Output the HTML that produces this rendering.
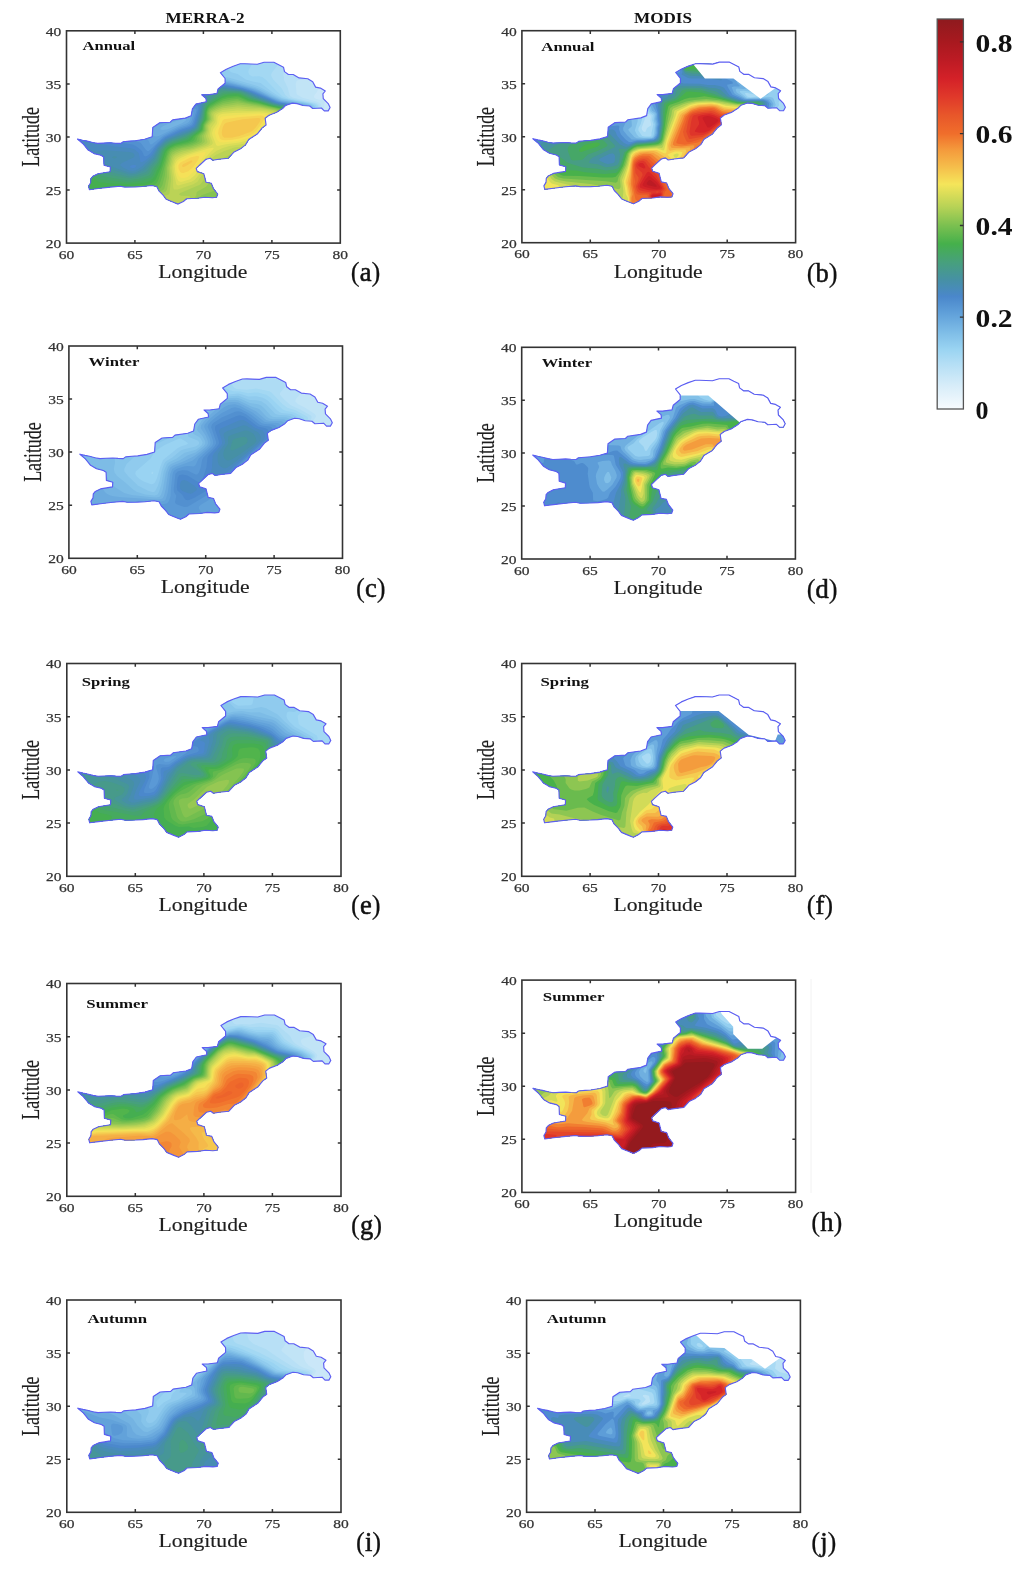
<!DOCTYPE html>
<html><head><meta charset="utf-8"><style>
html,body{margin:0;padding:0;background:#fff;width:1030px;height:1576px;overflow:hidden}
svg{display:block;filter:blur(0.45px)}
text{font-family:"Liberation Serif",serif;fill:#222}
.tl text{font-size:13.5px;fill:#333;stroke:#333;stroke-width:0.25px}
.ax{font-size:18.4px;fill:#1e1e1e;stroke:#1e1e1e;stroke-width:0.15px}
.pl{font-size:26.5px;fill:#111;stroke:#111;stroke-width:0.2px}
.pll{stroke:#111;stroke-width:0.55px}
.sn{font-size:12.8px;font-weight:bold;fill:#111}
.ttl{font-size:14px;font-weight:bold;fill:#111}
.cbt{font-size:25px;font-weight:bold;fill:#111}
</style></head><body>
<svg width="1030" height="1576" viewBox="0 0 1030 1576">
<text class="ttl" x="205" y="22.8" text-anchor="middle" textLength="79" lengthAdjust="spacingAndGlyphs">MERRA-2</text>
<text class="ttl" x="663" y="22.8" text-anchor="middle" textLength="58" lengthAdjust="spacingAndGlyphs">MODIS</text>
<clipPath id="ca"><path d="M77.5 139 L82.6 140.2 L87.1 141.1 L92.6 142.5 L97.6 143.4 L103.6 143.1 L110.4 142.8 L115.6 143.2 L120.9 143.4 L123.2 141.7 L129.6 141.1 L135.3 140.7 L144.6 139.2 L152.2 136.8 L152.8 127.4 L159.7 122.8 L170.2 122.2 L172.6 119.9 L185.4 118.1 L191.2 115.8 L192.4 108.8 L195.9 104.1 L206.4 101.8 L205.9 98.3 L201.7 94.8 L207.6 94.8 L216.9 93.6 L218.1 89 L225.1 83.2 L225.1 78.5 L220.4 72.7 L226.3 69.2 L233.2 66.3 L240.2 63.8 L244.7 63.7 L257.3 64.2 L264.1 62.2 L273.8 62.2 L278.7 64.7 L283.5 67.2 L284.5 71.6 L288.4 74.5 L293.2 74.5 L299.1 77.9 L307.8 78.8 L312.7 81.8 L315.6 87.1 L320.4 88.1 L325.3 91 L322.9 93.9 L323.3 98.7 L328.2 103.6 L330.1 107.5 L328.2 110.9 L324.3 110.9 L321.4 108 L312.7 108.5 L309.7 106 L303 105.5 L297.1 103.6 L292.3 103.1 L285.5 105.5 L282.6 108.5 L276.7 112.3 L269 115.2 L265.1 118.2 L266.1 125 L262.2 127.9 L257.2 134.1 L248.7 139.5 L245.5 144.9 L240.1 149.1 L233.7 152.3 L228.4 158.2 L218.8 159.3 L212.9 160.3 L210.2 158.2 L206 159.3 L199.5 165.2 L196.2 168.4 L197.3 171.6 L203.8 173.7 L204.9 178 L206 182.2 L211.3 183.3 L213.4 188.6 L217.7 194 L216.6 197.2 L212.4 197.7 L204.9 197.2 L197.3 198.3 L186.6 198.8 L183.4 201.5 L178.1 204.1 L172.8 202 L166.3 199.3 L163.1 195.1 L158.9 190.8 L156.7 186.5 L151.6 185.5 L142.6 186.5 L135.3 186.9 L124.9 187.1 L120.3 186.2 L110.4 187.1 L98.1 188.5 L89.4 189.7 L88.5 186.2 L90.6 182.7 L90.9 178.6 L92.9 176.3 L98.1 173.7 L110.1 171.7 L110.4 167 L104 165.2 L103.7 157.1 L101 155.3 L94.1 153.6 L88.2 150.1 L83 143.7Z"/></clipPath>
<g clip-path="url(#ca)">
<path d="M77.5 139 L82.6 140.2 L87.1 141.1 L92.6 142.5 L97.6 143.4 L103.6 143.1 L110.4 142.8 L115.6 143.2 L120.9 143.4 L123.2 141.7 L129.6 141.1 L135.3 140.7 L144.6 139.2 L152.2 136.8 L152.8 127.4 L159.7 122.8 L170.2 122.2 L172.6 119.9 L185.4 118.1 L191.2 115.8 L192.4 108.8 L195.9 104.1 L206.4 101.8 L205.9 98.3 L201.7 94.8 L207.6 94.8 L216.9 93.6 L218.1 89 L225.1 83.2 L225.1 78.5 L220.4 72.7 L226.3 69.2 L233.2 66.3 L240.2 63.8 L244.7 63.7 L257.3 64.2 L264.1 62.2 L273.8 62.2 L278.7 64.7 L283.5 67.2 L284.5 71.6 L288.4 74.5 L293.2 74.5 L299.1 77.9 L307.8 78.8 L312.7 81.8 L315.6 87.1 L320.4 88.1 L325.3 91 L322.9 93.9 L323.3 98.7 L328.2 103.6 L330.1 107.5 L328.2 110.9 L324.3 110.9 L321.4 108 L312.7 108.5 L309.7 106 L303 105.5 L297.1 103.6 L292.3 103.1 L285.5 105.5 L282.6 108.5 L276.7 112.3 L269 115.2 L265.1 118.2 L266.1 125 L262.2 127.9 L257.2 134.1 L248.7 139.5 L245.5 144.9 L240.1 149.1 L233.7 152.3 L228.4 158.2 L218.8 159.3 L212.9 160.3 L210.2 158.2 L206 159.3 L199.5 165.2 L196.2 168.4 L197.3 171.6 L203.8 173.7 L204.9 178 L206 182.2 L211.3 183.3 L213.4 188.6 L217.7 194 L216.6 197.2 L212.4 197.7 L204.9 197.2 L197.3 198.3 L186.6 198.8 L183.4 201.5 L178.1 204.1 L172.8 202 L166.3 199.3 L163.1 195.1 L158.9 190.8 L156.7 186.5 L151.6 185.5 L142.6 186.5 L135.3 186.9 L124.9 187.1 L120.3 186.2 L110.4 187.1 L98.1 188.5 L89.4 189.7 L88.5 186.2 L90.6 182.7 L90.9 178.6 L92.9 176.3 L98.1 173.7 L110.1 171.7 L110.4 167 L104 165.2 L103.7 157.1 L101 155.3 L94.1 153.6 L88.2 150.1 L83 143.7Z" fill="#cae7f8"/>
<path fill-rule="evenodd" d="M176.8 205.9 179.6 205.9 187.6 201.3 218.2 199.1 220.1 193.4 213.4 182 208 180.1 205.7 172.2 199.1 169.1 207.2 161.5 213 162.8 229.8 160.2 267.9 126.7 267.8 119.3 270.2 117.4 292.6 105.6 308.7 108.4 312.4 111 320.4 110.6 321.3 111.3 324.1 107.9 324.4 102.8 326.9 99.2 326.3 98.5 319.8 99.7 316.3 98.9 314.3 97.7 314 96.4 314.5 95.1 316.6 92.6 317.7 90 316.9 84.6 308.9 76.5 289.2 72 285 65.2 274.2 59.8 239.9 61.4 218.5 71 222.6 82 216.1 87.4 214.9 91.3 200 93 199.5 95.9 203.5 99.9 194.3 102.2 189 114 158.6 120.6 150.7 126.1 149.8 135 120.1 140.8 97.8 140.8 78.1 136.5 75.3 137.7 75.7 140.7 86.7 152.1 101.3 158.4 101.8 166.4 107.8 168.9 91 174.7 86 185.9 87.9 191.7 151.5 188 155.1 188.7 164.9 201.4Z" fill="#c1e4f6"/>
<path fill-rule="evenodd" d="M176.8 205.9 179.6 205.9 187.6 201.3 218.2 199.1 220.1 193.4 213.4 182 208 180.1 205.7 172.2 199.1 169.1 207.2 161.5 213 162.8 229.8 160.2 267.9 126.7 267.8 119.3 270.2 117.4 292.6 105.6 308.7 108.4 312.4 111 319.1 110.6 321.6 106.6 320.8 104 319.8 103.1 314.8 101 302.5 97.7 297.8 95.1 296.6 93.9 295.7 83.7 296.6 81.1 298.4 80 303.3 79.7 309.8 77.5 308.9 76.5 289.2 72 285 65.2 274.2 59.8 239.9 61.4 218.5 71 222.6 82 216.1 87.4 214.9 91.3 200 93 199.5 95.9 203.5 99.9 194.3 102.2 189 114 158.6 120.6 150.7 126.1 149.8 135 120.1 140.8 97.8 140.8 78.1 136.5 75.3 137.7 75.7 140.7 86.7 152.1 101.3 158.4 101.8 166.4 107.8 168.9 91 174.7 86 185.9 87.9 191.7 151.5 188 155.1 188.7 164.9 201.4Z" fill="#b8e0f6"/>
<path fill-rule="evenodd" d="M176.8 205.9 179.6 205.9 187.6 201.3 218.2 199.1 220.1 193.4 213.4 182 208 180.1 205.7 172.2 199.1 169.1 207.2 161.5 213 162.8 229.8 160.2 267.9 126.7 267.8 119.3 270.2 117.4 292.6 105.6 308.7 108.4 312.4 111 317.3 110.7 318.7 109.1 319.8 106.6 319.5 105.3 316.5 102.9 293.1 97.7 290.6 96.4 289.6 95.1 287.6 87.5 283.9 79.8 284 77.3 283.2 74.7 284.4 69.7 284.5 64.9 274.2 59.8 239.9 61.4 218.5 71 222.6 82 216.1 87.4 214.9 91.3 200 93 199.5 95.9 203.5 99.9 194.3 102.2 189 114 158.6 120.6 150.7 126.1 149.8 135 120.1 140.8 97.8 140.8 78.1 136.5 75.3 137.7 75.7 140.7 86.7 152.1 101.3 158.4 101.8 166.4 107.8 168.9 91 174.7 86 185.9 87.9 191.7 151.5 188 155.1 188.7 164.9 201.4Z" fill="#aedcf4"/>
<path fill-rule="evenodd" d="M176.8 205.9 179.6 205.9 187.6 201.3 218.2 199.1 220.1 193.4 213.4 182 208 180.1 205.7 172.2 199.1 169.1 207.2 161.5 213 162.8 229.8 160.2 267.9 126.7 267.8 119.3 270.2 117.4 292.6 105.6 308.7 108.4 312.4 111 315.8 110.8 317.2 109.1 318.1 106.6 317.7 105.3 314.8 103.4 293 98.9 288.7 97.7 285.3 95.1 282 88.8 273.4 79.8 271.3 76 271.1 74.7 272.1 72.3 279.9 62.6 274.2 59.8 239.9 61.4 218.5 71 222.6 82 216.1 87.4 214.9 91.3 200 93 199.5 95.9 203.5 99.9 194.3 102.2 189 114 158.6 120.6 150.7 126.1 149.8 135 120.1 140.8 97.8 140.8 78.1 136.5 75.3 137.7 75.7 140.7 86.7 152.1 101.3 158.4 101.8 166.4 107.8 168.9 91 174.7 86 185.9 87.9 191.7 151.5 188 155.1 188.7 164.9 201.4Z" fill="#a3d8f3"/>
<path fill-rule="evenodd" d="M176.8 205.9 179.6 205.9 187.6 201.3 218.2 199.1 220.1 193.4 213.4 182 208 180.1 205.7 172.2 199.1 169.1 207.2 161.5 213 162.8 229.8 160.2 267.9 126.7 267.8 119.3 270.2 117.4 292.6 105.6 308.7 108.4 312.4 111 314.5 110.9 315.8 109.1 316.6 106.6 315.9 105.3 311.6 103.3 289 98.9 282.6 96.4 276.9 91.3 265.6 79.6 262.3 76.9 259 76.3 252.4 76.5 249.4 74.7 248.3 72.2 248.7 69.7 252.6 63.3 253.2 60.8 239.9 61.4 218.5 71 222.6 82 216.1 87.4 214.9 91.3 200 93 199.5 95.9 203.5 99.9 194.3 102.2 189 114 158.6 120.6 150.7 126.1 149.8 135 120.1 140.8 97.8 140.8 78.1 136.5 75.3 137.7 75.7 140.7 86.7 152.1 101.3 158.4 101.8 166.4 107.8 168.9 91 174.7 86 185.9 87.9 191.7 151.5 188 155.1 188.7 164.9 201.4Z" fill="#99d3f2"/>
<path fill-rule="evenodd" d="M176.8 205.9 179.6 205.9 187.6 201.3 218.2 199.1 220.1 193.4 213.4 182 208 180.1 205.7 172.2 199.1 169.1 207.2 161.5 213 162.8 229.8 160.2 267.9 126.7 267.8 119.3 270.2 117.4 292.6 105.6 308.7 108.4 312.4 111 313.1 110.9 314.4 109.1 315 107.9 314.8 106.4 313.2 104.8 309.9 103.6 286.9 99.3 281.7 97.7 272.8 92.6 260.6 82.9 252.4 81.6 245.8 79.6 237.6 74 231.1 72.2 226.1 67.6 218.5 71 222.6 82 216.1 87.4 214.9 91.3 200 93 199.5 95.9 203.5 99.9 194.3 102.2 189 114 158.6 120.6 150.7 126.1 149.8 135 120.1 140.8 97.8 140.8 78.1 136.5 75.3 137.7 75.7 140.7 86.7 152.1 101.3 158.4 101.8 166.4 107.8 168.9 91 174.7 86 185.9 87.9 191.7 151.5 188 155.1 188.7 164.9 201.4Z" fill="#90cbee"/>
<path fill-rule="evenodd" d="M176.8 205.9 179.6 205.9 187.6 201.3 218.2 199.1 220.1 193.4 213.4 182 208 180.1 205.7 172.2 199.1 169.1 207.2 161.5 213 162.8 229.8 160.2 267.9 126.7 267.8 119.3 270.2 117.4 292.6 105.6 308.7 108.4 312 110.7 313.5 107.9 313.3 106.6 312.1 105.3 308.3 103.8 282 98.8 273.8 95.1 262.3 88.2 257.3 86 229.4 77.8 224.5 76.9 220.7 76.9 222.6 82 216.1 87.4 214.9 91.3 200 93 199.5 95.9 203.5 99.9 194.3 102.2 189 114 158.6 120.6 150.7 126.1 149.8 135 120.1 140.8 97.8 140.8 78.1 136.5 75.3 137.7 75.7 140.7 86.7 152.1 101.3 158.4 101.8 166.4 107.8 168.9 91 174.7 86 185.9 87.9 191.7 151.5 188 155.1 188.7 164.9 201.4Z" fill="#86c4ea"/>
<path fill-rule="evenodd" d="M176.8 205.9 179.6 205.9 187.6 201.3 218.2 199.1 220.1 193.4 213.4 182 208 180.1 205.7 172.2 199.1 169.1 207.2 161.5 213 162.8 229.8 160.2 267.9 126.7 267.8 119.3 270.2 117.4 292.6 105.6 308.7 108.4 311.1 110.1 312 107.9 311.7 106.6 310.2 105.3 306.4 104 284.1 100.2 280.3 99.2 271.4 95.1 260.6 89.2 254.1 86.7 227.8 79.6 222.8 79.4 221.7 79.7 222.6 82 216.1 87.4 214.9 91.3 200 93 199.5 95.9 203.5 99.9 194.3 102.2 189 114 158.6 120.6 150.7 126.1 149.8 135 120.1 140.8 97.8 140.8 78.1 136.5 75.3 137.7 75.7 140.7 86.7 152.1 101.3 158.4 101.8 166.4 107.8 168.9 91 174.7 86 185.9 87.9 191.7 151.5 188 155.1 188.7 164.9 201.4Z" fill="#7dbce6"/>
<path fill-rule="evenodd" d="M176.8 205.9 179.6 205.9 187.6 201.3 218.2 199.1 220.1 193.4 213.4 182 208 180.1 205.7 172.2 199.1 169.1 207.2 161.5 213 162.8 229.8 160.2 267.9 126.7 267.8 119.3 270.2 117.4 292.6 105.6 308.7 108.4 310.1 109.4 310.5 107.9 310 106.6 308.1 105.3 303.7 104 281.2 100.2 271.8 96.4 255.7 88.4 227.8 80.8 222.8 80.6 222.1 80.8 222.6 82 216.1 87.4 214.9 91.3 200 93 199.5 95.9 203.5 99.9 194.3 102.2 189 114 158.6 120.6 150.7 126.1 149.8 135 120.1 140.8 97.8 140.8 78.1 136.5 75.3 137.7 75.7 140.7 86.7 152.1 101.3 158.4 101.8 166.4 107.8 168.9 91 174.7 86 185.9 87.9 191.7 151.5 188 155.1 188.7 164.9 201.4Z" fill="#74b3e2"/>
<path fill-rule="evenodd" d="M176.8 205.9 179.6 205.9 187.6 201.3 218.2 199.1 220.1 193.4 213.4 182 208 180.1 205.7 172.2 199.1 169.1 207.2 161.5 213 162.8 229.8 160.2 267.9 126.7 267.8 119.3 270.2 117.4 292.6 105.6 308.9 108.5 308.3 106.6 305.9 105.3 301.7 104.2 280.3 100.7 269.9 96.4 259 90.8 252.4 88.4 227.8 81.9 222.8 81.6 216.1 87.4 214.9 91.3 200 93 199.5 95.9 203.5 99.9 194.3 102.2 189 114 158.6 120.6 150.7 126.1 149.8 135 120.1 140.8 97.8 140.8 78.1 136.5 75.3 137.7 75.7 140.7 86.7 152.1 101.3 158.4 101.8 166.4 107.8 168.9 91 174.7 86 185.9 87.9 191.7 151.5 188 155.1 188.7 164.9 201.4ZM160.4 128.1 163.6 125.7 173.2 121.9 181.8 119.3 185.1 118.8 186.4 119.3 185.9 120.6 182 123.2 167 129.6 162.1 130.1 160.6 129.5Z" fill="#6baade"/>
<path fill-rule="evenodd" d="M176.8 205.9 179.6 205.9 187.6 201.3 218.2 199.1 220.1 193.4 213.4 182 208 180.1 205.7 172.2 199.1 169.1 207.2 161.5 213 162.8 229.8 160.2 267.9 126.7 267.8 119.3 270.2 117.4 292.6 105.6 307.4 108.2 306.6 106.8 303.6 105.3 300.1 104.5 280.3 101.4 270.9 97.7 259 91.9 252.4 89.3 239.3 85.5 226.1 82.6 222.8 82.5 221.7 82.7 216.1 87.4 214.9 91.3 200 93 199.5 95.9 203.5 99.9 194.3 102.2 189 114 158.6 120.6 150.7 126.1 150.6 127.8 162.5 123.2 183.4 116.1 188.3 115 190.3 115.5 190.6 116.8 190 120 188.8 121.9 187 123.2 176.8 127.2 158.8 136 155.5 136.4 149.9 134.3 149.8 135 120.1 140.8 97.8 140.8 78.1 136.5 75.3 137.7 75.7 140.7 86.7 152.1 101.3 158.4 101.8 166.4 107.8 168.9 91 174.7 86 185.9 87.9 191.7 151.5 188 155.1 188.7 164.9 201.4Z" fill="#62a2da"/>
<path fill-rule="evenodd" d="M176.8 205.9 179.6 205.9 187.6 201.3 218.2 199.1 220.1 193.4 213.4 182 208 180.1 205.7 172.2 199.1 169.1 207.2 161.5 213 162.8 229.8 160.2 267.9 126.7 267.8 119.3 270.2 117.4 292.6 105.6 305.8 107.9 304.6 106.6 301.2 105.3 278.5 101.5 255.7 91.4 245.8 88.1 227.8 83.8 222.8 83.4 220.4 83.8 216.1 87.4 214.9 91.3 200 93 199.5 95.9 203.5 99.9 194.3 102.2 190 111.8 192.5 111.7 193.3 112 193.7 113 191.6 120.9 190 123.5 186.7 125.2 178.5 128 163.7 135.3 152.2 144.1 150.6 144.5 149.7 143.5 148.9 141 147.3 139.3 138.8 137.1 120.1 140.8 97.8 140.8 78.1 136.5 75.3 137.7 75.7 140.7 86.7 152.1 101.3 158.4 101.8 166.4 107.8 168.9 91 174.7 86 185.9 87.9 191.7 151.5 188 155.1 188.7 164.9 201.4ZM154 123.8 159.6 121.9 171.8 117.8 158.6 120.6Z" fill="#5a99d6"/>
<path fill-rule="evenodd" d="M176.8 205.9 179.6 205.9 187.6 201.3 218.2 199.1 220.1 193.4 213.4 182 208 180.1 205.7 172.2 199.1 169.1 207.2 161.5 213 162.8 229.8 160.2 267.9 126.7 267.8 119.3 270.2 117.4 292.6 105.6 303.8 107.6 302.6 106.6 298.6 105.3 281.4 102.8 277.1 101.6 253.3 91.3 242.6 87.9 226.1 84.4 221.2 84.4 219.1 84.9 216.1 87.4 214.9 91.3 200 93 199.5 95.9 203.5 99.9 194.3 102.2 191.2 109 194.9 108.4 196.1 109.1 196.5 110.4 192.9 121.9 191.6 124.4 188.3 126.2 178.5 129.5 163.7 136.8 148.9 150.9 147.3 150.9 145.6 149.5 140.7 142.7 135.8 140.9 127 139.5 120.1 140.8 97.8 140.8 78.1 136.5 75.3 137.7 75.7 140.7 86.7 152.1 101.3 158.4 101.8 166.4 107.8 168.9 91 174.7 86 185.9 87.9 191.7 151.5 188 155.1 188.7 164.9 201.4Z" fill="#5290d0"/>
<path fill-rule="evenodd" d="M176.8 205.9 179.6 205.9 187.6 201.3 218.2 199.1 220.1 193.4 213.4 182 208 180.1 205.7 172.2 199.1 169.1 207.2 161.5 213 162.8 229.8 160.2 267.9 126.7 267.8 119.3 270.2 117.4 292.6 105.6 301.5 107.2 295.9 105.3 277.1 102.3 252.4 91.8 242.6 88.6 226.1 85.3 221.2 85.2 217.8 86 216.1 87.4 214.9 91.3 200 93 199.5 95.9 203.5 99.9 194.3 102.2 192.4 106.4 196.6 105.5 198.2 106.6 198.4 109.1 194 123.2 192.4 125.7 190 127.1 180.1 130.3 165.3 137.2 162 139.7 155.7 146.1 150.6 153.2 147.3 155.8 145.6 156.4 144 155.8 142.3 151.8 140.7 149.7 135.8 145.9 132.5 144.6 109.6 140.8 97.8 140.8 78.1 136.5 75.3 137.7 75.7 140.7 86.7 152.1 101.3 158.4 101.8 166.4 107.8 168.9 91 174.7 86 185.9 87.9 191.7 151.5 188 155.1 188.7 164.9 201.4Z" fill="#4b88cc"/>
<path fill-rule="evenodd" d="M176.8 205.9 179.6 205.9 187.6 201.3 218.2 199.1 220.1 193.4 213.4 182 208 180.1 205.7 172.2 199.1 169.1 207.2 161.5 213 162.8 229.8 160.2 267.9 126.7 267.8 119.3 270.2 117.4 292.6 105.6 298.5 106.7 293.1 105.3 276.6 102.8 250.8 92 240.9 88.9 224.5 86 221.2 86.1 216.4 87.2 214.9 91.3 202.2 92.8 199.9 93.7 199.5 95.9 203.5 99.9 194.3 102.2 193.5 103.9 198.2 102.9 199.5 104 199.9 106.6 198.4 114.2 194.9 124.4 193.3 126.7 190 128.5 180.1 131.8 165.3 138.5 156.2 147.4 152.5 153.7 150.6 156 145.6 160.3 142.3 162.1 140.7 161.9 140.3 161.4 139.3 155 138.3 152.4 134.1 149.2 130.8 148.3 112.8 146.2 94.7 143.1 79.9 138.9 75.9 138.4 75.3 137.7 75.7 140.7 86.7 152.1 101.3 158.4 101.8 166.4 107.8 168.9 91 174.7 86 185.9 87.9 191.7 151.5 188 155.1 188.7 164.9 201.4ZM134.1 164.7 136.1 165.2 136.2 166.5 134.8 167.7 132.5 168.3 130.5 167.7 129.9 166.5 130.8 165.5Z" fill="#498abf"/>
<path fill-rule="evenodd" d="M176.8 205.9 179.6 205.9 187.6 201.3 218.2 199.1 220.1 193.4 213.4 182 208 180.1 205.7 172.2 199.1 169.1 207.2 161.5 213 162.8 229.8 160.2 267.9 126.7 267.8 119.3 270.2 117.4 292.4 105.8 280.3 104.2 275.4 103 249.1 92.1 240.9 89.5 224.5 86.9 217.9 87.5 215.9 88.1 214.9 91.3 205 92.4 199.7 94.8 199.5 95.9 203.5 99.9 200.2 100.7 201 101.5 201.3 102.8 200.1 111.7 196.5 123.2 194.6 127 190 129.7 181.8 132.6 165.3 139.8 157.7 147.4 153.8 154.6 151.6 157.5 142 166.5 136 170.3 132.5 171.1 129.2 170.6 123.2 167.7 120.2 165.2 120.7 163.9 122.8 162.6 133.6 157.5 134.5 156.3 134.5 155 133.9 153.7 132.5 152.7 129.2 152.1 104.6 150.2 101.3 150.4 96.3 151.9 89.8 149.5 88.1 149.5 86.5 151 86.2 151.6 86.7 152.1 101.3 158.4 101.8 166.4 107.8 168.9 91 174.7 86 185.9 87.9 191.7 151.5 188 155.1 188.7 164.9 201.4Z" fill="#478db2"/>
<path fill-rule="evenodd" d="M176.8 205.9 179.6 205.9 187.6 201.3 218.2 199.1 220.1 193.4 213.4 182 208 180.1 205.7 172.2 199.1 169.1 207.2 161.5 213 162.8 229.8 160.2 267.9 126.7 267.8 119.3 270.2 117.4 291.6 106.2 278.7 104.4 273.8 103 256.6 96.4 248.3 92.6 240.9 90.1 222.8 87.8 215.6 89 214.9 91.3 208.2 92.1 200.2 96.4 203.1 97.9 203.5 99.9 199.8 116.4 196.6 125.7 194.9 128 190 130.9 168.6 139.2 165.3 141.2 158.1 148.6 153.8 157.5 142.5 169 135.8 172.3 132.5 173 129.2 172.8 111.3 166.5 101.5 161.7 101.8 166.4 107.8 168.9 91 174.7 86 185.9 87.9 191.7 151.5 188 155.1 188.7 164.9 201.4ZM114.4 158.4 117.1 157.5 115.6 156.3 113.7 156.3 112 157.5Z" fill="#4690a5"/>
<path fill-rule="evenodd" d="M176.8 205.9 179.6 205.9 187.6 201.3 218.2 199.1 220.1 193.4 213.4 182 208 180.1 205.7 172.2 199.1 169.1 207.2 161.5 213 162.8 229.8 160.2 267.9 126.7 267.8 119.3 270.2 117.4 290.8 106.6 278.7 104.9 273.8 103.6 254.3 96.4 246.3 92.6 240.9 90.8 222.8 88.8 215.5 90 214.9 91.3 211.7 91.7 208.8 93.9 208.5 96.4 204.5 101.5 203.1 105.3 200.4 118.1 196.9 127 196 128.2 188.3 132.7 170.2 139.7 165.3 142.5 159.5 148.6 154.9 158.8 144.5 170.3 135.8 174.1 129.2 174.8 121 172 111.1 169.6 101.8 166 107.8 168.9 91 174.7 86 185.9 87.9 191.7 151.5 188 155.1 188.7 164.9 201.4Z" fill="#469698"/>
<path fill-rule="evenodd" d="M176.8 205.9 179.6 205.9 187.6 201.3 218.2 199.1 220.1 193.4 213.4 182 208 180.1 205.7 172.2 199.1 169.1 207.2 161.5 213 162.8 229.8 160.2 267.9 126.7 267.8 119.3 270.2 117.4 290 107 273.4 104 254.1 97.2 244.3 92.6 240.3 91.3 222.8 89.9 219.6 90.2 216 91.3 214 92.6 211.9 96.4 206.4 101 204.8 103.2 203.3 107.9 201.4 118.1 197.2 128.2 194.9 130.2 188.3 133.8 180.8 137.2 170.3 140.9 165.3 144 160 149.9 157.1 158 155.5 160.8 150.1 166.5 147.3 170.8 145.6 172.3 135.8 175.8 129.2 176.7 103.8 170.2 91 174.7 86 185.9 87.9 191.7 151.5 188 155.1 188.7 164.9 201.4Z" fill="#479a8a"/>
<path fill-rule="evenodd" d="M176.8 205.9 179.6 205.9 187.6 201.3 218.2 199.1 220.1 193.4 213.4 182 208 180.1 205.7 172.2 199.1 169.1 207.2 161.5 213 162.8 229.8 160.2 267.9 126.7 267.8 119.3 270.2 117.4 289.2 107.5 277.1 105.5 271.5 104 252.4 97.6 242.6 92.7 239.3 91.8 224.5 91 219.6 92 214.7 96.4 207.6 101.5 205.5 104 203.7 109.1 202.3 118.1 198.2 128.4 195.4 130.8 185.1 136.7 171.9 141.3 168.6 142.9 165.3 145.4 161.4 149.9 157.1 161.4 151.6 167.7 148.9 172.5 147.3 174 137.4 177.2 129.2 178.6 109.5 174.7 99.3 171.8 91 174.7 86 185.9 87.9 191.7 151.5 188 155.1 188.7 164.9 201.4Z" fill="#47a07d"/>
<path fill-rule="evenodd" d="M176.8 205.9 179.6 205.9 187.6 201.3 218.2 199.1 220.1 193.4 213.4 182 208 180.1 205.7 172.2 199.1 169.1 207.2 161.5 213 162.8 229.8 160.2 267.9 126.7 267.8 119.3 270.2 117.4 288.4 107.9 277.1 105.9 269.7 104 250.8 97.9 243 93.9 239.3 92.5 227.8 92.2 222.8 92.7 209.5 101.5 206.4 104.2 204.5 109.1 202.9 119.3 198.5 129.5 185.1 138.1 173.6 141.8 169.9 143.5 167 145.4 163.7 148.6 162.1 151.2 158.1 162.6 153.1 169 150.6 174.1 148.9 175.7 140.7 178.4 127.6 180.5 101.3 175.9 95.4 173.1 91 174.7 86 185.9 87.9 191.7 151.5 188 155.1 188.7 164.9 201.4Z" fill="#46a46e"/>
<path fill-rule="evenodd" d="M176.8 205.9 179.6 205.9 187.6 201.3 218.2 199.1 220.1 193.4 213.4 182 208 180.1 205.7 172.2 199.1 169.1 207.2 161.5 213 162.8 229.8 160.2 267.9 126.7 267.8 119.3 270.2 117.4 287.4 108.4 272.3 105.3 259 101 250.8 98.9 239.3 93.5 234.3 93.1 224.5 93.9 221.2 95.4 209.7 102.7 206.9 105.3 204.9 110.4 203.8 119.3 201.1 124.4 199.8 129.1 198.3 130.8 186.7 138.9 172.3 143.5 168.6 145.6 165.1 148.6 162.9 152.4 159.1 163.9 155.5 169 152.5 175.4 150.6 177.4 142.3 180.6 130.8 182.2 125.9 182.3 101.3 179.2 99.6 178.7 91.9 174.4 91 174.7 86 185.9 87.9 191.7 151.5 188 155.1 188.7 164.9 201.4Z" fill="#46aa5f"/>
<path fill-rule="evenodd" d="M112.7 189.4 116.1 188.4 123.1 189.7 151.5 188 155.1 188.7 164.9 201.4 176.8 205.9 179.6 205.9 187.6 201.3 218.2 199.1 220.1 193.4 213.4 182 208 180.1 205.7 172.2 199.1 169.1 207.2 161.5 213 162.8 229.8 160.2 267.9 126.7 267.8 119.3 270.2 117.4 286.5 108.8 270.5 105.4 259 101.7 250.8 99.9 245.8 98 240.6 95.1 237.6 94.3 227.8 94.8 222.8 96.2 209.7 104 207.1 106.6 205.3 111.7 204.7 119.3 201.8 124.4 201.2 128.2 199.6 130.8 192.4 135.9 188.3 139.8 173.6 144.2 168.6 146.9 165.5 149.9 164.2 152.4 160.4 164.7 157.1 170.3 154.4 176.7 152.2 179.3 147.3 181.9 140.7 183.3 127.6 184.1 111.1 183.5 99.6 182.2 98 181.6 93.9 177.9 90.4 176 86 185.9 87.9 191.7 112.3 190.3Z" fill="#45ae50"/>
<path fill-rule="evenodd" d="M176.8 205.9 179.6 205.9 187.6 201.3 218.2 199.1 220.1 193.4 213.4 182 208 180.1 205.7 172.2 199.1 169.1 207.2 161.5 213 162.8 229.8 160.2 267.9 126.7 267.8 119.3 270.2 117.4 285.5 109.4 268.8 105.5 259 102.4 249.1 100.4 237.6 95.7 227.8 96.4 221.2 98.6 209.7 105.3 207.4 107.9 205.8 113 205.7 119.3 202.6 124.4 201.8 129.5 200.9 130.8 194.1 135.9 191.5 139.7 190 140.8 186.7 142.1 175.2 144.7 170.3 147.2 167 149.9 165.3 153 161.2 166.5 155.8 179.2 153.8 181.6 150.6 183.6 147.3 184.6 123.4 186.8 130.1 189.3 151.5 188 155.1 188.7 164.9 201.4Z" fill="#51b44c"/>
<path fill-rule="evenodd" d="M176.8 205.9 179.6 205.9 187.6 201.3 218.2 199.1 220.1 193.4 213.4 182 208 180.1 205.7 172.2 199.1 169.1 207.2 161.5 213 162.8 229.8 160.2 267.9 126.7 267.8 119.3 270.2 117.4 284.4 109.9 282.9 109.1 268.8 106 259 103.2 247.5 101 239.3 97.6 236 97.2 227.8 98.2 222.8 99.5 216.3 102.7 209.7 106.7 208.1 108.5 206.8 111.7 206.7 119.3 203.4 124.4 202.8 129.5 201.5 131.4 195.9 135.9 194.3 139.7 193.3 140.9 188.3 143.1 175.2 146.1 170.3 148.6 167.6 151.2 158.6 179.2 156.8 183 153.8 185.2 150.6 186.3 136.4 188.1 137.2 188.9 151.5 188 155.1 188.7 164.9 201.4Z" fill="#62b84e"/>
<path fill-rule="evenodd" d="M176.8 205.9 179.6 205.9 187.6 201.3 218.2 199.1 220.1 193.4 213.4 182 208 180.1 205.7 172.2 199.1 169.1 207.2 161.5 213 162.8 229.8 160.2 267.9 126.7 267.8 119.3 270.2 117.4 283.4 110.4 280.4 109.1 259 104 245.8 101.6 237.6 98.9 231.1 99.4 222.8 101.2 216.3 104.2 209.7 108.2 208.1 110.4 207.3 113 207.7 119.3 204.2 124.4 203.3 130.8 197.8 135.9 196.4 141 194.6 142.3 190 144.1 176.8 146.9 171.9 149.1 169.3 151.2 167 156.3 162.4 175.4 159.6 184.3 157.1 186.8 152.5 188.2 155.1 188.7 164.9 201.4Z" fill="#73be4f"/>
<path fill-rule="evenodd" d="M176.8 205.9 179.6 205.9 187.6 201.3 218.2 199.1 220.1 193.4 213.4 182 208 180.1 205.7 172.2 199.1 169.1 207.2 161.5 213 162.8 229.8 160.2 267.9 126.7 267.8 119.3 270.2 117.4 282.1 111.2 281.5 110.4 277.9 109.1 259 104.8 247.5 103 237.6 100.6 232.7 101 222.8 102.9 214.6 106.6 209.7 109.8 208.2 113 208.8 119.3 204.8 125.2 204.4 130.8 199.7 135.9 199.4 141 196.6 143.1 191.6 145 176.8 148.4 171.9 150.8 170.1 152.4 168.6 155.7 165.7 166.5 164.8 175.4 162.3 185.6 160.6 188.1 156.1 190.1 164.9 201.4Z" fill="#84c351"/>
<path fill-rule="evenodd" d="M176.8 205.9 179.6 205.9 187.6 201.3 196.1 200.7 201.5 195.3 213 191.3 214.6 190.2 216.8 187.9 213.4 182 208 180.1 205.7 172.2 199.1 169.1 207.2 161.5 213 162.8 229.8 160.2 267.9 126.7 267.8 119.3 270.2 117.4 280.8 111.7 279.4 110.4 275.2 109.1 257.3 105.4 237.6 102.3 222.8 104.7 216.3 107.3 210.9 110.4 209.3 113 209.9 119.3 206 124.4 205.5 125.7 205.5 130.8 201.6 135.9 202.2 141 201.5 142.3 199.5 143.5 191.6 146.5 181.3 148.6 175.2 150.8 171.9 152.8 169.9 156.3 166.9 167.7 166.9 176.7 164.5 188.1 163.7 189.4 162.1 190.6 157.7 192.1 164.9 201.4Z" fill="#97c853"/>
<path fill-rule="evenodd" d="M176.8 205.9 179.6 205.9 187.6 201.3 191.6 201 196.2 195.8 196.7 191.9 205.9 186.8 210.9 181.1 208 180.1 205.7 172.2 199.1 169.1 207.2 161.5 213 162.8 229.8 160.2 267.9 126.7 267.8 119.3 270.2 117.4 279.2 112.7 279 111.7 275.4 109.9 260.6 107 237.6 104.2 222.8 106.4 216.3 109 211.6 111.7 210.5 114.2 211.2 119.3 206.5 125.7 206.6 130.8 203.7 135.9 204.8 141 204.5 142.3 201.5 144.4 194.9 146.9 190 148.4 181.8 150.1 175.7 152.4 172.3 155 171.1 157.5 168.4 167.7 169 177.9 167 189.6 165.3 192 158.9 193.6 164.9 201.4Z" fill="#a9ce55"/>
<path fill-rule="evenodd" d="M176.8 205.9 179.6 205.9 187.7 201.3 190.3 197 190 196.4 188.3 196 181.3 195.8 179 194.5 179.8 193.2 199.8 184.8 202.6 181.7 206.6 175.3 205.7 172.2 199.1 169.1 207.2 161.5 213 162.8 218.4 162 224.5 157.2 231.1 154.3 232.7 154.2 233.5 155 233.8 156.7 267.9 126.7 267.8 119.3 270.2 117.4 277.3 113.7 277 111.7 273.8 110.3 260.6 108.1 237.6 106.2 222.8 108.2 217.9 109.9 213 112.6 212.1 114.2 212.6 118.1 212.2 120.6 207.8 125.7 207.8 130.8 205.8 135.9 207.4 141 207.4 142.3 206.6 143.5 203.1 145.4 193.3 148.9 183.4 151.2 178.5 153.1 174.9 155 173.5 156.3 172.2 158.8 170 167.7 171.1 179.2 169.5 193.2 168.6 194.4 167 195.3 160.8 196.1 164.9 201.4Z" fill="#bbd356"/>
<path fill-rule="evenodd" d="M177.6 189.4 193.3 184.2 197.5 181.7 204 171.4 199.1 169.1 207.2 161.5 209.4 162 212.5 157.5 215.7 155 223.8 151.2 234.3 147.4 237.6 147 240.9 147.4 241.9 149.6 265.6 128.7 267.9 125.5 267.8 119.3 275 114.9 275.4 112.9 274.2 111.7 272.1 111.1 262.3 109.5 249.1 109.2 237.6 108.3 222.8 110 215.3 113 214.1 114.2 213.8 115.5 213.9 120.6 209.7 125.6 209.2 127 209.1 130.8 207.9 135.9 209.9 141 209.7 143.5 208.1 144.9 203.1 146.9 180.1 154.2 175.2 157.1 173.6 159.6 171.5 167.7 173.1 179.2 173.1 186.8 173.6 188.7 174.4 189.4Z" fill="#cad857"/>
<path fill-rule="evenodd" d="M178.5 185.5 191.6 181.8 194.9 179.7 198.2 175.7 201.4 170.1 199.1 169.1 204.8 163.8 209.5 156.3 216.3 151 222.8 148.1 229.4 145.9 244.2 143.8 248.5 143.8 261.4 132.4 267.8 123.2 267.8 119.3 272.3 116.3 273.1 114.2 272.6 113 268.9 111.7 260.6 110.8 247.5 111 237.6 110.5 222.8 111.9 219.6 112.7 216.7 114.2 215.8 115.5 215.4 121.9 211.3 127.5 210.1 133.3 210.2 135.9 212.7 142.3 212.7 143.5 211.8 144.8 208.1 146.7 196.6 150.8 183.4 154.7 177.7 157.5 175.1 160.1 173.1 166.5 173.7 172.8 176.4 184.3 176.8 185Z" fill="#dadd58"/>
<path fill-rule="evenodd" d="M181.9 181.7 190 179.3 194.6 175.4 198.2 170.5 205.5 157.5 213.8 148.6 213 147.7 208.1 148.5 186.7 155.2 180.1 158.2 176.8 160.7 175.2 163.9 174.7 166.5 175.4 172.8 176.8 178 178.5 181 180.1 181.8ZM217.9 146 226.1 144.2 239.3 142.6 250.8 139.7 254.1 138.2 259 133.4 265.6 124 267.8 120.6 267.8 119.3 269.3 118.1 270 116.8 270.4 115.5 270 114.2 266.9 113 259 112.2 232.7 112.9 222.8 113.8 219.6 114.8 217.7 116.8 217.1 123.2 213 129.5 212.1 133.3 212.6 135.9 216.3 145.2Z" fill="#eae259"/>
<path fill-rule="evenodd" d="M181.8 177.9 185.1 177.7 187.9 176.7 193.3 172 196.6 167.9 205.8 152.4 204.8 152 201.5 152.5 188.7 156.3 178.5 161.6 176.5 165.2 176.7 170.3 178.5 175.4 180.1 177.3ZM222.8 142.4 237.6 141 249.1 137.8 254.1 135.8 257.3 132.9 264.1 123.2 267.1 118.1 267.2 115.5 264.3 114.2 259 113.8 227.8 115.7 221.2 116.7 220.1 118.1 218.8 124.4 215.2 130.8 214.8 133.3 215.9 137.2 217.9 140.8 219.6 142.1Z" fill="#f5e158"/>
<path fill-rule="evenodd" d="M183.4 173.1 188.3 171.2 193.3 167 198 160.1 199.1 157.5 199 156.3 196.6 156 190.4 157.5 180.1 162.8 178.4 165.2 178.5 168.7 180.1 171.8 181.8 172.9ZM224.5 140.2 232.3 139.7 239.3 138.4 249.1 135.4 253.7 133.3 257.3 129.6 262.3 122.5 264.1 119.3 264.2 116.8 262.3 115.8 259 115.6 240.9 117 224.1 119.3 222.6 120.6 218.7 129.5 218.1 133.3 219.9 138.4 221.5 139.7Z" fill="#f5d454"/>
<path fill-rule="evenodd" d="M185.1 166.6 191.6 162.6 192.4 161.4 191.6 160.3 183.5 163.9 182.2 165.2 182.1 166.5 183.4 167ZM224.5 137.7 231.1 137.7 239.3 136 250.8 131.8 252.5 130.8 255.7 127.5 259.7 121.9 260.6 119 259.1 118.1 257.3 118 242.6 119.3 226.1 122.7 224.5 124 222.8 127 221.8 132.1 222 134.6 222.8 136.6Z" fill="#f5c74e"/>
</g>
<path d="M77.5 139 L82.6 140.2 L87.1 141.1 L92.6 142.5 L97.6 143.4 L103.6 143.1 L110.4 142.8 L115.6 143.2 L120.9 143.4 L123.2 141.7 L129.6 141.1 L135.3 140.7 L144.6 139.2 L152.2 136.8 L152.8 127.4 L159.7 122.8 L170.2 122.2 L172.6 119.9 L185.4 118.1 L191.2 115.8 L192.4 108.8 L195.9 104.1 L206.4 101.8 L205.9 98.3 L201.7 94.8 L207.6 94.8 L216.9 93.6 L218.1 89 L225.1 83.2 L225.1 78.5 L220.4 72.7 L226.3 69.2 L233.2 66.3 L240.2 63.8 L244.7 63.7 L257.3 64.2 L264.1 62.2 L273.8 62.2 L278.7 64.7 L283.5 67.2 L284.5 71.6 L288.4 74.5 L293.2 74.5 L299.1 77.9 L307.8 78.8 L312.7 81.8 L315.6 87.1 L320.4 88.1 L325.3 91 L322.9 93.9 L323.3 98.7 L328.2 103.6 L330.1 107.5 L328.2 110.9 L324.3 110.9 L321.4 108 L312.7 108.5 L309.7 106 L303 105.5 L297.1 103.6 L292.3 103.1 L285.5 105.5 L282.6 108.5 L276.7 112.3 L269 115.2 L265.1 118.2 L266.1 125 L262.2 127.9 L257.2 134.1 L248.7 139.5 L245.5 144.9 L240.1 149.1 L233.7 152.3 L228.4 158.2 L218.8 159.3 L212.9 160.3 L210.2 158.2 L206 159.3 L199.5 165.2 L196.2 168.4 L197.3 171.6 L203.8 173.7 L204.9 178 L206 182.2 L211.3 183.3 L213.4 188.6 L217.7 194 L216.6 197.2 L212.4 197.7 L204.9 197.2 L197.3 198.3 L186.6 198.8 L183.4 201.5 L178.1 204.1 L172.8 202 L166.3 199.3 L163.1 195.1 L158.9 190.8 L156.7 186.5 L151.6 185.5 L142.6 186.5 L135.3 186.9 L124.9 187.1 L120.3 186.2 L110.4 187.1 L98.1 188.5 L89.4 189.7 L88.5 186.2 L90.6 182.7 L90.9 178.6 L92.9 176.3 L98.1 173.7 L110.1 171.7 L110.4 167 L104 165.2 L103.7 157.1 L101 155.3 L94.1 153.6 L88.2 150.1 L83 143.7Z" fill="none" stroke="#5d5ef2" stroke-width="1.15" stroke-linejoin="round"/>
<rect x="66.5" y="30.8" width="273.8" height="212.3" fill="none" stroke="#333" stroke-width="1.6"/>
<path d="M134.9 30.8v3.2M134.9 243.1v-3.2M203.4 30.8v3.2M203.4 243.1v-3.2M271.9 30.8v3.2M271.9 243.1v-3.2M66.5 83.9h3.2M340.3 83.9h-3.2M66.5 136.9h3.2M340.3 136.9h-3.2M66.5 190h3.2M340.3 190h-3.2" stroke="#333" stroke-width="1.5" fill="none"/>
<g class="tl"><text x="61.3" y="35.6" text-anchor="end" textLength="15.5" lengthAdjust="spacingAndGlyphs">40</text><text x="61.3" y="88.7" text-anchor="end" textLength="15.5" lengthAdjust="spacingAndGlyphs">35</text><text x="61.3" y="141.8" text-anchor="end" textLength="15.5" lengthAdjust="spacingAndGlyphs">30</text><text x="61.3" y="194.8" text-anchor="end" textLength="15.5" lengthAdjust="spacingAndGlyphs">25</text><text x="61.3" y="247.9" text-anchor="end" textLength="15.5" lengthAdjust="spacingAndGlyphs">20</text><text x="66.5" y="258.6" text-anchor="middle" textLength="15.5" lengthAdjust="spacingAndGlyphs">60</text><text x="134.9" y="258.6" text-anchor="middle" textLength="15.5" lengthAdjust="spacingAndGlyphs">65</text><text x="203.4" y="258.6" text-anchor="middle" textLength="15.5" lengthAdjust="spacingAndGlyphs">70</text><text x="271.9" y="258.6" text-anchor="middle" textLength="15.5" lengthAdjust="spacingAndGlyphs">75</text><text x="340.3" y="258.6" text-anchor="middle" textLength="15.5" lengthAdjust="spacingAndGlyphs">80</text></g>
<text class="ax" x="202.8" y="278.1" text-anchor="middle" textLength="89" lengthAdjust="spacingAndGlyphs">Longitude</text>
<text class="ax" transform="translate(38.8 136.9) rotate(-90) scale(1 1.33)" text-anchor="middle" textLength="59.5" lengthAdjust="spacingAndGlyphs">Latitude</text>
<text class="pl" x="350.8" y="280.9">(<tspan class="pll">a</tspan>)</text>
<text class="sn" x="82.5" y="50" textLength="52.6" lengthAdjust="spacingAndGlyphs">Annual</text>
<clipPath id="cb"><path d="M532.9 138.7 L538 139.9 L542.5 140.8 L548 142.2 L553 143.1 L559 142.8 L565.8 142.5 L571 142.9 L576.3 143.1 L578.6 141.4 L585 140.8 L590.7 140.4 L600 138.9 L607.6 136.6 L608.2 127.2 L615.1 122.6 L625.6 122 L628 119.7 L640.8 117.9 L646.6 115.6 L647.8 108.6 L651.3 103.9 L661.7 101.6 L661.2 98.1 L657.1 94.6 L662.9 94.6 L672.2 93.4 L673.4 88.8 L680.4 83 L680.4 78.3 L675.7 72.5 L681.6 69 L688.5 66.1 L695.5 63.7 L700 63.6 L712.6 64.1 L719.4 62.1 L729.1 62.1 L734 64.6 L738.8 67 L739.8 71.4 L743.7 74.3 L748.5 74.3 L754.4 77.7 L763.1 78.6 L768 81.6 L770.9 86.9 L775.7 87.9 L780.6 90.8 L778.2 93.7 L778.6 98.5 L783.5 103.4 L785.4 107.3 L783.5 110.7 L779.6 110.7 L776.7 107.8 L768 108.3 L765 105.8 L758.3 105.3 L752.4 103.4 L747.6 102.9 L740.8 105.3 L737.9 108.3 L732 112.1 L724.3 115 L720.4 118 L721.4 124.8 L717.5 127.7 L712.5 133.9 L704 139.2 L700.8 144.6 L695.4 148.8 L689 152 L683.7 157.9 L674.1 159 L668.2 160 L665.5 157.9 L661.3 159 L654.9 164.9 L651.6 168.1 L652.7 171.3 L659.1 173.4 L660.2 177.7 L661.3 181.9 L666.6 183 L668.7 188.3 L673 193.7 L671.9 196.9 L667.7 197.4 L660.2 196.9 L652.7 198 L642 198.5 L638.8 201.2 L633.5 203.8 L628.2 201.7 L621.7 199 L618.5 194.8 L614.3 190.5 L612.1 186.2 L607 185.2 L598 186.2 L590.7 186.6 L580.3 186.8 L575.7 185.9 L565.8 186.8 L553.5 188.2 L544.8 189.4 L543.9 185.9 L546 182.4 L546.3 178.3 L548.3 176 L553.5 173.4 L565.5 171.4 L565.8 166.7 L559.4 164.9 L559.1 156.8 L556.4 155 L549.5 153.3 L543.6 149.8 L538.4 143.4Z"/></clipPath>
<g clip-path="url(#cb)">
<path d="M532.9 138.7 L538 139.9 L542.5 140.8 L548 142.2 L553 143.1 L559 142.8 L565.8 142.5 L571 142.9 L576.3 143.1 L578.6 141.4 L585 140.8 L590.7 140.4 L600 138.9 L607.6 136.6 L608.2 127.2 L615.1 122.6 L625.6 122 L628 119.7 L640.8 117.9 L646.6 115.6 L647.8 108.6 L651.3 103.9 L661.7 101.6 L661.2 98.1 L657.1 94.6 L662.9 94.6 L672.2 93.4 L673.4 88.8 L680.4 83 L680.4 78.3 L675.7 72.5 L681.6 69 L688.5 66.1 L695.5 63.7 L700 63.6 L712.6 64.1 L719.4 62.1 L729.1 62.1 L734 64.6 L738.8 67 L739.8 71.4 L743.7 74.3 L748.5 74.3 L754.4 77.7 L763.1 78.6 L768 81.6 L770.9 86.9 L775.7 87.9 L780.6 90.8 L778.2 93.7 L778.6 98.5 L783.5 103.4 L785.4 107.3 L783.5 110.7 L779.6 110.7 L776.7 107.8 L768 108.3 L765 105.8 L758.3 105.3 L752.4 103.4 L747.6 102.9 L740.8 105.3 L737.9 108.3 L732 112.1 L724.3 115 L720.4 118 L721.4 124.8 L717.5 127.7 L712.5 133.9 L704 139.2 L700.8 144.6 L695.4 148.8 L689 152 L683.7 157.9 L674.1 159 L668.2 160 L665.5 157.9 L661.3 159 L654.9 164.9 L651.6 168.1 L652.7 171.3 L659.1 173.4 L660.2 177.7 L661.3 181.9 L666.6 183 L668.7 188.3 L673 193.7 L671.9 196.9 L667.7 197.4 L660.2 196.9 L652.7 198 L642 198.5 L638.8 201.2 L633.5 203.8 L628.2 201.7 L621.7 199 L618.5 194.8 L614.3 190.5 L612.1 186.2 L607 185.2 L598 186.2 L590.7 186.6 L580.3 186.8 L575.7 185.9 L565.8 186.8 L553.5 188.2 L544.8 189.4 L543.9 185.9 L546 182.4 L546.3 178.3 L548.3 176 L553.5 173.4 L565.5 171.4 L565.8 166.7 L559.4 164.9 L559.1 156.8 L556.4 155 L549.5 153.3 L543.6 149.8 L538.4 143.4Z" fill="#bce2f6"/>
<path fill-rule="evenodd" d="M632.2 205.6 635 205.6 643 201 673.6 198.8 675.4 193 668.7 181.6 663.3 179.8 661.1 171.9 654.5 168.8 662.5 161.3 668.4 162.5 685.2 159.9 723.3 126.5 723.1 119.1 725.5 117.2 747.9 105.4 764 108.2 767.7 110.8 775.7 110.4 779.6 113.2 785.1 112.7 787.9 107.1 781 97.4 782.6 89.3 772.5 84.7 764.2 76.4 744.5 71.8 740.3 65 729.6 59.6 695.2 61.2 673.8 70.8 677.9 81.8 671.4 87.2 670.2 91.1 655.3 92.8 654.9 95.7 658.9 99.7 649.6 102 644.4 113.8 613.9 120.4 606.1 125.8 605.2 134.7 575.5 140.6 553.2 140.6 533.5 136.3 530.7 137.5 531.1 140.4 542.1 151.8 556.6 158.2 557.2 166.1 563.2 168.6 546.4 174.4 541.4 185.5 543.3 191.4 606.9 187.7 610.4 188.4 620.3 201.1ZM642.1 130 641.6 128 646.3 115.3 647 114.1 648.6 114 650.4 115.3 650.8 116.6 650.3 120.4 651.1 124.2 650.9 125.5 647.1 128 645.3 131.9 643.7 131.8ZM754.9 87.3 757 84.4 760.3 82.2 758.7 89.2 757 89.4 755.3 88.6Z" fill="#a9daf4"/>
<path fill-rule="evenodd" d="M632.2 205.6 635 205.6 643 201 673.6 198.8 675.4 193 668.7 181.6 663.3 179.8 661.1 171.9 654.5 168.8 662.5 161.3 668.4 162.5 685.2 159.9 723.3 126.5 723.1 119.1 725.5 117.2 747.9 105.4 764 108.2 767.7 110.8 774.7 110.4 777.6 107.7 779.1 105.1 778.6 102.6 779.1 101.3 782.6 99.6 781 97.4 782.6 89.3 772.5 84.7 764.2 76.4 761.7 75.8 761.9 78.4 763.6 82.2 761.2 84.8 760.3 88.6 758.7 90.6 755.4 90 750.4 86.6 746 84.8 745.3 83.5 745.5 81.9 749.5 75.9 750.4 73.2 744.5 71.8 740.3 65 729.6 59.6 695.2 61.2 673.8 70.8 677.9 81.8 671.4 87.2 670.2 91.1 655.3 92.8 654.9 95.7 658.9 99.7 649.6 102 646.4 109.3 647 109.4 649.7 112.7 652.8 115.3 652.2 120.4 653.4 124.2 651.5 133.1 651.5 135.6 650.3 136.5 645.3 136.6 642.1 135.9 638.4 130.6 638.5 128 640.6 124.2 643.6 114 613.9 120.4 606.1 125.8 605.2 134.7 575.5 140.6 553.2 140.6 533.5 136.3 530.7 137.5 531.1 140.4 542.1 151.8 556.6 158.2 557.2 166.1 563.2 168.6 546.4 174.4 541.4 185.5 543.3 191.4 606.9 187.7 610.4 188.4 620.3 201.1ZM747.2 96.5 744.9 93.7 745.5 93 747.2 92.9 757.3 94.9 759.5 96.2 750.4 97.4Z" fill="#94cff0"/>
<path fill-rule="evenodd" d="M632.2 205.6 635 205.6 643 201 673.6 198.8 675.4 193 668.7 181.6 663.3 179.8 661.1 171.9 654.5 168.8 662.5 161.3 668.4 162.5 685.2 159.9 723.3 126.5 723.1 119.1 725.5 117.2 747.9 105.4 764 108.2 767.7 110.8 771.2 110.6 774.1 107.7 775.8 105.1 773.6 98.8 772.3 97.5 768.5 96.8 760.3 97.7 747.2 97.9 745.5 97 740.2 92.4 739.7 91.1 743.9 90.7 757 92.4 761.9 94.5 766.9 95.5 768.8 93.7 765.2 86 763.6 85 761.9 85.6 760.3 90.4 758.7 92.1 757 92.4 743.9 85.5 742.8 83.5 743.5 80.9 748.5 72.7 744.5 71.8 740.3 65 729.6 59.6 695.2 61.2 673.8 70.8 677.9 81.8 671.4 87.2 670.2 91.1 655.3 92.8 654.9 95.7 658.9 99.7 649.6 102 647.7 106.4 649 107.7 650.5 111.5 654.1 114 654.5 115.3 653.8 120.4 655 124.2 654.1 133.1 653.6 135.6 651.9 137.4 643.7 137.8 640.4 137.3 638.8 136.8 636.8 134.4 634.8 130.6 637.6 121.6 638.3 115.1 613.9 120.4 606.1 125.8 605.2 134.7 575.5 140.6 553.2 140.6 533.5 136.3 530.7 137.5 531.1 140.4 542.1 151.8 556.6 158.2 557.2 166.1 563.2 168.6 546.4 174.4 541.4 185.5 543.3 191.4 606.9 187.7 610.4 188.4 620.3 201.1Z" fill="#82c0e8"/>
<path fill-rule="evenodd" d="M632.2 205.6 635 205.6 643 201 673.6 198.8 675.4 193 668.7 181.6 663.3 179.8 661.1 171.9 654.5 168.8 662.5 161.3 668.4 162.5 685.2 159.9 723.3 126.5 723.1 119.1 725.5 117.2 747.9 105.4 764 108.2 767.7 110.8 769 110.7 773 106.4 773.4 103.8 771.1 100 769.3 98.8 765.2 98.3 747.1 98.8 744.1 97.5 736.7 92.4 735.6 89.8 736.8 88.6 743.9 89.1 746.4 88.6 741.4 84.8 740.8 82.2 741.1 80.9 747.2 72.4 744.5 71.8 740.3 65 729.6 59.6 695.2 61.2 673.8 70.8 677.9 81.8 671.4 87.2 670.2 91.1 655.3 92.8 654.9 95.7 658.9 99.7 649.6 102 648.7 104.2 650.7 106.4 651.9 110.5 655.2 112.7 655.8 114 655.2 119.1 656.3 124.2 655.6 128 655.5 133.1 654.1 136.9 651.9 138.4 640.4 138.6 636.7 138.2 634.2 136.9 628.6 130.6 628.4 129.3 631.5 126.7 631.9 125.5 631.3 117.8 628.9 117.2 613.9 120.4 606.1 125.8 605.2 134.7 575.5 140.6 553.2 140.6 533.5 136.3 530.7 137.5 531.1 140.4 542.1 151.8 556.6 158.2 557.2 166.1 563.2 168.6 546.4 174.4 541.4 185.5 543.3 191.4 606.9 187.7 610.4 188.4 620.3 201.1ZM766 93.7 766.4 92.4 763.6 87 761.9 88.7 760.7 92.4 763.6 93.7Z" fill="#6fafe0"/>
<path fill-rule="evenodd" d="M632.2 205.6 635 205.6 643 201 673.6 198.8 675.4 193 668.7 181.6 663.3 179.8 661.1 171.9 654.5 168.8 662.5 161.3 668.4 162.5 685.2 159.9 723.3 126.5 723.1 119.1 725.5 117.2 747.9 105.4 764 108.2 767.2 110.5 770 107.7 771.5 105.1 771.3 103.8 768.2 100 763.6 99.1 745.5 99.2 735.7 94.4 734 92.9 731.7 87.3 734 86.4 738.9 86.6 740 86 736.4 82.2 736.7 80.9 742.2 76.2 745.7 72.1 744.5 71.8 740.3 65 729.6 59.6 695.2 61.2 673.8 70.8 677.9 81.8 671.4 87.2 670.2 91.1 655.3 92.8 654.9 95.7 658.9 99.7 649.6 102.2 650.8 102.6 657 114 656.5 119.1 657.6 124.2 656.6 128 656.7 133.1 656 135.6 653.5 138.6 643.7 139.7 631.6 139.5 627.4 135.6 623.3 130.6 623.1 128 625.4 122.9 625 121.6 624 121.3 610.4 122.8 606.1 125.8 605.2 134.7 575.5 140.6 553.2 140.6 533.5 136.3 530.7 137.5 531.1 140.4 542.1 151.8 556.6 158.2 557.2 166.1 563.2 168.6 546.4 174.4 541.4 185.5 543.3 191.4 606.9 187.7 610.4 188.4 620.3 201.1ZM763.6 90.5 762.8 91.1 763.6 92.1 763.9 91.1Z" fill="#5d9dd8"/>
<path fill-rule="evenodd" d="M632.2 205.6 635 205.6 643 201 673.6 198.8 675.4 193 668.7 181.6 663.3 179.8 661.1 171.9 654.5 168.8 662.5 161.3 668.4 162.5 685.2 159.9 723.3 126.5 723.1 119.1 725.5 117.2 747.9 105.4 764 108.2 766.1 109.7 768.9 106.4 769.2 103.8 768.5 102.6 766.9 100.9 763.6 99.8 743.9 99.8 732.4 94.7 727.9 87.3 727 84.8 733 83.5 732.4 81.8 722.5 76.7 710.5 72 711.1 70.8 714.1 68.2 716 65.7 720.6 61.9 721.3 60 695.2 61.2 678.7 68.6 680.4 70.8 679.9 72 674.9 73.7 677.9 81.8 671.4 87.2 670.2 91.1 655.3 92.8 654.9 95.7 658.9 99.7 653.1 101.1 655.5 105.1 657.7 112.7 657.8 119.1 658.7 124.2 657.7 128 657.7 133.1 657.1 135.6 655.5 138.2 653.7 139.5 645.3 140.5 637.1 140.5 630.6 142.2 628.9 141.9 625.6 139.5 621 134.4 618.9 129.3 619.4 126.7 619.1 125.8 617.4 125.4 606 126.7 605.2 134.7 575.5 140.6 553.2 140.6 533.5 136.3 530.7 137.5 531.1 140.4 542.1 151.8 556.6 158.2 557.2 166.1 563.2 168.6 546.4 174.4 541.4 185.5 543.3 191.4 606.9 187.7 610.4 188.4 620.3 201.1Z" fill="#4e8cce"/>
<path fill-rule="evenodd" d="M632.2 205.6 635 205.6 643 201 673.6 198.8 675.4 193 668.7 181.6 663.3 179.8 661.1 171.9 654.5 168.8 662.5 161.3 668.4 162.5 685.2 159.9 723.3 126.5 723.1 119.1 725.5 117.2 747.9 105.4 764 108.2 765.1 109 767.1 105.1 766.5 102.6 765.2 101.3 761.9 100.4 745.5 100.6 741.5 100 730.7 96 729.3 94.9 724.2 88 722.5 86.9 719.7 86 714.3 85 707.7 85 699.5 83.7 683.3 83.5 678.2 81.8 671.4 87.2 670.2 91.1 664.2 91.8 657.1 98 658.9 99.7 655.9 100.4 655.9 101.3 657.7 103.8 657.9 105.1 659.8 124.2 658.8 128 658.2 135.6 656.8 138.2 653.5 140.3 645.3 141.3 637.1 141.5 628.9 144.5 627.3 144.5 624 143 620.7 140 617 135.6 615.8 132.3 614.6 130.6 612.5 129.4 605.7 130.1 605.2 134.7 575.5 140.6 553.2 140.6 533.5 136.3 530.7 137.5 531.1 140.4 542.1 151.8 556.6 158.2 557.2 166.1 563.2 168.6 546.4 174.4 541.4 185.5 543.3 191.4 606.9 187.7 610.4 188.4 620.3 201.1ZM720.9 80.3 722.4 79.7 715.7 75.9 708.5 73.3 707.6 72 712 68.2 714.3 65.3 718.5 61.9 719.5 60.1 695.2 61.2 680.1 68 682.4 70.8 682.5 72 681.5 74.6 688 77.9 691.3 78.4 707.7 78.6ZM676.4 77.1 678.7 75.9 678.2 75.5 675.8 75.9Z" fill="#488cb8"/>
<path fill-rule="evenodd" d="M632.2 205.6 635 205.6 643 201 673.6 198.8 675.4 193 668.7 181.6 663.3 179.8 661.1 171.9 654.5 168.8 662.5 161.3 668.4 162.5 685.2 159.9 723.3 126.5 723.1 119.1 725.5 117.2 747.9 105.4 763.7 108.2 764.9 105.1 764.4 102.6 762.6 101.3 760.3 100.9 743.9 101.2 738.1 100 727.4 96.2 720.5 89.8 716 88.3 709.4 87.8 699.5 85.8 678.2 85.8 674.9 87.2 670.2 91.1 669.2 92.4 668.3 96.2 666.4 97.5 660.1 99.9 659.1 101.3 659.9 106.4 660.8 124.2 658.8 136.9 657.1 139.5 655.2 140.6 645.3 142.2 637.1 142.4 633.8 143.5 628.9 146.2 625.6 146.9 620 144.5 610.4 134.4 607.6 133.3 605.3 133.4 605.2 134.7 575.5 140.6 553.2 140.6 546.8 141.5 543.5 142.2 541.9 143.1 540.9 144.5 540.7 150.4 542.1 151.8 556.6 158.2 557.2 166.1 563.2 168.6 546.4 174.4 541.4 185.5 543.3 191.4 606.9 187.7 610.4 188.4 620.3 201.1ZM600.2 161.1 599.1 159.8 600 158.5 609.2 153.9 612.5 153.2 614.1 154.2 615 156 614.8 161.1 614.1 162.4 612.5 163.2 607.6 164 604.3 163.1ZM689.7 75.8 707.7 76.4 710 75.9 706.3 73.3 706.1 72 710.8 68.2 718.5 60.1 695.2 61.2 680.9 67.6 682.9 69.5 684.8 73.6Z" fill="#46939e"/>
<path fill-rule="evenodd" d="M632.2 205.6 635 205.6 643 201 673.6 198.8 675.4 193 668.7 181.6 663.3 179.8 661.1 171.9 654.5 168.8 662.5 161.3 668.4 162.5 685.2 159.9 723.3 126.5 723.1 119.1 725.5 117.2 747.9 105.4 761.8 107.8 762.8 103.8 762.3 102.6 758.1 101.3 743.9 101.7 738.7 101.3 723.5 96.2 716 91.4 701.2 88 686.4 87.5 679.8 88.6 677.1 89.8 675.3 94.9 673.3 97.3 663.4 101.1 661.8 102.6 661.3 112.7 661.8 124.2 660.2 135.6 658.7 139.5 656.8 140.9 653.5 141.9 635.5 143.8 625.6 149.1 619.1 148.7 618.5 149.6 619.9 153.4 620 156 618.9 162.4 617.4 165 612.5 166.4 605.9 167.3 597.7 164.2 591.1 163.4 588.9 162.4 590.1 159.8 592.8 157.4 615 147.1 615 145.8 614.1 144.5 607.9 138.2 605.9 136.8 601 136.7 561.4 143.3 555 145.4 548.4 150.1 545.2 150.3 543.5 151.8 543.4 152.4 556.6 158.2 557.2 166.1 563.2 168.6 546.4 174.4 541.4 185.5 543.3 191.4 606.9 187.7 610.4 188.4 620.3 201.1ZM693 73.7 702.8 73.6 709.8 68.2 717.7 60.2 695.2 61.2 681.6 67.3 685.5 72Z" fill="#479d84"/>
<path fill-rule="evenodd" d="M632.2 205.6 635 205.6 643 201 673.6 198.8 675.4 193 668.7 181.6 663.3 179.8 661.1 171.9 654.5 168.8 662.5 161.3 668.4 162.5 685.2 159.9 723.3 126.5 723.1 119.1 725.5 117.2 747.9 105.4 759.7 107.5 760.6 103.8 759.7 102.6 755.4 101.9 742.2 102.3 737.3 101.8 724.2 97.9 714.3 93.9 701.2 90 688 89.3 683.1 90.1 681.4 91.1 679.2 94.9 675.2 98.8 667.6 101.3 665 102.6 664 103.8 663 112.7 662.8 124.2 661.8 131.8 660.6 138.2 658.5 141.2 653.5 142.8 637.1 144.4 632.2 146.5 624.2 152.2 620.8 163.6 619.5 166.2 617.4 168.5 614.1 169.5 605.9 170.6 597.7 168.7 582.9 167.6 568.2 163 559.9 157.1 558.3 156.4 556.7 156.7 555.4 157.6 556.6 158.2 557.2 166.1 563.2 168.6 546.4 174.4 541.4 185.5 543.3 191.4 606.9 187.7 610.4 188.4 620.3 201.1ZM573.1 160.6 581.3 160.1 582.9 159.3 587.9 154.6 596.1 151.6 605.8 147.1 607.4 145.8 607.4 144.5 603.9 140.7 601 139.4 583.3 142 571.8 144.5 569.4 145.8 568.2 147.3 567.7 149.6 568.3 152.2 571.1 159.8ZM685.9 70.8 701.2 72 702.8 71.6 708.6 68.2 716.7 60.2 695.2 61.2 682.3 67Z" fill="#46a767"/>
<path fill-rule="evenodd" d="M632.2 205.6 635 205.6 643 201 673.6 198.8 675.4 193 668.7 181.6 663.3 179.8 661.1 171.9 654.5 168.8 662.5 161.3 668.4 162.5 685.2 159.9 723.3 126.5 723.1 119.1 725.5 117.2 747.9 105.4 757.6 107.1 758.1 103.8 755.4 102.6 737.3 102.6 701.2 92.4 689.7 91.5 686.4 91.8 677.3 100 669.3 102.6 667.1 103.8 666.2 105.1 664.6 114 664.1 122.9 663 130.6 661.6 138.2 660.1 141.3 658.5 142.5 655.2 143.5 637.1 145.3 633.8 146.6 629.1 149.6 626.1 152.2 625.5 153.4 622.4 163.6 620.7 167.3 617.4 171.9 615.8 173.1 604.3 174 584.6 172.2 576.4 170.6 566.5 170.3 562.5 168.8 546.4 174.4 541.4 185.5 543.3 191.4 606.9 187.7 610.4 188.4 620.3 201.1ZM581.3 152.1 597.7 146.4 600 144.5 599.5 143.3 597.7 142.5 594.4 142.6 585.7 144.5 583.1 145.8 579 149.6 579 150.9 579.7 151.7ZM694.6 68.9 701.2 70.1 704.7 69.5 708.2 67 710.3 64.4 715 60.3 695.2 61.2 683.5 66.5 686.4 69.2Z" fill="#48b14b"/>
<path fill-rule="evenodd" d="M632.2 205.6 635 205.6 643 201 673.6 198.8 675.4 193 668.7 181.6 663.3 179.8 661.1 171.9 654.5 168.8 662.5 161.3 668.4 162.5 685.2 159.9 723.3 126.5 723.1 119.1 725.5 117.2 747.9 105.4 755.4 106.8 755.7 105.1 755.1 103.8 752.1 103.4 737.3 103.2 717.6 98.4 704.5 96.2 695.8 97.5 689.7 97.8 684.8 98.9 678.2 102 670 104.8 668.3 106.4 666.3 115.3 664.4 129.3 662.3 139.5 661 142 658.5 143.7 655.2 144.5 637.1 146.3 633.8 147.6 628.9 150.9 626.9 153.4 622.9 166.2 619.1 172.8 615.8 176.8 612.5 177.5 602.6 177.5 579.7 176 563.2 175.7 559.9 174.6 555.6 171.2 546.4 174.4 541.4 185.5 543.3 191.4 606.9 187.7 610.4 188.4 620.3 201.1Z" fill="#6abb4e"/>
<path fill-rule="evenodd" d="M632.2 205.6 635 205.6 643 201 673.6 198.8 675.4 193 668.7 181.6 663.3 179.8 661.1 171.9 654.5 168.8 662.5 161.3 668.4 162.5 685.2 159.9 723.3 126.5 723.1 119.1 725.5 117.2 747.9 105.4 753.2 106.4 752.9 105.1 748.8 104.1 737.3 103.9 719.2 100.2 706.1 99 694.6 100.1 686.4 101.6 673.3 106.1 670.6 107.7 669.9 108.9 666.1 128 663.3 139.5 661.8 142.9 660.1 144.3 656.8 145.2 637.1 147.3 633.8 148.6 630.3 150.9 628.2 153.4 624.9 164.9 618.4 177.6 617.4 181.7 615.8 182.7 605.9 181.2 563.2 178.6 558.3 177.2 552.5 172.3 546.4 174.4 541.4 185.5 543.3 191.4 606.9 187.7 610.4 188.4 620.3 201.1Z" fill="#8dc652"/>
<path fill-rule="evenodd" d="M632.2 205.6 635 205.6 643 201 673.6 198.8 675.4 193 668.7 181.6 663.3 179.8 661.1 171.9 654.5 168.8 662.5 161.3 668.4 162.5 685.2 159.9 723.3 126.5 723.1 119.1 725.5 117.2 747.9 105.4 749.3 105.7 747.2 105.1 735.7 104.5 719.2 101.6 706.1 100.6 694.6 101.4 688 102.8 683.1 104.3 673.3 108.5 672.1 110.2 671.3 115.3 668.7 122.9 664 140.7 661.8 145.2 655.2 146.5 637.1 148.4 632.2 150.7 629.4 153.4 626.3 164.9 620.5 177.6 620.1 180.2 620.6 186.5 620.3 187.8 619.1 189.2 590.3 184 566.5 181.4 559.6 180.2 555 178.4 550.1 173.1 546.4 174.4 541.4 185.5 543.3 191.4 606.9 187.7 610.4 188.4 620.3 201.1Z" fill="#b2d156"/>
<path fill-rule="evenodd" d="M561.9 190.3 562.2 187.8 563.2 186.6 566.5 185.8 568.2 186 569.8 186.9 574.7 186.9 576.4 188 580.2 187.8 577.9 186.5 568.2 184.8 555 181.4 551.5 178.9 548.5 173.6 546.4 174.4 541.4 185.5 543.3 191.4ZM632.2 205.6 635 205.6 643 201 673.6 198.8 675.4 193 668.7 181.6 663.3 179.8 661.1 171.9 654.5 168.8 662.5 161.3 668.4 162.5 685.2 159.9 723.3 126.5 723.1 119.1 725.5 117.2 746.1 106.4 725.8 104.3 714.3 102 706.1 101.7 696.2 102.3 689.6 103.8 674.9 110.2 674.2 111.5 673.4 116.6 670.4 124.2 662.9 147.1 661.8 147.9 656.8 147.4 638.8 149 633.6 150.9 631.8 152.2 630.1 154.7 627.7 164.9 622 180.2 623.4 191.6 622.3 201.9Z" fill="#d2db58"/>
<path fill-rule="evenodd" d="M558.8 190.3 558.9 186.5 558.3 185.2 551.7 183.5 550.7 182.7 547.9 178.9 546.4 174.5 541.4 185.5 543.3 191.4ZM632.1 205.6 635 205.6 643 201 673.6 198.8 675.4 193 668.7 181.6 663.3 179.8 661.1 171.9 654.5 168.8 662.5 161.3 668.4 162.5 685.2 159.9 723.3 126.5 723.1 119.1 725.5 117.2 743.7 107.6 725.8 105.8 719.2 103.7 712.7 102.8 701.2 103 696.2 103.5 690.1 105.1 676.9 111.5 675.5 116.6 666.7 139.7 664.3 149.6 663.4 150.5 656.8 148.6 640.4 149.6 633.8 151.9 631.3 154.7 628.5 166.2 623.8 181.4 625.9 194.2 627.9 198 628 204ZM673.5 154.7 676.5 153.4 678.2 153.7 678.7 154.7 678.2 156 676.5 157.7 674.9 157.4 673.6 156Z" fill="#f2e45a"/>
<path fill-rule="evenodd" d="M632.1 205.6 635 205.6 643 201 673.6 198.8 675.4 193 668.7 181.6 663.3 179.8 661.1 171.9 654.5 168.8 662.5 161.3 668.4 162.5 673 161.8 671.6 159 667.6 154.7 669.5 153.4 674.9 151.6 679.8 151.5 682.5 152.2 681.8 154.7 677.6 161.1 685.2 159.9 723.3 126.5 723.1 119.1 725.5 117.2 741.3 108.9 724.2 107.1 717.6 104.4 711 103.6 697.9 104.4 691.3 106.1 679.8 112.1 678.2 114 667.1 143.3 666.4 152.2 665.3 153.4 663.4 153.1 656.8 150.1 653.5 149.9 640.4 150.6 635.6 152.2 633.7 153.4 632.2 155.3 631 158.5 628.9 170.7 625.9 180.2 625.6 182.7 627 187.8 627.8 194.2 628.9 197.1 629.1 204.4Z" fill="#f5cd51"/>
<path fill-rule="evenodd" d="M632.2 205.6 635 205.6 643 201 673.6 198.8 675.4 193 668.7 181.6 663.3 179.8 661.1 171.9 654.5 168.8 662.5 161.3 668.4 162.5 669.9 162.3 668.3 160.3 663.2 156 656.8 152 653.5 151.1 650.3 151 640.4 151.8 635.5 153.7 632.2 157.6 631 162.4 629.6 173.8 627.4 182.7 629.6 195.4 629.7 204.7ZM738.9 110.2 724.2 108.6 717.6 105.5 711 104.6 697.9 105.5 689.7 108.3 681.5 113.5 680 115.3 668.8 143.3 668.3 145.8 668.7 149.6 670 150.8 676.5 149.6 685.6 149.6 686.4 150.9 685.9 152.2 680.7 160.6 685.2 159.9 723.3 126.5 723.1 119.1 725.5 117.2Z" fill="#f5b447"/>
<path fill-rule="evenodd" d="M632.2 205.6 635 205.6 643 201 673.6 198.8 675.4 193 668.7 181.6 663.3 179.8 661.1 171.9 654.5 168.8 662.5 161.3 665.2 161.8 658.4 156 653.5 152.9 647 152.2 640.4 153.1 635.5 155.4 633.8 157 632.4 159.8 631.4 164.9 630.6 176.4 629.2 184 631 194.2 630.4 198 630.4 205ZM706.8 140.7 710.4 136.9 723.3 126.5 723.1 119.1 725.5 117.2 736.4 111.5 732.4 110.6 724.2 110 716.5 106.4 712.7 105.7 699.5 106.4 691.3 108.8 682.3 115.3 671.2 142 670.4 145.8 671.6 148.1 683.1 148.1 688 147.5 689.7 147.6 690.4 148.4 689.3 150.9 683.5 160.2 685.2 159.9Z" fill="#f49c3d"/>
<path fill-rule="evenodd" d="M631.5 205.4 635 205.6 643 201 673.6 198.8 675.4 193 668.7 181.6 663.3 179.8 661.1 171.9 654.5 168.8 661.2 162.5 652.1 154.7 650.3 154 643.7 153.8 638.8 155.2 635.3 157.3 633.8 159 633 161.1 632.2 164.9 630.9 184 632.7 194.2 631.5 198ZM699.5 147.3 702.1 143.3 705.5 139.5 723.2 126.1 723.1 119.1 725.5 117.2 734 112.7 722.5 111.2 716 107.5 712.7 106.7 709.4 106.8 699.5 107.6 693 109.5 689.7 111.2 684.5 115.3 673.3 141.9 672.8 144.5 674.3 145.8 681.5 146.5 693 145.2 694.5 145.8 693.7 148.4 687.9 157.6Z" fill="#f17e31"/>
<path fill-rule="evenodd" d="M670 198 673.3 198 674.2 196.7 671.6 196.6 671.1 192.9 668.3 187.3 666.3 180.8 663.3 179.8 661.1 171.9 654.5 168.8 659 164.6 650.3 156.6 648.6 155.7 642.1 155.7 638.8 156.8 635.5 158.9 633.8 161.2 633 164.9 632.6 185.2 635.5 199.5 637 200.5 637.1 201.8 641.5 201.8 643 201 670 199ZM684.8 144.8 697.9 142.4 702.8 139.9 723.2 124.9 723.1 119.1 725.5 117.2 731.5 114 722.5 112.7 714.3 108.3 711 107.9 699.5 109 693 110.9 689.7 112.7 685.7 116.6 676.3 142 676.6 143.3 678.2 143.8Z" fill="#ee672b"/>
<path fill-rule="evenodd" d="M661.3 199.6 663.9 195.4 665 191.6 666.5 190.3 666.7 189.1 663.7 181.4 661 171.8 654.5 168.8 656.8 166.6 648.7 158.5 647 157.5 642.1 157.4 637.1 159.4 634.5 162.4 633.7 166.2 633.8 174.9 635.2 181.4 634.2 186.5 636 192.9 637.1 194.3 638.8 194.8 647 194.7 649.7 200.5ZM691.1 142 702.8 138.3 709.4 134 723.2 123.5 723.1 119.1 729.1 115.3 720.9 113.7 714.3 110 711 109.3 697.9 110.9 693 112.3 690 114 688.6 115.3 687.2 117.8 683 131.8 683.8 135.6 686.4 141.2 688 142.3Z" fill="#e8582a"/>
<path fill-rule="evenodd" d="M660.2 199.7 662.9 195.4 663 191.6 665.1 189.1 660.4 178.9 658.5 173.5 646.4 159.8 643.7 159 638.8 160.1 635.9 162.4 634.8 164.9 635.5 173.1 638.6 177.6 638.3 180.2 635.9 186.5 637.1 190.9 638.8 192.4 640.4 192.9 648.6 193.5 649.2 194.2 649.2 196.7 650.7 200.4ZM689.7 139 702.8 136.7 707.7 134.1 716.2 128 723.2 122.1 723.1 119.1 726.5 116.6 720.9 115.3 714.3 111.8 711 111 697.9 112.5 693 113.8 691.3 114.8 689.8 116.6 688.1 121.6 686.2 131.8 688.8 138.2Z" fill="#e4462a"/>
<path fill-rule="evenodd" d="M659.4 199.8 662.1 195.4 662 192.9 660.7 191.6 663.7 189.1 662.9 186.5 656.1 175.1 648.6 166.7 645.3 162.1 643.7 161 642.1 160.8 638.8 161.8 636.6 163.6 636.2 166.2 637.1 168.3 642.1 172.8 642.6 175.1 637.9 185.2 637.6 186.5 638.5 189.1 640 190.3 642.1 191 650.3 192.2 651.5 192.9 649.9 195.4 651.5 200.3ZM656 191.6 659 191.6 656.8 192.9ZM691.3 135.8 702.8 135 707.7 132.9 714.5 128 721.9 121.6 723.1 120.3 723.1 119.1 723.9 118.5 723.8 117.8 711 112.7 702.8 113.3 694 115.3 692.6 116.6 691.4 120.4 689.5 131.8 690.1 134.4Z" fill="#de352a"/>
<path fill-rule="evenodd" d="M658.5 199.8 661.5 194.2 660.1 193 656.8 193.7 653.5 193.6 651.9 194.2 650.9 195.4 650.9 196.7 652.3 200.3ZM653.5 190.6 660.1 190 662 189.1 662.2 187.8 658.5 181.8 655.2 177.7 650.3 172.7 648.6 171.8 647 172.5 646.2 173.8 640.2 184 639.7 186.5 640.4 187.7 642.1 188.5 649.2 190.3ZM645.3 168.2 645.1 166.2 643.4 163.6 642.1 162.9 640.4 162.9 638.8 163.8 638.2 164.9 638.9 166.2 643.7 168.4ZM699.5 132.7 704.5 132.6 709.4 130.4 720 121.6 721 120.4 721.1 119.1 714.3 115.6 709.4 114.2 701.2 115.3 698 116.6 697.6 117.8 698.9 121.6 699.1 124.2 695.1 130.6 694.9 131.8Z" fill="#d62528"/>
<path fill-rule="evenodd" d="M657.4 199.9 660.1 195.6 660.1 194.8 653.5 194.7 651.9 195.4 651.8 196.7 653.3 200.2ZM656.8 189.2 660.1 188.5 660.6 187.8 660.1 186.4 656.8 182.3 651.9 177.7 650.3 176.4 648.6 176.1 645.3 179.7 642.8 184 642.6 185.2 644 186.5 647 187.4 653.5 189ZM709.4 127.6 716 123.1 717.7 121.6 718.3 120.4 717.3 119.1 711 116.4 707.7 116 704.4 116.6 702.6 117.8 702.8 119.1 707.1 126.7 707.7 127.5Z" fill="#ca1e26"/>
<path fill-rule="evenodd" d="M655.2 186.8 656.9 186.5 656.3 185.2 653.5 182.4 650.3 180.1 648.6 180.6 646.9 182.7 646.7 184 648.1 185.2ZM709.4 119.2 709.4 119.1 709.3 119.1Z" fill="#bc1b24"/>
<path d="M692.6 63.4 L704.9 78.4 L733.4 78.4 L760.6 98.8 L775.5 87.9 L789.1 78.4 L789.1 51.2 L692.6 51.2Z" fill="#fff"/>
</g>
<path d="M532.9 138.7 L538 139.9 L542.5 140.8 L548 142.2 L553 143.1 L559 142.8 L565.8 142.5 L571 142.9 L576.3 143.1 L578.6 141.4 L585 140.8 L590.7 140.4 L600 138.9 L607.6 136.6 L608.2 127.2 L615.1 122.6 L625.6 122 L628 119.7 L640.8 117.9 L646.6 115.6 L647.8 108.6 L651.3 103.9 L661.7 101.6 L661.2 98.1 L657.1 94.6 L662.9 94.6 L672.2 93.4 L673.4 88.8 L680.4 83 L680.4 78.3 L675.7 72.5 L681.6 69 L688.5 66.1 L695.5 63.7 L700 63.6 L712.6 64.1 L719.4 62.1 L729.1 62.1 L734 64.6 L738.8 67 L739.8 71.4 L743.7 74.3 L748.5 74.3 L754.4 77.7 L763.1 78.6 L768 81.6 L770.9 86.9 L775.7 87.9 L780.6 90.8 L778.2 93.7 L778.6 98.5 L783.5 103.4 L785.4 107.3 L783.5 110.7 L779.6 110.7 L776.7 107.8 L768 108.3 L765 105.8 L758.3 105.3 L752.4 103.4 L747.6 102.9 L740.8 105.3 L737.9 108.3 L732 112.1 L724.3 115 L720.4 118 L721.4 124.8 L717.5 127.7 L712.5 133.9 L704 139.2 L700.8 144.6 L695.4 148.8 L689 152 L683.7 157.9 L674.1 159 L668.2 160 L665.5 157.9 L661.3 159 L654.9 164.9 L651.6 168.1 L652.7 171.3 L659.1 173.4 L660.2 177.7 L661.3 181.9 L666.6 183 L668.7 188.3 L673 193.7 L671.9 196.9 L667.7 197.4 L660.2 196.9 L652.7 198 L642 198.5 L638.8 201.2 L633.5 203.8 L628.2 201.7 L621.7 199 L618.5 194.8 L614.3 190.5 L612.1 186.2 L607 185.2 L598 186.2 L590.7 186.6 L580.3 186.8 L575.7 185.9 L565.8 186.8 L553.5 188.2 L544.8 189.4 L543.9 185.9 L546 182.4 L546.3 178.3 L548.3 176 L553.5 173.4 L565.5 171.4 L565.8 166.7 L559.4 164.9 L559.1 156.8 L556.4 155 L549.5 153.3 L543.6 149.8 L538.4 143.4Z" fill="none" stroke="#5d5ef2" stroke-width="1.15" stroke-linejoin="round"/>
<rect x="521.9" y="30.7" width="273.7" height="212" fill="none" stroke="#333" stroke-width="1.6"/>
<path d="M590.3 30.7v3.2M590.3 242.7v-3.2M658.8 30.7v3.2M658.8 242.7v-3.2M727.2 30.7v3.2M727.2 242.7v-3.2M521.9 83.7h3.2M795.6 83.7h-3.2M521.9 136.7h3.2M795.6 136.7h-3.2M521.9 189.7h3.2M795.6 189.7h-3.2" stroke="#333" stroke-width="1.5" fill="none"/>
<g class="tl"><text x="516.7" y="35.5" text-anchor="end" textLength="15.5" lengthAdjust="spacingAndGlyphs">40</text><text x="516.7" y="88.5" text-anchor="end" textLength="15.5" lengthAdjust="spacingAndGlyphs">35</text><text x="516.7" y="141.5" text-anchor="end" textLength="15.5" lengthAdjust="spacingAndGlyphs">30</text><text x="516.7" y="194.5" text-anchor="end" textLength="15.5" lengthAdjust="spacingAndGlyphs">25</text><text x="516.7" y="247.5" text-anchor="end" textLength="15.5" lengthAdjust="spacingAndGlyphs">20</text><text x="521.9" y="258.2" text-anchor="middle" textLength="15.5" lengthAdjust="spacingAndGlyphs">60</text><text x="590.3" y="258.2" text-anchor="middle" textLength="15.5" lengthAdjust="spacingAndGlyphs">65</text><text x="658.8" y="258.2" text-anchor="middle" textLength="15.5" lengthAdjust="spacingAndGlyphs">70</text><text x="727.2" y="258.2" text-anchor="middle" textLength="15.5" lengthAdjust="spacingAndGlyphs">75</text><text x="795.6" y="258.2" text-anchor="middle" textLength="15.5" lengthAdjust="spacingAndGlyphs">80</text></g>
<text class="ax" x="658.2" y="277.7" text-anchor="middle" textLength="89" lengthAdjust="spacingAndGlyphs">Longitude</text>
<text class="ax" transform="translate(494.2 136.7) rotate(-90) scale(1 1.33)" text-anchor="middle" textLength="59.5" lengthAdjust="spacingAndGlyphs">Latitude</text>
<text class="pl" x="806.7" y="281.5">(<tspan class="pll">b</tspan>)</text>
<text class="sn" x="541.3" y="51.3" textLength="53.2" lengthAdjust="spacingAndGlyphs">Annual</text>
<clipPath id="cc"><path d="M79.9 454.2 L85 455.4 L89.5 456.3 L95 457.7 L100 458.6 L106 458.3 L112.8 458 L118 458.4 L123.3 458.6 L125.6 456.9 L132 456.3 L137.7 455.9 L147 454.4 L154.6 452 L155.2 442.6 L162.1 438 L172.6 437.4 L175 435.1 L187.8 433.3 L193.6 431 L194.8 424 L198.3 419.3 L208.6 417 L208.1 413.5 L204.1 410 L209.8 410 L219.1 408.8 L220.3 404.2 L227.3 398.4 L227.3 393.7 L222.6 387.9 L228.5 384.4 L235.4 381.5 L242.4 379 L246.9 378.9 L259.5 379.4 L266.3 377.4 L276 377.4 L280.9 379.9 L285.7 382.4 L286.7 386.8 L290.6 389.7 L295.4 389.7 L301.3 393.1 L310 394 L314.9 397 L317.8 402.3 L322.6 403.3 L327.5 406.2 L325.1 409.1 L325.5 413.9 L330.4 418.8 L332.3 422.7 L330.4 426.1 L326.5 426.1 L323.6 423.2 L314.9 423.7 L311.9 421.2 L305.2 420.7 L299.3 418.8 L294.5 418.3 L287.7 420.7 L284.8 423.7 L278.9 427.5 L271.2 430.4 L267.3 433.4 L268.3 440.2 L264.4 443.1 L259.4 449.3 L250.9 454.7 L247.7 460.1 L242.3 464.3 L235.9 467.5 L230.6 473.4 L221 474.5 L215.1 475.5 L212.4 473.4 L208.2 474.5 L201.9 480.4 L198.6 483.6 L199.7 486.8 L206 488.9 L207.1 493.2 L208.2 497.4 L213.5 498.5 L215.6 503.8 L219.9 509.2 L218.8 512.4 L214.6 512.9 L207.1 512.4 L199.7 513.5 L189 514 L185.8 516.7 L180.5 519.3 L175.2 517.2 L168.7 514.5 L165.5 510.3 L161.3 506 L159.1 501.7 L154 500.7 L145 501.7 L137.7 502.1 L127.3 502.3 L122.7 501.4 L112.8 502.3 L100.5 503.7 L91.8 504.9 L90.9 501.4 L93 497.9 L93.3 493.8 L95.3 491.5 L100.5 488.9 L112.5 486.9 L112.8 482.2 L106.4 480.4 L106.1 472.3 L103.4 470.5 L96.5 468.8 L90.6 465.3 L85.4 458.9Z"/></clipPath>
<g clip-path="url(#cc)">
<path d="M79.9 454.2 L85 455.4 L89.5 456.3 L95 457.7 L100 458.6 L106 458.3 L112.8 458 L118 458.4 L123.3 458.6 L125.6 456.9 L132 456.3 L137.7 455.9 L147 454.4 L154.6 452 L155.2 442.6 L162.1 438 L172.6 437.4 L175 435.1 L187.8 433.3 L193.6 431 L194.8 424 L198.3 419.3 L208.6 417 L208.1 413.5 L204.1 410 L209.8 410 L219.1 408.8 L220.3 404.2 L227.3 398.4 L227.3 393.7 L222.6 387.9 L228.5 384.4 L235.4 381.5 L242.4 379 L246.9 378.9 L259.5 379.4 L266.3 377.4 L276 377.4 L280.9 379.9 L285.7 382.4 L286.7 386.8 L290.6 389.7 L295.4 389.7 L301.3 393.1 L310 394 L314.9 397 L317.8 402.3 L322.6 403.3 L327.5 406.2 L325.1 409.1 L325.5 413.9 L330.4 418.8 L332.3 422.7 L330.4 426.1 L326.5 426.1 L323.6 423.2 L314.9 423.7 L311.9 421.2 L305.2 420.7 L299.3 418.8 L294.5 418.3 L287.7 420.7 L284.8 423.7 L278.9 427.5 L271.2 430.4 L267.3 433.4 L268.3 440.2 L264.4 443.1 L259.4 449.3 L250.9 454.7 L247.7 460.1 L242.3 464.3 L235.9 467.5 L230.6 473.4 L221 474.5 L215.1 475.5 L212.4 473.4 L208.2 474.5 L201.9 480.4 L198.6 483.6 L199.7 486.8 L206 488.9 L207.1 493.2 L208.2 497.4 L213.5 498.5 L215.6 503.8 L219.9 509.2 L218.8 512.4 L214.6 512.9 L207.1 512.4 L199.7 513.5 L189 514 L185.8 516.7 L180.5 519.3 L175.2 517.2 L168.7 514.5 L165.5 510.3 L161.3 506 L159.1 501.7 L154 500.7 L145 501.7 L137.7 502.1 L127.3 502.3 L122.7 501.4 L112.8 502.3 L100.5 503.7 L91.8 504.9 L90.9 501.4 L93 497.9 L93.3 493.8 L95.3 491.5 L100.5 488.9 L112.5 486.9 L112.8 482.2 L106.4 480.4 L106.1 472.3 L103.4 470.5 L96.5 468.8 L90.6 465.3 L85.4 458.9Z" fill="#c1e4f6"/>
<path fill-rule="evenodd" d="M179.2 521.1 181.9 521.1 189.9 516.5 220.5 514.3 222.4 508.6 215.6 497.2 210.3 495.3 208 487.4 201.4 484.3 209.5 476.7 215.3 478 232.1 475.4 270.2 441.9 270 434.5 272.5 432.6 294.8 420.8 310.3 423.5 313.5 420.5 316 416.7 315.8 415.4 314.7 414.1 305.6 408.1 297.9 404 295.3 401.4 295.9 398.9 303.5 390 291.4 387.2 287.3 380.4 276.5 375 242.1 376.6 220.8 386.2 224.8 397.2 218.4 402.6 217.2 406.5 202.3 408.2 201.8 411.1 205.8 415.1 196.6 417.4 191.3 429.2 160.9 435.8 153.1 441.3 152.2 450.2 122.5 456 100.2 456 80.5 451.7 77.7 452.9 78.1 455.9 89.1 467.3 103.6 473.6 104.2 481.6 110.2 484.1 93.4 489.9 88.4 501.1 90.3 506.9 153.9 503.2 157.4 503.9 167.2 516.6Z" fill="#b8e0f6"/>
<path fill-rule="evenodd" d="M179.2 521.1 181.9 521.1 189.9 516.5 220.5 514.3 222.4 508.6 215.6 497.2 210.3 495.3 208 487.4 201.4 484.3 209.5 476.7 215.3 478 232.1 475.4 270.2 441.9 270 434.5 272.5 432.6 294.8 420.8 307.6 423.1 311.1 419.2 311.7 416.7 310.8 415.4 300.6 409.7 290.7 405.2 284.8 400.1 280.1 395 279.9 393.8 280.4 392.5 288.7 382.7 287.3 380.4 276.5 375 242.1 376.6 220.8 386.2 224.8 397.2 218.4 402.6 217.2 406.5 202.3 408.2 201.8 411.1 205.8 415.1 196.6 417.4 191.3 429.2 160.9 435.8 153.1 441.3 152.2 450.2 122.5 456 100.2 456 80.5 451.7 77.7 452.9 78.1 455.9 89.1 467.3 103.6 473.6 104.2 481.6 110.2 484.1 93.4 489.9 88.4 501.1 90.3 506.9 153.9 503.2 157.4 503.9 167.2 516.6Z" fill="#aedcf4"/>
<path fill-rule="evenodd" d="M179.2 521.1 181.9 521.1 189.9 516.5 220.5 514.3 222.4 508.6 215.6 497.2 210.3 495.3 208 487.4 201.4 484.3 209.5 476.7 215.3 478 232.1 475.4 270.2 441.9 270 434.5 272.5 432.6 294.8 420.8 305.5 422.7 307.9 419.2 308 418 307.3 416.7 295.7 410.3 287.3 407.8 282.4 404 271.5 392.5 269.4 391.2 256.3 388.4 246.5 389.7 236.6 389.1 233.9 387.4 230.2 381.9 220.8 386.2 224.8 397.2 218.4 402.6 217.2 406.5 202.3 408.2 201.8 411.1 205.8 415.1 196.6 417.4 191.3 429.2 160.9 435.8 153.1 441.3 152.2 450.2 122.5 456 100.2 456 80.5 451.7 77.7 452.9 78.1 455.9 89.1 467.3 103.6 473.6 104.2 481.6 110.2 484.1 93.4 489.9 88.4 501.1 90.3 506.9 153.9 503.2 157.4 503.9 167.2 516.6Z" fill="#a3d8f3"/>
<path fill-rule="evenodd" d="M179.2 521.1 181.9 521.1 189.9 516.5 220.5 514.3 222.4 508.6 215.6 497.2 210.3 495.3 208 487.4 201.4 484.3 209.5 476.7 215.3 478 232.1 475.4 270.2 441.9 270 434.5 272.5 432.6 294.8 420.8 303.2 422.3 304.2 420.5 304.4 419.2 303.8 418 300.6 415.7 294.1 412.4 285.9 410.8 282.6 409.5 270.3 397.6 266.2 394.8 258 392.5 254.7 392.4 248.1 393.2 239.9 391.5 233.2 391.2 225.8 388.7 221.8 385.8 220.8 386.2 224.8 397.2 218.4 402.6 217.2 406.5 202.3 408.2 201.8 411.1 205.8 415.1 196.6 417.4 191.3 429.2 160.9 435.8 153.1 441.3 152.2 450.2 122.5 456 100.2 456 80.5 451.7 77.7 452.9 78.1 455.9 89.1 467.3 103.6 473.6 104.2 481.6 110.2 484.1 93.4 489.9 88.4 501.1 90.3 506.9 153.9 503.2 157.4 503.9 167.2 516.6ZM151.2 472.7 152.9 471.4 153.4 472.7 152.9 474.1 151.8 474Z" fill="#99d3f2"/>
<path fill-rule="evenodd" d="M179.2 521.1 181.9 521.1 189.9 516.5 220.5 514.3 222.4 508.6 215.6 497.2 210.3 495.3 208 487.4 201.4 484.3 209.5 476.7 215.3 478 232.1 475.4 270.2 441.9 270 434.5 272.5 432.6 294.8 420.8 300.5 421.8 300.1 419.2 296.9 416.7 291.7 414.1 281.7 412.9 279.3 412 276 409.3 267.8 400.6 262.9 397.7 256.3 396.3 248.1 396.6 241.5 394.2 238.3 393.6 228.4 394.4 224.1 395.2 224.8 397.2 218.4 402.6 217.2 406.5 202.3 408.2 201.8 411.1 205.8 415.1 196.6 417.4 191.3 429.2 160.9 435.8 153.1 441.3 152.2 450.2 122.5 456 100.2 456 80.5 451.7 77.7 452.9 78.1 455.9 89.1 467.3 103.6 473.6 104.2 481.6 110.2 484.1 93.4 489.9 88.4 501.1 90.3 506.9 153.9 503.2 157.4 503.9 167.2 516.6ZM144.2 481.7 139.8 479.2 136.8 476.6 135.3 474 135.7 471.5 150.4 458.7 154.6 452.4 156.9 449.8 165.2 444.7 179.2 438.4 180.8 438.4 186.8 442.2 188 443.4 186.2 444.7 180.8 446.4 177.5 448.2 163 460 160.4 466.4 156.7 479.1 154.5 482.9 152.9 484 151.3 484.2Z" fill="#90cbee"/>
<path fill-rule="evenodd" d="M179.2 521.1 181.9 521.1 189.9 516.5 220.5 514.3 222.4 508.6 215.6 497.2 210.3 495.3 208 487.4 201.4 484.3 209.5 476.7 215.3 478 232.1 475.4 270.2 441.9 270 434.5 272.5 432.6 294.8 420.8 296.6 421.2 295.7 419.7 293.6 418 289.1 415.8 285.9 415.2 279.3 415.1 275.4 414.1 266.2 404.4 261.2 401.2 256.3 400.2 249.7 400 238.3 395.7 230.1 396.2 224.8 397.1 218.4 402.6 217.2 406.5 202.3 408.5 201.8 411.1 205.8 415.1 196.6 417.4 191.3 429.2 160.9 435.8 153.1 441.3 152.6 445.8 182.4 431.7 187.4 430.3 188.1 432 187.9 435.8 188.7 437.1 197.2 440.2 198.9 441.8 199.2 443.4 198.4 444.7 195.6 446.5 184.1 449.2 180.8 450.6 172.3 457.5 166 461.3 164.2 463.8 161.7 470.2 159.5 480.9 157.8 485.9 155.5 490.6 154.5 491.7 152.9 492.2 148 490.8 137.9 485.5 128.5 476.6 124.4 471.5 124.2 468.9 126.6 464 136.2 454.9 139.4 452.7 122.5 456 100.2 456 80.5 451.7 77.7 452.9 78.1 455.9 89.1 467.3 103.6 473.6 104.2 481.6 110.2 484.1 93.4 489.9 88.4 501.1 90.3 506.9 153.9 503.2 157.4 503.9 167.2 516.6Z" fill="#86c4ea"/>
<path fill-rule="evenodd" d="M179.2 521.1 181.9 521.1 189.9 516.5 220.5 514.3 222.4 508.6 215.6 497.2 210.3 495.3 208 487.4 201.4 484.3 209.5 476.7 215.3 478 232.1 475.4 270.2 441.9 270 434.5 272.5 432.6 292.7 422 291.8 420.5 289.1 418.6 285.9 417.3 276 417.2 272.6 416.7 270.6 415.4 264.5 408.4 261.2 405.6 258 404.3 249.7 403 239.9 398.4 236.6 397.7 228.4 398.2 225.1 398.8 221.8 400.1 218.4 402.6 217.2 406.5 211.9 407.1 202.9 412.2 205.8 415.1 196.6 417.4 194.8 421.5 195.9 421.8 196.1 423.1 193 430.7 193 433.3 193.9 434.2 198.9 436.7 200.6 438.4 202.6 442.2 202 444.7 199.4 447.3 195.6 449.7 184.1 453.1 176.4 458.7 169.3 462.1 167.1 463.8 163.7 471.5 161.4 484.2 159 491.9 157.6 494.4 154.5 495.6 145.3 494.4 136.5 491.8 133.2 489.6 125 482.2 116.8 475.7 114.7 472.7 113.8 468.9 115.1 462.6 114.6 458.7 115.2 457.5 117.3 456 100.2 456 80.5 451.7 77.7 452.9 78.1 455.9 89.1 467.3 103.6 473.6 104.2 481.6 110.2 484.1 93.4 489.9 88.4 501.1 90.3 506.9 153.9 503.2 157.4 503.9 167.2 516.6ZM157.8 438 162.7 435.8 164.1 435.1 160.9 435.8Z" fill="#7dbce6"/>
<path fill-rule="evenodd" d="M90.3 506.9 153.9 503.2 157.4 503.9 167.2 516.6 178.9 521.1 181.9 521.1 189.9 516.5 220.5 514.3 222.4 508.6 215.6 497.2 210.3 495.3 208 487.4 201.4 484.3 209.5 476.7 215.3 478 232.1 475.4 270.2 441.9 270 434.5 272.5 432.6 288.9 423.9 288.7 423.1 286.7 420.5 283.9 419.2 272.7 419.2 269.4 418.6 266.6 416.7 259.2 409.1 251.4 406.4 238.3 400.2 235 399.8 228.4 400.1 222.8 401.4 217.6 405 217.2 406.5 215.6 406.7 206.5 414.1 203.3 418 197.7 426.9 197.1 429.4 197.5 430.7 202.1 435.4 205.1 440.9 205.3 443.4 203.9 446 195.6 452.5 187.4 455.6 180.3 460 171 463.9 168.2 466.4 165.8 472.7 162.9 489.3 161.1 494.7 159.4 496.9 156.2 497.6 149.6 497.1 131.6 494.9 124.2 493.1 115.1 487.3 111.3 484.2 109.5 481.7 105.3 473.2 103.6 470.8 102 469.4 95.4 467.1 93.8 467.3 92.2 468.4 103.6 473.6 104.2 481.6 110.2 484.1 93.4 489.9 88.4 501.1Z" fill="#74b3e2"/>
<path fill-rule="evenodd" d="M117.2 504.6 119.2 503.3 123.3 502.7 135.8 504.3 153.9 503.2 157.4 503.9 167.2 516.6 178.9 521.1 181.9 521.1 189.9 516.5 220.5 514.3 222.4 508.6 215.6 497.2 210.3 495.3 208 487.4 201.4 484.3 209.5 476.7 215.3 478 232.1 475.4 270.2 441.9 270 434.5 272.5 432.6 285.1 426 284.3 423.1 283 421.8 280.9 421 269.4 420.9 266.2 420 256.3 411.5 238.3 402.5 235 401.9 231.7 402 226.8 402.4 223.5 403.4 220.2 405.6 208.7 416.1 203.8 421.7 201.1 425.6 200.8 428.2 205.8 435.8 207.8 440.9 208 443.4 206.7 446 200.5 451.4 193.9 456.2 183.9 461.3 172.6 465.7 170.3 467.6 168.1 472.7 165.7 489.3 164 495.7 162.7 498.2 161.1 499.1 157.8 499.5 121.7 497.3 113.5 496.3 110.2 495.5 106.9 493.8 104.9 491.9 101.7 487 93.4 489.9 88.4 501.1 90.3 506.9 116.9 505.4Z" fill="#6baade"/>
<path fill-rule="evenodd" d="M179.2 521.1 181.9 521.1 189.9 516.5 220.5 514.3 222.4 508.6 215.6 497.2 210.3 495.3 208 487.4 201.4 484.3 209.5 476.7 215.3 478 232.1 475.4 270.2 441.6 270 434.5 272.5 432.6 281.1 428 280.3 424.3 277.7 422.9 267.8 422.6 264.3 421.8 253 412.7 239.9 405.7 235 404.2 228.4 405.1 223.5 407.4 210.4 418.2 204.9 424.3 204.1 426.9 209.7 438.4 210.6 442.2 210.2 444.7 207 448.5 192.3 460.7 175.9 466.7 172.3 468.9 170.2 474 167.9 491.9 165.7 499.5 164.4 500.8 161.1 501.5 139.8 500.7 136.5 500.9 135.2 502 141.4 503.4 153.9 503.2 157.4 503.9 167.2 516.6Z" fill="#62a2da"/>
<path fill-rule="evenodd" d="M179.2 521.1 181.9 521.1 189.9 516.5 203.3 515.5 198.9 508.4 198.9 506.8 200.5 505.1 208.7 499.9 212.7 496.1 210.3 495.3 208 487.4 201.4 484.3 209.5 476.7 215.3 478 232.1 475.4 251.6 456.2 270.1 439.9 270 434.5 277.2 430.1 276.7 426.9 275.9 425.6 272.7 424.5 264.5 424 261.5 423.1 252.3 415.4 248.4 412.9 239.9 408.5 235 407.3 231.7 408.1 221.8 413.1 215.3 417.7 210.5 421.8 208.4 424.3 207.6 426.9 210.5 433.3 213.1 440.9 213.2 443.4 212.1 446 198.5 458.7 195.6 464.9 193.9 466.6 187.4 466.1 184.1 466.6 177.5 468.5 174.2 470.5 173 472.7 172.4 475.3 170.9 489.3 170.7 495.7 169.1 500.8 167.7 502.8 166 503.7 157.7 504.4 167.2 516.6Z" fill="#5a99d6"/>
<path fill-rule="evenodd" d="M184.1 507.1 187.4 506.7 190.7 505.1 209.8 493.5 208 487.4 201.4 484.3 209.5 476.7 215.3 478 229.1 475.9 246.5 458.7 270.1 438 270 434.5 273.2 432.2 272.4 428.2 271.1 426.9 269.4 426.4 262.9 425.7 259.6 424.8 246.5 414.6 241.5 412.1 238.3 411.2 235 411.7 221.8 417.6 213.6 422.7 212 424.4 211.1 426.9 215.9 440.9 216.1 443.4 214.8 446 212.7 448.5 203.3 457.5 202.1 460 200.7 467.6 198.8 472.7 197.2 474.4 195.6 474.5 187.4 470.5 182.4 470.2 177.5 471.4 175.4 474 173.7 489.3 174 491.9 176.3 495.7 175 502 175.4 503.3 177.1 504.6Z" fill="#5290d0"/>
<path fill-rule="evenodd" d="M189 500.1 193.9 498.1 208.6 489.5 208 487.4 201.4 484.3 209.5 476.7 215.3 478 225.8 476.4 241.5 461.3 266.2 439.6 268.2 437.1 269.2 434.5 268.9 432 267.8 429.4 265.6 428.2 258 426.6 244.8 416.8 239.9 415.2 236.6 416 221.8 422.3 215.8 425.6 215 426.9 215 429.4 218.9 440.9 219.1 443.4 216.6 447.3 209 454.9 207.5 457.5 206.4 467.6 202.1 480.4 200.5 482.2 198.9 482.4 187.4 475.6 182.4 474.6 179.2 475.3 177.7 477.8 176.7 486.8 177.3 490.6 182.1 494.4 185.1 499.5 187.4 500.2Z" fill="#4b88cc"/>
<path fill-rule="evenodd" d="M192.3 493.3 196.3 490.6 196.9 489.3 196.5 488 193.9 485.5 187.4 480.9 184.1 479.9 182 480.4 180.8 481.5 180 484.2 179.8 486.8 180.5 489.3 182.4 490.9 187.4 493 190.7 493.7ZM221.8 476.6 262.7 440.9 264.5 438.4 265.1 435.8 264.5 433.3 262.8 430.7 254.7 427.7 246.5 421.6 243.2 420 241.5 419.9 238.3 420.7 220.2 428.8 219.2 430.7 219.2 432 222 440.9 222.1 443.4 220.6 446 213.8 453.6 212.6 456.2 212 467.6 210.1 476.9 215.3 478Z" fill="#498abf"/>
<path fill-rule="evenodd" d="M226.8 468 233.3 463.5 254.7 446.3 259 442.2 260.6 439.6 260.7 437.1 259.6 434.3 257.7 432 253 429.8 246.5 425.7 243.2 425.2 226.8 431.3 223.9 433.3 223.6 435.8 225.1 440.9 225.1 443.4 218 453.6 217.6 456.2 217.7 461.3 218.6 464.5 220.2 466.3 223.5 468.3Z" fill="#478db2"/>
<path fill-rule="evenodd" d="M228.4 460.5 231.7 459.4 239.9 454.5 254.8 443.4 256.3 440.9 256.3 439.6 254.8 435.8 252.8 433.3 248.1 430.7 244.8 430.5 231.7 434.7 228.4 436.6 228 438.4 228.2 443.4 224.3 449.8 223.3 453.6 223.6 456.2 224.6 458.7 226.8 460.3Z" fill="#4690a5"/>
<path fill-rule="evenodd" d="M233.3 450.2 241.5 446.6 246.5 443.4 247.7 440.9 247.2 438.4 246.5 437.4 244.8 436.7 241.5 436.9 235.7 438.4 233.2 439.6 232.4 440.9 230.2 448.5 230.7 449.8 231.7 450.4Z" fill="#469698"/>
</g>
<path d="M79.9 454.2 L85 455.4 L89.5 456.3 L95 457.7 L100 458.6 L106 458.3 L112.8 458 L118 458.4 L123.3 458.6 L125.6 456.9 L132 456.3 L137.7 455.9 L147 454.4 L154.6 452 L155.2 442.6 L162.1 438 L172.6 437.4 L175 435.1 L187.8 433.3 L193.6 431 L194.8 424 L198.3 419.3 L208.6 417 L208.1 413.5 L204.1 410 L209.8 410 L219.1 408.8 L220.3 404.2 L227.3 398.4 L227.3 393.7 L222.6 387.9 L228.5 384.4 L235.4 381.5 L242.4 379 L246.9 378.9 L259.5 379.4 L266.3 377.4 L276 377.4 L280.9 379.9 L285.7 382.4 L286.7 386.8 L290.6 389.7 L295.4 389.7 L301.3 393.1 L310 394 L314.9 397 L317.8 402.3 L322.6 403.3 L327.5 406.2 L325.1 409.1 L325.5 413.9 L330.4 418.8 L332.3 422.7 L330.4 426.1 L326.5 426.1 L323.6 423.2 L314.9 423.7 L311.9 421.2 L305.2 420.7 L299.3 418.8 L294.5 418.3 L287.7 420.7 L284.8 423.7 L278.9 427.5 L271.2 430.4 L267.3 433.4 L268.3 440.2 L264.4 443.1 L259.4 449.3 L250.9 454.7 L247.7 460.1 L242.3 464.3 L235.9 467.5 L230.6 473.4 L221 474.5 L215.1 475.5 L212.4 473.4 L208.2 474.5 L201.9 480.4 L198.6 483.6 L199.7 486.8 L206 488.9 L207.1 493.2 L208.2 497.4 L213.5 498.5 L215.6 503.8 L219.9 509.2 L218.8 512.4 L214.6 512.9 L207.1 512.4 L199.7 513.5 L189 514 L185.8 516.7 L180.5 519.3 L175.2 517.2 L168.7 514.5 L165.5 510.3 L161.3 506 L159.1 501.7 L154 500.7 L145 501.7 L137.7 502.1 L127.3 502.3 L122.7 501.4 L112.8 502.3 L100.5 503.7 L91.8 504.9 L90.9 501.4 L93 497.9 L93.3 493.8 L95.3 491.5 L100.5 488.9 L112.5 486.9 L112.8 482.2 L106.4 480.4 L106.1 472.3 L103.4 470.5 L96.5 468.8 L90.6 465.3 L85.4 458.9Z" fill="none" stroke="#5d5ef2" stroke-width="1.15" stroke-linejoin="round"/>
<rect x="68.9" y="346" width="273.6" height="212.3" fill="none" stroke="#333" stroke-width="1.6"/>
<path d="M137.3 346v3.2M137.3 558.3v-3.2M205.7 346v3.2M205.7 558.3v-3.2M274.1 346v3.2M274.1 558.3v-3.2M68.9 399.1h3.2M342.5 399.1h-3.2M68.9 452.1h3.2M342.5 452.1h-3.2M68.9 505.2h3.2M342.5 505.2h-3.2" stroke="#333" stroke-width="1.5" fill="none"/>
<g class="tl"><text x="63.7" y="350.8" text-anchor="end" textLength="15.5" lengthAdjust="spacingAndGlyphs">40</text><text x="63.7" y="403.9" text-anchor="end" textLength="15.5" lengthAdjust="spacingAndGlyphs">35</text><text x="63.7" y="456.9" text-anchor="end" textLength="15.5" lengthAdjust="spacingAndGlyphs">30</text><text x="63.7" y="510" text-anchor="end" textLength="15.5" lengthAdjust="spacingAndGlyphs">25</text><text x="63.7" y="563.1" text-anchor="end" textLength="15.5" lengthAdjust="spacingAndGlyphs">20</text><text x="68.9" y="573.8" text-anchor="middle" textLength="15.5" lengthAdjust="spacingAndGlyphs">60</text><text x="137.3" y="573.8" text-anchor="middle" textLength="15.5" lengthAdjust="spacingAndGlyphs">65</text><text x="205.7" y="573.8" text-anchor="middle" textLength="15.5" lengthAdjust="spacingAndGlyphs">70</text><text x="274.1" y="573.8" text-anchor="middle" textLength="15.5" lengthAdjust="spacingAndGlyphs">75</text><text x="342.5" y="573.8" text-anchor="middle" textLength="15.5" lengthAdjust="spacingAndGlyphs">80</text></g>
<text class="ax" x="205.2" y="593.3" text-anchor="middle" textLength="89" lengthAdjust="spacingAndGlyphs">Longitude</text>
<text class="ax" transform="translate(41.2 452.1) rotate(-90) scale(1 1.33)" text-anchor="middle" textLength="59.5" lengthAdjust="spacingAndGlyphs">Latitude</text>
<text class="pl" x="356.1" y="596.8">(<tspan class="pll">c</tspan>)</text>
<text class="sn" x="88.6" y="365.9" textLength="50.8" lengthAdjust="spacingAndGlyphs">Winter</text>
<clipPath id="cd"><path d="M532.7 455.1 L537.8 456.3 L542.3 457.2 L547.8 458.6 L552.8 459.5 L558.8 459.2 L565.6 458.9 L570.8 459.3 L576.1 459.5 L578.4 457.8 L584.8 457.2 L590.5 456.8 L599.8 455.3 L607.4 453.1 L608 443.7 L614.9 439.1 L625.4 438.5 L627.8 436.2 L640.6 434.4 L646.4 432.1 L647.6 425.1 L651.1 420.4 L661.5 418.1 L661 414.6 L656.9 411.1 L662.7 411.1 L672 409.9 L673.2 405.3 L680.2 399.5 L680.2 394.8 L675.5 389 L681.4 385.5 L688.3 382.6 L695.3 380.3 L699.8 380.2 L712.4 380.7 L719.2 378.7 L728.9 378.7 L733.8 381.2 L738.6 383.5 L739.6 387.9 L743.5 390.8 L748.3 390.8 L754.2 394.2 L762.9 395.1 L767.8 398.1 L770.7 403.4 L775.5 404.4 L780.4 407.3 L778 410.2 L778.4 415 L783.3 419.9 L785.2 423.8 L783.3 427.2 L779.4 427.2 L776.5 424.3 L767.8 424.8 L764.8 422.3 L758.1 421.8 L752.2 419.9 L747.4 419.4 L740.6 421.8 L737.7 424.8 L731.8 428.6 L724.1 431.5 L720.2 434.5 L721.2 441.3 L717.3 444.2 L712.3 450.4 L703.8 455.6 L700.6 461 L695.2 465.2 L688.8 468.4 L683.5 474.3 L673.9 475.4 L668 476.4 L665.3 474.3 L661.1 475.4 L654.7 481.3 L651.4 484.5 L652.5 487.7 L658.9 489.8 L660 494.1 L661.1 498.3 L666.4 499.4 L668.5 504.7 L672.8 510.1 L671.7 513.3 L667.5 513.8 L660 513.3 L652.5 514.4 L641.8 514.9 L638.6 517.6 L633.3 520.2 L628 518.1 L621.5 515.4 L618.3 511.2 L614.1 506.9 L611.9 502.6 L606.8 501.6 L597.8 502.6 L590.5 503 L580.1 503.2 L575.5 502.3 L565.6 503.2 L553.3 504.6 L544.6 505.8 L543.7 502.3 L545.8 498.8 L546.1 494.7 L548.1 492.4 L553.3 489.8 L565.3 487.8 L565.6 483.1 L559.2 481.3 L558.9 473.2 L556.2 471.4 L549.3 469.7 L543.4 466.2 L538.2 459.8Z"/></clipPath>
<g clip-path="url(#cd)">
<path d="M532.7 455.1 L537.8 456.3 L542.3 457.2 L547.8 458.6 L552.8 459.5 L558.8 459.2 L565.6 458.9 L570.8 459.3 L576.1 459.5 L578.4 457.8 L584.8 457.2 L590.5 456.8 L599.8 455.3 L607.4 453.1 L608 443.7 L614.9 439.1 L625.4 438.5 L627.8 436.2 L640.6 434.4 L646.4 432.1 L647.6 425.1 L651.1 420.4 L661.5 418.1 L661 414.6 L656.9 411.1 L662.7 411.1 L672 409.9 L673.2 405.3 L680.2 399.5 L680.2 394.8 L675.5 389 L681.4 385.5 L688.3 382.6 L695.3 380.3 L699.8 380.2 L712.4 380.7 L719.2 378.7 L728.9 378.7 L733.8 381.2 L738.6 383.5 L739.6 387.9 L743.5 390.8 L748.3 390.8 L754.2 394.2 L762.9 395.1 L767.8 398.1 L770.7 403.4 L775.5 404.4 L780.4 407.3 L778 410.2 L778.4 415 L783.3 419.9 L785.2 423.8 L783.3 427.2 L779.4 427.2 L776.5 424.3 L767.8 424.8 L764.8 422.3 L758.1 421.8 L752.2 419.9 L747.4 419.4 L740.6 421.8 L737.7 424.8 L731.8 428.6 L724.1 431.5 L720.2 434.5 L721.2 441.3 L717.3 444.2 L712.3 450.4 L703.8 455.6 L700.6 461 L695.2 465.2 L688.8 468.4 L683.5 474.3 L673.9 475.4 L668 476.4 L665.3 474.3 L661.1 475.4 L654.7 481.3 L651.4 484.5 L652.5 487.7 L658.9 489.8 L660 494.1 L661.1 498.3 L666.4 499.4 L668.5 504.7 L672.8 510.1 L671.7 513.3 L667.5 513.8 L660 513.3 L652.5 514.4 L641.8 514.9 L638.6 517.6 L633.3 520.2 L628 518.1 L621.5 515.4 L618.3 511.2 L614.1 506.9 L611.9 502.6 L606.8 501.6 L597.8 502.6 L590.5 503 L580.1 503.2 L575.5 502.3 L565.6 503.2 L553.3 504.6 L544.6 505.8 L543.7 502.3 L545.8 498.8 L546.1 494.7 L548.1 492.4 L553.3 489.8 L565.3 487.8 L565.6 483.1 L559.2 481.3 L558.9 473.2 L556.2 471.4 L549.3 469.7 L543.4 466.2 L538.2 459.8Z" fill="#a9daf4"/>
<path fill-rule="evenodd" d="M632 522 634.8 522 642.8 517.3 673.4 515.1 675.2 509.4 668.5 498 663.1 496.2 660.9 488.3 654.3 485.2 662.3 477.7 668.2 478.9 685 476.3 723.1 442.9 722.9 435.6 725.3 433.7 747.7 421.9 763.8 424.7 767.5 427.3 775.5 426.9 779.4 429.7 784.9 429.1 787.7 423.6 780.8 413.9 782.4 405.8 772.3 401.2 764 392.9 744.3 388.3 740.1 381.6 729.4 376.2 695 377.8 673.6 387.4 677.7 398.3 671.2 403.8 670 407.6 655.1 409.3 654.7 412.3 658.7 416.2 649.4 418.5 644.2 430.3 613.7 436.9 605.9 442.3 605 451.2 575.3 457 553 457 533.3 452.7 530.5 453.9 530.9 456.9 541.9 468.3 556.4 474.6 557 482.6 563 485 546.2 490.8 541.2 501.9 543.1 507.8 606.7 504.1 610.2 504.8 620.1 517.4ZM643.5 446.6 638.9 441.9 639.1 440.7 642 438.1 651.7 431.7 655 430 656.6 429.9 657.3 433 656.6 437.1 655 440 649.8 445.7 646.8 450.8 645.1 450.7Z" fill="#94cff0"/>
<path fill-rule="evenodd" d="M632 522 634.8 522 642.8 517.3 673.4 515.1 675.2 509.4 668.5 498 663.1 496.2 660.9 488.3 654.3 485.2 662.3 477.7 668.2 478.9 685 476.3 723.1 442.9 722.9 435.6 725.3 433.7 747.7 421.9 763.8 424.7 767.5 427.3 775.5 426.9 779.4 429.7 784.9 429.1 787.7 423.6 780.8 413.9 782.4 405.8 772.3 401.2 764 392.9 744.3 388.3 741.7 384 737.1 387.4 712.5 400.1 710.8 400.8 709.2 400.7 704.3 399.5 700.1 397.5 696.7 393.7 697.6 388.6 698.3 377.6 695 377.8 673.6 387.4 677.7 398.3 671.2 403.8 670 407.6 655.1 409.3 654.7 412.3 658.7 416.2 649.4 418.5 644.2 430.3 613.7 436.9 605.9 442.3 605 451.2 575.3 457 553 457 533.3 452.7 530.5 453.9 530.9 456.9 541.9 468.3 556.4 474.6 557 482.6 563 485 546.2 490.8 541.2 501.9 543.1 507.8 606.7 504.1 610.2 504.8 620.1 517.4ZM635.3 455.9 628.4 449.6 627.6 448.3 627.7 447 633.7 443.2 637 439.4 651.7 428.7 659.9 423.1 663.2 421.6 663.8 422.9 663.4 424.1 660 430.5 658.3 437.9 656.6 441.6 651.6 448.3 650.6 450.8 650.1 454.7 648.4 456 638.6 456.7Z" fill="#82c0e8"/>
<path fill-rule="evenodd" d="M632 522 634.8 522 642.8 517.3 673.4 515.1 675.2 509.4 668.5 498 663.1 496.2 660.9 488.3 654.3 485.2 662.3 477.7 668.2 478.9 685 476.3 723.1 442.9 722.9 435.6 725.3 433.7 747.7 421.9 763.8 424.7 767.5 427.3 775.5 426.9 779.4 429.7 784.9 429.1 787.7 423.6 780.8 413.9 782.4 405.8 772.3 401.2 764 392.9 744.3 388.3 742.2 384.9 737.1 388.5 710.8 402.2 704.3 401.8 694.4 399 689.5 399.3 678 401.8 676.5 399.3 671.2 403.8 670 407.6 659.7 408.8 654.9 410.6 654.7 412.3 658.7 416.2 649.4 418.5 647.7 422.4 666.5 414.9 668.1 414.7 669.4 415.3 670 417.8 661.9 430.5 660.3 436.8 658.3 442.4 653.4 450.8 653 455.9 651.7 458 650.1 458.8 640.2 460 635.3 459.3 633.6 458.4 629.3 454.6 625.4 450.4 624.4 448.3 625.5 445.7 642.8 431.8 645.2 429.2 645.1 428.1 644.2 430.3 613.7 436.9 605.9 442.3 605 451.2 575.3 457 553 457 533.3 452.7 530.5 453.9 530.9 456.9 541.9 468.3 556.4 474.6 557 482.6 563 485 546.2 490.8 541.2 501.9 543.1 507.8 606.7 504.1 610.2 504.8 620.1 517.4ZM604.1 480 604.2 477.5 605.7 474.3 607.4 472 609 472 611.3 477.5 610.7 480.4 609 482.4 607.4 483.3 605.7 483.1 605.2 482.6Z" fill="#6fafe0"/>
<path fill-rule="evenodd" d="M632 522 634.8 522 642.8 517.3 673.4 515.1 675.2 509.4 668.5 498 663.1 496.2 660.9 488.3 654.3 485.2 662.3 477.7 668.2 478.9 685 476.3 723.1 442.9 722.9 435.6 725.3 433.7 747.7 421.9 763.8 424.7 767.5 427.3 775.5 426.9 779.4 429.7 784.9 429.1 787.7 423.6 780.8 413.9 782.4 405.8 772.3 401.2 764 392.9 744.3 388.3 742.6 385.6 738.6 388.6 715.8 400 710.8 403.7 702.6 403.6 694.4 400.9 691.1 400.9 687.8 401.7 679.9 405.1 676.1 407.6 672.9 417.8 663.2 431.8 661.6 438.1 658.3 446.8 656.2 450.8 654.3 457.2 651.7 460 645.1 462.2 638.6 462.2 632 460 623.3 452.1 621.4 449.6 620.5 446.2 618.9 445.4 605.6 444.9 605 451.2 575.3 457 553 457 533.3 452.7 530.5 453.9 530.9 456.9 541.9 468.3 556.4 474.6 557 482.6 563 485 546.2 490.8 541.2 501.9 543.1 507.8 606.7 504.1 610.2 504.8 620.1 517.4ZM599.2 487.7 597 483.8 595.8 476.2 596.2 473.7 599.1 467.3 599.1 466.1 597.7 463.5 597.8 462.3 602.4 461 609 460.4 610.7 461.2 611.9 464.8 615.4 471.1 616.8 475 616.6 477.5 612.3 484.7 607.4 489.4 604.1 491.7 602.4 491.5Z" fill="#5d9dd8"/>
<path fill-rule="evenodd" d="M632 522 634.8 522 642.8 517.3 673.4 515.1 675.2 509.4 668.5 498 663.1 496.2 660.9 488.3 654.3 485.2 662.3 477.7 668.2 478.9 685 476.3 723.1 442.9 722.9 435.6 725.3 433.7 747.7 421.9 763.8 424.7 767.5 427.3 775.5 426.9 779.4 429.7 784.9 429.1 787.7 423.6 780.8 413.9 782.4 405.8 772.3 401.2 764 392.9 744.3 388.3 743.2 386.5 738.7 389.7 715.3 401.3 714 402.6 714.1 405.7 702.6 405.8 692.8 402.5 689.5 402.9 687.4 403.8 682.8 406.4 679.8 408.9 675.3 417.8 665.7 430.5 660.5 445.7 655.8 457.2 654.2 459.7 651.7 461.6 648.4 463.2 645.1 464 638.6 463.8 633.6 462.9 629.8 461 617.2 450.4 613.8 450.8 603.5 454.6 605.7 455.1 612.3 454.9 613.9 455.8 615.7 464.8 620.5 472.4 621 475 620.5 477.7 618.9 481 615.6 486.5 610 492.7 608 497.8 606.3 499.1 600.8 500.8 597.5 501.3 593.2 500.4 592.8 492.7 590 487.7 589.3 484.9 587.7 473.7 588.3 468.6 587.7 467.2 584.4 463.9 582.7 462.9 581.1 462.9 577.8 464.4 576.2 464.6 574.1 461 571.2 460.1 561.4 458.9 546.6 458.1 544.9 458.4 543.9 459.7 543.9 462.3 539 465.3 541.9 468.3 556.4 474.6 557 482.6 563 485 546.2 490.8 541.2 501.9 543.1 507.8 606.7 504.1 610.2 504.8 620.1 517.4Z" fill="#4e8cce"/>
<path fill-rule="evenodd" d="M632 522 634.8 522 642.8 517.3 673.4 515.1 675.2 509.4 668.5 498 663.1 496.2 660.9 488.3 654.3 485.2 662.3 477.7 668.2 478.9 685 476.3 723.1 442.9 722.9 435.6 725.3 433.7 747.7 421.9 763.8 424.7 767.5 427.3 775.5 426.9 779.4 429.7 784.9 429.1 787.7 423.6 780.8 413.9 782.4 405.8 772.3 401.2 764 392.9 758.6 391.6 728.9 414.6 725.6 416.1 722.3 416.5 719 416.1 717.4 414.6 715.4 410.2 714.2 408.9 712.5 408.2 702.6 408.5 692.8 404.4 689.5 404.9 685.2 407.6 681.3 411.3 677.6 417.8 667.7 430.5 666.4 433 659.9 451.3 656.6 458.4 653.3 462 646.8 465.1 633.6 464.6 629.9 463.5 620.5 456.8 619.3 457.2 618.8 459.7 619.3 464.8 623.1 472.4 622.6 478.8 620.5 484.3 616 492.7 613.4 502.9 612.3 504 610.1 504.8 620.1 517.4ZM594.2 504.8 581.1 503.9 579.8 504.2 582.7 504.5 584.4 505.4ZM572.9 505.9 574.8 504.2 572.9 503.1 566.3 502.7 564.8 502.9 563 504 561.4 504 559.7 502.4 558.1 502.3 555 504.2 554.8 505.4 553.6 505.4 553.2 506.7 551.5 506.7 552.2 507.3Z" fill="#488cb8"/>
<path fill-rule="evenodd" d="M632 522 634.8 522 642.8 517.3 658.1 516.2 655 510.5 655.9 509.3 659.6 506.7 663.2 502.4 668.8 498.6 668.5 498 663.1 496.2 660.9 488.3 654.3 485.2 662.3 477.7 668.2 478.9 685 476.3 723.1 442.9 722.9 435.6 725.3 433.7 747.7 421.9 763.8 424.7 767.5 427.3 775.5 426.9 779.4 429.7 784.9 429.1 787.7 423.6 783.9 418.3 732.2 418.3 719 417.8 716.5 416.5 714.1 413 712.5 411.7 701 412 692.8 407.6 691.1 407.5 689.5 408.2 682.9 413.5 668.8 431.8 661.7 450.8 657.2 459.7 655 462.4 650.1 465.2 645.1 466.2 630.4 465.5 625.4 463.5 623.6 463.5 623.5 466.1 624.9 471.1 624.2 480 620.9 490.2 621 495.3 619.8 500.4 619.2 506.7 618.7 508 617.2 509.3 614 509.6 620.1 517.4Z" fill="#46939e"/>
<path fill-rule="evenodd" d="M632 522 634.8 522 642.8 517.3 655.6 516.4 653 511.8 652.6 508 656.4 502.9 661.9 491.7 660.9 488.3 654.3 485.2 662.3 477.7 668.9 478.8 671.4 477 679.6 474.4 680.8 475 680 477.1 685 476.3 723.1 442.9 722.9 435.6 725.3 433.7 747.7 421.9 763.8 424.7 767.5 427.3 775.5 426.9 779.4 429.7 784.9 429.1 787.7 423.6 784.7 419.4 722.3 419.4 717.4 418.9 715.2 417.8 712.5 415.4 699.3 415.5 694.4 413.8 691.1 414.2 684.6 416.4 678 422.7 670 433 662.6 452.1 658.6 459.7 655 464.6 653.3 465.5 646.8 466.9 630.4 466.8 628.7 467 627.1 467.9 625.7 476.2 625.6 482.6 623.7 490.2 625.5 499.1 624.6 510.5 623.8 516.9 622.3 518.3Z" fill="#479d84"/>
<path fill-rule="evenodd" d="M632 522 634.8 522 642.8 517.3 653.3 516.6 650.1 511.4 646.8 510.6 646.7 509.3 652.7 501.6 654.9 495.3 658.7 487.3 654.3 485.2 662.3 477.7 663.1 477.8 664.8 475.1 671.8 472.4 684.6 469.9 686.3 471.1 683.5 476.6 685 476.3 723.1 442.9 722.9 435.6 725.3 433.7 747.7 421.9 763.8 424.7 767.5 427.3 775.5 426.9 779.4 429.7 784.9 429.1 787.7 423.6 785.3 420.2 733.8 420.2 725.6 420.9 717.4 420.3 712.5 419 709.2 418.7 687.8 419.7 682.9 421.1 679.6 423.6 672 433 664.1 452.1 656.6 465.8 655.3 467.3 632 467.8 629 468.6 628.2 469.9 626.9 476.2 627.2 483.8 626.4 490.2 629.2 501.6 631.1 506.7 629.7 513.1 629.5 521Z" fill="#46a767"/>
<path fill-rule="evenodd" d="M786.1 421.4 733.8 421.4 727.2 422.5 702.6 421.3 687.8 423.5 681.3 425.4 678 428.3 673.1 434.5 665.6 452.1 659.2 463.5 657.8 468.6 656.9 469.9 655 470.2 646.8 468.7 635.3 468.7 632 468.9 630 469.9 628.2 476.2 628 478.8 628.7 488.9 631.8 501.6 634.2 504.2 640.2 508.2 641.9 508.8 643.5 508.5 649.2 502.9 650.7 500.4 651.7 491.4 659.9 473.5 661.6 472.4 669.8 470 676.3 469.7 687.8 467.5 689.5 468.3 688.5 472.4 689.1 472.7 723.1 442.9 722.9 435.6 725.3 433.7 747.7 421.9 763.8 424.7 767.5 427.3 775.5 426.9 779.4 429.7 784.9 429.1 787.7 423.6ZM687.8 473.2 687.7 473.7 687.8 473.9 688.1 473.6Z" fill="#48b14b"/>
<path fill-rule="evenodd" d="M731.2 430.5 728.9 428.3 727.2 425 709.2 423.6 702.6 423.7 691.1 426.5 682.9 427.8 681.3 428.6 676.3 433.3 673.8 436.8 667.1 452.1 660.9 463.5 660.5 467.3 661.6 468.8 668.1 467.6 676.3 468 684.6 466.8 691.1 464.6 692.4 464.8 693.3 467.3 694.9 467.7 723.1 442.9 722.9 435.6ZM641.9 506.5 643.5 506.2 645.1 504.9 648.7 500.4 649.3 486.4 655.4 473.7 654.6 472.4 653.3 471.9 646.8 470 632.9 469.9 631.1 471.1 629.2 477.5 630.1 486.4 632.6 497.8 633.6 500.4 635.3 502.4 639.5 505.4Z" fill="#6abb4e"/>
<path fill-rule="evenodd" d="M728.9 430.5 725.6 427.2 717.4 427.2 707.5 425.7 694.4 428 682.9 430.9 676.3 436.3 674.7 438.6 668.6 452.1 663.2 462.3 663.2 464.8 676.3 466.4 684.6 465.4 691.1 462.6 694.4 461.8 696 462.3 695.3 466.1 696 466.6 723.1 442.9 722.9 435.6 730.2 431.1ZM642.4 504.2 644.8 502.9 646.6 500.4 647.2 496.5 647.2 485.1 652.6 475 651.7 473.3 645.1 471.2 636.9 470.6 633.6 470.9 632.1 472.4 630.4 477.5 631.1 485.1 634.2 496.5 635.3 499 639.1 502.9Z" fill="#8dc652"/>
<path fill-rule="evenodd" d="M728.9 431.6 724 428.9 717.4 429.4 707.5 427.8 694.4 429.5 684.6 433.1 678 437.7 676.3 439.4 666.7 458.4 665.9 461 666 462.3 668.1 463.3 674.7 464.5 682.9 464.1 686.2 463.3 691.1 460.7 697.7 459.2 699.1 459.7 699.7 462.3 700.4 462.8 723.1 442.9 722.9 435.6ZM643.1 501.6 644.4 500.4 645.1 497.8 645.4 485.1 649.4 477.5 649.8 475 647.8 473.7 643.5 472.5 635.3 471.8 633.6 472.7 631.6 477.5 632 483.8 636.9 497.4 640.2 501.2 641.9 501.9Z" fill="#b2d156"/>
<path fill-rule="evenodd" d="M728.1 432.2 722.3 430.7 717.4 431 707.5 429.6 697.7 430.3 693 431.8 684.6 436 678 440.5 674.7 445.5 669.8 455.9 669.2 459.7 670.8 461 674.7 462 681.5 462.3 684.6 461.7 689.5 459.3 701 456.8 701.6 457.2 701.4 459.7 702 461.4 723.1 442.9 722.9 435.6ZM641.9 498.2 643.5 494 644 483.8 647.3 477.5 647.4 476.2 645.9 475 641.9 473.8 636.9 473 635.3 473.3 633.9 475 632.9 477.5 632.6 480 633.3 483.8 638.2 495.3 640.2 497.5Z" fill="#d2db58"/>
<path fill-rule="evenodd" d="M726.7 433 705.9 431.4 698.7 431.8 694.4 433 682.9 439.3 679.5 441.9 676.3 446.2 673.9 450.8 672.6 454.6 673 457.2 676.3 459.3 681.3 459.8 702.6 454.1 705.9 454.3 706.4 454.6 706.2 455.9 703.9 458.4 703.4 460.2 723.1 442.9 722.9 435.6ZM641 491.5 642.7 482.6 644.9 477.5 643.5 476 636.9 474.7 635.3 475.6 634.2 477.5 633.8 480 634.2 482.6 638.6 490.7 640.2 492.7Z" fill="#f2e45a"/>
<path fill-rule="evenodd" d="M723.7 434.9 707.5 433.3 699.3 433.7 696 434.7 684.6 440.8 681.3 443.1 676.6 449.6 675.8 452.1 676.1 453.4 678.4 455.9 681.3 457 697.7 453.6 710.8 448.7 712.5 448.4 715.9 449.3 723.1 442.9 722.9 435.6ZM638.6 486.6 640.2 485.6 642.3 478.8 641.7 477.5 640.2 476.8 636.9 476.6 635.3 478.5 635.2 481.3 636.9 485Z" fill="#f5cd51"/>
<path fill-rule="evenodd" d="M722.9 437.1 709.2 435.5 701 435.9 697.7 436.7 686.2 442.2 682.9 444.4 679.9 448.3 679.2 450.8 681.3 453.4 684.6 453.8 697.7 451.1 704.3 447.9 707.5 447 710.8 446.7 716.7 448.5 723.1 442.9ZM638.6 482.2 639.5 480 638.9 478.8 636.9 479.4 637 481.3Z" fill="#f5b447"/>
<path fill-rule="evenodd" d="M723 438.8 709.2 437.9 701 438.4 686.2 444.7 683.5 447 682.8 449.6 684.6 450.7 692 449.6 705.9 444.2 712.5 444.2 713.5 445.7 715.4 447 717.6 447.7 723.1 442.9Z" fill="#f49c3d"/>
<path d="M671.6 395.4 L708.3 395.4 L739.7 422.4 L760.7 422.4 L805.2 438.2 L805.2 364.8 L671.6 364.8Z" fill="#fff"/>
</g>
<path d="M532.7 455.1 L537.8 456.3 L542.3 457.2 L547.8 458.6 L552.8 459.5 L558.8 459.2 L565.6 458.9 L570.8 459.3 L576.1 459.5 L578.4 457.8 L584.8 457.2 L590.5 456.8 L599.8 455.3 L607.4 453.1 L608 443.7 L614.9 439.1 L625.4 438.5 L627.8 436.2 L640.6 434.4 L646.4 432.1 L647.6 425.1 L651.1 420.4 L661.5 418.1 L661 414.6 L656.9 411.1 L662.7 411.1 L672 409.9 L673.2 405.3 L680.2 399.5 L680.2 394.8 L675.5 389 L681.4 385.5 L688.3 382.6 L695.3 380.3 L699.8 380.2 L712.4 380.7 L719.2 378.7 L728.9 378.7 L733.8 381.2 L738.6 383.5 L739.6 387.9 L743.5 390.8 L748.3 390.8 L754.2 394.2 L762.9 395.1 L767.8 398.1 L770.7 403.4 L775.5 404.4 L780.4 407.3 L778 410.2 L778.4 415 L783.3 419.9 L785.2 423.8 L783.3 427.2 L779.4 427.2 L776.5 424.3 L767.8 424.8 L764.8 422.3 L758.1 421.8 L752.2 419.9 L747.4 419.4 L740.6 421.8 L737.7 424.8 L731.8 428.6 L724.1 431.5 L720.2 434.5 L721.2 441.3 L717.3 444.2 L712.3 450.4 L703.8 455.6 L700.6 461 L695.2 465.2 L688.8 468.4 L683.5 474.3 L673.9 475.4 L668 476.4 L665.3 474.3 L661.1 475.4 L654.7 481.3 L651.4 484.5 L652.5 487.7 L658.9 489.8 L660 494.1 L661.1 498.3 L666.4 499.4 L668.5 504.7 L672.8 510.1 L671.7 513.3 L667.5 513.8 L660 513.3 L652.5 514.4 L641.8 514.9 L638.6 517.6 L633.3 520.2 L628 518.1 L621.5 515.4 L618.3 511.2 L614.1 506.9 L611.9 502.6 L606.8 501.6 L597.8 502.6 L590.5 503 L580.1 503.2 L575.5 502.3 L565.6 503.2 L553.3 504.6 L544.6 505.8 L543.7 502.3 L545.8 498.8 L546.1 494.7 L548.1 492.4 L553.3 489.8 L565.3 487.8 L565.6 483.1 L559.2 481.3 L558.9 473.2 L556.2 471.4 L549.3 469.7 L543.4 466.2 L538.2 459.8Z" fill="none" stroke="#5d5ef2" stroke-width="1.15" stroke-linejoin="round"/>
<rect x="521.7" y="347.3" width="273.7" height="211.7" fill="none" stroke="#333" stroke-width="1.6"/>
<path d="M590.1 347.3v3.2M590.1 559v-3.2M658.5 347.3v3.2M658.5 559v-3.2M727 347.3v3.2M727 559v-3.2M521.7 400.2h3.2M795.4 400.2h-3.2M521.7 453.1h3.2M795.4 453.1h-3.2M521.7 506.1h3.2M795.4 506.1h-3.2" stroke="#333" stroke-width="1.5" fill="none"/>
<g class="tl"><text x="516.5" y="352.1" text-anchor="end" textLength="15.5" lengthAdjust="spacingAndGlyphs">40</text><text x="516.5" y="405" text-anchor="end" textLength="15.5" lengthAdjust="spacingAndGlyphs">35</text><text x="516.5" y="457.9" text-anchor="end" textLength="15.5" lengthAdjust="spacingAndGlyphs">30</text><text x="516.5" y="510.9" text-anchor="end" textLength="15.5" lengthAdjust="spacingAndGlyphs">25</text><text x="516.5" y="563.8" text-anchor="end" textLength="15.5" lengthAdjust="spacingAndGlyphs">20</text><text x="521.7" y="574.5" text-anchor="middle" textLength="15.5" lengthAdjust="spacingAndGlyphs">60</text><text x="590.1" y="574.5" text-anchor="middle" textLength="15.5" lengthAdjust="spacingAndGlyphs">65</text><text x="658.5" y="574.5" text-anchor="middle" textLength="15.5" lengthAdjust="spacingAndGlyphs">70</text><text x="727" y="574.5" text-anchor="middle" textLength="15.5" lengthAdjust="spacingAndGlyphs">75</text><text x="795.4" y="574.5" text-anchor="middle" textLength="15.5" lengthAdjust="spacingAndGlyphs">80</text></g>
<text class="ax" x="658" y="594" text-anchor="middle" textLength="89" lengthAdjust="spacingAndGlyphs">Longitude</text>
<text class="ax" transform="translate(494 453.1) rotate(-90) scale(1 1.33)" text-anchor="middle" textLength="59.5" lengthAdjust="spacingAndGlyphs">Latitude</text>
<text class="pl" x="806.7" y="597.7">(<tspan class="pll">d</tspan>)</text>
<text class="sn" x="541.7" y="366.7" textLength="50.4" lengthAdjust="spacingAndGlyphs">Winter</text>
<clipPath id="ce"><path d="M77.8 771.9 L82.9 773.1 L87.4 774 L92.9 775.4 L98 776.3 L104 776 L110.8 775.7 L116 776.1 L121.3 776.3 L123.6 774.6 L130 774 L135.7 773.6 L145 772.1 L152.7 769.8 L153.3 760.4 L160.2 755.7 L170.7 755.1 L173.1 752.8 L185.9 751 L191.7 748.7 L192.9 741.7 L196.4 737 L206.9 734.7 L206.4 731.2 L202.2 727.6 L208.1 727.6 L217.4 726.4 L218.6 721.8 L225.6 716 L225.6 711.3 L220.9 705.5 L226.8 701.9 L233.7 699 L240.7 696.6 L245.2 696.5 L257.8 697 L264.7 695 L274.4 695 L279.3 697.5 L284.1 699.9 L285.1 704.4 L289 707.3 L293.8 707.3 L299.7 710.7 L308.4 711.6 L313.3 714.6 L316.3 719.9 L321.1 720.9 L326 723.8 L323.6 726.7 L324 731.6 L328.9 736.5 L330.8 740.4 L328.9 743.8 L325 743.8 L322.1 740.9 L313.3 741.4 L310.3 738.9 L303.6 738.4 L297.7 736.5 L292.9 736 L286.1 738.4 L283.2 741.4 L277.3 745.2 L269.6 748.1 L265.7 751.1 L266.7 758 L262.8 760.9 L257.7 767.1 L249.2 772.4 L246 777.8 L240.6 782 L234.2 785.3 L228.9 791.2 L219.3 792.3 L213.4 793.3 L210.7 791.2 L206.5 792.3 L200 798.2 L196.7 801.4 L197.8 804.6 L204.3 806.7 L205.4 811.1 L206.5 815.3 L211.8 816.4 L213.9 821.7 L218.2 827.1 L217.1 830.3 L212.9 830.8 L205.4 830.3 L197.8 831.4 L187.1 831.9 L183.9 834.6 L178.6 837.3 L173.3 835.1 L166.8 832.4 L163.6 828.2 L159.4 823.9 L157.2 819.6 L152.1 818.6 L143 819.6 L135.7 820 L125.3 820.2 L120.7 819.3 L110.8 820.2 L98.5 821.6 L89.7 822.8 L88.8 819.3 L90.9 815.8 L91.2 811.7 L93.2 809.3 L98.5 806.7 L110.5 804.7 L110.8 800 L104.4 798.2 L104.1 790.1 L101.4 788.3 L94.5 786.6 L88.5 783 L83.3 776.6Z"/></clipPath>
<g clip-path="url(#ce)">
<path d="M77.8 771.9 L82.9 773.1 L87.4 774 L92.9 775.4 L98 776.3 L104 776 L110.8 775.7 L116 776.1 L121.3 776.3 L123.6 774.6 L130 774 L135.7 773.6 L145 772.1 L152.7 769.8 L153.3 760.4 L160.2 755.7 L170.7 755.1 L173.1 752.8 L185.9 751 L191.7 748.7 L192.9 741.7 L196.4 737 L206.9 734.7 L206.4 731.2 L202.2 727.6 L208.1 727.6 L217.4 726.4 L218.6 721.8 L225.6 716 L225.6 711.3 L220.9 705.5 L226.8 701.9 L233.7 699 L240.7 696.6 L245.2 696.5 L257.8 697 L264.7 695 L274.4 695 L279.3 697.5 L284.1 699.9 L285.1 704.4 L289 707.3 L293.8 707.3 L299.7 710.7 L308.4 711.6 L313.3 714.6 L316.3 719.9 L321.1 720.9 L326 723.8 L323.6 726.7 L324 731.6 L328.9 736.5 L330.8 740.4 L328.9 743.8 L325 743.8 L322.1 740.9 L313.3 741.4 L310.3 738.9 L303.6 738.4 L297.7 736.5 L292.9 736 L286.1 738.4 L283.2 741.4 L277.3 745.2 L269.6 748.1 L265.7 751.1 L266.7 758 L262.8 760.9 L257.7 767.1 L249.2 772.4 L246 777.8 L240.6 782 L234.2 785.3 L228.9 791.2 L219.3 792.3 L213.4 793.3 L210.7 791.2 L206.5 792.3 L200 798.2 L196.7 801.4 L197.8 804.6 L204.3 806.7 L205.4 811.1 L206.5 815.3 L211.8 816.4 L213.9 821.7 L218.2 827.1 L217.1 830.3 L212.9 830.8 L205.4 830.3 L197.8 831.4 L187.1 831.9 L183.9 834.6 L178.6 837.3 L173.3 835.1 L166.8 832.4 L163.6 828.2 L159.4 823.9 L157.2 819.6 L152.1 818.6 L143 819.6 L135.7 820 L125.3 820.2 L120.7 819.3 L110.8 820.2 L98.5 821.6 L89.7 822.8 L88.8 819.3 L90.9 815.8 L91.2 811.7 L93.2 809.3 L98.5 806.7 L110.5 804.7 L110.8 800 L104.4 798.2 L104.1 790.1 L101.4 788.3 L94.5 786.6 L88.5 783 L83.3 776.6Z" fill="#a3d8f3"/>
<path fill-rule="evenodd" d="M177.3 839.1 180 839.1 188.1 834.4 218.7 832.2 220.6 826.4 213.9 815 208.5 813.1 206.2 805.2 199.6 802.1 207.7 794.5 213.5 795.8 230.4 793.2 268.5 759.6 268.3 752.2 270.8 750.3 293.2 738.5 309.4 741.3 313 743.9 314.2 743.3 316.6 740.7 317.8 738.2 316.8 735.6 300.3 725.4 298.9 724.1 298.6 722.9 297.7 716.5 298.2 715.2 299.5 713.9 309.3 709.3 289.8 704.8 285.6 698 274.8 692.6 240.4 694.1 219 703.8 223.1 714.8 216.6 720.3 215.4 724.2 200.5 725.9 200 728.8 204.1 732.7 194.8 735.1 189.5 746.9 159 753.5 151.2 759 150.3 767.9 120.5 773.8 98.1 773.8 78.4 769.5 75.6 770.7 76 773.6 87.1 785.1 101.6 791.4 102.2 799.5 108.2 801.9 91.4 807.7 86.4 818.9 88.2 824.8 152 821.1 155.5 821.8 165.4 834.5Z" fill="#99d3f2"/>
<path fill-rule="evenodd" d="M177.3 839.1 180 839.1 188.1 834.4 218.7 832.2 220.6 826.4 213.9 815 208.5 813.1 206.2 805.2 199.6 802.1 207.7 794.5 213.5 795.8 230.4 793.2 268.5 759.6 268.3 752.2 270.8 750.3 293.2 738.5 309.4 741.3 311.4 742.8 313.6 739.5 313.7 738.2 312.9 736.9 294.7 726.7 289.3 721.6 287.4 719 286.5 716.5 286.6 713.9 287.5 712 289.2 711.6 294.1 712.1 303.4 707.9 289.8 704.8 285.6 698 274.8 692.6 254.6 693.5 252.5 703.7 251.3 704.9 249.7 705.3 238.2 705.7 236.5 705.1 228.2 699.7 219 703.8 223.1 714.8 216.6 720.3 215.4 724.2 200.5 725.9 200 728.8 204.1 732.7 194.8 735.1 189.5 746.9 159 753.5 151.2 759 150.3 767.9 120.5 773.8 98.1 773.8 78.4 769.5 75.6 770.7 76 773.6 87.1 785.1 101.6 791.4 102.2 799.5 108.2 801.9 91.4 807.7 86.4 818.9 88.2 824.8 152 821.1 155.5 821.8 165.4 834.5Z" fill="#90cbee"/>
<path fill-rule="evenodd" d="M177.3 839.1 180 839.1 188.1 834.4 218.7 832.2 220.6 826.4 213.9 815 208.5 813.1 206.2 805.2 199.6 802.1 207.7 794.5 213.5 795.8 230.4 793.2 268.5 759.6 268.3 752.2 270.8 750.3 293.2 738.5 309.9 741.7 310.8 739.5 310.2 738.2 292.5 728.5 284.5 721.6 277.7 714.6 266.1 708.3 261.2 706.9 251.3 709 236.5 708.7 234.9 708.2 230.6 703.7 225.6 700.8 219 703.8 223.1 714.8 216.6 720.3 215.4 724.2 200.5 725.9 200 728.8 204.1 732.7 194.8 735.1 189.5 746.9 159 753.5 151.2 759 150.3 767.9 120.5 773.8 98.1 773.8 78.4 769.5 75.6 770.7 76 773.6 87.1 785.1 101.6 791.4 102.2 799.5 108.2 801.9 91.4 807.7 86.4 818.9 88.2 824.8 152 821.1 155.5 821.8 165.4 834.5Z" fill="#86c4ea"/>
<path fill-rule="evenodd" d="M177.3 839.1 180 839.1 188.1 834.4 218.7 832.2 220.6 826.4 213.9 815 208.5 813.1 206.2 805.2 199.6 802.1 207.7 794.5 213.5 795.8 230.4 793.2 268.5 759.6 268.3 752.2 270.8 750.3 293.2 738.5 307.8 741 307.6 739.5 305.6 738 290.8 730.5 277.7 719.3 274.4 717.4 259.6 712.2 251.3 712.6 241.5 711 233.2 711.7 228.3 712.9 226.7 712.3 223.4 708.5 220.2 707 223.1 714.8 216.6 720.3 215.4 724.2 200.5 725.9 200 728.8 204.1 732.7 194.8 735.1 189.5 746.9 159 753.5 151.2 759 150.3 767.9 120.5 773.8 98.1 773.8 78.4 769.5 75.6 770.7 76 773.6 87.1 785.1 101.6 791.4 102.2 799.5 108.2 801.9 91.4 807.7 86.4 818.9 88.2 824.8 152 821.1 155.5 821.8 165.4 834.5Z" fill="#7dbce6"/>
<path fill-rule="evenodd" d="M177.3 839.1 180 839.1 188.1 834.4 218.7 832.2 220.6 826.4 213.9 815 208.5 813.1 206.2 805.2 199.6 802.1 207.7 794.5 213.5 795.8 230.4 793.2 268.5 759.6 268.3 752.2 270.8 750.3 293.2 738.5 304.7 740.5 302.3 738.8 288 731.8 276 721.5 272.7 719.7 243.1 713.6 234.9 713.4 229.9 714.6 221.7 717.8 219.6 717.8 216.6 720.3 215.4 724.2 200.5 725.9 200 728.8 204.1 732.7 194.8 735.1 189.5 746.9 159 753.5 151.2 759 150.3 767.9 120.5 773.8 98.1 773.8 78.4 769.5 75.6 770.7 76 773.6 87.1 785.1 101.6 791.4 102.2 799.5 108.2 801.9 91.4 807.7 86.4 818.9 88.2 824.8 152 821.1 155.5 821.8 165.4 834.5ZM219.6 717.8 223 715.2 223.8 713.9 223.9 712.7 223.3 711.4 221.2 709.8 223.1 714.8Z" fill="#74b3e2"/>
<path fill-rule="evenodd" d="M177.3 839.1 180 839.1 188.1 834.4 218.7 832.2 220.6 826.4 213.9 815 208.5 813.1 206.2 805.2 199.6 802.1 207.7 794.5 213.5 795.8 230.4 793.2 268.5 759.6 268.3 752.2 270.8 750.3 293.2 738.5 299.2 739.6 285.2 733.1 274.4 723.6 271.1 721.9 243.1 716 233.2 715.3 229.9 716.1 225 718.4 215.7 723.3 215.4 724.2 213.5 724.4 205.3 728 202.9 728 203.1 726.7 204.6 725.4 200.5 725.9 200 728.8 204.1 732.7 194.8 735.1 189.5 746.9 159 753.5 151.2 759 150.3 767.9 120.5 773.8 98.1 773.8 78.4 769.5 75.6 770.7 76 773.6 87.1 785.1 101.6 791.4 102.2 799.5 108.2 801.9 91.4 807.7 86.4 818.9 88.2 824.8 152 821.1 155.5 821.8 165.4 834.5Z" fill="#6baade"/>
<path fill-rule="evenodd" d="M177.3 839.1 180 839.1 188.1 834.4 218.7 832.2 220.6 826.4 213.9 815 208.5 813.1 206.2 805.2 199.6 802.1 207.7 794.5 213.5 795.8 230.4 793.2 268.5 759.6 268.3 752.2 270.8 750.3 292.5 738.9 282.4 734.4 274.1 726.7 269.4 724.2 243.1 718.1 234.9 716.8 231.6 717 225 719.7 203 731.7 204.1 732.7 198.3 734.2 194.3 736.1 189.5 746.9 159 753.5 151.2 759 150.3 767.9 120.5 773.8 98.1 773.8 78.4 769.5 75.6 770.7 76 773.6 87.1 785.1 101.6 791.4 102.2 799.5 108.2 801.9 91.4 807.7 86.4 818.9 88.2 824.8 152 821.1 155.5 821.8 165.4 834.5Z" fill="#62a2da"/>
<path fill-rule="evenodd" d="M177.3 839.1 180 839.1 188.1 834.4 218.7 832.2 220.6 826.4 213.9 815 208.5 813.1 206.2 805.2 199.6 802.1 207.7 794.5 213.5 795.8 230.4 793.2 268.5 759.6 268.3 752.2 270.8 750.3 290.3 740.1 280 735.6 272.7 728.9 268.6 726.7 249.7 721.4 234.9 718.5 231.6 718.4 225 720.9 193.1 738.8 189.5 746.9 159 753.5 151.2 759 150.3 767.9 120.5 773.8 98.1 773.8 78.4 769.5 75.6 770.7 76 773.6 87.1 785.1 101.6 791.4 102.2 799.5 108.2 801.9 91.4 807.7 86.4 818.9 88.2 824.8 152 821.1 155.5 821.8 165.4 834.5ZM165.2 758.6 170.7 756.7 176.1 756.1 175.7 757.3 169.1 761.8 165.8 762 163.9 761.2 163.7 759.9Z" fill="#5a99d6"/>
<path fill-rule="evenodd" d="M177.3 839.1 180 839.1 188.1 834.4 218.7 832.2 220.6 826.4 213.9 815 208.5 813.1 206.2 805.2 199.6 802.1 207.7 794.5 213.5 795.8 230.4 793.2 268.5 759.6 268.3 752.2 270.8 750.3 288 741.2 279.3 737.6 271.1 730.8 262.9 727.1 248 722.8 234.9 720.2 229.9 720.1 223.4 722.9 192.2 740.8 189.5 746.9 178.2 749.7 176.9 751 177.3 751.4 186.6 751 187.4 752.2 169.1 764.4 165.8 764.8 159.2 764.1 156.4 765 156.1 767.6 158.5 775.2 158.9 779.1 157.6 782.9 155.9 785.7 152.6 788.6 151 789 149.3 788.5 148.8 786.7 151.8 777.8 154.1 767.6 154 765 151.8 761.2 153 757.7 151.2 759 150.3 767.9 120.5 773.8 98.1 773.8 78.4 769.5 75.6 770.7 76 773.6 87.1 785.1 101.6 791.4 102.2 799.5 108.2 801.9 91.4 807.7 86.4 818.9 88.2 824.8 152 821.1 155.5 821.8 165.4 834.5Z" fill="#5290d0"/>
<path fill-rule="evenodd" d="M177.3 839.1 180 839.1 188.1 834.4 218.7 832.2 220.6 826.4 213.9 815 208.5 813.1 206.2 805.2 199.6 802.1 207.7 794.5 213.5 795.8 230.4 793.2 268.5 759.6 268.3 752.2 270.8 750.3 285.8 742.4 278.8 739.5 274.4 735.5 269.4 732.2 259.6 727.8 249.7 724.9 233.2 721.7 229.9 721.5 226.7 722.4 211.7 730.5 191 743.6 189.8 746.2 195.4 746.3 197.8 747.1 198.8 749.7 198.7 751 197.3 752.2 187.2 755.3 183.9 756.8 174.6 762.5 169.1 766.8 167.4 767.3 162.5 767.4 160.9 768.5 160.6 771.4 161.4 777.8 160.3 781.6 155.9 789.8 154 791.8 150.4 793.1 146 793.3 144.4 792.7 143.9 791.8 144.3 789.3 149.3 777.5 149.4 771.4 147.9 768.4 120.5 773.8 98.1 773.8 78.4 769.5 75.6 770.7 76 773.6 87.1 785.1 101.6 791.4 102.2 799.5 108.2 801.9 91.4 807.7 86.4 818.9 88.2 824.8 152 821.1 155.5 821.8 165.4 834.5Z" fill="#4b88cc"/>
<path fill-rule="evenodd" d="M177.3 839.1 180 839.1 188.1 834.4 218.7 832.2 220.6 826.4 213.9 815 208.5 813.1 206.2 805.2 199.6 802.1 207.7 794.5 213.5 795.8 230.4 793.2 268.5 759.6 268.3 752.2 270.8 750.3 283.6 743.6 277.7 741 274.1 736.9 271.1 734.7 257.9 728.9 249.7 726.6 233.2 723.4 229.9 723.1 226.7 723.7 213.6 730.5 200.7 739.5 200.1 740.7 203.6 741.6 205 743.3 204.2 751 203.6 752.5 202.5 753.5 188.8 756.3 185.5 757.5 175.2 763.7 169.1 769.2 164.1 771.1 163.6 772.7 163.3 779.1 157.6 791.1 154.3 794.6 149.3 795.8 141.1 796.4 139 795.6 138.6 794.4 139.3 791.8 144.8 781.6 146 777.8 145.4 775.2 144.4 773.6 139.1 770.1 120.5 773.8 98.1 773.8 78.4 769.5 75.6 770.7 76 773.6 87.1 785.1 101.6 791.4 102.2 799.5 108.2 801.9 91.4 807.7 86.4 818.9 88.2 824.8 152 821.1 155.5 821.8 165.4 834.5Z" fill="#498abf"/>
<path fill-rule="evenodd" d="M177.3 839.1 180 839.1 188.1 834.4 218.7 832.2 220.6 826.4 213.9 815 208.5 813.1 206.2 805.2 199.6 802.1 207.7 794.5 213.5 795.8 230.4 793.2 268.5 759.6 268.3 752.2 270.8 750.3 281.4 744.8 276 742.2 273.7 738.2 271.1 736 256.3 730 249.7 728.2 231.6 724.9 228.3 724.8 225 725.8 213.6 731.8 209.2 735.6 208.6 736.9 209.4 739.5 209.2 742 206.6 752.2 205.3 754.5 202 755.7 188.8 757.6 185.5 759 177.3 764.1 166.8 773.9 165.4 779.1 159.8 790.5 157.6 794.1 156 795.6 151 797.6 137.8 799.7 134.5 799.5 133.9 796.9 135.9 790.5 140.3 781.6 140.2 779.1 137.8 776.5 131.2 772.9 129.1 772.1 120.5 773.8 98.1 773.8 78.4 769.5 75.6 770.7 76 773.6 87.1 785.1 101.6 791.4 102.2 799.5 108.2 801.9 91.4 807.7 86.4 818.9 88.2 824.8 152 821.1 155.5 821.8 165.4 834.5Z" fill="#478db2"/>
<path fill-rule="evenodd" d="M177.3 839.1 180 839.1 188.1 834.4 218.7 832.2 220.6 826.4 213.9 815 208.5 813.1 206.2 805.2 199.6 802.1 207.7 794.5 213.5 795.8 230.4 793.2 268.5 759.6 268.3 752.2 270.8 750.3 279.1 745.9 274.5 743.3 272.2 738.2 269.4 736.4 249.7 729.7 229.9 726.5 226.7 726.8 223.4 728.1 216.2 731.8 213.5 734.4 212.7 742 208.6 753.6 207.1 756.1 203.6 757.1 190.5 758.4 184.4 761.2 175.7 767.2 170.1 773.9 161 791.8 157.6 796.3 152.6 799 142.8 800.7 134.5 802.8 131.2 802.6 128.4 800.8 128.3 799.5 130.3 795.6 134.3 784.2 133.6 781.6 129.8 779.1 122.3 775.2 117.1 773.8 98.1 773.8 78.4 769.5 75.6 770.7 76 773.6 87.1 785.1 101.6 791.4 102.2 799.5 108.2 801.9 91.4 807.7 86.4 818.9 88.2 824.8 152 821.1 155.5 821.8 165.4 834.5Z" fill="#4690a5"/>
<path fill-rule="evenodd" d="M177.3 839.1 180 839.1 188.1 834.4 218.7 832.2 220.6 826.4 213.9 815 208.5 813.1 206.2 805.2 199.6 802.1 207.7 794.5 213.5 795.8 230.4 793.2 268.5 759.6 268.3 752.2 270.8 750.3 276.9 747.1 273.1 744.6 272.2 740.7 271.1 738.6 267.8 736.9 251.3 731.7 246.4 730.7 229.9 728.3 226.7 728.7 222.3 730.5 218.4 732.8 217 734.4 215.7 743.3 210.8 754.8 209.3 757.3 205.3 758.6 192.1 759.2 186.9 761.2 178.9 766.6 175.7 769.6 167.4 783 162 793.1 157.6 798.2 151 801.2 142.8 802.8 134.5 805.1 131.2 805.1 126.3 803.6 122.2 800.8 121.6 799.5 126.1 795.6 127.5 793.1 129.2 786.7 128.9 785.4 127.7 784.2 111.5 777 95 774.7 92.8 773.9 92.2 772.5 78.4 769.5 75.6 770.7 76 773.6 87.1 785.1 101.6 791.4 102.2 799.5 108.2 801.9 91.4 807.7 86.4 818.9 88.2 824.8 152 821.1 155.5 821.8 165.4 834.5Z" fill="#469698"/>
<path fill-rule="evenodd" d="M177.3 839.1 180 839.1 188.1 834.4 218.7 832.2 220.6 826.4 213.9 815 208.5 813.1 206.2 805.2 199.6 802.1 207.7 794.5 213.5 795.8 230.4 793.2 268.5 759.6 268.3 752.2 274.5 748.4 271.6 745.9 270.9 740.7 270.2 739.5 267.8 738 248 732.6 231.6 730.4 228.3 730.6 225.4 731.8 220.5 735.6 218.8 744.6 211.9 758.6 208.6 760 193.8 760.3 190.5 761 187.8 762.5 177 771.4 164.6 791.8 159.2 798.7 156.3 800.8 152.6 802.4 136.2 806.8 131.2 807.3 125.2 805.9 118 802 114.7 799.5 114.4 798.2 114.8 797.8 122 794.4 124.1 791.8 124.7 789.3 124.4 788 121.4 785.7 111.5 782.2 104.9 781 100 781.6 93.4 784 91.2 785.4 90.6 786.6 101.6 791.4 102.2 799.5 108.2 801.9 91.4 807.7 86.4 818.9 88.2 824.8 152 821.1 155.5 821.8 165.4 834.5Z" fill="#479a8a"/>
<path fill-rule="evenodd" d="M177.3 839.1 180 839.1 188.1 834.4 218.7 832.2 220.6 826.4 213.9 815 208.5 813.1 206.2 805.2 199.6 802.1 207.7 794.5 213.5 795.8 230.4 793.2 268.5 759.6 268.3 752.2 272.2 749.6 270.1 747.1 269.4 740.7 268.1 739.5 246.4 734.1 233.2 733.2 228.3 734.2 225 736.4 223.6 738.2 222.3 744.6 216.8 757.3 215.2 759.9 213 761.2 210.2 761.7 195.4 761.7 192.3 762.5 190.7 763.7 190.6 765 200.3 772.2 201.1 773.9 200.3 774.8 195.4 775.3 182.2 773 178.9 773.7 164.6 794.4 160.9 799 157.6 801.7 149.3 805.2 132.9 809.5 124.7 808.1 114.8 804 107.7 802 91.4 807.7 86.4 818.9 88.2 824.8 152 821.1 155.5 821.8 165.4 834.5ZM106.6 801.2 103.3 797.7 102 796.9 102.2 799.5ZM118.5 790.5 118.1 789.9 116.4 789.6 116.1 790.5 118.1 791.1Z" fill="#47a07d"/>
<path fill-rule="evenodd" d="M177.3 839.1 180 839.1 188.1 834.4 218.7 832.2 220.6 826.4 213.9 815 208.5 813.1 206.2 805.2 199.6 802.1 207.7 794.5 213.5 795.8 230.4 793.2 265.2 762.6 268.5 757.7 268.3 752.2 270 751 268.5 748.4 268 742 267 740.7 263 739.5 248 736.8 234.9 736.5 229.9 737.6 228.3 738.7 226.7 740.7 225.3 745.9 222.6 752.2 221.6 757.3 221 758.6 218.3 761.2 213.5 763.3 200.3 763.2 197 764.2 196.7 765 197.3 766.3 203.3 772.7 204 773.9 203.6 775.6 202 776.6 195.4 777.5 183.9 776.1 180.6 776.7 162.3 799.5 157.6 803.4 149.3 807.1 136.2 811.4 132.9 811.9 124.7 810.5 114.8 807.9 104.9 806.6 101 804.4 91.4 807.7 86.4 818.9 88.2 824.8 152 821.1 155.5 821.8 165.4 834.5Z" fill="#46a46e"/>
<path fill-rule="evenodd" d="M114.4 823.3 114.2 821.2 116.4 820.4 129.1 822.4 152 821.1 155.5 821.8 165.4 834.5 177.1 839.1 180 839.1 188.1 834.4 218.7 832.2 220.6 826.4 213.9 815 208.5 813.1 206.2 805.2 199.6 802.1 207.7 794.5 213.5 795.8 230.4 793.2 258.2 768.7 264 761.2 267.2 754.8 267.5 752.2 265.6 743.3 262.9 741.8 251.3 740.1 236.5 740 231.6 741.2 229.8 743.3 227.4 749.7 226.7 757.3 224.6 759.9 218.7 763.7 215.3 765 203.6 765 202 765.4 200.8 766.3 201.1 767.6 205.9 773.9 206.2 775.2 205.7 776.5 203 777.8 195.4 779.1 183.9 779.1 182.2 779.6 172.4 789.8 160.9 803.1 144 812.2 140.3 816.1 132.9 815.5 116.4 812.1 103.3 810.1 96.7 806.6 95.1 806.4 91.4 807.7 86.4 818.9 88.2 824.8Z" fill="#46aa5f"/>
<path fill-rule="evenodd" d="M111.4 823.5 110.4 819.9 111.9 817.4 111.6 816.1 108.3 814.8 100 813.1 95 809.3 91.2 808 86.4 818.9 88.2 824.8ZM177.3 839.1 180 839.1 188.1 834.4 218.7 832.2 220.6 826.4 213.9 815 208.5 813.1 206.2 805.2 199.6 802.1 207.7 794.5 213.5 795.8 230.4 793.2 250.8 775.2 260.1 763.7 263.6 757.3 264.6 752.2 262.7 745.9 259.6 744.5 253 743.6 238.2 743.6 234.9 744.2 233 745.9 232.1 748.4 232.5 756.1 231.9 757.3 229.2 759.9 223.3 763.7 218.1 766.3 215.1 767 206.9 767 204.8 767.6 204.6 768.8 208.3 775.2 208.1 776.5 206.9 777.8 198.7 779.9 185.5 781.8 182.7 782.9 172.4 792.6 162.5 803.9 157 808.4 155.3 811 153.8 814.8 153.8 816.1 156 818.6 164.5 825 157.7 824.6 165.4 834.5Z" fill="#45ae50"/>
<path fill-rule="evenodd" d="M193.8 828.1 203.6 826.8 206.9 825.6 214.6 816.3 213.9 815 208.5 813.1 206.2 805.2 199.6 802.1 207.7 794.5 213.5 795.8 230.4 793.2 243.4 781.8 256.1 766.3 259.2 761.2 260.4 756.1 259.8 751 258 748.4 254.6 747.5 251.3 747.3 243.1 747.9 239.8 748.7 238.4 751 237.8 756.1 235.4 758.6 231.8 761.2 220.1 767.8 216.8 768.7 210.2 769 208.6 769.6 208.4 771.4 210.5 775.2 210.5 776.5 209.7 777.8 206.9 779.3 191 782.9 183.9 785.4 174 793.5 167.5 800.8 164.3 805.9 163.6 808.4 164.2 817.4 166.1 819.9 175.7 825.9 178.9 827.1 188.8 826.6Z" fill="#51b44c"/>
<path fill-rule="evenodd" d="M182.2 824.5 202 821.2 206.9 819.1 210.2 816.7 212.5 814.6 208.5 813.1 206.2 805.2 199.6 802.1 207.7 794.5 213.5 795.8 230.4 793.2 235.1 789 252.9 767.6 255.7 762.5 255.6 759.9 254.6 759 253 758.5 246.4 758 243.1 758.2 239.8 759.3 221.7 769.4 213.5 771.5 212.7 772.7 213.1 776.5 210.2 779.4 193.4 784.2 180.6 790.9 175.7 794.6 172.2 798.2 169.5 802 168.7 804.6 169.1 808.4 171.3 817.4 172.9 819.9 178.5 823.7Z" fill="#62b84e"/>
<path fill-rule="evenodd" d="M185.5 821.6 193.8 819.2 208.3 812.4 206.2 805.2 199.6 802.1 207.7 794.5 213.5 795.8 228.5 793.5 248.4 770.1 250.8 766.3 251.1 765 250.5 763.7 248 762.9 243.1 762.8 239.8 763.2 236.5 764.3 218.4 773.3 214.9 777.8 211.5 780.3 196.6 785.4 188.8 792.1 185.5 793.5 180.6 794.4 176.5 796.9 174 800.1 173.3 803.3 176.8 816.1 178 818.6 180.6 821 182.2 821.6Z" fill="#73be4f"/>
<path fill-rule="evenodd" d="M187.2 817.3 206.8 807.1 206.2 805.2 199.6 802.1 207.7 794.5 213.5 795.8 224.1 794.2 239.9 776.5 243.5 771.4 244 770.1 243.8 768.8 241.5 768.2 236.5 768.6 226.7 772.7 221.7 775.2 212.5 781.6 202.7 785.4 189.8 796.9 187.2 798 182.2 798.5 179.7 799.5 178.8 800.8 178.9 803.3 182.3 813.5 183.9 816.6 185.5 817.5Z" fill="#84c351"/>
<path fill-rule="evenodd" d="M190.5 808.7 202.4 803.4 199.6 802.1 207.7 794.5 213.5 795.8 218.4 794.8 221.7 791.8 227.1 785.4 228.7 782.9 229.1 780.3 226.7 779.8 218.4 781.5 207.2 786.7 193.8 799.8 188.7 803.3 187.6 804.6 187.6 805.9 188.8 808.2Z" fill="#97c853"/>
</g>
<path d="M77.8 771.9 L82.9 773.1 L87.4 774 L92.9 775.4 L98 776.3 L104 776 L110.8 775.7 L116 776.1 L121.3 776.3 L123.6 774.6 L130 774 L135.7 773.6 L145 772.1 L152.7 769.8 L153.3 760.4 L160.2 755.7 L170.7 755.1 L173.1 752.8 L185.9 751 L191.7 748.7 L192.9 741.7 L196.4 737 L206.9 734.7 L206.4 731.2 L202.2 727.6 L208.1 727.6 L217.4 726.4 L218.6 721.8 L225.6 716 L225.6 711.3 L220.9 705.5 L226.8 701.9 L233.7 699 L240.7 696.6 L245.2 696.5 L257.8 697 L264.7 695 L274.4 695 L279.3 697.5 L284.1 699.9 L285.1 704.4 L289 707.3 L293.8 707.3 L299.7 710.7 L308.4 711.6 L313.3 714.6 L316.3 719.9 L321.1 720.9 L326 723.8 L323.6 726.7 L324 731.6 L328.9 736.5 L330.8 740.4 L328.9 743.8 L325 743.8 L322.1 740.9 L313.3 741.4 L310.3 738.9 L303.6 738.4 L297.7 736.5 L292.9 736 L286.1 738.4 L283.2 741.4 L277.3 745.2 L269.6 748.1 L265.7 751.1 L266.7 758 L262.8 760.9 L257.7 767.1 L249.2 772.4 L246 777.8 L240.6 782 L234.2 785.3 L228.9 791.2 L219.3 792.3 L213.4 793.3 L210.7 791.2 L206.5 792.3 L200 798.2 L196.7 801.4 L197.8 804.6 L204.3 806.7 L205.4 811.1 L206.5 815.3 L211.8 816.4 L213.9 821.7 L218.2 827.1 L217.1 830.3 L212.9 830.8 L205.4 830.3 L197.8 831.4 L187.1 831.9 L183.9 834.6 L178.6 837.3 L173.3 835.1 L166.8 832.4 L163.6 828.2 L159.4 823.9 L157.2 819.6 L152.1 818.6 L143 819.6 L135.7 820 L125.3 820.2 L120.7 819.3 L110.8 820.2 L98.5 821.6 L89.7 822.8 L88.8 819.3 L90.9 815.8 L91.2 811.7 L93.2 809.3 L98.5 806.7 L110.5 804.7 L110.8 800 L104.4 798.2 L104.1 790.1 L101.4 788.3 L94.5 786.6 L88.5 783 L83.3 776.6Z" fill="none" stroke="#5d5ef2" stroke-width="1.15" stroke-linejoin="round"/>
<rect x="66.8" y="663.5" width="274.2" height="212.8" fill="none" stroke="#333" stroke-width="1.6"/>
<path d="M135.3 663.5v3.2M135.3 876.3v-3.2M203.9 663.5v3.2M203.9 876.3v-3.2M272.4 663.5v3.2M272.4 876.3v-3.2M66.8 716.7h3.2M341 716.7h-3.2M66.8 769.9h3.2M341 769.9h-3.2M66.8 823.1h3.2M341 823.1h-3.2" stroke="#333" stroke-width="1.5" fill="none"/>
<g class="tl"><text x="61.6" y="668.3" text-anchor="end" textLength="15.5" lengthAdjust="spacingAndGlyphs">40</text><text x="61.6" y="721.5" text-anchor="end" textLength="15.5" lengthAdjust="spacingAndGlyphs">35</text><text x="61.6" y="774.7" text-anchor="end" textLength="15.5" lengthAdjust="spacingAndGlyphs">30</text><text x="61.6" y="827.9" text-anchor="end" textLength="15.5" lengthAdjust="spacingAndGlyphs">25</text><text x="61.6" y="881.1" text-anchor="end" textLength="15.5" lengthAdjust="spacingAndGlyphs">20</text><text x="66.8" y="891.8" text-anchor="middle" textLength="15.5" lengthAdjust="spacingAndGlyphs">60</text><text x="135.3" y="891.8" text-anchor="middle" textLength="15.5" lengthAdjust="spacingAndGlyphs">65</text><text x="203.9" y="891.8" text-anchor="middle" textLength="15.5" lengthAdjust="spacingAndGlyphs">70</text><text x="272.4" y="891.8" text-anchor="middle" textLength="15.5" lengthAdjust="spacingAndGlyphs">75</text><text x="341" y="891.8" text-anchor="middle" textLength="15.5" lengthAdjust="spacingAndGlyphs">80</text></g>
<text class="ax" x="203.1" y="911.3" text-anchor="middle" textLength="89" lengthAdjust="spacingAndGlyphs">Longitude</text>
<text class="ax" transform="translate(39.1 769.9) rotate(-90) scale(1 1.33)" text-anchor="middle" textLength="59.5" lengthAdjust="spacingAndGlyphs">Latitude</text>
<text class="pl" x="351.1" y="913.8">(<tspan class="pll">e</tspan>)</text>
<text class="sn" x="81.7" y="685.9" textLength="48.1" lengthAdjust="spacingAndGlyphs">Spring</text>
<clipPath id="cf"><path d="M532.7 771.9 L537.8 773.1 L542.3 774 L547.8 775.4 L552.8 776.3 L558.8 776 L565.6 775.7 L570.8 776.1 L576.1 776.3 L578.4 774.6 L584.8 774 L590.5 773.6 L599.8 772.1 L607.4 769.8 L608 760.4 L614.9 755.7 L625.4 755.1 L627.8 752.8 L640.6 751 L646.4 748.7 L647.6 741.7 L651.1 737 L661.5 734.7 L661 731.2 L656.9 727.6 L662.7 727.6 L672 726.4 L673.2 721.8 L680.2 716 L680.2 711.3 L675.5 705.5 L681.4 701.9 L688.3 699 L695.3 696.6 L699.8 696.5 L712.4 697 L719.2 695 L728.9 695 L733.8 697.5 L738.6 699.9 L739.6 704.4 L743.5 707.3 L748.3 707.3 L754.2 710.7 L762.9 711.6 L767.8 714.6 L770.7 719.9 L775.5 720.9 L780.4 723.8 L778 726.7 L778.4 731.6 L783.3 736.5 L785.2 740.4 L783.3 743.8 L779.4 743.8 L776.5 740.9 L767.8 741.4 L764.8 738.9 L758.1 738.4 L752.2 736.5 L747.4 736 L740.6 738.4 L737.7 741.4 L731.8 745.2 L724.1 748.1 L720.2 751.1 L721.2 758 L717.3 760.9 L712.3 767.1 L703.8 772.4 L700.6 777.8 L695.2 782 L688.8 785.3 L683.5 791.2 L673.9 792.3 L668 793.3 L665.3 791.2 L661.1 792.3 L654.7 798.2 L651.4 801.4 L652.5 804.6 L658.9 806.7 L660 811.1 L661.1 815.3 L666.4 816.4 L668.5 821.7 L672.8 827.1 L671.7 830.3 L667.5 830.8 L660 830.3 L652.5 831.4 L641.8 831.9 L638.6 834.6 L633.3 837.3 L628 835.1 L621.5 832.4 L618.3 828.2 L614.1 823.9 L611.9 819.6 L606.8 818.6 L597.8 819.6 L590.5 820 L580.1 820.2 L575.5 819.3 L565.6 820.2 L553.3 821.6 L544.6 822.8 L543.7 819.3 L545.8 815.8 L546.1 811.7 L548.1 809.3 L553.3 806.7 L565.3 804.7 L565.6 800 L559.2 798.2 L558.9 790.1 L556.2 788.3 L549.3 786.6 L543.4 783 L538.2 776.6Z"/></clipPath>
<g clip-path="url(#cf)">
<path d="M532.7 771.9 L537.8 773.1 L542.3 774 L547.8 775.4 L552.8 776.3 L558.8 776 L565.6 775.7 L570.8 776.1 L576.1 776.3 L578.4 774.6 L584.8 774 L590.5 773.6 L599.8 772.1 L607.4 769.8 L608 760.4 L614.9 755.7 L625.4 755.1 L627.8 752.8 L640.6 751 L646.4 748.7 L647.6 741.7 L651.1 737 L661.5 734.7 L661 731.2 L656.9 727.6 L662.7 727.6 L672 726.4 L673.2 721.8 L680.2 716 L680.2 711.3 L675.5 705.5 L681.4 701.9 L688.3 699 L695.3 696.6 L699.8 696.5 L712.4 697 L719.2 695 L728.9 695 L733.8 697.5 L738.6 699.9 L739.6 704.4 L743.5 707.3 L748.3 707.3 L754.2 710.7 L762.9 711.6 L767.8 714.6 L770.7 719.9 L775.5 720.9 L780.4 723.8 L778 726.7 L778.4 731.6 L783.3 736.5 L785.2 740.4 L783.3 743.8 L779.4 743.8 L776.5 740.9 L767.8 741.4 L764.8 738.9 L758.1 738.4 L752.2 736.5 L747.4 736 L740.6 738.4 L737.7 741.4 L731.8 745.2 L724.1 748.1 L720.2 751.1 L721.2 758 L717.3 760.9 L712.3 767.1 L703.8 772.4 L700.6 777.8 L695.2 782 L688.8 785.3 L683.5 791.2 L673.9 792.3 L668 793.3 L665.3 791.2 L661.1 792.3 L654.7 798.2 L651.4 801.4 L652.5 804.6 L658.9 806.7 L660 811.1 L661.1 815.3 L666.4 816.4 L668.5 821.7 L672.8 827.1 L671.7 830.3 L667.5 830.8 L660 830.3 L652.5 831.4 L641.8 831.9 L638.6 834.6 L633.3 837.3 L628 835.1 L621.5 832.4 L618.3 828.2 L614.1 823.9 L611.9 819.6 L606.8 818.6 L597.8 819.6 L590.5 820 L580.1 820.2 L575.5 819.3 L565.6 820.2 L553.3 821.6 L544.6 822.8 L543.7 819.3 L545.8 815.8 L546.1 811.7 L548.1 809.3 L553.3 806.7 L565.3 804.7 L565.6 800 L559.2 798.2 L558.9 790.1 L556.2 788.3 L549.3 786.6 L543.4 783 L538.2 776.6Z" fill="#a9daf4"/>
<path fill-rule="evenodd" d="M632 839.1 634.7 839.1 642.8 834.4 673.4 832.2 675.2 826.4 668.5 815 663.1 813.1 660.9 805.2 654.3 802.1 662.3 794.5 668.2 795.8 685 793.2 723.1 759.6 722.9 752.2 725.3 750.3 747.7 738.5 763.8 741.3 767.5 743.9 775.5 743.5 779.4 746.3 784.9 745.8 787.7 740.2 780.8 730.4 782.4 722.3 772.3 717.7 764 709.3 744.3 704.8 740.1 698 729.4 692.6 695 694.1 673.6 703.8 677.7 714.8 671.2 720.3 670 724.2 655.1 725.9 654.7 728.8 658.7 732.7 649.4 735.1 644.2 746.9 613.7 753.5 605.9 759 605 767.9 575.3 773.8 553 773.8 533.3 769.5 530.5 770.7 530.9 773.6 541.9 785.1 556.4 791.4 557 799.5 563 801.9 546.2 807.7 541.2 818.9 543.1 824.8 606.7 821.1 610.2 821.8 620.1 834.5ZM643.5 760.3 641.8 757.3 642.3 756.1 646.8 753.6 648.4 753.3 650.1 754 651.2 757.3 650.1 761.9 648.4 763.4 646.8 763.7Z" fill="#94cff0"/>
<path fill-rule="evenodd" d="M632 839.1 634.7 839.1 642.8 834.4 673.4 832.2 675.2 826.4 668.5 815 663.1 813.1 660.9 805.2 654.3 802.1 662.3 794.5 668.2 795.8 685 793.2 723.1 759.6 722.9 752.2 725.3 750.3 747.7 738.5 763.8 741.3 767.5 743.9 775.5 743.5 779.4 746.3 784.9 745.8 787.7 740.2 780.8 730.4 782.4 722.3 772.3 717.7 764 709.3 744.3 704.8 740.1 698 729.4 692.6 695 694.1 673.6 703.8 677.7 714.8 671.2 720.3 670 724.2 655.1 725.9 654.7 728.8 658.7 732.7 649.4 735.1 644.2 746.9 613.7 753.5 605.9 759 605 767.9 575.3 773.8 553 773.8 533.3 769.5 530.5 770.7 530.9 773.6 541.9 785.1 556.4 791.4 557 799.5 563 801.9 546.2 807.7 541.2 818.9 543.1 824.8 606.7 821.1 610.2 821.8 620.1 834.5ZM641.1 765 639.3 762.5 638.4 759.9 638.2 757.3 638.8 756.1 645.1 751 648.4 749 650.4 748.4 651.7 749.4 653.1 756.1 652.9 761.2 651.7 764.6 649.9 766.3 646.8 767 643.1 766.3Z" fill="#82c0e8"/>
<path fill-rule="evenodd" d="M632 839.1 634.7 839.1 642.8 834.4 673.4 832.2 675.2 826.4 668.5 815 663.1 813.1 660.9 805.2 654.3 802.1 662.3 794.5 668.2 795.8 685 793.2 723.1 759.6 722.9 752.2 725.3 750.3 747.7 738.5 763.8 741.3 767.5 743.9 775.5 743.5 779.4 746.3 784.9 745.8 787.7 740.2 780.8 730.4 782.4 722.3 772.3 717.7 764 709.3 744.3 704.8 740.1 698 729.4 692.6 695 694.1 673.6 703.8 677.7 714.8 671.2 720.3 670 724.2 655.1 725.9 654.7 728.8 658.7 732.7 649.4 735.1 644.2 746.9 613.7 753.5 605.9 759 605 767.9 575.3 773.8 553 773.8 533.3 769.5 530.5 770.7 530.9 773.6 541.9 785.1 556.4 791.4 557 799.5 563 801.9 546.2 807.7 541.2 818.9 543.1 824.8 606.7 821.1 610.2 821.8 620.1 834.5ZM637.4 766.3 636.1 765 635.5 762.5 635.1 758.6 636.1 756.1 647 747.1 651.7 744.6 653.4 744.6 654.1 745.9 654.9 757.3 654.2 763.7 653.3 766.3 651.4 767.6 646.8 768.3 641.9 767.8Z" fill="#6fafe0"/>
<path fill-rule="evenodd" d="M632 839.1 634.7 839.1 642.8 834.4 673.4 832.2 675.2 826.4 668.5 815 663.1 813.1 660.9 805.2 654.3 802.1 662.3 794.5 668.2 795.8 685 793.2 723.1 759.6 722.9 752.2 725.3 750.3 747.7 738.5 763.8 741.3 767.5 743.9 775.5 743.5 779.4 746.3 784.9 745.8 787.7 740.2 780.8 730.4 782.4 722.3 772.3 717.7 764 709.3 744.3 704.8 740.1 698 729.4 692.6 695 694.1 673.6 703.8 677.7 714.8 671.2 720.3 670 724.2 655.1 725.9 654.7 728.8 658.7 732.7 649.4 735.1 644.5 746.3 655 740.3 656.6 740.2 657.7 742 657.8 745.9 656.7 751 655.5 765 655 766.7 653.3 768.3 650.1 769.2 641.9 770 634.4 767.6 631.9 766.3 630.9 765 630.5 759.9 632.1 756.1 635.6 752.2 643 747.2 613.7 753.5 605.9 759 605 767.9 575.3 773.8 553 773.8 533.3 769.5 530.5 770.7 530.9 773.6 541.9 785.1 556.4 791.4 557 799.5 563 801.9 546.2 807.7 541.2 818.9 543.1 824.8 606.7 821.1 610.2 821.8 620.1 834.5Z" fill="#5d9dd8"/>
<path fill-rule="evenodd" d="M632 839.1 634.7 839.1 642.8 834.4 673.4 832.2 675.2 826.4 668.5 815 663.1 813.1 660.9 805.2 654.3 802.1 662.3 794.5 668.2 795.8 685 793.2 723.1 759.6 722.9 752.2 725.3 750.3 747.7 738.5 763.8 741.3 767.5 743.9 773.1 743.6 771.6 741.6 767 738.2 753.6 733.1 749.3 730.5 746.6 728 747 727 756.8 729.4 758.5 729.1 759.7 728 765.3 710.7 764 709.3 744.3 704.8 740.1 698 729.4 692.6 695 694.1 692.5 695.3 692.4 711.4 691.6 713.9 682.9 718.1 678.4 721.6 670.9 729.3 667.3 734.4 662.8 739.5 661 747.1 658.3 755.1 656.6 766.3 655 769 646.8 771.2 643.5 773.4 640.2 773.9 638.6 773.4 634.6 770.1 626.2 766.3 625.1 765 623.1 758.6 623.8 757.3 626.5 754.8 634.5 749 613.7 753.5 605.9 759 605 767.9 575.3 773.8 553 773.8 533.3 769.5 530.5 770.7 530.9 773.6 541.9 785.1 556.4 791.4 557 799.5 563 801.9 546.2 807.7 541.2 818.9 543.1 824.8 606.7 821.1 610.2 821.8 620.1 834.5ZM648.9 736.2 650.1 735.2 650.4 734.9 649.4 735.1ZM655.6 729.7 656.7 728 654.8 727.9 654.7 728.8ZM661.5 725.1 659.1 725.4 659.9 726ZM671.3 720.3 676.5 717.8 677.4 716.5 676.6 715.8Z" fill="#4e8cce"/>
<path fill-rule="evenodd" d="M632 839.1 634.7 839.1 642.8 834.4 673.4 832.2 675.2 826.4 668.5 815 663.1 813.1 660.9 805.2 654.3 802.1 662.3 794.5 668.2 795.8 685 793.2 723.1 759.6 722.9 752.2 725.3 750.3 747.7 738.5 763.8 741.3 768.1 743.8 759.2 738.2 739.8 731.8 725.3 719 717.4 713.2 712.5 712.9 707.5 713.3 704.3 712.9 696 715.6 689.5 718.7 682.9 720.8 679.6 723.1 677.8 725.4 674.9 731.8 668.3 738.2 666.5 740.7 659.5 756.1 657.7 766.3 656.6 769.1 655 770.5 650.1 772.2 644.7 775.2 640.2 775.9 636.9 775.5 631.2 771.4 620.3 766.3 616.9 761.2 613.8 758.6 614.1 757.3 619.1 752.4 613.7 753.5 605.9 759 605 767.9 575.3 773.8 553 773.8 533.3 769.5 530.5 770.7 530.9 773.6 541.9 785.1 556.4 791.4 557 799.5 563 801.9 546.2 807.7 541.2 818.9 543.1 824.8 606.7 821.1 610.2 821.8 620.1 834.5ZM738.7 721.6 742 720.8 744.4 717.8 749.1 710.1 749.5 707.5 748.6 706.9 743.7 708.3 732.4 713.9 727.2 714.4 725 716.5 725.7 717.8 727.2 718.7Z" fill="#488cb8"/>
<path fill-rule="evenodd" d="M632 839.1 634.7 839.1 642.8 834.4 673.4 832.2 675.2 826.4 668.5 815 663.1 813.1 660.9 805.2 654.3 802.1 662.3 794.5 668.2 795.8 685 793.2 723.1 759.6 722.9 752.2 725.3 750.3 747.7 738.5 754.5 739.7 751.7 738.2 737.1 733.1 731.1 726.7 719 716.5 715.8 715.4 712.5 715.5 697.7 719.4 682.9 725 680.1 730.5 670.5 739.5 664 749.7 660.5 757.3 658.9 766.3 657.4 770.1 655 772.2 646.8 776.6 640.2 777.7 633.6 776.7 628.7 773.4 615.6 767.6 613 762.5 610.7 761.8 605.6 762.1 605 767.9 575.3 773.8 553 773.8 533.3 769.5 530.5 770.7 530.9 773.6 541.9 785.1 556.4 791.4 557 799.5 563 801.9 546.2 807.7 541.2 818.9 543.1 824.8 606.7 821.1 610.2 821.8 620.1 834.5ZM740.4 719.8 745.3 712.7 745.9 711.4 745.7 710.1 743.7 710.2 735.5 714.6 732.2 715.5 728.9 715.6 727.4 716.5 728.9 717.8 737.1 720 738.7 720.3Z" fill="#46939e"/>
<path fill-rule="evenodd" d="M632 839.1 634.7 839.1 642.8 834.4 673.4 832.2 675.2 826.4 668.5 815 663.1 813.1 660.9 805.2 654.3 802.1 662.3 794.5 668.2 795.8 685 793.2 723.1 759.6 722.9 752.2 725.3 750.3 746.4 739.2 735.5 734.8 727.3 725.4 720.7 719.5 717.4 717.7 714.1 717.6 686.2 729 673.1 739.8 665.6 749.7 662.9 754.8 661.1 759.9 659.7 767.6 658.3 771 655 774.2 648.4 778.1 641.9 779.3 633.6 779.1 618.9 772.4 617.2 772.3 612.3 774.1 611.4 771.4 611.1 765 609 763.8 605.4 764 605 767.9 575.3 773.8 553 773.8 533.3 769.5 530.5 770.7 530.9 773.6 541.9 785.1 556.4 791.4 557 799.5 563 801.9 546.2 807.7 541.2 818.9 543.1 824.8 606.7 821.1 610.2 821.8 620.1 834.5ZM606.3 790.5 606.4 789.3 607.4 786.1 608.5 786.7 609 788 608.6 790.5 607.4 793.3Z" fill="#479d84"/>
<path fill-rule="evenodd" d="M632 839.1 634.7 839.1 642.8 834.4 673.4 832.2 675.2 826.4 668.5 815 663.1 813.1 660.9 805.2 654.3 802.1 662.3 794.5 668.2 795.8 685 793.2 723.1 759.6 722.9 752.2 725.3 750.3 743.1 740.9 734.2 736.9 730.5 734.6 720.7 732.7 704.3 731.6 699.3 729.8 684.6 734.3 679.6 737 674.7 741 666.5 750.8 662.7 758.6 660.9 767.6 659.3 771.4 656.6 774.8 651.7 778.9 645.1 780.6 638.6 781.2 630.4 780.6 620.5 776.6 617.2 777.8 615.4 780.3 614.8 786.7 613.1 793.1 613.6 798.2 613.2 800.8 612.3 801.9 610.7 802.3 607.4 801.3 604.5 799.5 602.2 796.9 601.6 794.4 602.5 784.2 608 775.2 608.8 767.6 608.2 766.3 607.4 765.8 605.2 765.6 605 767.9 575.3 773.8 553 773.8 533.3 769.5 530.5 770.7 530.9 773.6 541.9 785.1 556.4 791.4 557 799.5 563 801.9 546.2 807.7 541.2 818.9 543.1 824.8 606.7 821.1 610.2 821.8 620.1 834.5ZM719 728.3 722.3 728.2 724.3 726.7 723.4 724.1 719 720.3 717.4 719.8 714.2 720.3 710.5 722.9 710.7 725.4 712.5 727.4Z" fill="#46a767"/>
<path fill-rule="evenodd" d="M632 839.1 634.7 839.1 642.8 834.4 673.4 832.2 675.2 826.4 668.5 815 663.1 813.1 660.9 805.2 654.3 802.1 662.3 794.5 668.2 795.8 685 793.2 723.1 759.6 722.9 752.2 725.3 750.3 740 742.6 728.9 737.9 720.7 735.9 709.2 734.8 689.5 736.2 679.6 739.6 674.7 743.6 667.1 752.2 663.6 759.9 662 767.6 659.9 772.5 652.8 780.3 650.1 781.6 640.2 783.1 628.7 782.5 623.8 781.2 621.5 781.6 620.6 782.9 617.1 794.4 617.3 802 616.8 804.6 615.6 805.9 612.3 806.8 609 806.5 605.7 805 598.6 800.8 597.5 798.8 598.5 784.2 602.4 780.1 605.5 775.2 606.3 770.1 606.2 768.8 605 767.8 575.3 773.8 553 773.8 533.3 769.5 530.5 770.7 530.9 773.6 541.9 785.1 556.4 791.4 557 799.5 563 801.9 546.2 807.7 541.2 818.9 543.1 824.8 606.7 821.1 610.2 821.8 620.1 834.5Z" fill="#48b14b"/>
<path fill-rule="evenodd" d="M632 839.1 634.7 839.1 642.8 834.4 673.4 832.2 675.2 826.4 668.5 815 663.1 813.1 660.9 805.2 654.3 802.1 662.3 794.5 668.2 795.8 685 793.2 723.1 759.6 722.9 752.2 725.3 750.3 736.9 744.2 729.5 740.7 725.6 739.5 720.7 738.6 709.2 737.6 697.7 738 681.3 741.2 679.6 742 674.7 746.1 668.1 753.2 664.8 760.3 663.1 767.6 661 772.7 653.3 782.7 636.9 786 628.7 785.5 627.1 785.5 625.4 786.3 623.8 789 621.2 795.6 620.9 804.6 620.3 807.1 617.2 812.5 615.6 813 609 811.3 594.2 804.9 589.5 802 586.8 799.5 587.7 798.2 592.7 795.6 593.9 791.8 595.2 782.9 600.7 779.1 603.2 775.2 603.8 771.4 603.4 770.1 602.4 769.5 596.7 769.6 575.3 773.8 558.1 773.9 551.5 775.2 549.9 776.5 553.6 780.3 556.5 785.4 557.5 789.3 556.5 790.6 551.5 786.7 549.9 786.4 546.4 787.1 556.4 791.4 557 799.5 563 801.9 546.2 807.7 541.2 818.9 543.1 824.8 606.7 821.1 610.2 821.8 620.1 834.5Z" fill="#6abb4e"/>
<path fill-rule="evenodd" d="M632 839.1 634.7 839.1 642.8 834.4 673.4 832.2 675.2 826.4 668.5 815 663.1 813.1 660.9 805.2 654.3 802.1 662.3 794.5 668.2 795.8 685 793.2 723.1 759.6 722.9 752.2 725.3 750.3 733.8 745.8 724 741.6 709.2 740.3 697.7 740.1 691.1 742.1 682.9 743.2 679.6 744.3 671.4 751.6 668.9 754.8 665.9 761.2 663.3 770.1 660.6 775.2 657.4 779.1 656.5 782.9 655.5 784.2 643.5 786.8 632.5 790.5 630.4 791.8 626.6 795.6 625 798.2 624.4 805.9 622 812.2 620.5 819.4 618.9 820.5 600.6 814.8 592.6 811.6 584.4 807.5 577.8 807.8 566.3 810.8 553.2 809 550.5 806.2 546.2 807.7 541.2 818.9 543.1 824.8 606.7 821.1 610.2 821.8 620.1 834.5ZM579.5 790.5 586 789 589.3 787.5 592 781.6 597.5 779 600.1 776.5 601.1 773.9 600.8 771.9 599.2 771.1 597.5 771.1 582.6 772.7 565.8 775.2 564.1 776.5 565.7 779.1 565.6 782.9 569.6 788.5 571.2 789.6 574.5 790.4Z" fill="#8dc652"/>
<path fill-rule="evenodd" d="M617.8 831.5 621.3 832.7 621.1 834 620.4 834.6 631.8 839.1 634.7 839.1 642.8 834.4 673.4 832.2 675.2 826.4 668.5 815 663.1 813.1 660.9 805.2 654.3 802.1 662.3 794.5 668.2 795.8 685 793.2 723.1 759.6 722.9 752.2 725.3 750.3 730.7 747.5 722.3 743.8 699.3 742.1 681.3 745.9 678 747.9 671.4 754.2 668.1 759.5 663.8 771.4 659 779.1 658.6 784.2 658 785.4 655 786.6 645.1 788.7 637.3 791.8 633.6 793.9 629.6 798.2 626.4 812.2 625.4 826.4 624.7 827.6 623.8 827.9 613.5 826.1ZM593.4 821.9 571.2 817.4 559.7 814.5 551.5 813.4 548.2 811 546.6 811 544.3 811.9 541.2 818.9 543.1 824.8ZM579.5 781.6 587.7 780.5 595.9 777.5 597.5 776.4 598.3 773.9 595.9 773 586.5 773.9 579.9 775.2 577.9 776.5 577.8 780.7Z" fill="#b2d156"/>
<path fill-rule="evenodd" d="M554.2 824.2 554.5 819.9 553.9 818.6 549.8 817.4 546.2 814.8 543.4 814.1 541.2 818.9 543.1 824.8ZM727.6 749.1 722.3 746.5 719 745.6 697.7 744.2 681.3 748.2 678 750.4 671.4 757.3 668.1 762.9 665.6 770.1 660.6 779.1 660.7 785.4 659.9 787.1 650.4 790.5 646.8 793.1 643.5 792.8 640.2 793.8 636.7 795.6 634.2 798.2 632.9 802 630.1 821.2 631.6 828.8 632.6 831.4 633.6 832.7 635.3 833.3 641.9 833.6 643.8 834.3 673.4 832.2 675.2 826.4 668.5 815 663.1 813.1 660.9 805.2 654.3 802.1 662.3 794.5 668.2 795.8 685 793.2 723.1 759.6 722.9 752.2Z" fill="#d2db58"/>
<path fill-rule="evenodd" d="M705.5 773.9 707.7 771.4 715.9 765.9 723.1 759.6 722.9 752.2 724.6 750.9 719.6 748.4 715.8 747.4 697.7 746.2 684.1 749.7 679.6 751.8 674.1 757.3 669.8 763.2 667 770.1 663 777.8 662.3 780.3 663.2 788 662.6 789.3 659.3 791.8 648.5 804.6 639.7 812.2 634.6 818.6 633.3 822.5 633.9 826.3 635.3 829.4 638 831.4 643.5 832.6 645.4 834.2 673.4 832.2 675.2 826.4 668.5 815 663.1 813.1 660.9 805.2 654.3 802.1 662.3 794.5 668.2 795.8 685 793.2 705.7 775ZM672.6 793.1 668.4 790.5 668.2 789.3 669.9 788 676.3 785.7 684.6 784.1 686.3 784.2 686.6 785.4 686.1 786.7 684.6 788.7 681.3 791.3 674.7 793.2Z" fill="#f2e45a"/>
<path fill-rule="evenodd" d="M700.2 779.7 697.9 776.5 698.9 775.2 717.1 763.7 722.1 759.9 723 758.8 722.9 753.8 719 751.4 714.1 749.6 699.3 748.5 696 748.7 681.3 753.6 676.3 757.9 671 765 669.7 768.8 669.3 776.5 670 777.8 671.7 779.1 676.3 780.2 691.1 777.5 694.5 777.8 691.4 782.9 682.7 793.5 685 793.2ZM657 803.4 652.5 808.4 650.1 809.5 646.8 810 645.1 811 637.9 817.4 635.6 821.2 635.8 823.7 636.9 826.3 639.9 830.1 645.1 832.7 646.1 834.2 673.4 832.2 675.2 826.4 668.5 815 663.1 813.1 660.9 805.2Z" fill="#f5cd51"/>
<path fill-rule="evenodd" d="M694.4 784.6 692.8 785.1 691.1 786.4 685.6 792.7ZM661.5 807.3 656.6 812 655 812.9 646.8 813.2 640.2 817.6 638.2 819.9 637.9 821.2 638.6 823.3 642.1 826.3 643.2 830.1 645.1 831.6 646.8 834.1 673.4 832.2 675.2 826.4 668.5 815 663.1 813.1ZM681.3 776.3 696 772.7 705.9 768.9 716.3 762.5 719.4 758.6 719.7 756.1 717.4 754.2 714.1 752.9 697.7 751.6 692.8 752.4 681.3 756.6 678 759.2 675.4 762.5 674 765 673.7 767.6 674.6 771.4 676.4 775.2 678 776.4Z" fill="#f5b447"/>
<path fill-rule="evenodd" d="M664.8 813.8 658.3 816.7 646.8 816.4 642.8 818.6 641.5 819.9 641.6 821.2 645.9 825 646.3 826.3 645.6 830.1 647.3 834.1 673.4 832.2 675.2 826.4 668.5 815ZM681.3 773 692.4 770.1 701 766.9 705.9 766.2 709.2 765.1 711.4 763.7 713.9 761.2 715.2 758.6 715.1 757.3 714.1 756.6 710.8 755.9 694.4 755.3 690.7 756.1 681.3 759.6 679.4 761.2 678.1 763.7 678.5 770.1 679.6 772.6Z" fill="#f49c3d"/>
<path fill-rule="evenodd" d="M667.9 814.8 661.6 819.1 658.3 819.6 651.7 819.3 648.6 819.9 648.1 821.2 649.6 823.7 649.7 825 649 827.6 647 831.4 647.9 834 673.4 832.2 675.2 826.4 668.5 815Z" fill="#f17e31"/>
<path fill-rule="evenodd" d="M669.4 816.5 663.2 820.8 654 822.5 651.1 828.8 648 831.4 648.4 834 673.4 832.2 675.2 826.4Z" fill="#ee672b"/>
<path fill-rule="evenodd" d="M670.2 818.6 664.8 822.4 661.6 822.8 656.6 824.4 655.1 826.3 653.6 830.1 649.7 831.4 649.1 832.7 649.4 833.9 673.4 832.2 675.2 826.4Z" fill="#e8582a"/>
<path fill-rule="evenodd" d="M671.4 820.6 666.5 824.1 661.6 824.4 658.3 826.1 657.3 827.6 656.6 831.5 653.9 833.6 673.4 832.2 675.2 826.4Z" fill="#e4462a"/>
<path fill-rule="evenodd" d="M673.1 823.4 668.1 825.9 663.2 825.7 661.3 826.3 659.9 828 657.6 833.3 673.4 832.2 675.2 826.4Z" fill="#de352a"/>
<path fill-rule="evenodd" d="M669.3 831.4 668.1 831.2 667.2 830.1 664.8 829.2 663.2 829.2 661.2 830.1 659.5 833.2 669.7 832.5Z" fill="#d62528"/>
<path d="M671.6 711 L718.7 711 L748.9 735.1 L775.1 741.1 L777.7 734.6 L805.2 733.3 L805.2 684.8 L671.6 684.8Z" fill="#fff"/>
</g>
<path d="M532.7 771.9 L537.8 773.1 L542.3 774 L547.8 775.4 L552.8 776.3 L558.8 776 L565.6 775.7 L570.8 776.1 L576.1 776.3 L578.4 774.6 L584.8 774 L590.5 773.6 L599.8 772.1 L607.4 769.8 L608 760.4 L614.9 755.7 L625.4 755.1 L627.8 752.8 L640.6 751 L646.4 748.7 L647.6 741.7 L651.1 737 L661.5 734.7 L661 731.2 L656.9 727.6 L662.7 727.6 L672 726.4 L673.2 721.8 L680.2 716 L680.2 711.3 L675.5 705.5 L681.4 701.9 L688.3 699 L695.3 696.6 L699.8 696.5 L712.4 697 L719.2 695 L728.9 695 L733.8 697.5 L738.6 699.9 L739.6 704.4 L743.5 707.3 L748.3 707.3 L754.2 710.7 L762.9 711.6 L767.8 714.6 L770.7 719.9 L775.5 720.9 L780.4 723.8 L778 726.7 L778.4 731.6 L783.3 736.5 L785.2 740.4 L783.3 743.8 L779.4 743.8 L776.5 740.9 L767.8 741.4 L764.8 738.9 L758.1 738.4 L752.2 736.5 L747.4 736 L740.6 738.4 L737.7 741.4 L731.8 745.2 L724.1 748.1 L720.2 751.1 L721.2 758 L717.3 760.9 L712.3 767.1 L703.8 772.4 L700.6 777.8 L695.2 782 L688.8 785.3 L683.5 791.2 L673.9 792.3 L668 793.3 L665.3 791.2 L661.1 792.3 L654.7 798.2 L651.4 801.4 L652.5 804.6 L658.9 806.7 L660 811.1 L661.1 815.3 L666.4 816.4 L668.5 821.7 L672.8 827.1 L671.7 830.3 L667.5 830.8 L660 830.3 L652.5 831.4 L641.8 831.9 L638.6 834.6 L633.3 837.3 L628 835.1 L621.5 832.4 L618.3 828.2 L614.1 823.9 L611.9 819.6 L606.8 818.6 L597.8 819.6 L590.5 820 L580.1 820.2 L575.5 819.3 L565.6 820.2 L553.3 821.6 L544.6 822.8 L543.7 819.3 L545.8 815.8 L546.1 811.7 L548.1 809.3 L553.3 806.7 L565.3 804.7 L565.6 800 L559.2 798.2 L558.9 790.1 L556.2 788.3 L549.3 786.6 L543.4 783 L538.2 776.6Z" fill="none" stroke="#5d5ef2" stroke-width="1.15" stroke-linejoin="round"/>
<rect x="521.7" y="663.5" width="273.7" height="212.8" fill="none" stroke="#333" stroke-width="1.6"/>
<path d="M590.1 663.5v3.2M590.1 876.3v-3.2M658.5 663.5v3.2M658.5 876.3v-3.2M727 663.5v3.2M727 876.3v-3.2M521.7 716.7h3.2M795.4 716.7h-3.2M521.7 769.9h3.2M795.4 769.9h-3.2M521.7 823.1h3.2M795.4 823.1h-3.2" stroke="#333" stroke-width="1.5" fill="none"/>
<g class="tl"><text x="516.5" y="668.3" text-anchor="end" textLength="15.5" lengthAdjust="spacingAndGlyphs">40</text><text x="516.5" y="721.5" text-anchor="end" textLength="15.5" lengthAdjust="spacingAndGlyphs">35</text><text x="516.5" y="774.7" text-anchor="end" textLength="15.5" lengthAdjust="spacingAndGlyphs">30</text><text x="516.5" y="827.9" text-anchor="end" textLength="15.5" lengthAdjust="spacingAndGlyphs">25</text><text x="516.5" y="881.1" text-anchor="end" textLength="15.5" lengthAdjust="spacingAndGlyphs">20</text><text x="521.7" y="891.8" text-anchor="middle" textLength="15.5" lengthAdjust="spacingAndGlyphs">60</text><text x="590.1" y="891.8" text-anchor="middle" textLength="15.5" lengthAdjust="spacingAndGlyphs">65</text><text x="658.5" y="891.8" text-anchor="middle" textLength="15.5" lengthAdjust="spacingAndGlyphs">70</text><text x="727" y="891.8" text-anchor="middle" textLength="15.5" lengthAdjust="spacingAndGlyphs">75</text><text x="795.4" y="891.8" text-anchor="middle" textLength="15.5" lengthAdjust="spacingAndGlyphs">80</text></g>
<text class="ax" x="658" y="911.3" text-anchor="middle" textLength="89" lengthAdjust="spacingAndGlyphs">Longitude</text>
<text class="ax" transform="translate(494 769.9) rotate(-90) scale(1 1.33)" text-anchor="middle" textLength="59.5" lengthAdjust="spacingAndGlyphs">Latitude</text>
<text class="pl" x="806.7" y="914.1">(<tspan class="pll">f</tspan>)</text>
<text class="sn" x="540.5" y="685.5" textLength="48.5" lengthAdjust="spacingAndGlyphs">Spring</text>
<clipPath id="cg"><path d="M77.8 1091.9 L82.9 1093.1 L87.4 1094 L92.9 1095.4 L98 1096.3 L104 1096 L110.8 1095.7 L116 1096.1 L121.3 1096.3 L123.6 1094.6 L130 1094 L135.7 1093.6 L145 1092.1 L152.7 1089.8 L153.3 1080.4 L160.2 1075.7 L170.7 1075.1 L173.1 1072.8 L185.9 1071 L191.7 1068.7 L192.9 1061.7 L196.4 1057 L206.9 1054.7 L206.4 1051.2 L202.2 1047.6 L208.1 1047.6 L217.4 1046.4 L218.6 1041.8 L225.6 1036 L225.6 1031.3 L220.9 1025.5 L226.8 1021.9 L233.7 1019 L240.7 1016.6 L245.2 1016.5 L257.8 1017 L264.7 1015 L274.4 1015 L279.3 1017.5 L284.1 1019.9 L285.1 1024.4 L289 1027.3 L293.8 1027.3 L299.7 1030.7 L308.4 1031.6 L313.3 1034.6 L316.3 1039.9 L321.1 1040.9 L326 1043.8 L323.6 1046.7 L324 1051.6 L328.9 1056.5 L330.8 1060.4 L328.9 1063.8 L325 1063.8 L322.1 1060.9 L313.3 1061.4 L310.3 1058.9 L303.6 1058.4 L297.7 1056.5 L292.9 1056 L286.1 1058.4 L283.2 1061.4 L277.3 1065.2 L269.6 1068.1 L265.7 1071.1 L266.7 1078 L262.8 1080.9 L257.7 1087.1 L249.2 1092.4 L246 1097.8 L240.6 1102 L234.2 1105.3 L228.9 1111.2 L219.3 1112.3 L213.4 1113.3 L210.7 1111.2 L206.5 1112.3 L200 1118.2 L196.7 1121.4 L197.8 1124.6 L204.3 1126.7 L205.4 1131.1 L206.5 1135.3 L211.8 1136.4 L213.9 1141.7 L218.2 1147.1 L217.1 1150.3 L212.9 1150.8 L205.4 1150.3 L197.8 1151.4 L187.1 1151.9 L183.9 1154.6 L178.6 1157.3 L173.3 1155.1 L166.8 1152.4 L163.6 1148.2 L159.4 1143.9 L157.2 1139.6 L152.1 1138.6 L143 1139.6 L135.7 1140 L125.3 1140.2 L120.7 1139.3 L110.8 1140.2 L98.5 1141.6 L89.7 1142.8 L88.8 1139.3 L90.9 1135.8 L91.2 1131.7 L93.2 1129.3 L98.5 1126.7 L110.5 1124.7 L110.8 1120 L104.4 1118.2 L104.1 1110.1 L101.4 1108.3 L94.5 1106.6 L88.5 1103 L83.3 1096.6Z"/></clipPath>
<g clip-path="url(#cg)">
<path d="M77.8 1091.9 L82.9 1093.1 L87.4 1094 L92.9 1095.4 L98 1096.3 L104 1096 L110.8 1095.7 L116 1096.1 L121.3 1096.3 L123.6 1094.6 L130 1094 L135.7 1093.6 L145 1092.1 L152.7 1089.8 L153.3 1080.4 L160.2 1075.7 L170.7 1075.1 L173.1 1072.8 L185.9 1071 L191.7 1068.7 L192.9 1061.7 L196.4 1057 L206.9 1054.7 L206.4 1051.2 L202.2 1047.6 L208.1 1047.6 L217.4 1046.4 L218.6 1041.8 L225.6 1036 L225.6 1031.3 L220.9 1025.5 L226.8 1021.9 L233.7 1019 L240.7 1016.6 L245.2 1016.5 L257.8 1017 L264.7 1015 L274.4 1015 L279.3 1017.5 L284.1 1019.9 L285.1 1024.4 L289 1027.3 L293.8 1027.3 L299.7 1030.7 L308.4 1031.6 L313.3 1034.6 L316.3 1039.9 L321.1 1040.9 L326 1043.8 L323.6 1046.7 L324 1051.6 L328.9 1056.5 L330.8 1060.4 L328.9 1063.8 L325 1063.8 L322.1 1060.9 L313.3 1061.4 L310.3 1058.9 L303.6 1058.4 L297.7 1056.5 L292.9 1056 L286.1 1058.4 L283.2 1061.4 L277.3 1065.2 L269.6 1068.1 L265.7 1071.1 L266.7 1078 L262.8 1080.9 L257.7 1087.1 L249.2 1092.4 L246 1097.8 L240.6 1102 L234.2 1105.3 L228.9 1111.2 L219.3 1112.3 L213.4 1113.3 L210.7 1111.2 L206.5 1112.3 L200 1118.2 L196.7 1121.4 L197.8 1124.6 L204.3 1126.7 L205.4 1131.1 L206.5 1135.3 L211.8 1136.4 L213.9 1141.7 L218.2 1147.1 L217.1 1150.3 L212.9 1150.8 L205.4 1150.3 L197.8 1151.4 L187.1 1151.9 L183.9 1154.6 L178.6 1157.3 L173.3 1155.1 L166.8 1152.4 L163.6 1148.2 L159.4 1143.9 L157.2 1139.6 L152.1 1138.6 L143 1139.6 L135.7 1140 L125.3 1140.2 L120.7 1139.3 L110.8 1140.2 L98.5 1141.6 L89.7 1142.8 L88.8 1139.3 L90.9 1135.8 L91.2 1131.7 L93.2 1129.3 L98.5 1126.7 L110.5 1124.7 L110.8 1120 L104.4 1118.2 L104.1 1110.1 L101.4 1108.3 L94.5 1106.6 L88.5 1103 L83.3 1096.6Z" fill="#c1e4f6"/>
<path fill-rule="evenodd" d="M177.3 1159.1 180 1159.1 188.1 1154.4 218.7 1152.2 220.6 1146.4 213.9 1135 208.5 1133.1 206.2 1125.2 199.6 1122.1 207.7 1114.5 213.5 1115.8 230.4 1113.2 268.5 1079.6 268.3 1072.2 270.8 1070.3 293.2 1058.5 309.4 1061.3 312.2 1063.3 316.3 1058.2 317.2 1055.6 317 1054.4 313.9 1051.5 303.4 1045.4 301.9 1044.1 300.8 1041.6 301 1040.3 302.3 1038.7 315 1034.8 309.6 1029.3 289.8 1024.8 285.6 1018 274.8 1012.6 240.4 1014.1 219 1023.8 223.1 1034.8 216.6 1040.3 215.4 1044.2 200.5 1045.9 200 1048.8 204.1 1052.7 194.8 1055.1 189.5 1066.9 159 1073.5 151.2 1079 150.3 1087.9 120.5 1093.8 98.1 1093.8 78.4 1089.5 75.6 1090.7 76 1093.6 87.1 1105.1 101.6 1111.4 102.2 1119.5 108.2 1121.9 91.4 1127.7 86.4 1138.9 88.2 1144.8 152 1141.1 155.5 1141.8 165.4 1154.5Z" fill="#b8e0f6"/>
<path fill-rule="evenodd" d="M177.3 1159.1 180 1159.1 188.1 1154.4 218.7 1152.2 220.6 1146.4 213.9 1135 208.5 1133.1 206.2 1125.2 199.6 1122.1 207.7 1114.5 213.5 1115.8 230.4 1113.2 268.5 1079.6 268.3 1072.2 270.8 1070.3 293.2 1058.5 309.4 1061.3 311.2 1062.6 315 1056.9 314.6 1054.4 310.6 1051.5 298.2 1045.4 294.4 1042.9 292.1 1040.3 290.8 1037.1 289.3 1035.2 277.7 1025.3 261.2 1022.7 249.7 1024.4 241.5 1024 236.5 1024.4 234.1 1023.7 230.4 1018.7 219 1023.8 223.1 1034.8 216.6 1040.3 215.4 1044.2 200.5 1045.9 200 1048.8 204.1 1052.7 194.8 1055.1 189.5 1066.9 159 1073.5 151.2 1079 150.3 1087.9 120.5 1093.8 98.1 1093.8 78.4 1089.5 75.6 1090.7 76 1093.6 87.1 1105.1 101.6 1111.4 102.2 1119.5 108.2 1121.9 91.4 1127.7 86.4 1138.9 88.2 1144.8 152 1141.1 155.5 1141.8 165.4 1154.5Z" fill="#aedcf4"/>
<path fill-rule="evenodd" d="M177.3 1159.1 180 1159.1 188.1 1154.4 218.7 1152.2 220.6 1146.4 213.9 1135 208.5 1133.1 206.2 1125.2 199.6 1122.1 207.7 1114.5 213.5 1115.8 230.4 1113.2 268.5 1079.6 268.3 1072.2 270.8 1070.3 293.2 1058.5 309.4 1061.3 310.4 1062 313.5 1056.9 313.4 1055.6 312.5 1054.4 305.6 1050.3 294.2 1045.4 287.8 1041.6 284.2 1038.5 278 1030.1 274.4 1028.1 259.6 1026.7 251.3 1027.2 241.5 1025.6 229.9 1026.5 225 1028 221.3 1030 223.1 1034.8 216.6 1040.3 215.4 1044.2 200.5 1045.9 200 1048.8 204.1 1052.7 194.8 1055.1 189.5 1066.9 159 1073.5 151.2 1079 150.3 1087.9 120.5 1093.8 98.1 1093.8 78.4 1089.5 75.6 1090.7 76 1093.6 87.1 1105.1 101.6 1111.4 102.2 1119.5 108.2 1121.9 91.4 1127.7 86.4 1138.9 88.2 1144.8 152 1141.1 155.5 1141.8 165.4 1154.5Z" fill="#a3d8f3"/>
<path fill-rule="evenodd" d="M177.3 1159.1 180 1159.1 188.1 1154.4 218.7 1152.2 220.6 1146.4 213.9 1135 208.5 1133.1 206.2 1125.2 199.6 1122.1 207.7 1114.5 213.5 1115.8 230.4 1113.2 268.5 1079.6 268.3 1072.2 270.8 1070.3 293.2 1058.5 309.7 1061.6 311.8 1058.2 311.7 1055.6 308.9 1053.4 304 1050.7 293.3 1046.7 284.2 1041.7 281.6 1039 277.2 1032.7 274.4 1030.4 271.1 1029.9 254.6 1029.8 241.5 1026.9 238.2 1027 228.3 1029.2 222.1 1032.3 223.1 1034.8 216.6 1040.3 215.4 1044.2 200.5 1045.9 200 1048.8 204.1 1052.7 194.8 1055.1 189.5 1066.9 159 1073.5 151.2 1079 150.3 1087.9 120.5 1093.8 98.1 1093.8 78.4 1089.5 75.6 1090.7 76 1093.6 87.1 1105.1 101.6 1111.4 102.2 1119.5 108.2 1121.9 91.4 1127.7 86.4 1138.9 88.2 1144.8 152 1141.1 155.5 1141.8 165.4 1154.5Z" fill="#99d3f2"/>
<path fill-rule="evenodd" d="M177.3 1159.1 180 1159.1 188.1 1154.4 218.7 1152.2 220.6 1146.4 213.9 1135 208.5 1133.1 206.2 1125.2 199.6 1122.1 207.7 1114.5 213.5 1115.8 230.4 1113.2 268.5 1079.6 268.3 1072.2 270.8 1070.3 293.2 1058.5 308.9 1061.2 310.5 1058.2 310.6 1056.9 309.9 1055.6 302.3 1051.1 290.8 1047.1 282.8 1042.9 280.1 1040.3 275.6 1033.9 272.7 1032 256.3 1031.9 241.5 1028.2 238.2 1028.1 228.3 1030.3 222.5 1033.3 223.1 1034.8 216.6 1040.3 215.4 1044.2 200.5 1045.9 200 1048.8 204.1 1052.7 194.8 1055.1 189.5 1066.9 159 1073.5 151.2 1079 150.3 1087.9 120.5 1093.8 98.1 1093.8 78.4 1089.5 75.6 1090.7 76 1093.6 87.1 1105.1 101.6 1111.4 102.2 1119.5 108.2 1121.9 91.4 1127.7 86.4 1138.9 88.2 1144.8 152 1141.1 155.5 1141.8 165.4 1154.5Z" fill="#90cbee"/>
<path fill-rule="evenodd" d="M177.3 1159.1 180 1159.1 188.1 1154.4 218.7 1152.2 220.6 1146.4 213.9 1135 208.5 1133.1 206.2 1125.2 199.6 1122.1 207.7 1114.5 213.5 1115.8 230.4 1113.2 268.5 1079.6 268.3 1072.2 270.8 1070.3 293.2 1058.5 307.9 1061.1 309.2 1058.2 308.9 1056.9 306.2 1054.4 301.5 1051.8 289.5 1048 281.9 1044.1 279.3 1042.1 275.2 1036.5 272.7 1034.2 269.4 1033.5 257.9 1033.7 251.3 1032.4 241.5 1029.4 236.5 1029.4 228.3 1031.3 222.8 1034.1 223.1 1034.8 216.6 1040.3 215.4 1044.2 200.5 1045.9 200 1048.8 204.1 1052.7 194.8 1055.1 189.5 1066.9 159 1073.5 151.2 1079 150.3 1087.9 120.5 1093.8 98.1 1093.8 78.4 1089.5 75.6 1090.7 76 1093.6 87.1 1105.1 101.6 1111.4 102.2 1119.5 108.2 1121.9 91.4 1127.7 86.4 1138.9 88.2 1144.8 152 1141.1 155.5 1141.8 165.4 1154.5Z" fill="#86c4ea"/>
<path fill-rule="evenodd" d="M177.3 1159.1 180 1159.1 188.1 1154.4 218.7 1152.2 220.6 1146.4 213.9 1135 208.5 1133.1 206.2 1125.2 199.6 1122.1 207.7 1114.5 213.5 1115.8 230.4 1113.2 268.5 1079.6 268.3 1072.2 270.8 1070.3 293.2 1058.5 306.9 1060.9 307.7 1058.2 307.2 1056.9 304 1054.4 299.1 1051.8 287.5 1048.5 281 1045.4 277.7 1042.9 273.7 1037.8 271.1 1035.8 267.8 1035.3 259.6 1035.4 249.7 1033.3 241.5 1030.6 236.5 1030.3 228.3 1032 225 1033.5 216.6 1040.3 215.4 1044.2 209.1 1044.9 201.5 1050.2 204.1 1052.7 194.8 1055.1 189.5 1066.9 159 1073.5 151.2 1079 150.3 1087.9 120.5 1093.8 98.1 1093.8 78.4 1089.5 75.6 1090.7 76 1093.6 87.1 1105.1 101.6 1111.4 102.2 1119.5 108.2 1121.9 91.4 1127.7 86.4 1138.9 88.2 1144.8 152 1141.1 155.5 1141.8 165.4 1154.5Z" fill="#7dbce6"/>
<path fill-rule="evenodd" d="M177.3 1159.1 180 1159.1 188.1 1154.4 218.7 1152.2 220.6 1146.4 213.9 1135 208.5 1133.1 206.2 1125.2 199.6 1122.1 207.7 1114.5 213.5 1115.8 230.4 1113.2 268.5 1079.6 268.3 1072.2 270.8 1070.3 293.2 1058.5 305.9 1060.7 306.1 1058.2 305.3 1056.9 301.8 1054.4 297.4 1052.2 286 1049.3 280.2 1046.7 276.5 1044.1 272.2 1039 269.4 1037.4 259.6 1036.8 249.7 1034.6 239.8 1031.4 236.5 1031.3 228.3 1032.8 225 1034.2 216.6 1040.3 215.4 1044.2 210.6 1044.7 202.3 1051 204.1 1052.7 197.7 1054.4 194 1056.9 189.5 1066.9 159 1073.5 151.2 1079 150.3 1087.9 120.5 1093.8 98.1 1093.8 78.4 1089.5 75.6 1090.7 76 1093.6 87.1 1105.1 101.6 1111.4 102.2 1119.5 108.2 1121.9 91.4 1127.7 86.4 1138.9 88.2 1144.8 152 1141.1 155.5 1141.8 165.4 1154.5Z" fill="#74b3e2"/>
<path fill-rule="evenodd" d="M177.3 1159.1 180 1159.1 188.1 1154.4 218.7 1152.2 220.6 1146.4 213.9 1135 208.5 1133.1 206.2 1125.2 199.6 1122.1 207.7 1114.5 213.5 1115.8 230.4 1113.2 268.5 1079.6 268.3 1072.2 270.8 1070.3 293.2 1058.5 304.6 1060.5 304.8 1059.5 304 1057.7 301.7 1055.6 297.1 1053.1 284.2 1049.8 279.5 1048 275.5 1045.4 270.4 1040.3 267.8 1039 259.6 1038.2 238.2 1032.3 229.9 1033.1 226.7 1034 221.7 1037.1 216.4 1041 215.4 1044.2 211.7 1044.6 202.9 1051.6 204.1 1052.7 200.2 1053.7 192.9 1059.3 189.5 1066.9 159 1073.5 151.2 1079 150.3 1087.9 120.5 1093.8 98.1 1093.8 78.4 1089.5 75.6 1090.7 76 1093.6 87.1 1105.1 101.6 1111.4 102.2 1119.5 108.2 1121.9 91.4 1127.7 86.4 1138.9 88.2 1144.8 152 1141.1 155.5 1141.8 165.4 1154.5Z" fill="#6baade"/>
<path fill-rule="evenodd" d="M177.3 1159.1 180 1159.1 188.1 1154.4 218.7 1152.2 220.6 1146.4 213.9 1135 208.5 1133.1 206.2 1125.2 199.6 1122.1 207.7 1114.5 213.5 1115.8 230.4 1113.2 268.5 1079.6 268.3 1072.2 270.8 1070.3 293.2 1058.5 303.2 1060.3 302.5 1058.2 299.5 1055.6 294.4 1053.1 279.1 1049.3 274.7 1046.7 267.8 1041.2 261.2 1040 238.2 1033.4 229.9 1033.7 226.7 1034.7 220.1 1038.9 216.1 1041.8 215.4 1044.2 212.7 1044.5 203.4 1052.1 204.1 1052.7 201.9 1053.3 192.7 1060.7 189.5 1066.9 183.2 1068.3 178.9 1071.2 175.7 1072.4 172.4 1072.4 169.2 1071.3 159 1073.5 151.2 1079 150.3 1087.9 120.5 1093.8 98.1 1093.8 78.4 1089.5 75.6 1090.7 76 1093.6 87.1 1105.1 101.6 1111.4 102.2 1119.5 108.2 1121.9 91.4 1127.7 86.4 1138.9 88.2 1144.8 152 1141.1 155.5 1141.8 165.4 1154.5Z" fill="#62a2da"/>
<path fill-rule="evenodd" d="M177.3 1159.1 180 1159.1 188.1 1154.4 218.7 1152.2 220.6 1146.4 213.9 1135 208.5 1133.1 206.2 1125.2 199.6 1122.1 207.7 1114.5 213.5 1115.8 230.4 1113.2 268.5 1079.6 268.3 1072.2 270.8 1070.3 293.2 1058.5 301.6 1060 300.5 1058.2 297.3 1055.6 294.1 1054 277.7 1049.8 266.1 1042.7 238.2 1034.4 229.9 1034.4 225 1036.2 215.9 1042.6 215.4 1044.2 213.6 1044.4 191.2 1063.2 189.5 1066.9 186.3 1067.6 179.1 1073.5 172.6 1076.1 165.8 1077.5 162.2 1077.3 156.5 1075.3 151.2 1079 150.3 1087.9 120.5 1093.8 98.1 1093.8 78.4 1089.5 75.6 1090.7 76 1093.6 87.1 1105.1 101.6 1111.4 102.2 1119.5 108.2 1121.9 91.4 1127.7 86.4 1138.9 88.2 1144.8 152 1141.1 155.5 1141.8 165.4 1154.5Z" fill="#5a99d6"/>
<path fill-rule="evenodd" d="M177.3 1159.1 180 1159.1 188.1 1154.4 218.7 1152.2 220.6 1146.4 213.9 1135 208.5 1133.1 206.2 1125.2 199.6 1122.1 207.7 1114.5 213.5 1115.8 230.4 1113.2 268.5 1079.6 268.3 1072.2 270.8 1070.3 293.2 1058.5 299.6 1059.5 297 1056.9 292.5 1054.4 277.7 1050.9 266.1 1044.5 256.3 1040.5 238.2 1035.5 229.9 1035.1 225 1036.8 215.6 1043.4 215.4 1044.2 213.5 1045.1 196.6 1059.5 190.1 1065.5 189.5 1066.9 188.6 1067.1 185 1071 181.7 1073.5 175.7 1076.5 160.9 1081.5 157.6 1082.1 150.9 1081.5 150.3 1087.9 120.5 1093.8 98.1 1093.8 78.4 1089.5 75.6 1090.7 76 1093.6 87.1 1105.1 101.6 1111.4 102.2 1119.5 108.2 1121.9 91.4 1127.7 86.4 1138.9 88.2 1144.8 152 1141.1 155.5 1141.8 165.4 1154.5Z" fill="#5290d0"/>
<path fill-rule="evenodd" d="M177.3 1159.1 180 1159.1 188.1 1154.4 218.7 1152.2 220.6 1146.4 213.9 1135 208.5 1133.1 206.2 1125.2 199.6 1122.1 207.7 1114.5 213.5 1115.8 230.4 1113.2 268.5 1079.6 268.3 1072.2 270.8 1070.3 293.2 1058.5 297.5 1059.3 292.5 1055.5 289.2 1054.2 277.7 1051.8 266.1 1045.9 254.6 1040.9 236.5 1036 229.9 1035.7 226.7 1036.6 223.4 1038.5 212.2 1046.7 196.4 1060.7 187.2 1071 183.9 1073.5 177.3 1077 157.6 1084.9 150.5 1085.4 150.3 1087.9 120.5 1093.8 98.1 1093.8 78.4 1089.5 75.6 1090.7 76 1093.6 87.1 1105.1 101.6 1111.4 102.2 1119.5 108.2 1121.9 91.4 1127.7 86.4 1138.9 88.2 1144.8 152 1141.1 155.5 1141.8 165.4 1154.5Z" fill="#4b88cc"/>
<path fill-rule="evenodd" d="M177.3 1159.1 180 1159.1 188.1 1154.4 218.7 1152.2 220.6 1146.4 213.9 1135 208.5 1133.1 206.2 1125.2 199.6 1122.1 207.7 1114.5 213.5 1115.8 230.4 1113.2 268.5 1079.6 268.3 1072.2 270.8 1070.3 293.2 1058.5 295.1 1058.8 290.4 1055.6 277.7 1052.6 254.6 1041.9 236.5 1036.9 229.9 1036.4 226.7 1037.2 223.4 1039.1 211.3 1048 196.2 1062 187.8 1072.2 178.9 1077.3 165.8 1082.6 155.9 1087.4 152.6 1088.2 149.2 1088.1 120.5 1093.8 98.1 1093.8 78.4 1089.5 75.6 1090.7 76 1093.6 87.1 1105.1 101.6 1111.4 102.2 1119.5 108.2 1121.9 91.4 1127.7 86.4 1138.9 88.2 1144.8 152 1141.1 155.5 1141.8 165.4 1154.5Z" fill="#498abf"/>
<path fill-rule="evenodd" d="M177.3 1159.1 180 1159.1 188.1 1154.4 218.7 1152.2 220.6 1146.4 213.9 1135 208.5 1133.1 206.2 1125.2 199.6 1122.1 207.7 1114.5 213.5 1115.8 230.4 1113.2 268.5 1079.6 268.3 1072.2 270.8 1070.3 292.9 1058.7 287.7 1055.6 276 1052.7 253 1042.2 236.5 1037.7 229.9 1037 226.7 1037.9 223.4 1039.7 210.6 1049.3 197.3 1062 194.1 1065.9 191 1071 188.8 1072.9 180.9 1077.3 165.8 1083.6 152.6 1090.5 149.3 1091.2 137.8 1090.4 120.5 1093.8 98.1 1093.8 78.4 1089.5 75.6 1090.7 76 1093.6 87.1 1105.1 101.6 1111.4 102.2 1119.5 108.2 1121.9 91.4 1127.7 86.4 1138.9 88.2 1144.8 152 1141.1 155.5 1141.8 165.4 1154.5Z" fill="#478db2"/>
<path fill-rule="evenodd" d="M177.3 1159.1 180 1159.1 188.1 1154.4 218.7 1152.2 220.6 1146.4 213.9 1135 208.5 1133.1 206.2 1125.2 199.6 1122.1 207.7 1114.5 213.5 1115.8 230.4 1113.2 268.5 1079.6 268.3 1072.2 270.8 1070.3 291.5 1059.4 287.5 1056.6 276 1053.4 253 1043 236.5 1038.5 229.9 1037.7 226.7 1038.5 223.4 1040.3 211.3 1049.3 199.6 1060.7 195.4 1065.9 192.1 1071.6 189.8 1073.5 180.6 1078.5 165.8 1084.6 155.9 1090.6 149.3 1093.7 146 1094.3 137.8 1092.9 132.9 1092.7 120.5 1093.8 100 1094.2 78.4 1089.5 75.6 1090.7 76 1093.6 87.1 1105.1 101.6 1111.4 102.2 1119.5 108.2 1121.9 91.4 1127.7 86.4 1138.9 88.2 1144.8 152 1141.1 155.5 1141.8 165.4 1154.5Z" fill="#4690a5"/>
<path fill-rule="evenodd" d="M177.3 1159.1 180 1159.1 188.1 1154.4 218.7 1152.2 220.6 1146.4 213.9 1135 208.5 1133.1 206.2 1125.2 199.6 1122.1 207.7 1114.5 213.5 1115.8 230.4 1113.2 268.5 1079.6 268.3 1072.2 270.8 1070.3 290.2 1060.1 285.6 1056.9 276 1054.1 253 1043.9 234.9 1038.9 231.6 1038.4 228.3 1038.6 225 1040 218.4 1044.2 209.2 1051.8 198.4 1063.3 195.7 1067.1 193.8 1071.5 191.6 1073.5 182.2 1078.6 167.1 1085 147.7 1096.6 142.8 1097.2 131.2 1095.2 119.7 1095.5 91.8 1097.8 88.5 1098.7 86.9 1100.3 85.9 1103.9 87.1 1105.1 101.6 1111.4 102.2 1119.5 108.2 1121.9 91.4 1127.7 86.4 1138.9 88.2 1144.8 152 1141.1 155.5 1141.8 165.4 1154.5Z" fill="#469698"/>
<path fill-rule="evenodd" d="M177.3 1159.1 180 1159.1 188.1 1154.4 218.7 1152.2 220.6 1146.4 213.9 1135 208.5 1133.1 206.2 1125.2 199.6 1122.1 207.7 1114.5 213.5 1115.8 230.4 1113.2 268.5 1079.6 268.3 1072.2 270.8 1070.3 288.8 1060.8 284.2 1057.5 276 1054.8 251.3 1044.2 233.2 1039.3 228.3 1039.3 225 1040.6 218.4 1044.9 208.7 1053.1 198.4 1064.6 196.8 1067.1 194.9 1072.2 193.5 1073.5 182.2 1079.6 166.5 1086.3 147.7 1098.7 144.4 1099.7 141.1 1099.8 126.3 1097.5 116.4 1097.7 108.2 1098.7 100 1100.3 91.8 1100.8 90.1 1101.3 88.7 1102.9 88.3 1105.6 101.6 1111.4 102.2 1119.5 108.2 1121.9 91.4 1127.7 86.4 1138.9 88.2 1144.8 152 1141.1 155.5 1141.8 165.4 1154.5Z" fill="#479a8a"/>
<path fill-rule="evenodd" d="M177.3 1159.1 180 1159.1 188.1 1154.4 218.7 1152.2 220.6 1146.4 213.9 1135 208.5 1133.1 206.2 1125.2 199.6 1122.1 207.7 1114.5 213.5 1115.8 230.4 1113.2 268.5 1079.6 268.3 1072.2 270.8 1070.3 287.5 1061.5 283.4 1058.2 251.3 1045 233.2 1040.1 228.3 1039.9 225 1041.3 216.8 1046.7 208.3 1054.4 199.4 1064.6 198 1067.1 196.6 1072.2 195.4 1073.5 182.2 1080.6 167.4 1086.8 154.7 1095.2 147.7 1100.7 142.8 1102.2 139.5 1102.3 124.7 1099.9 118.1 1099.7 111.5 1100.7 101.6 1103.3 91.8 1103.7 90.2 1105.4 89.9 1106.3 101.6 1111.4 102.2 1119.5 108.2 1121.9 91.4 1127.7 86.4 1138.9 88.2 1144.8 152 1141.1 155.5 1141.8 165.4 1154.5Z" fill="#47a07d"/>
<path fill-rule="evenodd" d="M177.3 1159.1 180 1159.1 188.1 1154.4 218.7 1152.2 220.6 1146.4 213.9 1135 208.5 1133.1 206.2 1125.2 199.6 1122.1 207.7 1114.5 213.5 1115.8 230.4 1113.2 268.5 1079.6 268.3 1072.2 270.8 1070.3 285.9 1062 281 1058.2 251.3 1045.8 233.2 1040.9 228.3 1040.6 223.5 1042.9 216.8 1047.4 206.7 1056.9 202.2 1062 199.7 1065.9 198.2 1072.2 197.3 1073.5 182.2 1081.5 167.4 1087.8 156.6 1095.2 151 1100.6 147.7 1102.5 142.8 1104.4 139.5 1104.7 126.3 1102.4 118.1 1102 111.5 1103.2 103.3 1105.8 93.4 1106.1 91.5 1107 101.6 1111.4 102.2 1119.5 108.2 1121.9 91.4 1127.7 86.4 1138.9 88.2 1144.8 152 1141.1 155.5 1141.8 165.4 1154.5Z" fill="#46a46e"/>
<path fill-rule="evenodd" d="M177.3 1159.1 180 1159.1 188.1 1154.4 218.7 1152.2 220.6 1146.4 213.9 1135 208.5 1133.1 206.2 1125.2 199.6 1122.1 207.7 1114.5 213.5 1115.8 230.4 1113.2 268.5 1079.6 268.3 1072.2 270.8 1070.3 284.7 1063 283.8 1062 279 1058.2 253 1047.2 233.2 1041.7 228.3 1041.4 224.8 1042.9 216.8 1048.1 206.3 1058.2 203.1 1062 200.8 1065.9 199.7 1072.2 198.7 1073.9 191.1 1077.3 182.2 1082.5 167.6 1088.8 158.4 1095.2 152.6 1101.3 147.7 1104.4 142.8 1106.7 139.5 1107.3 127.9 1104.6 119.7 1104.1 111.5 1105.5 103.3 1108.5 100 1108.9 94.8 1108.4 101.6 1111.4 102.2 1119.5 108.2 1121.9 91.4 1127.7 86.4 1138.9 88.2 1144.8 152 1141.1 155.5 1141.8 165.4 1154.5Z" fill="#46aa5f"/>
<path fill-rule="evenodd" d="M177.3 1159.1 180 1159.1 188.1 1154.4 218.7 1152.2 220.6 1146.4 213.9 1135 208.5 1133.1 206.2 1125.2 199.6 1122.1 207.7 1114.5 213.5 1115.8 230.4 1113.2 268.5 1079.6 268.3 1072.2 270.8 1070.3 283.3 1063.7 280.7 1060.7 277.3 1058.2 274.5 1056.9 261.2 1051 251.3 1047.4 231.6 1042.2 226.7 1042.7 216.3 1049.3 205.3 1060.4 202.4 1064.6 201.6 1067.1 201.2 1072.2 200.7 1073.5 199.4 1074.8 192.7 1077.3 183.9 1082.8 172.1 1087.6 167.4 1090 158.6 1096.5 152.6 1103.6 142.8 1110.1 139.5 1111.6 136.2 1112.2 134.4 1109.3 132.5 1108 127.9 1106.7 121.4 1106.2 111.5 1107.7 104.9 1110.7 101.6 1111.5 102.2 1119.5 108.2 1121.9 91.4 1127.7 86.4 1138.9 88.2 1144.8 152 1141.1 155.5 1141.8 165.4 1154.5Z" fill="#45ae50"/>
<path fill-rule="evenodd" d="M177.3 1159.1 180 1159.1 188.1 1154.4 218.7 1152.2 220.6 1146.4 213.9 1135 208.5 1133.1 206.2 1125.2 199.6 1122.1 207.7 1114.5 213.5 1115.8 230.4 1113.2 268.5 1079.6 268.3 1072.2 270.8 1070.3 282 1064.5 279 1060.7 275.7 1058.2 254.6 1049.3 231.6 1043 228.3 1043 226.7 1043.6 216.8 1049.7 205.8 1060.7 203.4 1064.6 202.5 1072.2 201.2 1074.8 193.8 1077.6 183.9 1083.9 172.4 1088.4 167.4 1091.2 160.4 1096.5 154.3 1104.6 147.7 1111 143.1 1114.4 132.9 1117.8 129.6 1118.4 125.3 1118.2 123.1 1116.9 123 1115.6 127.9 1113.2 129.2 1111.8 129.5 1110.5 127.9 1109.2 123 1108.5 111.5 1110.3 104.9 1113.4 101.8 1114.1 102.2 1119.5 108.2 1121.9 91.4 1127.7 86.4 1138.9 88.2 1144.8 152 1141.1 155.5 1141.8 165.4 1154.5Z" fill="#51b44c"/>
<path fill-rule="evenodd" d="M177.3 1159.1 180 1159.1 188.1 1154.4 218.7 1152.2 220.6 1146.4 213.9 1135 208.5 1133.1 206.2 1125.2 199.6 1122.1 207.7 1114.5 213.5 1115.8 230.4 1113.2 268.5 1079.6 268.3 1072.2 270.8 1070.3 280.6 1065.2 277.5 1060.7 274.1 1058.2 254.6 1050 232.6 1044.1 229.9 1043.8 226.7 1044.5 221.7 1047.1 216.9 1050.5 206.7 1060.7 204.5 1064.6 203.6 1072.4 202.8 1074.8 200.9 1076.1 193.2 1078.6 184.1 1085 172.4 1089.5 165.3 1093.9 161 1097.8 154.3 1107.6 147.2 1115.6 145 1116.9 140.8 1118.2 132.9 1119.7 126.3 1120.2 121.4 1119.2 113.1 1114 109.8 1114.2 104.9 1116.2 102 1116.7 102.2 1119.5 108.2 1121.9 91.4 1127.7 86.4 1138.9 88.2 1144.8 152 1141.1 155.5 1141.8 165.4 1154.5Z" fill="#62b84e"/>
<path fill-rule="evenodd" d="M177.3 1159.1 180 1159.1 188.1 1154.4 218.7 1152.2 220.6 1146.4 213.9 1135 208.5 1133.1 206.2 1125.2 199.6 1122.1 207.7 1114.5 213.5 1115.8 230.4 1113.2 268.5 1079.6 268.3 1072.2 270.8 1070.3 279.2 1065.9 276.1 1060.7 272.5 1058.2 254.6 1050.7 233.2 1045.2 229.9 1044.8 226.7 1045.4 221.7 1047.9 218 1050.5 206.9 1061.8 205.5 1064.6 204.5 1073.5 203.6 1075.4 202 1076.5 193.8 1079.1 185.5 1085.5 173.3 1090.1 167.1 1093.9 162.7 1097.8 154.3 1110.6 150.3 1115.6 147.7 1117.8 141.1 1119.8 126.3 1121.6 121.4 1121.2 113.1 1118.1 109.8 1118 104.9 1119.1 102.2 1119 102.2 1119.5 108.2 1121.9 91.4 1127.7 86.4 1138.9 88.2 1144.8 152 1141.1 155.5 1141.8 165.4 1154.5Z" fill="#73be4f"/>
<path fill-rule="evenodd" d="M177.3 1159.1 180 1159.1 188.1 1154.4 218.7 1152.2 220.6 1146.4 213.9 1135 208.5 1133.1 206.2 1125.2 199.6 1122.1 207.7 1114.5 213.5 1115.8 230.4 1113.2 268.5 1079.6 268.3 1072.2 270.8 1070.3 277.8 1066.6 274.8 1060.7 272.7 1059.1 265.3 1055.6 254.6 1051.4 231.6 1046 228.3 1046.1 225 1047.2 217.7 1051.8 207.9 1062 206.3 1065.9 205.5 1073.5 204.5 1076.1 202 1077.3 197 1078.5 193.8 1079.9 185.5 1086.8 174 1090.9 167.4 1095 163.4 1099.1 156.4 1110.5 149.9 1118.2 147.6 1119.5 142.8 1120.9 129.6 1122.6 123 1122.8 114.8 1121.6 107.3 1121.5 108.2 1121.9 91.4 1127.7 86.4 1138.9 88.2 1144.8 152 1141.1 155.5 1141.8 165.4 1154.5Z" fill="#84c351"/>
<path fill-rule="evenodd" d="M177.3 1159.1 180 1159.1 188.1 1154.4 218.7 1152.2 220.6 1146.4 213.9 1135 208.5 1133.1 206.2 1125.2 199.6 1122.1 207.7 1114.5 213.5 1115.8 230.4 1113.2 268.5 1079.6 268.3 1072.2 270.8 1070.3 276.5 1067.3 273.6 1060.7 262.9 1055.2 254.6 1052.1 248 1051.1 233.2 1047.3 229.9 1047.1 225 1048.2 221.7 1049.9 218.4 1052.3 208.6 1062.7 207.3 1065.9 206.3 1074.8 205.3 1076.7 203.6 1077.6 195.4 1079.9 191.7 1082.5 187.2 1087.1 185.5 1088.2 175.4 1091.4 169 1095.2 164.2 1100.3 157.4 1111.8 151 1119.1 144.4 1121.7 134.5 1123.3 123 1124.1 104.1 1123.3 91.4 1127.7 86.4 1138.9 88.2 1144.8 152 1141.1 155.5 1141.8 165.4 1154.5Z" fill="#97c853"/>
<path fill-rule="evenodd" d="M177.3 1159.1 180 1159.1 188.1 1154.4 218.7 1152.2 220.6 1146.4 213.9 1135 208.5 1133.1 206.2 1125.2 199.6 1122.1 207.7 1114.5 213.5 1115.8 230.4 1113.2 268.5 1079.6 268.3 1072.2 275.2 1068 273.3 1062 272.3 1060.7 261.2 1055.2 254.6 1052.9 248 1052.1 233.2 1048.3 228.3 1048.5 223.4 1050.1 218.4 1053.5 209.5 1063.3 208 1067.1 207 1076.1 206 1077.3 195.4 1080.7 193 1082.5 187.2 1088.6 175.7 1092.4 170.8 1095.2 166 1100.3 159.3 1111.8 152.6 1119.5 149.3 1121.3 144.4 1123 136.2 1124.4 121.4 1125.3 101.1 1124.3 91.4 1127.7 86.4 1138.9 88.2 1144.8 152 1141.1 155.5 1141.8 165.4 1154.5Z" fill="#a9ce55"/>
<path fill-rule="evenodd" d="M177.3 1159.1 180 1159.1 188.1 1154.4 218.7 1152.2 220.6 1146.4 213.9 1135 208.5 1133.1 206.2 1125.2 199.6 1122.1 207.7 1114.5 213.5 1115.8 230.4 1113.2 268.5 1079.6 268.3 1072.2 273.8 1068.7 272.6 1063.3 271.1 1060.9 260.6 1055.6 254.6 1053.6 248 1053.2 233.2 1049.4 228.3 1049.8 223.4 1051.3 219.2 1054.4 210.2 1064.3 208.7 1068.4 208 1076.1 206.9 1077.9 205.3 1078.8 196.3 1081.2 193.8 1083.1 187.2 1090 177.3 1092.9 172.4 1095.5 166.8 1101.6 160.1 1113.1 155.9 1118.2 152.9 1120.8 144.4 1124.2 136.2 1125.5 119.7 1126.4 101.6 1125.8 98.5 1125.2 91.4 1127.7 86.4 1138.9 88.2 1144.8 152 1141.1 155.5 1141.8 165.4 1154.5Z" fill="#bbd356"/>
<path fill-rule="evenodd" d="M177.3 1159.1 180 1159.1 188.1 1154.4 218.7 1152.2 220.6 1146.4 213.9 1135 208.5 1133.1 206.2 1125.2 199.6 1122.1 207.7 1114.5 213.5 1115.8 230.4 1113.2 268.5 1079.6 268.3 1072.2 272.5 1069.4 270.9 1062 269.4 1060.7 261.8 1056.9 254.6 1054.4 248 1054.3 238.2 1051.4 233.2 1050.6 228.3 1051.2 223.4 1052.7 220.1 1055.3 210.7 1065.9 209.5 1069.7 209 1076.1 207.6 1078.6 197 1081.7 194.5 1083.7 190.2 1088.8 187.2 1091.4 177.3 1094 173 1096.5 167.6 1102.9 161.9 1113.1 154.3 1121.4 146 1125.1 139.5 1126.4 119.7 1127.6 100 1126.9 96.2 1126 91.4 1127.7 86.4 1138.9 88.2 1144.8 152 1141.1 155.5 1141.8 165.4 1154.5Z" fill="#cad857"/>
<path fill-rule="evenodd" d="M177.3 1159.1 180 1159.1 188.1 1154.4 218.7 1152.2 220.6 1146.4 213.9 1135 208.5 1133.1 206.2 1125.2 199.6 1122.1 207.7 1114.5 213.5 1115.8 230.4 1113.2 268.3 1079.8 268.3 1072.2 271.2 1070.1 270.4 1063.3 269.6 1062 262.8 1058.2 256.3 1055.6 248 1055.3 234.9 1051.9 231.6 1052 225 1053.6 221.7 1055.7 211.9 1066.1 210.5 1069.7 209.8 1077.3 208.6 1079.2 206.9 1080.1 197.8 1082.5 195.4 1084.3 188.8 1091.7 185.5 1093.2 177.3 1095.2 174 1097.3 169.3 1102.9 162.6 1114.4 157.6 1120.3 154.3 1123.1 144.4 1127 126.3 1128.4 100 1128.2 96.7 1127.9 94.2 1126.7 91.4 1127.7 86.4 1138.9 88.2 1144.8 152 1141.1 155.5 1141.8 165.4 1154.5Z" fill="#dadd58"/>
<path fill-rule="evenodd" d="M177.3 1159.1 180 1159.1 188.1 1154.4 218.7 1152.2 220.6 1146.4 213.9 1135 208.5 1133.1 206.2 1125.2 199.6 1122.1 207.7 1114.5 213.5 1115.8 230.4 1113.2 266.3 1081.2 268.5 1078.1 268.3 1072.2 270 1070.9 269.6 1064.6 268.1 1062 261 1058.2 256.3 1056.4 248 1056.4 234.9 1053.2 229.9 1053.7 225 1055.3 222.9 1056.9 212.7 1067.1 211.6 1069.7 210.9 1077.3 209.4 1079.9 198.1 1083.7 188.8 1093.2 185.5 1094.5 178.9 1095.9 175.4 1097.8 170.7 1103.2 163.4 1115.6 157.7 1122 154.3 1124.8 149.3 1127.1 144.7 1128.4 123 1129.6 96.7 1129.4 93.4 1128.8 91.5 1127.6 86.4 1138.9 88.2 1144.8 152 1141.1 155.5 1141.8 165.4 1154.5Z" fill="#eae259"/>
<path fill-rule="evenodd" d="M177.3 1159.1 180 1159.1 188.1 1154.4 218.7 1152.2 220.6 1146.4 213.9 1135 208.5 1133.1 206.2 1125.2 199.6 1122.1 207.7 1114.5 213.5 1115.8 230.4 1113.2 262.3 1085.1 268.4 1076.2 268.5 1065.9 267.8 1063.2 264.2 1060.7 256.3 1057.4 248 1057.5 234.9 1054.7 231.6 1055 226.7 1056.4 223.9 1058.2 213.5 1068.3 212.6 1071 211.7 1078.6 210.2 1080.7 198.7 1085.5 188.8 1094.6 178.9 1097.2 175.9 1099.1 171.6 1104.2 164.1 1116.9 159.2 1122.5 154.3 1126.6 149.3 1128.9 145.8 1129.7 95 1131.1 89.2 1132.6 86.4 1138.9 88.2 1144.8 152 1141.1 155.5 1141.8 165.4 1154.5Z" fill="#f5e158"/>
<path fill-rule="evenodd" d="M177.3 1159.1 180 1159.1 188.1 1154.4 218.7 1152.2 220.6 1146.4 213.9 1135 208.5 1133.1 206.2 1125.2 199.6 1122.1 207.7 1114.5 213.5 1115.8 230.4 1113.2 259.2 1087.8 267.3 1076.1 267.3 1065.9 266.2 1063.3 262 1060.7 256.3 1058.5 248 1058.6 236.5 1056.5 231.6 1056.8 228.3 1057.5 225 1059.4 215.1 1068.5 213.6 1072.2 212.9 1078.6 211.6 1081.2 207.9 1083.7 204.6 1087.6 198.7 1088.4 197 1089.1 188.8 1096 180.6 1098.1 177.3 1099.7 173.2 1104.2 164.9 1118.2 159.2 1124.3 154.3 1128.4 149.3 1130.6 146 1131 137.8 1130.8 96.7 1132.3 88.5 1134.1 86.4 1138.9 88.2 1144.8 152 1141.1 155.5 1141.8 165.4 1154.5Z" fill="#f5d454"/>
<path fill-rule="evenodd" d="M177.3 1159.1 180 1159.1 188.1 1154.4 218.7 1152.2 220.6 1146.4 213.9 1135 208.5 1133.1 206.2 1125.2 199.6 1122.1 207.7 1114.5 213.5 1115.8 230.4 1113.2 256.2 1090.5 264 1079.9 266.1 1076.1 266.1 1067 265.4 1064.6 264.5 1063.6 259.6 1061 254.6 1059.7 248 1059.8 241.5 1058.8 234.9 1058.5 229.9 1058.9 226.7 1060.3 216.2 1069.7 215.1 1072.2 213.5 1080.9 206.9 1089.4 203.6 1091.3 197 1091.9 188.8 1097.3 180.6 1099.5 177.3 1101.4 173.9 1105.4 165.6 1119.5 157.6 1127.7 152.6 1131.1 147.7 1132.3 137.8 1131.9 96.7 1133.5 88 1135.2 86.4 1138.9 88.2 1144.8 152 1141.1 155.5 1141.8 165.4 1154.5Z" fill="#f5c74e"/>
<path fill-rule="evenodd" d="M177.3 1159.1 180 1159.1 188.1 1154.4 201.9 1153.4 202.4 1150.1 203.6 1148.8 206.9 1147.3 208 1146.3 208.1 1145 203.6 1138.6 201.7 1133.5 202.3 1132.2 205.3 1132.2 206.9 1133.4 211.8 1139.9 213.5 1141.1 215.1 1141 216.7 1139.9 213.9 1135 208.5 1133.1 206.2 1125.2 199.6 1122.1 207.7 1114.5 213.5 1115.8 230.4 1113.2 252.9 1093.3 264.4 1077.3 265 1074.8 264.8 1068.4 264.3 1065.9 263.3 1064.6 261.2 1063.3 256.3 1061.7 243.1 1060.7 231.6 1060.7 226.7 1062.4 220.1 1067.9 217.4 1071 214.5 1082.5 206.9 1091.6 203.6 1093.5 195.4 1095.2 190.5 1098.1 178.9 1101.9 175.4 1105.4 169.1 1116.9 166.4 1120.8 157.6 1129.5 152.6 1132.8 149.3 1133.5 137.8 1133 95 1134.8 87.6 1136.2 86.4 1138.9 88.2 1144.8 152 1141.1 155.5 1141.8 165.4 1154.5Z" fill="#f5ba4a"/>
<path fill-rule="evenodd" d="M177.3 1159.1 180 1159.1 188.1 1154.4 199 1153.6 198.5 1146.3 198.8 1142.5 196.2 1137.4 191 1131 189.8 1128.4 190.5 1127.5 192.1 1126.9 206.5 1126.3 206.2 1125.2 199.6 1122.1 207.7 1114.5 213.5 1115.8 230.4 1113.2 249.5 1096.4 261.7 1079.9 263.1 1077.3 263.6 1074.8 263.2 1068.4 261.7 1065.9 259.6 1064.7 254.6 1063.5 244.8 1062.7 231.6 1062.9 226.7 1064.8 219.4 1071 218.2 1073.5 217 1081.2 215.9 1083.7 206.9 1093.4 203.6 1095.4 195.4 1097.6 190.5 1099.8 182.2 1102.1 178.9 1103.7 175.7 1107.7 168.7 1120.8 158.1 1131 154.3 1133.8 149.3 1134.9 139.5 1134.2 94.7 1136.1 87.1 1137.3 86.4 1138.9 88.2 1144.8 152 1141.1 155.5 1141.8 165.4 1154.5Z" fill="#f5ae45"/>
<path fill-rule="evenodd" d="M177.3 1159.1 180 1159.1 188.1 1154.4 192.1 1154.1 188.8 1150.5 187.1 1147.6 187.6 1145 189.9 1141.2 189.3 1138.6 183.9 1133.3 172.4 1123.3 170.7 1123.4 167.4 1125.3 157.6 1133.6 152.6 1136.2 139.5 1135.7 114.8 1137.5 107.6 1138.6 104.2 1139.9 98.7 1144.2 152 1141.1 155.5 1141.8 165.4 1154.5ZM246.2 1099.1 261.2 1078.6 262.1 1074.8 261.2 1069.2 259.6 1067.4 257.9 1066.7 249.7 1065.2 243.1 1064.8 231.6 1065.5 226.7 1067.6 221.7 1071.2 220.1 1073.8 218.2 1083.7 206.9 1095.2 203.6 1097.2 195.4 1099.8 190.5 1102.4 182.2 1104 178.9 1105.9 175.6 1111.8 174 1116.2 173.9 1119.5 175.7 1120.3 180.6 1119.2 187.2 1114.3 188.4 1119.5 189.4 1120.8 192.1 1121.7 199.8 1121.9 207.7 1114.5 213.5 1115.8 230.4 1113.2Z" fill="#f4a23f"/>
<path fill-rule="evenodd" d="M177.3 1159.1 180 1159.1 184.9 1156.3 179.4 1147.6 179.3 1146.3 180.7 1142.5 179.9 1139.9 174.3 1134.8 170.7 1132.3 169.1 1131.7 165.8 1131.8 154.3 1137.9 142.8 1138.7 135.1 1141.2 134.9 1142.1 152 1141.1 155.5 1141.8 165.4 1154.5ZM240.6 1104.2 254.6 1086.1 259.6 1078.6 260.2 1076.1 260 1073.5 259.1 1071 257.8 1069.7 254.6 1068.6 248 1067.6 238.2 1067.3 231.6 1068.4 225 1071.7 222.3 1074.8 220.4 1083.7 218.8 1086.3 213.5 1089.9 205.3 1098.1 197 1101.5 195.5 1102.9 194.2 1106.7 193.4 1114.4 193.8 1115.6 195.4 1116.9 204.7 1117.3 207.7 1114.5 213.5 1115.8 230.4 1113.2Z" fill="#f4953a"/>
<path fill-rule="evenodd" d="M167.7 1155.2 169.1 1150.7 171.6 1146.3 171.6 1143.7 170.8 1142.5 169.1 1141.5 165.8 1141.3 160.9 1142.4 157.3 1144.1 165.4 1154.5ZM203.6 1112.8 213.5 1112.4 225 1109.4 229.9 1110.7 233.2 1109.4 241.5 1100.8 254.6 1083.7 257.6 1077.3 256.8 1073.5 255.6 1072.2 253 1071.3 244.8 1070.3 238.2 1070.2 233.2 1071.2 226.7 1074.8 224.3 1077.3 222.1 1085 220.2 1087.6 213.5 1091.6 206.9 1098.7 199.9 1102.9 198.8 1104.2 198 1108 198.7 1111.5 200.3 1112.4Z" fill="#f28634"/>
<path fill-rule="evenodd" d="M210.2 1108.3 216.8 1107.6 228.3 1104.1 233.2 1103.7 236.5 1102.5 243.1 1096.1 251.3 1085.4 253.5 1079.9 253.4 1077.3 252.8 1076.1 249.7 1074.5 238.2 1073.8 234.5 1074.8 228.3 1078.4 226.7 1079.9 223.8 1086.3 221.7 1088.8 218.4 1091.2 213.5 1093.3 206.9 1100.9 203.3 1104.2 202.9 1105.4 203.6 1107.3 205.3 1108Z" fill="#f1762e"/>
<path fill-rule="evenodd" d="M211.9 1103.6 215.1 1103.6 220.1 1102.8 236.5 1097.6 239.8 1095.9 244.8 1090.9 248.1 1086.3 249.1 1082.5 248.5 1079.9 246.4 1078.3 239.8 1077.8 236.5 1078.7 229.9 1082.1 228.3 1083.7 225.7 1087.6 221.7 1091.6 220.1 1092.7 215.1 1094.3 212.4 1096.5 209.8 1101.6 210 1102.9Z" fill="#ef6a2b"/>
<path fill-rule="evenodd" d="M218.4 1098.5 226.1 1096.5 231.3 1093.9 232.3 1092.7 231.6 1091.4 228.3 1091.1 221.7 1095.2 217.2 1096.5 215.6 1097.8 216.8 1098.5ZM238.2 1088.7 241.5 1088.1 243.1 1086.5 243.7 1085 243.1 1083.1 241.5 1082.4 239.8 1082.7 235.9 1085 235.2 1086.3 235.8 1087.6Z" fill="#ec632b"/>
</g>
<path d="M77.8 1091.9 L82.9 1093.1 L87.4 1094 L92.9 1095.4 L98 1096.3 L104 1096 L110.8 1095.7 L116 1096.1 L121.3 1096.3 L123.6 1094.6 L130 1094 L135.7 1093.6 L145 1092.1 L152.7 1089.8 L153.3 1080.4 L160.2 1075.7 L170.7 1075.1 L173.1 1072.8 L185.9 1071 L191.7 1068.7 L192.9 1061.7 L196.4 1057 L206.9 1054.7 L206.4 1051.2 L202.2 1047.6 L208.1 1047.6 L217.4 1046.4 L218.6 1041.8 L225.6 1036 L225.6 1031.3 L220.9 1025.5 L226.8 1021.9 L233.7 1019 L240.7 1016.6 L245.2 1016.5 L257.8 1017 L264.7 1015 L274.4 1015 L279.3 1017.5 L284.1 1019.9 L285.1 1024.4 L289 1027.3 L293.8 1027.3 L299.7 1030.7 L308.4 1031.6 L313.3 1034.6 L316.3 1039.9 L321.1 1040.9 L326 1043.8 L323.6 1046.7 L324 1051.6 L328.9 1056.5 L330.8 1060.4 L328.9 1063.8 L325 1063.8 L322.1 1060.9 L313.3 1061.4 L310.3 1058.9 L303.6 1058.4 L297.7 1056.5 L292.9 1056 L286.1 1058.4 L283.2 1061.4 L277.3 1065.2 L269.6 1068.1 L265.7 1071.1 L266.7 1078 L262.8 1080.9 L257.7 1087.1 L249.2 1092.4 L246 1097.8 L240.6 1102 L234.2 1105.3 L228.9 1111.2 L219.3 1112.3 L213.4 1113.3 L210.7 1111.2 L206.5 1112.3 L200 1118.2 L196.7 1121.4 L197.8 1124.6 L204.3 1126.7 L205.4 1131.1 L206.5 1135.3 L211.8 1136.4 L213.9 1141.7 L218.2 1147.1 L217.1 1150.3 L212.9 1150.8 L205.4 1150.3 L197.8 1151.4 L187.1 1151.9 L183.9 1154.6 L178.6 1157.3 L173.3 1155.1 L166.8 1152.4 L163.6 1148.2 L159.4 1143.9 L157.2 1139.6 L152.1 1138.6 L143 1139.6 L135.7 1140 L125.3 1140.2 L120.7 1139.3 L110.8 1140.2 L98.5 1141.6 L89.7 1142.8 L88.8 1139.3 L90.9 1135.8 L91.2 1131.7 L93.2 1129.3 L98.5 1126.7 L110.5 1124.7 L110.8 1120 L104.4 1118.2 L104.1 1110.1 L101.4 1108.3 L94.5 1106.6 L88.5 1103 L83.3 1096.6Z" fill="none" stroke="#5d5ef2" stroke-width="1.15" stroke-linejoin="round"/>
<rect x="66.8" y="983.5" width="274.2" height="212.8" fill="none" stroke="#333" stroke-width="1.6"/>
<path d="M135.3 983.5v3.2M135.3 1196.3v-3.2M203.9 983.5v3.2M203.9 1196.3v-3.2M272.4 983.5v3.2M272.4 1196.3v-3.2M66.8 1036.7h3.2M341 1036.7h-3.2M66.8 1089.9h3.2M341 1089.9h-3.2M66.8 1143.1h3.2M341 1143.1h-3.2" stroke="#333" stroke-width="1.5" fill="none"/>
<g class="tl"><text x="61.6" y="988.3" text-anchor="end" textLength="15.5" lengthAdjust="spacingAndGlyphs">40</text><text x="61.6" y="1041.5" text-anchor="end" textLength="15.5" lengthAdjust="spacingAndGlyphs">35</text><text x="61.6" y="1094.7" text-anchor="end" textLength="15.5" lengthAdjust="spacingAndGlyphs">30</text><text x="61.6" y="1147.9" text-anchor="end" textLength="15.5" lengthAdjust="spacingAndGlyphs">25</text><text x="61.6" y="1201.1" text-anchor="end" textLength="15.5" lengthAdjust="spacingAndGlyphs">20</text><text x="66.8" y="1211.8" text-anchor="middle" textLength="15.5" lengthAdjust="spacingAndGlyphs">60</text><text x="135.3" y="1211.8" text-anchor="middle" textLength="15.5" lengthAdjust="spacingAndGlyphs">65</text><text x="203.9" y="1211.8" text-anchor="middle" textLength="15.5" lengthAdjust="spacingAndGlyphs">70</text><text x="272.4" y="1211.8" text-anchor="middle" textLength="15.5" lengthAdjust="spacingAndGlyphs">75</text><text x="341" y="1211.8" text-anchor="middle" textLength="15.5" lengthAdjust="spacingAndGlyphs">80</text></g>
<text class="ax" x="203.1" y="1231.3" text-anchor="middle" textLength="89" lengthAdjust="spacingAndGlyphs">Longitude</text>
<text class="ax" transform="translate(39.1 1089.9) rotate(-90) scale(1 1.33)" text-anchor="middle" textLength="59.5" lengthAdjust="spacingAndGlyphs">Latitude</text>
<text class="pl" x="351.1" y="1234.1">(<tspan class="pll">g</tspan>)</text>
<text class="sn" x="86.3" y="1007.5" textLength="61.7" lengthAdjust="spacingAndGlyphs">Summer</text>
<clipPath id="ch"><path d="M532.9 1088.3 L538 1089.5 L542.5 1090.4 L548 1091.8 L553 1092.7 L559 1092.4 L565.8 1092.1 L571 1092.5 L576.3 1092.7 L578.6 1091 L585 1090.4 L590.7 1090 L600 1088.5 L607.6 1086.1 L608.2 1076.7 L615.1 1072.1 L625.6 1071.5 L628 1069.2 L640.8 1067.4 L646.6 1065.1 L647.8 1058.1 L651.3 1053.4 L661.7 1051.1 L661.2 1047.6 L657.1 1044.1 L662.9 1044.1 L672.2 1042.9 L673.4 1038.3 L680.4 1032.5 L680.4 1027.8 L675.7 1022 L681.6 1018.5 L688.5 1015.6 L695.5 1013.1 L700 1013 L712.6 1013.5 L719.4 1011.5 L729.1 1011.5 L734 1014 L738.8 1016.5 L739.8 1020.9 L743.7 1023.8 L748.5 1023.8 L754.4 1027.2 L763.1 1028.1 L768 1031.1 L770.9 1036.4 L775.7 1037.4 L780.6 1040.3 L778.2 1043.2 L778.6 1048 L783.5 1052.9 L785.4 1056.8 L783.5 1060.2 L779.6 1060.2 L776.7 1057.3 L768 1057.8 L765 1055.3 L758.3 1054.8 L752.4 1052.9 L747.6 1052.4 L740.8 1054.8 L737.9 1057.8 L732 1061.6 L724.3 1064.5 L720.4 1067.5 L721.4 1074.3 L717.5 1077.2 L712.5 1083.4 L704 1088.8 L700.8 1094.2 L695.4 1098.4 L689 1101.6 L683.7 1107.5 L674.1 1108.6 L668.2 1109.6 L665.5 1107.5 L661.3 1108.6 L654.9 1114.5 L651.6 1117.7 L652.7 1120.9 L659.1 1123 L660.2 1127.3 L661.3 1131.5 L666.6 1132.6 L668.7 1137.9 L673 1143.3 L671.9 1146.5 L667.7 1147 L660.2 1146.5 L652.7 1147.6 L642 1148.1 L638.8 1150.8 L633.5 1153.4 L628.2 1151.3 L621.7 1148.6 L618.5 1144.4 L614.3 1140.1 L612.1 1135.8 L607 1134.8 L598 1135.8 L590.7 1136.2 L580.3 1136.4 L575.7 1135.5 L565.8 1136.4 L553.5 1137.8 L544.8 1139 L543.9 1135.5 L546 1132 L546.3 1127.9 L548.3 1125.6 L553.5 1123 L565.5 1121 L565.8 1116.3 L559.4 1114.5 L559.1 1106.4 L556.4 1104.6 L549.5 1102.9 L543.6 1099.4 L538.4 1093Z"/></clipPath>
<g clip-path="url(#ch)">
<path d="M532.9 1088.3 L538 1089.5 L542.5 1090.4 L548 1091.8 L553 1092.7 L559 1092.4 L565.8 1092.1 L571 1092.5 L576.3 1092.7 L578.6 1091 L585 1090.4 L590.7 1090 L600 1088.5 L607.6 1086.1 L608.2 1076.7 L615.1 1072.1 L625.6 1071.5 L628 1069.2 L640.8 1067.4 L646.6 1065.1 L647.8 1058.1 L651.3 1053.4 L661.7 1051.1 L661.2 1047.6 L657.1 1044.1 L662.9 1044.1 L672.2 1042.9 L673.4 1038.3 L680.4 1032.5 L680.4 1027.8 L675.7 1022 L681.6 1018.5 L688.5 1015.6 L695.5 1013.1 L700 1013 L712.6 1013.5 L719.4 1011.5 L729.1 1011.5 L734 1014 L738.8 1016.5 L739.8 1020.9 L743.7 1023.8 L748.5 1023.8 L754.4 1027.2 L763.1 1028.1 L768 1031.1 L770.9 1036.4 L775.7 1037.4 L780.6 1040.3 L778.2 1043.2 L778.6 1048 L783.5 1052.9 L785.4 1056.8 L783.5 1060.2 L779.6 1060.2 L776.7 1057.3 L768 1057.8 L765 1055.3 L758.3 1054.8 L752.4 1052.9 L747.6 1052.4 L740.8 1054.8 L737.9 1057.8 L732 1061.6 L724.3 1064.5 L720.4 1067.5 L721.4 1074.3 L717.5 1077.2 L712.5 1083.4 L704 1088.8 L700.8 1094.2 L695.4 1098.4 L689 1101.6 L683.7 1107.5 L674.1 1108.6 L668.2 1109.6 L665.5 1107.5 L661.3 1108.6 L654.9 1114.5 L651.6 1117.7 L652.7 1120.9 L659.1 1123 L660.2 1127.3 L661.3 1131.5 L666.6 1132.6 L668.7 1137.9 L673 1143.3 L671.9 1146.5 L667.7 1147 L660.2 1146.5 L652.7 1147.6 L642 1148.1 L638.8 1150.8 L633.5 1153.4 L628.2 1151.3 L621.7 1148.6 L618.5 1144.4 L614.3 1140.1 L612.1 1135.8 L607 1134.8 L598 1135.8 L590.7 1136.2 L580.3 1136.4 L575.7 1135.5 L565.8 1136.4 L553.5 1137.8 L544.8 1139 L543.9 1135.5 L546 1132 L546.3 1127.9 L548.3 1125.6 L553.5 1123 L565.5 1121 L565.8 1116.3 L559.4 1114.5 L559.1 1106.4 L556.4 1104.6 L549.5 1102.9 L543.6 1099.4 L538.4 1093Z" fill="#a9daf4"/>
<path fill-rule="evenodd" d="M632.2 1155.2 635 1155.2 643 1150.6 673.6 1148.4 675.4 1142.7 668.7 1131.3 663.3 1129.4 661.1 1121.5 654.5 1118.4 662.5 1110.8 668.4 1112.1 685.2 1109.5 723.3 1076 723.1 1068.6 725.5 1066.7 747.9 1054.9 764 1057.7 767.7 1060.3 775.7 1059.9 779.6 1062.7 785.1 1062.2 787.9 1056.6 781 1046.9 782.6 1038.8 772.5 1034.2 764.2 1025.8 744.5 1021.3 743.3 1019.3 734.9 1021.5 730.7 1023.9 727.4 1023.8 721.8 1020.2 716 1015.2 715.8 1009.7 695.2 1010.7 673.8 1020.3 677.9 1031.3 671.4 1036.7 670.2 1040.6 655.3 1042.3 654.9 1045.2 658.9 1049.2 649.6 1051.5 644.4 1063.3 613.9 1069.9 606.1 1075.4 605.2 1084.3 575.5 1090.1 553.2 1090.1 533.5 1085.8 530.7 1087 531.1 1090 542.1 1101.4 556.6 1107.7 557.2 1115.7 563.2 1118.2 546.4 1124 541.4 1135.2 543.3 1141 606.9 1137.3 610.4 1138 620.3 1150.7Z" fill="#94cff0"/>
<path fill-rule="evenodd" d="M632.2 1155.2 635 1155.2 643 1150.6 673.6 1148.4 675.4 1142.7 668.7 1131.3 663.3 1129.4 661.1 1121.5 654.5 1118.4 662.5 1110.8 668.4 1112.1 685.2 1109.5 723.3 1076 723.1 1068.6 725.5 1066.7 747.9 1054.9 764 1057.7 767.7 1060.3 775.7 1059.9 779.6 1062.7 785.1 1062.2 787.9 1056.6 781 1046.9 782.6 1038.8 772.5 1034.2 764.2 1025.8 754.6 1023.6 752.1 1028.2 750.4 1029.6 748.8 1029.8 742.2 1028.7 729.1 1027.9 725.8 1026.2 714.3 1017.2 713.5 1015.1 713.5 1009.8 695.2 1010.7 673.8 1020.3 677.9 1031.3 671.4 1036.7 670.2 1040.6 655.3 1042.3 654.9 1045.2 658.9 1049.2 649.6 1051.5 644.4 1063.3 613.9 1069.9 606.1 1075.4 605.2 1084.3 575.5 1090.1 553.2 1090.1 533.5 1085.8 530.7 1087 531.1 1090 542.1 1101.4 556.6 1107.7 557.2 1115.7 563.2 1118.2 546.4 1124 541.4 1135.2 543.3 1141 606.9 1137.3 610.4 1138 620.3 1150.7Z" fill="#82c0e8"/>
<path fill-rule="evenodd" d="M632.2 1155.2 635 1155.2 643 1150.6 673.6 1148.4 675.4 1142.7 668.7 1131.3 663.3 1129.4 661.1 1121.5 654.5 1118.4 662.5 1110.8 668.4 1112.1 685.2 1109.5 723.3 1076 723.1 1068.6 725.5 1066.7 747.9 1054.9 764 1057.7 767.7 1060.3 775.7 1059.9 777 1060.8 780.4 1057.2 781.6 1052.4 784.1 1051.3 781 1046.9 782.6 1038.8 772.5 1034.2 764.2 1025.8 756.3 1024 754.2 1027.9 751.7 1030.4 750.4 1032.7 735.7 1031.4 730.7 1031.6 729.1 1031.1 711.9 1017.7 711.2 1015.1 711.2 1009.9 695.2 1010.7 673.8 1020.3 677.9 1031.3 671.4 1036.7 670.2 1040.6 655.3 1042.3 654.9 1045.2 658.9 1049.2 649.6 1051.5 644.4 1063.3 613.9 1069.9 606.1 1075.4 605.2 1084.3 575.5 1090.1 553.2 1090.1 533.5 1085.8 530.7 1087 531.1 1090 542.1 1101.4 556.6 1107.7 557.2 1115.7 563.2 1118.2 546.4 1124 541.4 1135.2 543.3 1141 606.9 1137.3 610.4 1138 620.3 1150.7ZM643.4 1071.2 643.5 1069.9 644.5 1068.6 647 1067.1 646.4 1071.2 645.3 1073.5Z" fill="#6fafe0"/>
<path fill-rule="evenodd" d="M632.2 1155.2 635 1155.2 643 1150.6 673.6 1148.4 675.4 1142.7 668.7 1131.3 663.3 1129.4 661.1 1121.5 654.5 1118.4 662.5 1110.8 668.4 1112.1 685.2 1109.5 723.3 1076 723.1 1068.6 725.5 1066.7 747.9 1054.9 764 1057.7 767.7 1060.3 775.5 1059.9 777.8 1057.2 778.5 1050.8 780 1048.4 781.4 1047.5 781 1046.9 782.6 1038.8 772.5 1034.2 764.2 1025.8 757.7 1024.3 755.7 1027.9 752.9 1030.4 752.5 1031.7 753.7 1033.4 759.7 1035.5 758.7 1036.6 740.6 1034.5 735.7 1034.7 732.4 1035.5 730.7 1035.2 720.9 1027.6 709.4 1020.4 706.2 1016.4 704.3 1010.2 695.2 1010.7 673.8 1020.3 677.9 1031.3 671.4 1036.7 670.2 1040.6 655.3 1042.3 654.9 1045.2 658.9 1049.2 649.6 1051.5 644.4 1063.3 613.9 1069.9 606.1 1075.4 605.2 1084.3 575.5 1090.1 553.2 1090.1 533.5 1085.8 530.7 1087 531.1 1090 542.1 1101.4 556.6 1107.7 557.2 1115.7 563.2 1118.2 546.4 1124 541.4 1135.2 543.3 1141 606.9 1137.3 610.4 1138 620.3 1150.7ZM643.9 1080.1 640.1 1076.3 638.9 1072.5 639.1 1071.2 641 1068.6 647 1063.6 650.3 1061.4 651.9 1061.2 652.5 1062.3 652.4 1063.5 648.3 1069.9 648.6 1081.3 647 1081.9Z" fill="#5d9dd8"/>
<path fill-rule="evenodd" d="M632.2 1155.2 635 1155.2 643 1150.6 673.6 1148.4 675.4 1142.7 668.7 1131.3 663.3 1129.4 661.1 1121.5 654.5 1118.4 662.5 1110.8 668.4 1112.1 685.2 1109.5 723.3 1076 723.1 1068.6 725.5 1066.7 747.9 1054.9 764 1057.7 767.7 1060.3 773.3 1060 775.4 1057.2 774.7 1053.3 775.3 1043.2 774.5 1041.9 771.8 1041 745.5 1037.5 738.9 1037.9 734 1039.5 732.4 1039.4 725.8 1033.5 720.9 1030.1 711.4 1026.6 706.9 1024 704 1019 703.9 1015.1 702.5 1010.3 695.2 1010.7 673.8 1020.3 677.9 1031.3 671.4 1036.7 670.2 1040.6 655.3 1042.3 654.9 1045.2 658.9 1049.2 649.6 1051.5 644.4 1063.2 651.9 1057.3 653.5 1056.7 655.2 1057.9 655.5 1059.7 654.9 1062.3 649.3 1069.9 650.3 1081.4 648.6 1083.6 647 1084.4 643.7 1082.8 637 1077.5 635.8 1076.3 634.9 1073.7 635 1072.5 636.7 1069.9 644.3 1063.3 613.9 1069.9 606.1 1075.4 605.2 1084.3 575.5 1090.1 553.2 1090.1 533.5 1085.8 530.7 1087 531.1 1090 542.1 1101.4 556.6 1107.7 557.2 1115.7 563.2 1118.2 546.4 1124 541.4 1135.2 543.3 1141 606.9 1137.3 610.4 1138 620.3 1150.7ZM757 1033.1 759 1031.7 758 1030.4 757 1029.9 754.4 1030.4 753.6 1031.7Z" fill="#4e8cce"/>
<path fill-rule="evenodd" d="M632.2 1155.2 635 1155.2 643 1150.6 673.6 1148.4 675.4 1142.7 668.7 1131.3 663.3 1129.4 661.1 1121.5 654.5 1118.4 662.5 1110.8 668.4 1112.1 685.2 1109.5 723.3 1076 723.1 1068.6 725.5 1066.7 747.9 1054.9 764 1057.7 767.7 1060.3 771 1060.1 773 1057.2 772.9 1055.9 771.3 1053.3 772.3 1048.2 771.5 1044.4 768.5 1043.1 750.4 1040.5 740.6 1041.4 735.7 1043.5 734 1043.4 725.8 1035.8 717.6 1031 704.5 1027.4 698 1026.6 694.6 1025.5 699.1 1019 699 1017.7 697.9 1016.6 697.5 1015.1 697.4 1010.6 695.2 1010.7 673.8 1020.3 677.9 1031.3 671.4 1036.7 670.2 1040.6 655.3 1042.3 654.9 1045.2 658.9 1049.2 649.6 1051.5 646.2 1059.2 653.5 1053.1 655.2 1052.3 656.8 1053.4 657.6 1057.2 656.7 1061 655.2 1063.7 650.2 1069.9 651.4 1081.4 650.3 1083.4 647 1086.3 645.3 1086.3 643.7 1085.2 638.8 1080.6 632.9 1077.5 630.9 1075 630.9 1073.7 632.4 1071.2 640.4 1064.2 613.9 1069.9 606.1 1075.4 605.2 1084.3 575.5 1090.1 553.2 1090.1 533.5 1085.8 530.7 1087 531.1 1090 542.1 1101.4 556.6 1107.7 557.2 1115.7 563.2 1118.2 546.4 1124 541.4 1135.2 543.3 1141 606.9 1137.3 610.4 1138 620.3 1150.7Z" fill="#488cb8"/>
<path fill-rule="evenodd" d="M632.2 1155.2 635 1155.2 643 1150.6 673.6 1148.4 675.4 1142.7 668.7 1131.3 663.3 1129.4 661.1 1121.5 654.5 1118.4 662.5 1110.8 668.4 1112.1 685.2 1109.5 723.3 1076 723.1 1068.6 725.5 1066.7 747.9 1054.9 764 1057.7 767.7 1060.3 768.7 1060.2 770.6 1057.2 770.3 1055.9 767.9 1053.3 767.8 1052.1 769.2 1048.2 768.5 1046.2 765.2 1044.9 753.7 1043.6 738.9 1045.7 735.7 1045.7 732.4 1044 725.8 1038.2 716 1032.9 702.8 1029.5 691.3 1028 686.4 1028.3 683.1 1025.7 681.5 1025.1 679.8 1025.6 676.7 1028 677.9 1031.3 671.4 1036.7 670.2 1040.6 663.7 1041.4 658.7 1047 658.1 1048.4 658.9 1049.2 658 1049.5 659.4 1054.6 658.8 1058.4 656.2 1063.5 651.1 1069.9 651.1 1073.7 652.4 1081.4 650.8 1083.9 647 1088.1 645.3 1088.5 643.7 1087.5 637.1 1081.1 627.3 1077.5 626.8 1075 627.2 1073.7 636.4 1065 613.9 1069.9 606.1 1075.4 605.2 1084.3 575.5 1090.1 553.2 1090.1 533.5 1085.8 530.7 1087 531.1 1090 542.1 1101.4 556.6 1107.7 557.2 1115.7 563.2 1118.2 546.4 1124 541.4 1135.2 543.3 1141 606.9 1137.3 610.4 1138 620.3 1150.7ZM693 1021.6 695.6 1019 695.7 1010.6 685.3 1015.1 687.7 1020.2 688.9 1021.5 691.3 1022.4Z" fill="#46939e"/>
<path fill-rule="evenodd" d="M632.2 1155.2 635 1155.2 643 1150.6 673.6 1148.4 675.4 1142.7 668.7 1131.3 663.3 1129.4 661.1 1121.5 654.5 1118.4 662.5 1110.8 668.4 1112.1 685.2 1109.5 723.3 1076 723.1 1068.6 725.5 1066.7 747.9 1054.9 764 1057.7 766.9 1059.8 768.2 1057.2 767.8 1055.9 764.7 1053.3 764 1052.1 765.5 1049.5 765.5 1048.2 763.6 1047 760.3 1046.6 745.5 1047.6 737 1047 733.4 1045.7 725.8 1040.2 712.7 1034.2 691.3 1029.3 684.8 1031.1 683.1 1031.1 679.8 1029.3 678.2 1029.5 677.4 1029.9 677.9 1031.3 671.4 1036.7 670.2 1040.6 665.7 1041.1 660 1048.2 659.8 1049.5 661 1054.6 660.6 1057.2 656.8 1063.8 651.9 1069.9 651.9 1073.7 653.4 1081.4 648.6 1087.8 647 1089.6 645.3 1090.3 643.7 1089.5 638.6 1083.9 635.5 1081.8 632.2 1080.8 624.6 1080.1 622.5 1078.8 622.5 1076.3 623.7 1073.7 630.9 1066.2 613.9 1069.9 606.1 1075.4 605.2 1084.3 575.5 1090.1 553.2 1090.1 533.5 1085.8 530.7 1087 531.1 1090 542.1 1101.4 556.6 1107.7 557.2 1115.7 563.2 1118.2 546.4 1124 541.4 1135.2 543.3 1141 606.9 1137.3 610.4 1138 620.3 1150.7ZM691.3 1019.4 693.9 1017.7 694.2 1016.4 694.3 1011.1 686.9 1014.4 689.7 1019Z" fill="#479d84"/>
<path fill-rule="evenodd" d="M632.2 1155.2 635 1155.2 643 1150.6 673.6 1148.4 675.4 1142.7 668.7 1131.3 663.3 1129.4 661.1 1121.5 654.5 1118.4 662.5 1110.8 668.4 1112.1 685.2 1109.5 723.3 1076 723.1 1068.6 725.5 1066.7 747.9 1054.9 764 1057.7 765.3 1058.6 765.7 1057.2 765.3 1055.9 761.9 1053.3 758.7 1049.5 745.5 1049.1 735.7 1047.4 732.4 1045.9 727.4 1042.4 716 1037.5 691.3 1030.3 684.8 1032.5 675.4 1033.4 671.4 1036.7 670.2 1040.6 667.2 1041 662.1 1047 661.1 1049.5 662.3 1055.9 656.9 1064.8 652.7 1069.9 652.4 1071.2 653 1076.3 654.3 1081.4 648.6 1089.1 647 1090.8 645.3 1091.6 642.6 1090.3 637.1 1084.3 633.8 1082.7 630.6 1082.1 622.3 1082.1 619.9 1081.4 619.1 1079.9 617.7 1073.7 611.9 1071.3 606.1 1075.4 605.2 1084.3 575.5 1090.1 553.2 1090.1 533.5 1085.8 530.7 1087 531.1 1090 542.1 1101.4 556.6 1107.7 557.2 1115.7 563.2 1118.2 546.4 1124 541.4 1135.2 543.3 1141 606.9 1137.3 610.4 1138 620.3 1150.7Z" fill="#46a767"/>
<path fill-rule="evenodd" d="M632.2 1155.2 635 1155.2 643 1150.6 673.6 1148.4 675.4 1142.7 668.7 1131.3 663.3 1129.4 661.1 1121.5 654.5 1118.4 662.5 1110.8 668.4 1112.1 685.2 1109.5 723.3 1076 723.1 1068.6 725.5 1066.7 747.9 1054.9 763.1 1057.6 762.9 1055.9 755.4 1051.3 742.2 1049.6 735.7 1048 732.4 1046.7 727.4 1043.4 716 1038.9 699.5 1034.3 691.3 1031.3 684.8 1033.4 676.5 1034.6 673.3 1036 671.1 1037.9 670.2 1040.6 668.5 1040.8 663.3 1047 662.4 1049.5 663.6 1055.9 653.6 1069.9 653.2 1071.2 653.8 1076.3 655.3 1081.4 648.6 1090.2 647 1091.8 645.3 1092.4 642.3 1091.6 637.1 1086.1 633.8 1084.1 630.6 1083.6 617.9 1083.9 616.6 1082.6 615.2 1078.8 614.1 1077.9 612.5 1077.5 605.8 1077.9 605.2 1084.3 575.5 1090.1 553.2 1090.1 533.5 1085.8 530.7 1087 531.1 1090 542.1 1101.4 556.6 1107.7 557.2 1115.7 563.2 1118.2 546.4 1124 541.4 1135.2 543.3 1141 606.9 1137.3 610.4 1138 620.3 1150.7Z" fill="#48b14b"/>
<path fill-rule="evenodd" d="M632.2 1155.2 635 1155.2 643 1150.6 673.6 1148.4 675.4 1142.7 668.7 1131.3 663.3 1129.4 661.1 1121.5 654.5 1118.4 662.5 1110.8 668.4 1112.1 685.2 1109.5 723.3 1076 723.1 1068.6 725.5 1066.7 747.9 1054.9 760.8 1057.2 760.4 1055.9 753.7 1052.2 740.6 1050 734.6 1048.2 725.8 1043.7 691.3 1032.3 686.4 1033.9 678.2 1035 674.9 1036.1 672.2 1038.1 664.6 1047 663.6 1049.5 664.8 1055.9 655.3 1068.6 654 1071.2 654.6 1076.3 656.3 1080.1 656.2 1081.4 648.6 1091.2 646.3 1092.8 643.7 1093 640.5 1091.6 635.5 1086.5 632.2 1085.2 615.8 1086.2 614.1 1085.2 612 1080.1 609.2 1079.4 605.7 1079.7 605.2 1084.3 575.5 1090.1 553.2 1090.1 533.5 1085.8 530.7 1087 531.1 1090 542.1 1101.4 556.6 1107.7 557.2 1115.7 563.2 1118.2 546.4 1124 541.4 1135.2 543.3 1141 606.9 1137.3 610.4 1138 620.3 1150.7Z" fill="#6abb4e"/>
<path fill-rule="evenodd" d="M632.2 1155.2 635 1155.2 643 1150.6 673.6 1148.4 675.4 1142.7 668.7 1131.3 663.3 1129.4 661.1 1121.5 654.5 1118.4 662.5 1110.8 668.4 1112.1 685.2 1109.5 723.3 1076 723.1 1068.6 725.5 1066.7 747.9 1054.9 758.2 1056.7 758 1055.9 756.4 1054.6 752.1 1052.7 740.6 1050.6 734 1048.6 725.8 1044.6 691.3 1033.2 686.4 1034.6 678.2 1035.7 675.2 1036.8 672.2 1039.3 665.8 1047 664.8 1049.5 666 1054.6 665.5 1057.2 661.8 1060.7 654.7 1071.2 655.2 1075.4 657.3 1080.1 657.1 1081.4 649.1 1091.6 647 1093.2 645.3 1093.7 641.1 1092.8 638.9 1091.6 635.5 1088.1 632.2 1086.6 624 1087 612.5 1088.4 610.9 1086.5 609.7 1082.6 607.6 1081.3 605.5 1081.4 605.2 1084.3 575.5 1090.1 553.2 1090.1 547.5 1088.9 544.5 1089 540.2 1087.8 532 1087.7 532 1086.4 530.7 1087 531.1 1090 542.1 1101.4 556.6 1107.7 557.2 1115.7 563.2 1118.2 546.4 1124 541.4 1135.2 543.3 1141 606.9 1137.3 610.4 1138 620.3 1150.7Z" fill="#8dc652"/>
<path fill-rule="evenodd" d="M632.2 1155.2 635 1155.2 643 1150.6 673.6 1148.4 675.4 1142.7 668.7 1131.3 663.3 1129.4 661.1 1121.5 654.5 1118.4 662.5 1110.8 668.4 1112.1 685.2 1109.5 723.3 1076 723.1 1068.6 725.5 1066.7 747.9 1054.9 755.7 1056.3 755.6 1055.9 751.3 1053.3 740.6 1051.2 734 1049.2 727.4 1046 701.2 1037.6 693 1034.4 691.3 1034.2 679.8 1036 676.9 1036.8 674.7 1038.1 666.3 1048.2 666 1049.5 667 1053.3 666.7 1057.2 661.8 1061.8 655.5 1071.2 655.9 1075 658.3 1080.1 658.1 1081.4 649.8 1091.6 647 1093.8 643.7 1094 639.1 1092.8 634.4 1089 632.2 1088.1 624 1088.6 615.8 1090.6 614.1 1091.8 610.9 1097.1 609.2 1098.3 608.5 1090.3 607.6 1086.5 606.1 1083.9 605.3 1083.7 605.2 1084.3 575.5 1090.1 554.6 1090.1 550.1 1090.9 544 1092.8 540.9 1095.4 539.9 1099.1 542.1 1101.4 556.6 1107.7 557.2 1115.7 563.2 1118.2 546.4 1124 541.4 1135.2 543.3 1141 606.9 1137.3 610.4 1138 620.3 1150.7Z" fill="#b2d156"/>
<path fill-rule="evenodd" d="M632.2 1155.2 635 1155.2 643 1150.6 673.6 1148.4 675.4 1142.7 668.7 1131.3 663.3 1129.4 661.1 1121.5 654.5 1118.4 662.5 1110.8 668.4 1112.1 685.2 1109.5 723.3 1076 723.1 1068.6 725.5 1066.7 747.9 1054.9 753.1 1055.8 751.6 1054.6 748.5 1053.3 740.6 1051.8 734 1049.8 727.4 1046.9 706.4 1040.6 693 1035.2 679.8 1036.6 676 1038.1 667.5 1048.2 667.3 1049.5 668.2 1053.3 667.8 1057.2 667.2 1058.4 663.4 1061 661.8 1062.8 656.3 1071.2 656.8 1075.4 659.4 1080.1 659 1081.4 650.6 1091.6 647.5 1094.1 645.3 1094.7 637.1 1092.8 633.8 1090.2 632.2 1089.6 624 1090.3 619.7 1091.6 617.4 1093.4 614.8 1096.7 607.9 1114.5 605.9 1116.2 602.6 1115.5 600.2 1113.2 600.6 1110.7 604.2 1105.6 605.3 1103 605.5 1091.6 604.3 1087.1 602.6 1085.9 594.3 1086.4 575.5 1090.1 567.4 1090.1 553.4 1092.4 551.8 1092.8 548.4 1095.7 543.5 1098.2 541.4 1100.6 542.1 1101.4 556.6 1107.7 557.2 1115.7 563.2 1118.2 546.4 1124 541.4 1135.2 543.3 1141 606.9 1137.3 610.4 1138 620.3 1150.7Z" fill="#d2db58"/>
<path fill-rule="evenodd" d="M632.2 1155.2 635 1155.2 643 1150.6 673.6 1148.4 675.4 1142.7 668.7 1131.3 663.3 1129.4 661.1 1121.5 654.5 1118.4 662.5 1110.8 668.4 1112.1 685.2 1109.5 723.3 1076 723.1 1068.6 725.5 1066.7 747.9 1054.9 750 1055.3 745.7 1053.3 738.9 1052 725.8 1047.3 706.1 1041.7 693 1036.1 679.8 1037.3 677.5 1038.1 676 1039.3 668.8 1048.2 669.3 1053.3 668.5 1058.4 663.1 1062.3 658.4 1068.6 657.1 1071.2 657.5 1075 660.4 1080.1 660 1081.4 651.3 1091.6 648.4 1094.1 645.3 1095.3 637.1 1093.6 632.2 1091.1 627.3 1091.4 622.8 1092.8 616 1100.5 610.8 1114.5 609.2 1117.3 607.8 1118.3 604.3 1118.2 599.8 1117 597.7 1115.5 596.7 1113.2 597.4 1110.7 601.7 1105.6 602.7 1103 602.4 1091.6 601.3 1089 599.4 1088.2 587.9 1089.1 559.9 1093.2 557.1 1094.1 556 1095.4 556 1096.7 557.5 1100.5 557.1 1101.7 555 1101.6 551.7 1100.2 550.1 1100.2 544.4 1102.4 556.6 1107.7 557.2 1115.7 563.2 1118.2 546.4 1124 541.4 1135.2 543.3 1141 606.9 1137.3 610.4 1138 620.3 1150.7Z" fill="#f2e45a"/>
<path fill-rule="evenodd" d="M632.2 1155.2 635 1155.2 643 1150.6 673.6 1148.4 675.4 1142.7 668.7 1131.3 663.3 1129.4 661.1 1121.5 654.5 1118.4 662.5 1110.8 668.4 1112.1 685.2 1109.5 723.3 1076 723.1 1068.6 725.5 1066.7 747.4 1055.2 745.5 1054.2 737.3 1052.1 725.8 1048.2 704.5 1042.3 693 1037 689.7 1036.9 679.8 1038.1 676.5 1040.2 670.1 1048.2 670.3 1053.3 669.7 1058.4 668.8 1059.7 663.4 1062.9 658.3 1069.9 657.8 1071.2 658 1073.7 659.1 1076.3 661.1 1078.8 661.4 1080.1 660.9 1081.4 652.1 1091.6 648.6 1094.5 645.3 1095.8 636.4 1094.1 630.6 1092.4 627.3 1093 624.8 1094.1 618.1 1101.7 613.9 1113.2 610.9 1119.1 609.2 1120.6 607.6 1120.7 597.7 1118.7 595.2 1117 594.2 1113.2 594.3 1110.7 599.2 1105.6 600.1 1103 599.5 1092.8 597.7 1090.7 594.4 1090.5 584.6 1091.4 564.9 1094.4 562.7 1095.4 562.2 1096.7 564.4 1100.5 565.1 1103 564.8 1105.6 563.2 1109.8 561.6 1111.9 559.9 1111.6 556.8 1109.4 557.2 1115.7 563.2 1118.2 546.4 1124 541.4 1135.2 543.3 1141 606.9 1137.3 610.4 1138 620.3 1150.7ZM551.7 1105.6 551.6 1105.6 551.8 1105.6Z" fill="#f5cd51"/>
<path fill-rule="evenodd" d="M632.2 1155.2 635 1155.2 643 1150.6 673.6 1148.4 675.4 1142.7 668.7 1131.3 663.3 1129.4 661.1 1121.5 654.5 1118.4 662.5 1110.8 668.4 1112.1 685.2 1109.5 723.3 1076 723.1 1068.6 725.5 1066.7 745.8 1055.9 744 1054.6 727.4 1049.6 703.5 1043.2 693 1038 686.4 1038 679.8 1039.1 676.5 1041.8 671.5 1048.2 671 1057.2 670.3 1059.7 663.4 1063.9 659 1069.9 658.6 1071.2 658.8 1073.7 662.2 1078.8 662.4 1080.1 661.8 1081.4 652.9 1091.6 647 1096 645.3 1096.3 630.6 1093.9 627.3 1094.8 624 1097 619.4 1103 617.4 1111 612.9 1119.6 612.8 1122.1 614.1 1124.9 612.5 1124.8 605.9 1122.5 591.1 1119.7 589.9 1118.3 591.5 1114.5 591.5 1110.7 592 1109.4 595.7 1106.8 597.5 1104.3 596.8 1095.4 596.1 1093.7 594.5 1092.8 592.8 1092.7 576.4 1094.3 570.6 1095.4 568.6 1096.7 569.2 1101.7 568.6 1106.8 567.6 1110.7 564.4 1115.8 563.2 1116.7 560.3 1117 563.2 1118.2 546.4 1124 541.4 1135.2 543.3 1141 606.9 1137.3 610.4 1138 620.3 1150.7ZM557.7 1115.8 557.2 1115.4 558.3 1116.2Z" fill="#f5b447"/>
<path fill-rule="evenodd" d="M632.2 1155.2 635 1155.2 643 1150.6 673.6 1148.4 675.4 1142.7 668.7 1131.3 663.3 1129.4 661.1 1121.5 654.5 1118.4 662.5 1110.8 668.4 1112.1 685.2 1109.5 723.3 1076 723.1 1068.6 725.5 1066.7 743.5 1057.3 743.3 1055.9 741.2 1054.6 733 1052.1 717.6 1047.6 702.8 1044.1 691.3 1038.7 684.8 1039.1 679.8 1040.4 677.8 1041.9 672.9 1048.2 671.5 1059.7 670.3 1061 663.5 1064.8 659.8 1069.9 659.4 1071.2 659.7 1073.7 663.2 1078.8 663.3 1080.1 656.1 1089 652.3 1092.8 647 1096.5 645.3 1096.8 640.4 1095.6 632.2 1095 625.6 1097.7 621.8 1101.7 620.6 1104.3 619.2 1111.9 614.9 1119.6 614.6 1120.9 617.7 1124.7 618.1 1126 617.4 1127.4 614.1 1128.6 605.9 1124.7 599.4 1123.4 587.7 1122.1 582.8 1120.9 582 1119.6 587.3 1113.2 589.5 1108.2 594.2 1105.6 595.2 1103 593.7 1096.7 592.8 1095.4 589.5 1095.1 582.9 1095.6 576.2 1096.7 574.3 1097.9 572.1 1110.7 567.1 1118.3 565.6 1119.6 563.2 1120.4 559.9 1120.8 557.3 1120.2 546.4 1124 541.4 1135.2 543.3 1141 606.9 1137.3 610.4 1138 620.3 1150.7Z" fill="#f49c3d"/>
<path fill-rule="evenodd" d="M632.2 1155.2 635 1155.2 643 1150.6 673.6 1148.4 675.4 1142.7 668.7 1131.3 663.3 1129.4 661.1 1121.5 654.5 1118.4 662.5 1110.8 668.4 1112.1 685.2 1109.5 723.3 1076 723.1 1068.6 725.5 1066.7 740.5 1058.8 741.1 1057.2 740.8 1055.9 734 1053.1 716 1048.1 701.2 1044.6 691.3 1039.7 686.4 1039.8 681.5 1041.1 678.2 1043 674.2 1048.2 673 1058.4 671.9 1061 665 1064.5 660.6 1069.9 660.1 1071.2 660.6 1073.7 664.3 1078.8 664.3 1080.1 657.1 1089 653.1 1092.8 647 1097 645.3 1097.3 638.8 1095.8 632.2 1096 626.4 1099.2 623.5 1101.7 622.1 1104.3 620.7 1112.5 616.7 1119.6 616.5 1120.9 619.4 1124.7 619.8 1126 619.2 1128.5 617.4 1129.9 615.8 1130.7 612.5 1130.6 605.9 1127.1 599.4 1125.7 568.2 1123.2 558.3 1124.3 554.6 1123.4 551.9 1122.1 546.4 1124 541.4 1135.2 543.3 1141 606.9 1137.3 610.4 1138 620.3 1150.7ZM584.6 1107.2 590 1105.6 592.2 1104.3 592.6 1103 591.1 1099.3 589.5 1097.6 584.1 1097.9 581.9 1099.2 583.5 1106.8Z" fill="#f17e31"/>
<path fill-rule="evenodd" d="M632.2 1155.2 635 1155.2 643 1150.6 673.6 1148.4 675.4 1142.7 668.7 1131.3 663.3 1129.4 661.1 1121.5 654.5 1118.4 662.5 1110.8 668.4 1112.1 685.2 1109.5 723.3 1076 723.1 1068.6 725.5 1066.7 737.4 1060.5 738.6 1057.2 738.2 1055.9 734 1054 716 1049 701.2 1045.8 691.3 1040.8 686.4 1040.8 681.5 1042.3 678.2 1044.5 675.5 1048.2 673.3 1061 671.7 1062.3 665 1065.5 661.3 1069.9 661 1072.5 665 1078.3 665.2 1080.1 658 1089 653.9 1092.8 647 1097.6 645.3 1097.8 638.8 1096.3 633.8 1096.5 630.6 1097.9 624.1 1103 623.1 1105.6 621.9 1113.2 618.5 1119.6 618.3 1120.9 620.9 1124.7 621.4 1127.2 620.7 1129.8 619.1 1131.5 617.4 1132.4 612.5 1132.5 602.6 1128.4 584.6 1126.9 566.5 1126.5 561.6 1127.2 556.7 1127.2 550.4 1126 547 1123.8 546.4 1124 541.4 1135.2 543.3 1141 606.9 1137.3 610.4 1138 620.3 1150.7Z" fill="#ee672b"/>
<path fill-rule="evenodd" d="M632.2 1155.2 635 1155.2 643 1150.6 673.6 1148.4 675.4 1142.7 668.7 1131.3 663.3 1129.4 661.1 1121.5 654.5 1118.4 662.5 1110.8 668.4 1112.1 685.2 1109.5 703.9 1093 707.6 1089 723.3 1076 723.1 1068.6 725.5 1066.7 734.2 1062.1 736.1 1057.2 735.6 1055.9 732.8 1054.6 714.3 1049.4 701.2 1046.9 691.3 1042 686.4 1041.9 682.5 1043.2 679.8 1044.5 676.7 1048.2 675.9 1050.8 674.6 1061 673.3 1062.4 665 1066.4 662.1 1069.9 661.9 1072.5 665.8 1077.5 666.4 1078.8 666.2 1080.1 658.5 1089.4 654.8 1092.8 647 1098.1 645.3 1098.3 638.8 1096.8 633.8 1097.3 630.6 1099.1 625.6 1103 624.3 1105.6 622.8 1114.5 620.1 1120.9 622.2 1124.7 623.1 1129.8 619.8 1133.6 617.4 1134.2 612.5 1133.8 602.6 1130.7 599.4 1130.3 584.6 1129.7 559.9 1129.7 546.8 1128.5 543.8 1129.8 541.4 1135.2 543.3 1141 606.9 1137.3 610.4 1138 620.3 1150.7Z" fill="#e8582a"/>
<path fill-rule="evenodd" d="M560.2 1140 559.6 1137.4 561.6 1136.5 566.5 1136.6 571.4 1138.1 579.7 1138.1 582.8 1138.7 606.9 1137.3 610.4 1138 620.3 1150.7 632.1 1155.2 635 1155.2 643 1150.6 673.6 1148.4 675.4 1142.7 668.7 1131.3 663.3 1129.4 661.1 1121.5 654.5 1118.4 662.5 1110.8 668.4 1112.1 685.2 1109.5 698.9 1097.4 700.2 1094.1 702.6 1091.6 723.2 1075.1 723.1 1068.6 725.5 1066.7 731.1 1063.8 733.5 1057.2 732.5 1055.9 730.7 1055.2 716 1050.8 699.5 1047.6 689.7 1042.7 686.4 1042.9 681.5 1044.9 678.8 1047 677.4 1049.5 676 1059.7 675 1062.3 666.7 1066.3 665 1067.4 662.9 1069.9 662.8 1072.5 667.4 1078.8 666.3 1081.4 658.6 1090.3 654 1094.1 647 1098.6 645.3 1098.8 638.8 1097.4 634.7 1097.9 630.6 1100.1 626 1104.3 625.1 1106.8 624 1114.8 621.9 1120.9 625.2 1128.5 625.3 1129.8 621.3 1134.9 617.4 1135.5 599.4 1132.5 548.4 1131.5 543 1131.7 541.4 1135.2 543.3 1141Z" fill="#e4462a"/>
<path fill-rule="evenodd" d="M557 1140 555.9 1137.4 556.6 1134.9 542.2 1133.5 541.4 1135.2 543.3 1141ZM632.2 1155.2 635 1155.2 643 1150.6 673.6 1148.4 675.4 1142.7 668.7 1131.3 663.3 1129.4 661.1 1121.5 654.5 1118.4 662.5 1110.8 668.4 1112.1 685.2 1109.5 694.6 1101.3 694.9 1097.9 697.7 1094.1 723.2 1073.6 723.1 1068.6 727.9 1065.5 730.5 1059.7 730.8 1057.2 728.8 1055.9 714.3 1051.3 699.5 1048.8 689.7 1043.8 686.4 1044 683.1 1045.3 680.4 1047 678.6 1049.5 676.4 1062.3 674.9 1063.6 666.7 1067.2 663.8 1069.9 663.4 1071.2 663.8 1072.5 668 1077.5 668.5 1078.8 667.2 1081.4 659.6 1090.3 656.7 1092.8 647 1099.2 645.3 1099.4 638.8 1098.1 635.5 1098.6 632.2 1100 627.2 1104.3 626.1 1106.8 625.2 1114.5 623.6 1120.9 625.6 1125.4 627.7 1128.5 627.6 1129.8 622.4 1136.1 619.1 1136.7 601 1134.5 571.4 1134.4 569.4 1134.9 571.4 1136.3 581.3 1136.2 586.2 1138.2 606.9 1137.3 610.4 1138 613.8 1141.2 613.8 1142.4 620.3 1150.7Z" fill="#de352a"/>
<path fill-rule="evenodd" d="M632.2 1155.2 635 1155.2 643 1150.6 673.6 1148.4 675.4 1142.7 668.7 1131.3 663.3 1129.4 661.1 1121.5 654.5 1118.4 662.5 1110.8 668.4 1112.1 685.2 1109.5 690.2 1105.1 690.5 1100.5 692.8 1096.7 718.2 1076.3 722.2 1072.5 723.1 1070.9 723.1 1068.6 724.7 1067.4 728.3 1059.7 728.4 1058.4 727.6 1057.2 712.8 1052.1 697.9 1050 689.7 1045 686.4 1045.1 680.9 1048.2 679.3 1052.1 677.6 1062.3 676.5 1063.6 668.3 1067.4 664.8 1069.9 664.4 1071.2 664.9 1072.5 669.1 1077.5 669.5 1078.8 668.1 1081.4 660.1 1090.8 657.8 1092.8 647 1099.7 645.3 1099.9 640.4 1098.9 635.5 1099.4 631.2 1101.7 627.6 1105.6 625.3 1120.9 626.5 1123.4 629.9 1127.2 630.3 1128.5 629 1131 624.7 1136.1 623.1 1137.4 620.7 1137.9 601 1136.5 598.4 1137.4 598.7 1137.8 610.9 1137.5 615.1 1141.2 615.2 1142.5 614.5 1143.2 620.3 1150.7Z" fill="#d62528"/>
<path fill-rule="evenodd" d="M632.2 1155.2 635 1155.2 643 1150.6 673.6 1148.4 675.4 1142.7 668.7 1131.3 663.3 1129.4 661.1 1121.5 654.5 1118.4 662.5 1110.8 668.4 1112.1 685.2 1109.5 685.8 1108.9 686.3 1101.7 687.8 1099.2 719 1073.7 725.5 1061 725.6 1058.4 722.5 1056.6 712.7 1053.5 696.2 1051.6 693.2 1048.2 689.7 1046.2 686.4 1046.3 682.9 1048.2 681.5 1050.3 680.4 1053.3 678.1 1063.5 668.3 1068.3 666 1069.9 665.6 1071.2 666.1 1072.5 670.2 1077.5 670.5 1078.8 669 1081.4 660.6 1091.6 647 1100.3 640.4 1099.7 635.5 1100.3 632.2 1102 628.8 1105.6 627.8 1109.4 626.9 1120.9 632.2 1126.6 632.8 1128.5 630.1 1132.3 624 1138.9 622.3 1139.3 615.5 1138.7 615.4 1140 616.7 1141.2 616.9 1142.5 615.2 1144.1 620.3 1150.7Z" fill="#ca1e26"/>
<path fill-rule="evenodd" d="M632.2 1155.2 635 1155.2 643 1150.6 673.6 1148.4 675.4 1142.7 668.7 1131.3 663.3 1129.4 661.1 1121.5 654.5 1118.4 662.5 1110.8 668.4 1112.1 681.5 1110.1 682.1 1104.3 683.7 1100.5 713 1077.5 716.8 1073.7 722.8 1062.3 723.2 1059.7 722.4 1058.4 717.6 1056.4 711 1054.9 694.6 1053.4 693.1 1052.1 692.1 1049.5 691 1048.2 688 1047.2 686.4 1047.6 684.4 1049.5 683.9 1052.1 681.5 1055.1 679.4 1063.5 678.1 1064.8 667.5 1069.9 666.9 1071.2 667.4 1072.5 671.3 1077.5 671.5 1078.8 660.9 1092.8 647 1100.9 637.1 1100.9 633.8 1102 631.1 1104.3 629.2 1108.1 628.1 1119.6 628.9 1121.1 633.4 1124.7 635.4 1127.2 634.3 1129.8 626 1140 625.6 1143.1 622.9 1148.9 622.5 1151.5Z" fill="#bc1b24"/>
<path fill-rule="evenodd" d="M632.2 1155.2 635 1155.2 643 1150.6 673.6 1148.4 675.4 1142.7 668.7 1131.3 663.3 1129.4 661.1 1121.5 654.5 1118.4 662.5 1110.8 668.4 1112.1 677.3 1110.7 680.1 1101.7 682.1 1099.2 701.2 1085.4 713.7 1075 720.1 1063.5 720.6 1061 720.1 1059.7 717.6 1058.3 706.1 1055.9 694.6 1055.7 689.7 1054.6 684.8 1055.9 682.9 1057.2 680.7 1063.5 679.8 1064.8 671.4 1068.6 669.3 1069.9 668.4 1071.2 668.8 1072.5 672.4 1077.5 672.5 1078.8 665 1089.1 663.7 1091.6 663.4 1094.1 656.8 1096.3 647 1101.5 637.1 1101.9 633.9 1103 632.5 1104.3 630.6 1108.1 629.2 1118.3 630.6 1120.7 636.3 1124.7 637.6 1126 637.9 1127.2 636.5 1129.8 628 1140 627.3 1143 624.6 1148.9 623.9 1152.1ZM689.7 1052.1 689.7 1050.3 688 1049.2 687.7 1049.5 688 1051.3Z" fill="#af1a21"/>
<path fill-rule="evenodd" d="M632.2 1155.2 635 1155.2 643 1150.6 673.6 1148.4 675.4 1142.7 673.3 1139.1 672.5 1138.7 672 1136.9 668.7 1131.3 663.3 1129.4 661.1 1121.5 654.5 1118.4 662.5 1110.8 668.4 1112.1 674.1 1111.2 677.5 1101.7 679.2 1099.2 686.4 1093.5 701.2 1083.9 710.5 1076.3 717.3 1064.8 717.7 1062.3 716.7 1061 709.4 1058.7 704.5 1058 684.8 1059.5 683.1 1060.8 681.3 1064.8 679.7 1066.1 671.6 1069.7 670.2 1071.2 670.4 1072.5 673.6 1077.5 673.6 1078.8 666.3 1090.3 666.3 1092.8 668.9 1096.7 666.7 1097.6 656.8 1098.1 653.5 1099.1 647 1102.2 637.1 1103 633.8 1104.8 631.9 1109.4 630.6 1118.3 632.2 1120.3 639.2 1124.7 640.3 1126 640.3 1127.2 629 1141.2 625.6 1149.1 624.9 1152.5Z" fill="#a2191f"/>
<path fill-rule="evenodd" d="M632.2 1155.2 635 1155.2 643 1150.6 650.6 1150 650.8 1146.3 651.9 1144.5 653.5 1143.5 663.4 1143.1 665 1142.7 666.4 1141.2 666.8 1138.7 666.5 1130.5 663.3 1129.4 661.1 1121.5 654.5 1118.4 662.5 1110.8 668.4 1112.1 670.5 1111.8 671.7 1105.6 671.5 1103 670.5 1101.7 663.4 1100.9 653.5 1101 647 1103.1 639 1104.3 636.5 1105.6 635.5 1106.8 632.4 1115.8 632.5 1118.3 642.1 1124.6 643 1126 642.8 1127.2 641 1129.8 630.6 1141.8 627.2 1148.9 626.2 1153ZM677.3 1096.7 689.7 1088.7 699.5 1083.1 707 1077.5 709.4 1074.7 714.3 1066.3 714.7 1064.8 714 1063.5 711 1062.4 706.1 1061.8 686.4 1062.6 684.8 1063.1 681.5 1066.4 673.3 1070.4 672.4 1071.2 672.4 1072.5 674.5 1076.3 674.9 1078.8 670 1087.6 668.7 1091.6 670 1093.6 673.3 1095.9 674.9 1096.8Z" fill="#941a1e"/>
<path d="M715 995 L721.5 1013.7 L733.2 1026.8 L733.2 1034.1 L747.8 1048.7 L762.3 1048.7 L775.4 1038.5 L800 1030 L800 995Z" fill="#fff"/>
</g>
<path d="M532.9 1088.3 L538 1089.5 L542.5 1090.4 L548 1091.8 L553 1092.7 L559 1092.4 L565.8 1092.1 L571 1092.5 L576.3 1092.7 L578.6 1091 L585 1090.4 L590.7 1090 L600 1088.5 L607.6 1086.1 L608.2 1076.7 L615.1 1072.1 L625.6 1071.5 L628 1069.2 L640.8 1067.4 L646.6 1065.1 L647.8 1058.1 L651.3 1053.4 L661.7 1051.1 L661.2 1047.6 L657.1 1044.1 L662.9 1044.1 L672.2 1042.9 L673.4 1038.3 L680.4 1032.5 L680.4 1027.8 L675.7 1022 L681.6 1018.5 L688.5 1015.6 L695.5 1013.1 L700 1013 L712.6 1013.5 L719.4 1011.5 L729.1 1011.5 L734 1014 L738.8 1016.5 L739.8 1020.9 L743.7 1023.8 L748.5 1023.8 L754.4 1027.2 L763.1 1028.1 L768 1031.1 L770.9 1036.4 L775.7 1037.4 L780.6 1040.3 L778.2 1043.2 L778.6 1048 L783.5 1052.9 L785.4 1056.8 L783.5 1060.2 L779.6 1060.2 L776.7 1057.3 L768 1057.8 L765 1055.3 L758.3 1054.8 L752.4 1052.9 L747.6 1052.4 L740.8 1054.8 L737.9 1057.8 L732 1061.6 L724.3 1064.5 L720.4 1067.5 L721.4 1074.3 L717.5 1077.2 L712.5 1083.4 L704 1088.8 L700.8 1094.2 L695.4 1098.4 L689 1101.6 L683.7 1107.5 L674.1 1108.6 L668.2 1109.6 L665.5 1107.5 L661.3 1108.6 L654.9 1114.5 L651.6 1117.7 L652.7 1120.9 L659.1 1123 L660.2 1127.3 L661.3 1131.5 L666.6 1132.6 L668.7 1137.9 L673 1143.3 L671.9 1146.5 L667.7 1147 L660.2 1146.5 L652.7 1147.6 L642 1148.1 L638.8 1150.8 L633.5 1153.4 L628.2 1151.3 L621.7 1148.6 L618.5 1144.4 L614.3 1140.1 L612.1 1135.8 L607 1134.8 L598 1135.8 L590.7 1136.2 L580.3 1136.4 L575.7 1135.5 L565.8 1136.4 L553.5 1137.8 L544.8 1139 L543.9 1135.5 L546 1132 L546.3 1127.9 L548.3 1125.6 L553.5 1123 L565.5 1121 L565.8 1116.3 L559.4 1114.5 L559.1 1106.4 L556.4 1104.6 L549.5 1102.9 L543.6 1099.4 L538.4 1093Z" fill="none" stroke="#5d5ef2" stroke-width="1.15" stroke-linejoin="round"/>
<rect x="521.9" y="980.1" width="273.7" height="212.3" fill="none" stroke="#333" stroke-width="1.6"/>
<path d="M590.3 980.1v3.2M590.3 1192.4v-3.2M658.8 980.1v3.2M658.8 1192.4v-3.2M727.2 980.1v3.2M727.2 1192.4v-3.2M521.9 1033.2h3.2M795.6 1033.2h-3.2M521.9 1086.2h3.2M795.6 1086.2h-3.2M521.9 1139.3h3.2M795.6 1139.3h-3.2" stroke="#333" stroke-width="1.5" fill="none"/>
<g class="tl"><text x="516.7" y="984.9" text-anchor="end" textLength="15.5" lengthAdjust="spacingAndGlyphs">40</text><text x="516.7" y="1038" text-anchor="end" textLength="15.5" lengthAdjust="spacingAndGlyphs">35</text><text x="516.7" y="1091" text-anchor="end" textLength="15.5" lengthAdjust="spacingAndGlyphs">30</text><text x="516.7" y="1144.1" text-anchor="end" textLength="15.5" lengthAdjust="spacingAndGlyphs">25</text><text x="516.7" y="1197.2" text-anchor="end" textLength="15.5" lengthAdjust="spacingAndGlyphs">20</text><text x="521.9" y="1207.9" text-anchor="middle" textLength="15.5" lengthAdjust="spacingAndGlyphs">60</text><text x="590.3" y="1207.9" text-anchor="middle" textLength="15.5" lengthAdjust="spacingAndGlyphs">65</text><text x="658.8" y="1207.9" text-anchor="middle" textLength="15.5" lengthAdjust="spacingAndGlyphs">70</text><text x="727.2" y="1207.9" text-anchor="middle" textLength="15.5" lengthAdjust="spacingAndGlyphs">75</text><text x="795.6" y="1207.9" text-anchor="middle" textLength="15.5" lengthAdjust="spacingAndGlyphs">80</text></g>
<text class="ax" x="658.2" y="1227.4" text-anchor="middle" textLength="89" lengthAdjust="spacingAndGlyphs">Longitude</text>
<text class="ax" transform="translate(494.2 1086.2) rotate(-90) scale(1 1.33)" text-anchor="middle" textLength="59.5" lengthAdjust="spacingAndGlyphs">Latitude</text>
<text class="pl" x="811.3" y="1230.6">(<tspan class="pll">h</tspan>)</text>
<text class="sn" x="542.8" y="1001.3" textLength="61.8" lengthAdjust="spacingAndGlyphs">Summer</text>
<clipPath id="ci"><path d="M77.8 1408.2 L82.9 1409.4 L87.4 1410.3 L92.9 1411.7 L98 1412.6 L104 1412.3 L110.8 1412 L116 1412.4 L121.3 1412.6 L123.6 1410.9 L130 1410.3 L135.7 1409.9 L145 1408.4 L152.7 1406 L153.3 1396.6 L160.2 1392 L170.7 1391.4 L173.1 1389.1 L185.9 1387.3 L191.7 1385 L192.9 1378 L196.4 1373.3 L206.9 1371 L206.4 1367.5 L202.2 1364 L208.1 1364 L217.4 1362.8 L218.6 1358.2 L225.6 1352.4 L225.6 1347.7 L220.9 1341.9 L226.8 1338.4 L233.7 1335.5 L240.7 1333 L245.2 1332.9 L257.8 1333.4 L264.7 1331.4 L274.4 1331.4 L279.3 1333.9 L284.1 1336.4 L285.1 1340.8 L289 1343.7 L293.8 1343.7 L299.7 1347.1 L308.4 1348 L313.3 1351 L316.3 1356.3 L321.1 1357.3 L326 1360.2 L323.6 1363.1 L324 1367.9 L328.9 1372.8 L330.8 1376.7 L328.9 1380.1 L325 1380.1 L322.1 1377.2 L313.3 1377.7 L310.3 1375.2 L303.6 1374.7 L297.7 1372.8 L292.9 1372.3 L286.1 1374.7 L283.2 1377.7 L277.3 1381.5 L269.6 1384.4 L265.7 1387.4 L266.7 1394.2 L262.8 1397.1 L257.7 1403.3 L249.2 1408.7 L246 1414.1 L240.6 1418.3 L234.2 1421.5 L228.9 1427.4 L219.3 1428.5 L213.4 1429.5 L210.7 1427.4 L206.5 1428.5 L200 1434.4 L196.7 1437.6 L197.8 1440.8 L204.3 1442.9 L205.4 1447.2 L206.5 1451.4 L211.8 1452.5 L213.9 1457.8 L218.2 1463.2 L217.1 1466.4 L212.9 1466.9 L205.4 1466.4 L197.8 1467.5 L187.1 1468 L183.9 1470.7 L178.6 1473.3 L173.3 1471.2 L166.8 1468.5 L163.6 1464.3 L159.4 1460 L157.2 1455.7 L152.1 1454.7 L143 1455.7 L135.7 1456.1 L125.3 1456.3 L120.7 1455.4 L110.8 1456.3 L98.5 1457.7 L89.7 1458.9 L88.8 1455.4 L90.9 1451.9 L91.2 1447.8 L93.2 1445.5 L98.5 1442.9 L110.5 1440.9 L110.8 1436.2 L104.4 1434.4 L104.1 1426.3 L101.4 1424.5 L94.5 1422.8 L88.5 1419.3 L83.3 1412.9Z"/></clipPath>
<g clip-path="url(#ci)">
<path d="M77.8 1408.2 L82.9 1409.4 L87.4 1410.3 L92.9 1411.7 L98 1412.6 L104 1412.3 L110.8 1412 L116 1412.4 L121.3 1412.6 L123.6 1410.9 L130 1410.3 L135.7 1409.9 L145 1408.4 L152.7 1406 L153.3 1396.6 L160.2 1392 L170.7 1391.4 L173.1 1389.1 L185.9 1387.3 L191.7 1385 L192.9 1378 L196.4 1373.3 L206.9 1371 L206.4 1367.5 L202.2 1364 L208.1 1364 L217.4 1362.8 L218.6 1358.2 L225.6 1352.4 L225.6 1347.7 L220.9 1341.9 L226.8 1338.4 L233.7 1335.5 L240.7 1333 L245.2 1332.9 L257.8 1333.4 L264.7 1331.4 L274.4 1331.4 L279.3 1333.9 L284.1 1336.4 L285.1 1340.8 L289 1343.7 L293.8 1343.7 L299.7 1347.1 L308.4 1348 L313.3 1351 L316.3 1356.3 L321.1 1357.3 L326 1360.2 L323.6 1363.1 L324 1367.9 L328.9 1372.8 L330.8 1376.7 L328.9 1380.1 L325 1380.1 L322.1 1377.2 L313.3 1377.7 L310.3 1375.2 L303.6 1374.7 L297.7 1372.8 L292.9 1372.3 L286.1 1374.7 L283.2 1377.7 L277.3 1381.5 L269.6 1384.4 L265.7 1387.4 L266.7 1394.2 L262.8 1397.1 L257.7 1403.3 L249.2 1408.7 L246 1414.1 L240.6 1418.3 L234.2 1421.5 L228.9 1427.4 L219.3 1428.5 L213.4 1429.5 L210.7 1427.4 L206.5 1428.5 L200 1434.4 L196.7 1437.6 L197.8 1440.8 L204.3 1442.9 L205.4 1447.2 L206.5 1451.4 L211.8 1452.5 L213.9 1457.8 L218.2 1463.2 L217.1 1466.4 L212.9 1466.9 L205.4 1466.4 L197.8 1467.5 L187.1 1468 L183.9 1470.7 L178.6 1473.3 L173.3 1471.2 L166.8 1468.5 L163.6 1464.3 L159.4 1460 L157.2 1455.7 L152.1 1454.7 L143 1455.7 L135.7 1456.1 L125.3 1456.3 L120.7 1455.4 L110.8 1456.3 L98.5 1457.7 L89.7 1458.9 L88.8 1455.4 L90.9 1451.9 L91.2 1447.8 L93.2 1445.5 L98.5 1442.9 L110.5 1440.9 L110.8 1436.2 L104.4 1434.4 L104.1 1426.3 L101.4 1424.5 L94.5 1422.8 L88.5 1419.3 L83.3 1412.9Z" fill="#cae7f8"/>
<path fill-rule="evenodd" d="M177.3 1475.1 180.1 1475.1 188.1 1470.5 218.7 1468.3 220.6 1462.6 213.9 1451.2 208.5 1449.3 206.2 1441.4 199.6 1438.3 207.7 1430.7 213.5 1432 230.4 1429.4 268.5 1395.9 268.3 1388.5 270.8 1386.6 293.2 1374.8 309.4 1377.6 310.3 1378.3 313 1375.8 315.2 1373.2 315.9 1370.7 313.9 1368.5 308.5 1365.6 305.5 1361.8 303.9 1358 303.7 1354.1 304 1351.7 305.3 1350.3 305.6 1348.3 306.8 1347.8 304 1345.2 302.3 1345.2 303.5 1344.3 289.8 1341.2 285.6 1334.4 274.8 1329 240.4 1330.6 219 1340.2 223.1 1351.2 216.6 1356.6 215.4 1360.5 200.5 1362.2 200 1365.1 204.1 1369.1 194.8 1371.4 189.5 1383.2 159 1389.8 151.2 1395.3 150.3 1404.2 120.5 1410 98.1 1410 78.4 1405.7 75.6 1406.9 76 1409.9 87.1 1421.3 101.6 1427.6 102.2 1435.6 108.2 1438.1 91.4 1443.9 86.4 1455.1 88.2 1460.9 152 1457.2 155.5 1457.9 165.4 1470.6Z" fill="#c1e4f6"/>
<path fill-rule="evenodd" d="M177.3 1475.1 180.1 1475.1 188.1 1470.5 218.7 1468.3 220.6 1462.6 213.9 1451.2 208.5 1449.3 206.2 1441.4 199.6 1438.3 207.7 1430.7 213.5 1432 230.4 1429.4 268.5 1395.9 268.3 1388.5 270.8 1386.6 293.2 1374.8 308.8 1377.5 311.6 1374.5 312.8 1372 312.2 1370.7 302.3 1367.2 299.3 1365.6 282.1 1351.6 281.4 1350.3 281.7 1349 284.2 1346.1 288.4 1338.9 285.6 1334.4 274.8 1329 240.4 1330.6 219 1340.2 223.1 1351.2 216.6 1356.6 215.4 1360.5 200.5 1362.2 200 1365.1 204.1 1369.1 194.8 1371.4 189.5 1383.2 159 1389.8 151.2 1395.3 150.3 1404.2 120.5 1410 98.1 1410 78.4 1405.7 75.6 1406.9 76 1409.9 87.1 1421.3 101.6 1427.6 102.2 1435.6 108.2 1438.1 91.4 1443.9 86.4 1455.1 88.2 1460.9 152 1457.2 155.5 1457.9 165.4 1470.6Z" fill="#b8e0f6"/>
<path fill-rule="evenodd" d="M177.3 1475.1 180.1 1475.1 188.1 1470.5 218.7 1468.3 220.6 1462.6 213.9 1451.2 208.5 1449.3 206.2 1441.4 199.6 1438.3 207.7 1430.7 213.5 1432 230.4 1429.4 268.5 1395.9 268.3 1388.5 270.8 1386.6 293.2 1374.8 307.3 1377.3 309.6 1374.5 310.2 1373.2 310 1372 307.6 1370.7 299 1369 293.2 1366.9 278.8 1358 266.1 1349.2 253.6 1343.9 249 1340.1 246.4 1332.5 244.8 1332.5 244.8 1330.4 240.4 1330.6 219 1340.2 223.1 1351.2 216.6 1356.6 215.4 1360.5 200.5 1362.2 200 1365.1 204.1 1369.1 194.8 1371.4 189.5 1383.2 159 1389.8 151.2 1395.3 150.3 1404.2 120.5 1410 98.1 1410 78.4 1405.7 75.6 1406.9 76 1409.9 87.1 1421.3 101.6 1427.6 102.2 1435.6 108.2 1438.1 91.4 1443.9 86.4 1455.1 88.2 1460.9 152 1457.2 155.5 1457.9 165.4 1470.6Z" fill="#aedcf4"/>
<path fill-rule="evenodd" d="M177.3 1475.1 180.1 1475.1 188.1 1470.5 218.7 1468.3 220.6 1462.6 213.9 1451.2 208.5 1449.3 206.2 1441.4 199.6 1438.3 207.7 1430.7 213.5 1432 230.4 1429.4 268.5 1395.9 268.3 1388.5 270.8 1386.6 293.2 1374.8 305.9 1377 307.7 1374.5 307.8 1373.2 305.6 1371.7 291.8 1369.4 287.9 1368.1 276 1361.2 259.6 1352.8 241.5 1345 236.5 1343.4 233.9 1341.4 231.6 1334.5 219 1340.2 223.1 1351.2 216.6 1356.6 215.4 1360.5 200.5 1362.2 200 1365.1 204.1 1369.1 194.8 1371.4 189.5 1383.2 159 1389.8 151.2 1395.3 150.3 1404.2 120.5 1410 98.1 1410 78.4 1405.7 75.6 1406.9 76 1409.9 87.1 1421.3 101.6 1427.6 102.2 1435.6 108.2 1438.1 91.4 1443.9 86.4 1455.1 88.2 1460.9 152 1457.2 155.5 1457.9 165.4 1470.6Z" fill="#a3d8f3"/>
<path fill-rule="evenodd" d="M177.3 1475.1 180.1 1475.1 188.1 1470.5 218.7 1468.3 220.6 1462.6 213.9 1451.2 208.5 1449.3 206.2 1441.4 199.6 1438.3 207.7 1430.7 213.5 1432 230.4 1429.4 268.5 1395.9 268.3 1388.5 270.8 1386.6 293.2 1374.8 304.4 1376.8 305.5 1374.5 304.9 1373.2 300.7 1372 289.3 1370.7 283.1 1369.4 280.2 1368.1 273.1 1363.1 268.1 1360.5 238.2 1347.6 228.3 1344.8 225 1345.6 221.8 1347.8 223.1 1351.2 216.6 1356.6 215.4 1360.5 200.5 1362.2 200 1365.1 204.1 1369.1 194.8 1371.4 189.5 1383.2 159 1389.8 151.2 1395.3 150.3 1404.2 120.5 1410 98.1 1410 78.4 1405.7 75.6 1406.9 76 1409.9 87.1 1421.3 101.6 1427.6 102.2 1435.6 108.2 1438.1 91.4 1443.9 86.4 1455.1 88.2 1460.9 152 1457.2 155.5 1457.9 165.4 1470.6Z" fill="#99d3f2"/>
<path fill-rule="evenodd" d="M177.3 1475.1 180.1 1475.1 188.1 1470.5 218.7 1468.3 220.6 1462.6 213.9 1451.2 208.5 1449.3 206.2 1441.4 199.6 1438.3 207.7 1430.7 213.5 1432 230.4 1429.4 268.5 1395.9 268.3 1388.5 270.8 1386.6 293.2 1374.8 302.6 1376.5 303 1374.5 301 1373.2 299 1372.8 279.3 1370.6 276.6 1369.4 267.3 1363.1 253 1355.8 231.6 1348.1 228.3 1347.3 225 1348.4 222.7 1350.1 223.1 1351.2 216.6 1356.6 215.4 1360.5 210.2 1361.1 202.6 1367.6 204.1 1369.1 199.5 1370.2 192.8 1375.8 189.5 1383.2 182.2 1384.8 172.6 1393.6 171.7 1394.9 170.8 1398.7 163.7 1402.5 157.6 1407.9 156.2 1402.5 156.5 1401.3 169.2 1387.6 159 1389.8 151.2 1395.3 150.3 1404.2 120.5 1410 98.1 1410 78.4 1405.7 75.6 1406.9 76 1409.9 87.1 1421.3 101.6 1427.6 102.2 1435.6 108.2 1438.1 91.4 1443.9 86.4 1455.1 88.2 1460.9 152 1457.2 155.5 1457.9 165.4 1470.6Z" fill="#90cbee"/>
<path fill-rule="evenodd" d="M177.3 1475.1 180.1 1475.1 188.1 1470.5 218.7 1468.3 220.6 1462.6 213.9 1451.2 208.5 1449.3 206.2 1441.4 199.6 1438.3 207.7 1430.7 213.5 1432 230.4 1429.4 268.5 1395.9 268.3 1388.5 270.8 1386.6 293.2 1374.8 300.6 1376.1 299.9 1374.5 294.6 1373.2 277.7 1371.7 275.2 1370.7 251.3 1356.7 228.3 1349.2 226.7 1349.5 223.2 1351.6 216.2 1357.9 215.4 1360.5 213.2 1360.8 191 1379.9 189.5 1383.2 186.5 1383.9 182.8 1387.3 179.6 1391.1 179.6 1392.4 185.5 1392.7 186.8 1393.6 178.9 1399.4 169.1 1403 165.7 1405.1 162.6 1408.9 155.9 1419.5 152.6 1422.6 149.3 1423.3 147.7 1422.7 146 1420.6 146 1419.1 148.6 1412.7 148.8 1410.2 147.7 1408.3 144 1405.4 120.5 1410 98.1 1410 78.4 1405.7 75.6 1406.9 76 1409.9 87.1 1421.3 101.6 1427.6 102.2 1435.6 108.2 1438.1 91.4 1443.9 86.4 1455.1 88.2 1460.9 152 1457.2 155.5 1457.9 165.4 1470.6Z" fill="#86c4ea"/>
<path fill-rule="evenodd" d="M177.3 1475.1 180.1 1475.1 188.1 1470.5 218.7 1468.3 220.6 1462.6 213.9 1451.2 208.5 1449.3 206.2 1441.4 199.6 1438.3 207.7 1430.7 213.5 1432 230.4 1429.4 268.5 1395.9 268.3 1388.5 270.8 1386.6 293.2 1374.8 297.9 1375.7 294.1 1374.2 276 1372.4 249.7 1357.4 229.9 1351.2 226.7 1351.1 221.7 1354.3 187 1386 186 1388.5 190.5 1389.3 192.1 1390.9 192.2 1393.6 191.2 1394.9 179.8 1401.3 172.4 1404 168.4 1406.4 164.1 1411.2 157 1422.9 154.3 1425.3 151 1427 147.7 1427.7 146 1427.2 143.8 1425.5 141.1 1421.6 141.6 1416.6 141.1 1414.5 137.8 1411.4 131.7 1407.8 120.5 1410 98.1 1410 78.4 1405.7 75.6 1406.9 76 1409.9 87.1 1421.3 101.6 1427.6 102.2 1435.6 108.2 1438.1 91.4 1443.9 86.4 1455.1 88.2 1460.9 152 1457.2 155.5 1457.9 165.4 1470.6Z" fill="#7dbce6"/>
<path fill-rule="evenodd" d="M177.3 1475.1 180.1 1475.1 188.1 1470.5 218.7 1468.3 220.6 1462.6 213.9 1451.2 208.5 1449.3 206.2 1441.4 199.6 1438.3 207.7 1430.7 213.5 1432 230.4 1429.4 268.5 1395.9 268.3 1388.5 270.8 1386.6 292.8 1375.1 275.5 1373.2 248 1358.1 229.9 1352.8 226.7 1352.7 221.7 1355.7 192.4 1383.4 191.8 1384.7 192.1 1385.7 193.8 1386.8 194.6 1388.5 195.3 1394.9 194.6 1396.2 174 1405.7 171 1407.6 165.8 1413.3 158.7 1425.5 155.6 1428 147.7 1431.9 144.5 1431.8 142.8 1430.8 137.4 1425.5 132.9 1418.8 125.1 1412.7 119.1 1410 98.1 1410 78.4 1405.7 75.6 1406.9 76 1409.9 87.1 1421.3 101.6 1427.6 102.2 1435.6 108.2 1438.1 91.4 1443.9 86.4 1455.1 88.2 1460.9 152 1457.2 155.5 1457.9 165.4 1470.6Z" fill="#74b3e2"/>
<path fill-rule="evenodd" d="M177.3 1475.1 180.1 1475.1 188.1 1470.5 218.7 1468.3 220.6 1462.6 213.9 1451.2 208.5 1449.3 206.2 1441.4 199.6 1438.3 207.7 1430.7 213.5 1432 230.4 1429.4 268.5 1395.9 268.3 1388.5 270.8 1386.6 291.3 1375.9 274.4 1373.8 246.4 1358.8 229.9 1354.4 226.7 1354.3 225 1354.9 220.1 1358.5 197.6 1380.9 196.9 1382.2 197.5 1386 196.9 1391.1 198.4 1396.2 197.8 1397.4 195.8 1398.7 187.2 1401.9 175.4 1407.6 170.7 1411.6 167.5 1415.3 161.1 1426.7 159.2 1429 151 1434 146 1435.9 141.1 1435.9 136.3 1434.4 132.9 1431.1 130.8 1425.5 128.3 1422.9 120.4 1419.1 114.2 1415.3 104.7 1411.5 102.9 1410 98.1 1410 78.4 1405.7 75.6 1406.9 76 1409.9 87.1 1421.3 101.6 1427.6 102.2 1435.6 108.2 1438.1 91.4 1443.9 86.4 1455.1 88.2 1460.9 152 1457.2 155.5 1457.9 165.4 1470.6Z" fill="#6baade"/>
<path fill-rule="evenodd" d="M177.3 1475.1 180.1 1475.1 188.1 1470.5 218.7 1468.3 220.6 1462.6 213.9 1451.2 208.5 1449.3 206.2 1441.4 199.6 1438.3 207.7 1430.7 213.5 1432 230.4 1429.4 268.5 1395.9 268.3 1388.5 270.8 1386.6 289.5 1376.8 285.9 1375.9 276 1375.1 272.7 1374.2 259.6 1366.8 243.1 1358.9 229.9 1356 225 1356.5 221.7 1358.5 218.4 1361.5 203.3 1377.1 201.4 1379.6 199 1389.8 199.3 1392.4 201.2 1396.2 201.3 1397.4 200.8 1398.7 198.7 1400.1 185.5 1405 177.3 1409.4 169.1 1416.7 162.5 1428.7 160.9 1430.9 152.6 1436.6 147.7 1438.1 137.8 1438.7 131.2 1438 127.9 1437.1 126.8 1435.7 126.9 1426.7 126.2 1425.5 124.5 1424.2 111.5 1419.8 100 1417.5 85.2 1412.1 78.6 1411.5 78 1411.9 87.1 1421.3 101.6 1427.6 102.2 1435.6 108.2 1438.1 91.4 1443.9 86.4 1455.1 88.2 1460.9 152 1457.2 155.5 1457.9 165.4 1470.6Z" fill="#62a2da"/>
<path fill-rule="evenodd" d="M177.3 1475.1 180.1 1475.1 188.1 1470.5 218.7 1468.3 220.6 1462.6 213.9 1451.2 208.5 1449.3 206.2 1441.4 199.6 1438.3 207.7 1430.7 213.5 1432 230.4 1429.4 268.5 1395.9 268.3 1388.5 270.8 1386.6 287.6 1377.8 285.9 1377 272.7 1375.1 259.6 1367.8 243.1 1360.1 231.6 1357.9 225 1358.3 221.7 1359.9 218.4 1362.9 204.8 1378.3 200.9 1389.8 201.4 1392.4 203.9 1397.4 203.8 1398.7 203 1400 200.3 1401.6 182.2 1408.8 172.4 1415.8 169.5 1419.1 162.5 1431.8 155.9 1437.7 152.5 1439.5 141.1 1441 123 1440.3 114.5 1438.2 108.2 1434.9 101.8 1429.8 102.2 1435.6 108.2 1438.1 91.4 1443.9 86.4 1455.1 88.2 1460.9 152 1457.2 155.5 1457.9 165.4 1470.6ZM96.8 1425.5 93.4 1422.9 91.8 1422.5 91 1423ZM118.1 1435 121.4 1433.2 122.3 1431.8 123.1 1429.3 122.7 1426.7 121.4 1425.5 118.1 1424.2 113.1 1423.6 111.5 1424.2 110.9 1426.7 112.1 1434.4 113.1 1435.6 114.8 1435.8Z" fill="#5a99d6"/>
<path fill-rule="evenodd" d="M177.3 1475.1 180.1 1475.1 188.1 1470.5 218.7 1468.3 220.6 1462.6 213.9 1451.2 208.5 1449.3 206.2 1441.4 199.6 1438.3 207.7 1430.7 213.5 1432 230.4 1429.4 268.5 1395.9 268.3 1388.5 270.8 1386.6 285.6 1378.9 285.3 1378.3 282.6 1377.4 274.4 1376.5 271.1 1375.5 259.6 1368.9 241.5 1361 231.6 1359.9 223.4 1360.7 220.1 1362.8 216.8 1366.2 208.7 1375.8 206.4 1379.6 202.9 1389.8 203.4 1392.4 205.9 1397.4 206.1 1398.7 205.3 1400.6 202 1402.7 183.9 1410.1 173.9 1416.6 170.4 1420.4 164.1 1432.1 155.9 1440.2 152.6 1441.6 141.1 1443.1 124.7 1443.3 111.5 1441.4 108.2 1440.1 106.3 1438.7 91.4 1443.9 86.4 1455.1 88.2 1460.9 152 1457.2 155.5 1457.9 165.4 1470.6ZM103.3 1436 102.9 1435.7 102.2 1435 102.2 1435.6Z" fill="#5290d0"/>
<path fill-rule="evenodd" d="M177.3 1475.1 180.1 1475.1 188.1 1470.5 218.7 1468.3 220.6 1462.6 213.9 1451.2 208.5 1449.3 206.2 1441.4 199.6 1438.3 207.7 1430.7 213.5 1432 230.4 1429.4 268.5 1395.9 268.3 1388.5 270.8 1386.6 283.4 1380 283.3 1379.6 281.5 1378.3 272.7 1377 269.4 1376 258 1369.4 241.5 1362.7 234.9 1362 223.4 1362.6 220.1 1364.5 215.5 1369.4 210.7 1375.8 208 1380.9 204.9 1389.8 205.4 1392.4 208.2 1398.7 207.5 1401.3 202 1404.5 183.9 1412 174 1418.2 171.2 1421.6 164.2 1434.4 155.9 1442.2 152.6 1443.6 139.5 1445.3 121.4 1445.8 108.2 1443.4 105.4 1442 102.8 1439.9 91.4 1443.9 86.4 1455.1 88.2 1460.9 152 1457.2 155.5 1457.9 165.4 1470.6Z" fill="#4b88cc"/>
<path fill-rule="evenodd" d="M177.3 1475.1 180.1 1475.1 188.1 1470.5 218.7 1468.3 220.6 1462.6 213.9 1451.2 208.5 1449.3 206.2 1441.4 199.6 1438.3 207.7 1430.7 213.5 1432 230.4 1429.4 268.5 1395.9 268.3 1388.5 270.8 1386.6 280.9 1381.3 280.4 1379.6 269.3 1377.1 257.9 1370.8 241.5 1364.7 236.5 1364.1 228.3 1364.2 225 1364.3 221.7 1365.2 218.4 1367.9 213.5 1374.5 207.5 1387.3 207 1391.1 210.3 1400 210.1 1401.3 209 1402.5 198.7 1407.9 183.9 1413.8 175.7 1418.6 172.4 1422.2 165.8 1434.4 155.9 1444.2 152.6 1445.5 137.8 1447.7 121.4 1448.5 106.4 1445.9 103.3 1444.4 99.4 1441.1 91.4 1443.9 86.4 1455.1 88.2 1460.9 152 1457.2 155.5 1457.9 165.4 1470.6Z" fill="#498abf"/>
<path fill-rule="evenodd" d="M177.3 1475.1 180.1 1475.1 188.1 1470.5 218.7 1468.3 220.6 1462.6 213.9 1451.2 208.5 1449.3 206.2 1441.4 199.6 1438.3 207.7 1430.7 213.5 1432 230.4 1429.4 268.5 1395.9 268.3 1388.5 270.8 1386.6 278.2 1382.7 278.4 1380.9 276.7 1379.6 266.2 1377.1 257.9 1372.4 239.8 1366.9 226.7 1366.3 221.7 1367.3 219.1 1369.4 216.3 1373.2 211.9 1381.7 209.1 1388.5 209 1391.1 212.3 1400 211.8 1402.5 198.7 1410.7 183.9 1415.6 175.7 1420.3 173.4 1422.9 166.5 1435.7 155.9 1446.4 152.6 1447.8 137.8 1450.4 119.7 1451 103.3 1447.8 100 1445.9 96.7 1442 91.4 1443.9 86.4 1455.1 88.2 1460.9 152 1457.2 155.5 1457.9 165.4 1470.6Z" fill="#478db2"/>
<path fill-rule="evenodd" d="M107.9 1459.8 106.9 1457.3 108.2 1455.8 126.3 1458.5 152 1457.2 155.5 1457.9 165.4 1470.6 177.2 1475.1 180.1 1475.1 188.1 1470.5 206.9 1469.1 204 1465 203.9 1463.7 205.3 1461.6 214.8 1452.8 213.9 1451.2 208.5 1449.3 206.2 1441.4 199.6 1438.3 207.7 1430.7 213.5 1432 230.4 1429.4 265.5 1398.5 268.5 1395 268.3 1388.5 275.4 1384.2 276 1382 275.5 1380.9 274.4 1380.4 266.1 1378.2 256.3 1373.5 246.4 1371.5 238.2 1369.2 226.7 1368.5 221.7 1369.5 218.4 1373.2 211.1 1388.5 211 1391.1 214.2 1400 214.3 1402.5 213.3 1403.8 206.8 1407.6 203.8 1410.2 200.3 1418.2 198.7 1420.4 197 1420.4 193.8 1417.4 190.5 1416.3 183.9 1417.7 177.3 1420.9 174 1424.7 168.3 1435.7 157.6 1449.2 154.3 1451.3 147.7 1453.1 141.1 1454.1 132.9 1454.2 118.1 1453.5 109.8 1452.5 100 1449.7 97.2 1447.1 94.5 1442.8 91.4 1443.9 86.4 1455.1 88.2 1460.9Z" fill="#4690a5"/>
<path fill-rule="evenodd" d="M102.9 1459.9 100.2 1454.8 94.9 1450.9 91.3 1444 86.4 1455.1 88.2 1460.9ZM177.3 1475.1 180.1 1475.1 188.1 1470.5 203.7 1469.4 199.8 1463.7 200.2 1461.1 203.6 1455.8 211.2 1450.2 208.5 1449.3 206.2 1441.4 199.6 1438.3 207.7 1430.7 213.5 1432 230.4 1429.4 257.4 1405.7 260.3 1402.5 268.4 1392.4 268.3 1388.5 272.4 1385.8 273.5 1383.4 273.5 1382.2 272 1380.9 264.5 1378.8 254.6 1374.8 234.9 1371.2 225 1370.9 221.7 1372.2 220.1 1374.3 217.3 1379.6 213.6 1387.3 212.9 1389.8 213.3 1392.4 216.1 1400 216.5 1402.5 215.1 1404.7 210.5 1407.6 207.7 1410.2 202 1427.7 200.3 1431.8 198.7 1434 197 1433.9 191.2 1425.5 186.7 1421.6 183.9 1420.9 178.9 1422.1 175.7 1425.2 170.2 1435.7 165 1443.3 164.2 1445.9 164.1 1451.4 163.3 1453.5 159.2 1456 152.9 1457.4 155.5 1457.9 165.4 1470.6Z" fill="#469698"/>
<path fill-rule="evenodd" d="M177.3 1475.1 180.1 1475.1 188.1 1470.5 191.1 1470.3 191.5 1466.2 192.6 1462.4 198.1 1452.2 199 1449.7 195.4 1445.6 188.2 1433.1 182.2 1428.1 180.6 1427.1 178.9 1427.1 177.3 1428.3 175.7 1430.8 170.7 1440.8 170.8 1456 170.1 1457.3 165.9 1461.1 164.1 1466.1 162.9 1467.4 165.4 1470.6ZM202 1449 207.6 1446.3 206.2 1441.4 202.6 1439.7 200.3 1448.4ZM249.2 1412.7 259.8 1401.3 264.8 1394.9 270.8 1384.7 271.2 1383.4 270.7 1382.2 256.3 1376.8 253 1376.1 234.9 1373.4 226.7 1373.1 223.4 1374 221.7 1375.6 220.1 1378.4 216.3 1386 215.1 1389.8 215.4 1392.4 218.4 1401.3 218.5 1403.8 217.7 1405.1 212.7 1408.9 211 1411.5 204.3 1433.9 207.7 1430.7 213.5 1432 230.4 1429.4Z" fill="#479a8a"/>
<path fill-rule="evenodd" d="M183.9 1452.3 187.4 1449.7 188.3 1447.1 187.5 1444.6 185.5 1441.5 183.9 1440.2 182.2 1439.7 180.6 1440.5 179.2 1443.3 179 1449.7 180.6 1453.1ZM237.6 1422.9 254.7 1405.1 261.1 1397.4 268.1 1386 268.7 1383.4 267.5 1382.2 254.6 1378 238.2 1375.6 226.7 1375.4 225 1375.9 223.4 1377.1 219.2 1384.7 217.6 1389.8 218 1393.6 220.8 1403.8 220.1 1405.5 216.5 1408.9 215 1411.5 209.4 1431.1 213.5 1432 230.4 1429.4Z" fill="#47a07d"/>
<path fill-rule="evenodd" d="M216.8 1425.8 223.4 1424.6 229.9 1425 231.6 1424.6 234.9 1422.7 239.8 1418.5 251.3 1406.9 257.4 1400 265.3 1387.3 266.3 1384.7 266 1383.4 264.2 1382.2 257.9 1380.3 239.8 1377.5 228.3 1377.5 225 1378.8 222 1383.4 220.4 1388.5 220.8 1393.6 222.8 1402.5 222.9 1405.1 219 1411.5 216.2 1422.9Z" fill="#46a46e"/>
<path fill-rule="evenodd" d="M234.9 1417.3 238.2 1416.4 241.5 1414.2 253.5 1402.5 257.3 1397.4 262.6 1388.5 263.9 1384.7 263.1 1383.4 257.9 1381.8 238.2 1379.1 228.3 1379.8 226.7 1380.6 225.1 1382.2 223.5 1386 223.3 1388.5 225.5 1405.1 223.4 1411.5 223.4 1414.1 225 1415.8Z" fill="#46aa5f"/>
<path fill-rule="evenodd" d="M239.8 1409.5 243.1 1409 244.8 1408.1 249.7 1404.3 253 1400.8 260.3 1389.8 261.3 1387.3 261 1384.7 257.9 1383.5 239.8 1380.9 229.9 1381.8 227.3 1383.4 226.6 1384.7 226.3 1387.3 227.9 1401.3 228.8 1405.1 229.9 1407.2 231.6 1408.1Z" fill="#45ae50"/>
<path fill-rule="evenodd" d="M234.9 1403.1 244.8 1403.4 248 1402.5 249.7 1401.4 253 1398.2 258 1391.1 259.1 1388.5 259.2 1387.3 258.5 1386 256.3 1385.1 249.7 1383.8 239.8 1382.6 233.2 1383.4 230.5 1384.7 229.8 1386 229.7 1388.5 231.2 1400 233.1 1402.5Z" fill="#51b44c"/>
<path fill-rule="evenodd" d="M239.8 1398.8 248 1398.3 251.3 1396.9 254.6 1393.7 256.4 1391.1 257 1388.5 256.3 1387.3 251.6 1386 241.5 1384.5 237.8 1384.7 234.7 1386 233.6 1388.5 234.5 1396.2 235.1 1397.4 236.5 1398.5Z" fill="#62b84e"/>
<path fill-rule="evenodd" d="M250 1393.6 253 1392.5 254 1391.1 254.4 1389.8 253 1388.5 243.1 1386.7 239.8 1387.1 238.5 1388.5 238.6 1391.1 239.8 1392.6Z" fill="#73be4f"/>
</g>
<path d="M77.8 1408.2 L82.9 1409.4 L87.4 1410.3 L92.9 1411.7 L98 1412.6 L104 1412.3 L110.8 1412 L116 1412.4 L121.3 1412.6 L123.6 1410.9 L130 1410.3 L135.7 1409.9 L145 1408.4 L152.7 1406 L153.3 1396.6 L160.2 1392 L170.7 1391.4 L173.1 1389.1 L185.9 1387.3 L191.7 1385 L192.9 1378 L196.4 1373.3 L206.9 1371 L206.4 1367.5 L202.2 1364 L208.1 1364 L217.4 1362.8 L218.6 1358.2 L225.6 1352.4 L225.6 1347.7 L220.9 1341.9 L226.8 1338.4 L233.7 1335.5 L240.7 1333 L245.2 1332.9 L257.8 1333.4 L264.7 1331.4 L274.4 1331.4 L279.3 1333.9 L284.1 1336.4 L285.1 1340.8 L289 1343.7 L293.8 1343.7 L299.7 1347.1 L308.4 1348 L313.3 1351 L316.3 1356.3 L321.1 1357.3 L326 1360.2 L323.6 1363.1 L324 1367.9 L328.9 1372.8 L330.8 1376.7 L328.9 1380.1 L325 1380.1 L322.1 1377.2 L313.3 1377.7 L310.3 1375.2 L303.6 1374.7 L297.7 1372.8 L292.9 1372.3 L286.1 1374.7 L283.2 1377.7 L277.3 1381.5 L269.6 1384.4 L265.7 1387.4 L266.7 1394.2 L262.8 1397.1 L257.7 1403.3 L249.2 1408.7 L246 1414.1 L240.6 1418.3 L234.2 1421.5 L228.9 1427.4 L219.3 1428.5 L213.4 1429.5 L210.7 1427.4 L206.5 1428.5 L200 1434.4 L196.7 1437.6 L197.8 1440.8 L204.3 1442.9 L205.4 1447.2 L206.5 1451.4 L211.8 1452.5 L213.9 1457.8 L218.2 1463.2 L217.1 1466.4 L212.9 1466.9 L205.4 1466.4 L197.8 1467.5 L187.1 1468 L183.9 1470.7 L178.6 1473.3 L173.3 1471.2 L166.8 1468.5 L163.6 1464.3 L159.4 1460 L157.2 1455.7 L152.1 1454.7 L143 1455.7 L135.7 1456.1 L125.3 1456.3 L120.7 1455.4 L110.8 1456.3 L98.5 1457.7 L89.7 1458.9 L88.8 1455.4 L90.9 1451.9 L91.2 1447.8 L93.2 1445.5 L98.5 1442.9 L110.5 1440.9 L110.8 1436.2 L104.4 1434.4 L104.1 1426.3 L101.4 1424.5 L94.5 1422.8 L88.5 1419.3 L83.3 1412.9Z" fill="none" stroke="#5d5ef2" stroke-width="1.15" stroke-linejoin="round"/>
<rect x="66.8" y="1300" width="274.2" height="212.3" fill="none" stroke="#333" stroke-width="1.6"/>
<path d="M135.3 1300v3.2M135.3 1512.3v-3.2M203.9 1300v3.2M203.9 1512.3v-3.2M272.4 1300v3.2M272.4 1512.3v-3.2M66.8 1353.1h3.2M341 1353.1h-3.2M66.8 1406.2h3.2M341 1406.2h-3.2M66.8 1459.2h3.2M341 1459.2h-3.2" stroke="#333" stroke-width="1.5" fill="none"/>
<g class="tl"><text x="61.6" y="1304.8" text-anchor="end" textLength="15.5" lengthAdjust="spacingAndGlyphs">40</text><text x="61.6" y="1357.9" text-anchor="end" textLength="15.5" lengthAdjust="spacingAndGlyphs">35</text><text x="61.6" y="1411" text-anchor="end" textLength="15.5" lengthAdjust="spacingAndGlyphs">30</text><text x="61.6" y="1464" text-anchor="end" textLength="15.5" lengthAdjust="spacingAndGlyphs">25</text><text x="61.6" y="1517.1" text-anchor="end" textLength="15.5" lengthAdjust="spacingAndGlyphs">20</text><text x="66.8" y="1527.8" text-anchor="middle" textLength="15.5" lengthAdjust="spacingAndGlyphs">60</text><text x="135.3" y="1527.8" text-anchor="middle" textLength="15.5" lengthAdjust="spacingAndGlyphs">65</text><text x="203.9" y="1527.8" text-anchor="middle" textLength="15.5" lengthAdjust="spacingAndGlyphs">70</text><text x="272.4" y="1527.8" text-anchor="middle" textLength="15.5" lengthAdjust="spacingAndGlyphs">75</text><text x="341" y="1527.8" text-anchor="middle" textLength="15.5" lengthAdjust="spacingAndGlyphs">80</text></g>
<text class="ax" x="203.1" y="1547.3" text-anchor="middle" textLength="89" lengthAdjust="spacingAndGlyphs">Longitude</text>
<text class="ax" transform="translate(39.1 1406.2) rotate(-90) scale(1 1.33)" text-anchor="middle" textLength="59.5" lengthAdjust="spacingAndGlyphs">Latitude</text>
<text class="pl" x="356.1" y="1550.6">(<tspan class="pll">i</tspan>)</text>
<text class="sn" x="87.4" y="1322.5" textLength="59.8" lengthAdjust="spacingAndGlyphs">Autumn</text>
<clipPath id="cj"><path d="M537.6 1408.3 L542.7 1409.5 L547.2 1410.4 L552.7 1411.8 L557.7 1412.7 L563.7 1412.4 L570.5 1412.1 L575.7 1412.5 L581 1412.7 L583.3 1411 L589.7 1410.4 L595.4 1410 L604.7 1408.5 L612.3 1406.2 L612.9 1396.8 L619.8 1392.2 L630.3 1391.6 L632.7 1389.3 L645.5 1387.5 L651.3 1385.2 L652.5 1378.2 L656 1373.5 L666.5 1371.2 L666 1367.7 L661.8 1364.2 L667.7 1364.2 L677 1363 L678.2 1358.4 L685.2 1352.6 L685.2 1347.9 L680.5 1342.1 L686.4 1338.6 L693.3 1335.7 L700.3 1333.3 L704.8 1333.2 L717.4 1333.7 L724.2 1331.7 L733.9 1331.7 L738.8 1334.2 L743.6 1336.6 L744.6 1341 L748.5 1343.9 L753.3 1343.9 L759.2 1347.3 L767.9 1348.2 L772.8 1351.2 L775.7 1356.5 L780.5 1357.5 L785.4 1360.4 L783 1363.3 L783.4 1368.1 L788.3 1373 L790.2 1376.9 L788.3 1380.3 L784.4 1380.3 L781.5 1377.4 L772.8 1377.9 L769.8 1375.4 L763.1 1374.9 L757.2 1373 L752.4 1372.5 L745.6 1374.9 L742.7 1377.9 L736.8 1381.7 L729.1 1384.6 L725.2 1387.6 L726.2 1394.4 L722.3 1397.3 L717.3 1403.5 L708.8 1408.8 L705.6 1414.2 L700.2 1418.4 L693.8 1421.6 L688.5 1427.5 L678.9 1428.6 L673 1429.6 L670.3 1427.5 L666.1 1428.6 L659.6 1434.5 L656.3 1437.7 L657.4 1440.9 L663.9 1443 L665 1447.3 L666.1 1451.5 L671.4 1452.6 L673.5 1457.9 L677.8 1463.3 L676.7 1466.5 L672.5 1467 L665 1466.5 L657.4 1467.6 L646.7 1468.1 L643.5 1470.8 L638.2 1473.4 L632.9 1471.3 L626.4 1468.6 L623.2 1464.4 L619 1460.1 L616.8 1455.8 L611.7 1454.8 L602.7 1455.8 L595.4 1456.2 L585 1456.4 L580.4 1455.5 L570.5 1456.4 L558.2 1457.8 L549.5 1459 L548.6 1455.5 L550.7 1452 L551 1447.9 L553 1445.6 L558.2 1443 L570.2 1441 L570.5 1436.3 L564.1 1434.5 L563.8 1426.4 L561.1 1424.6 L554.2 1422.9 L548.3 1419.4 L543.1 1413Z"/></clipPath>
<g clip-path="url(#cj)">
<path d="M537.6 1408.3 L542.7 1409.5 L547.2 1410.4 L552.7 1411.8 L557.7 1412.7 L563.7 1412.4 L570.5 1412.1 L575.7 1412.5 L581 1412.7 L583.3 1411 L589.7 1410.4 L595.4 1410 L604.7 1408.5 L612.3 1406.2 L612.9 1396.8 L619.8 1392.2 L630.3 1391.6 L632.7 1389.3 L645.5 1387.5 L651.3 1385.2 L652.5 1378.2 L656 1373.5 L666.5 1371.2 L666 1367.7 L661.8 1364.2 L667.7 1364.2 L677 1363 L678.2 1358.4 L685.2 1352.6 L685.2 1347.9 L680.5 1342.1 L686.4 1338.6 L693.3 1335.7 L700.3 1333.3 L704.8 1333.2 L717.4 1333.7 L724.2 1331.7 L733.9 1331.7 L738.8 1334.2 L743.6 1336.6 L744.6 1341 L748.5 1343.9 L753.3 1343.9 L759.2 1347.3 L767.9 1348.2 L772.8 1351.2 L775.7 1356.5 L780.5 1357.5 L785.4 1360.4 L783 1363.3 L783.4 1368.1 L788.3 1373 L790.2 1376.9 L788.3 1380.3 L784.4 1380.3 L781.5 1377.4 L772.8 1377.9 L769.8 1375.4 L763.1 1374.9 L757.2 1373 L752.4 1372.5 L745.6 1374.9 L742.7 1377.9 L736.8 1381.7 L729.1 1384.6 L725.2 1387.6 L726.2 1394.4 L722.3 1397.3 L717.3 1403.5 L708.8 1408.8 L705.6 1414.2 L700.2 1418.4 L693.8 1421.6 L688.5 1427.5 L678.9 1428.6 L673 1429.6 L670.3 1427.5 L666.1 1428.6 L659.6 1434.5 L656.3 1437.7 L657.4 1440.9 L663.9 1443 L665 1447.3 L666.1 1451.5 L671.4 1452.6 L673.5 1457.9 L677.8 1463.3 L676.7 1466.5 L672.5 1467 L665 1466.5 L657.4 1467.6 L646.7 1468.1 L643.5 1470.8 L638.2 1473.4 L632.9 1471.3 L626.4 1468.6 L623.2 1464.4 L619 1460.1 L616.8 1455.8 L611.7 1454.8 L602.7 1455.8 L595.4 1456.2 L585 1456.4 L580.4 1455.5 L570.5 1456.4 L558.2 1457.8 L549.5 1459 L548.6 1455.5 L550.7 1452 L551 1447.9 L553 1445.6 L558.2 1443 L570.2 1441 L570.5 1436.3 L564.1 1434.5 L563.8 1426.4 L561.1 1424.6 L554.2 1422.9 L548.3 1419.4 L543.1 1413Z" fill="#bce2f6"/>
<path fill-rule="evenodd" d="M636.9 1475.2 639.8 1475.2 647.7 1470.6 678.3 1468.4 680.2 1462.6 673.5 1451.2 668.1 1449.4 665.8 1441.5 659.2 1438.4 667.3 1430.9 673.1 1432.1 689.9 1429.5 728 1396.1 727.9 1388.7 730.3 1386.8 752.7 1375 768.8 1377.8 772.5 1380.4 780.5 1380 784.4 1382.8 789.9 1382.3 792.3 1377.5 791.4 1377.9 791.3 1376 789.7 1375.5 789.6 1374.7 786 1373.4 779.9 1372.3 775 1368.4 775.7 1364.5 775.8 1352.7 770.6 1347.6 764.1 1362 766.7 1365 768.4 1365.9 763.4 1366.4 751.9 1365 750.5 1364.5 749.6 1363.3 752.4 1362 752.2 1360.7 750.7 1359.4 750.3 1358.2 753.2 1348 755.6 1342.9 749.3 1341.4 745.1 1334.6 734.3 1329.2 700 1330.8 678.6 1340.4 682.7 1351.4 676.2 1356.8 675 1360.7 660.1 1362.4 659.6 1365.3 663.6 1369.3 654.4 1371.6 649.1 1383.4 618.7 1390 610.8 1395.4 609.9 1404.3 580.2 1410.2 557.9 1410.2 538.2 1405.9 535.4 1407.1 535.8 1410 546.8 1421.4 561.4 1427.8 561.9 1435.7 567.9 1438.2 551.1 1444 546.1 1455.1 548 1461 611.6 1457.3 615.2 1458 625 1470.7ZM645.2 1400.3 645.7 1398.9 642.8 1396.3 643.1 1395.1 645.2 1394.7 648.4 1395.5 649.2 1396.3 650.2 1401.4 649 1402.7 646.3 1404 643.5 1404.8 641.9 1404.5 641.4 1404ZM622.2 1397.6 622.2 1397.6 622.2 1397.6ZM623.3 1396.3 628.7 1394.1 630.7 1395.1 630.4 1396.3 623.8 1397.2Z" fill="#a9daf4"/>
<path fill-rule="evenodd" d="M636.9 1475.2 639.8 1475.2 647.7 1470.6 678.3 1468.4 680.2 1462.6 673.5 1451.2 668.1 1449.4 665.8 1441.5 659.2 1438.4 667.3 1430.9 673.1 1432.1 689.9 1429.5 728 1396.1 727.9 1388.7 730.3 1386.8 752.7 1375 768.8 1377.8 772.5 1380.4 775.3 1380.2 776.9 1376 773.3 1371.2 771.7 1369.9 766.7 1368.7 747 1366.2 744.7 1364.5 741 1359.4 739.8 1356.9 740.1 1355.6 746.6 1349.3 752.4 1342.1 749.3 1341.4 745.1 1334.6 734.3 1329.2 700 1330.8 678.6 1340.4 682.7 1351.4 676.2 1356.8 675 1360.7 660.1 1362.4 659.6 1365.3 663.6 1369.3 654.4 1371.6 649.1 1383.4 618.7 1390 610.8 1395.4 610.4 1399.8 613.7 1397.6 630.4 1389.8 633.7 1388.6 636.9 1388.6 651.8 1392.5 653.4 1394.8 654.5 1401.4 654.4 1402.7 652.9 1404 641.4 1406.5 638.8 1405.2 638.1 1404 640.5 1401.4 640.5 1400.2 638.6 1398.9 627.1 1398.2 618.9 1401.1 613.9 1401 610.3 1400.3 609.9 1404.3 580.2 1410.2 557.9 1410.2 538.2 1405.9 535.4 1407.1 535.8 1410 546.8 1421.4 561.4 1427.8 561.9 1435.7 567.9 1438.2 551.1 1444 546.1 1455.1 548 1461 611.6 1457.3 615.2 1458 625 1470.7ZM697 1345.5 696.6 1344.2 697.7 1343.1 699.4 1343.1 702.7 1345.2 702.8 1346.7 701 1347.6 698.4 1346.7Z" fill="#94cff0"/>
<path fill-rule="evenodd" d="M636.9 1475.2 639.8 1475.2 647.7 1470.6 678.3 1468.4 680.2 1462.6 673.5 1451.2 668.1 1449.4 665.8 1441.5 659.2 1438.4 667.3 1430.9 673.1 1432.1 689.9 1429.5 728 1396.1 727.9 1388.7 730.3 1386.8 752.7 1375 768.8 1377.8 771.4 1379.7 772.5 1378.5 773.3 1377.3 773.2 1376 767.6 1370.9 756.9 1368.6 742.5 1367.1 740.2 1363.3 737.8 1360.7 731.2 1355.6 724.2 1351.8 724.1 1350.5 730.6 1349.3 736.1 1346.7 740.4 1340.4 740.4 1339.1 742.1 1337.8 742.1 1336.6 743.7 1335.3 743.7 1333.9 734.3 1329.2 724.8 1329.7 713.5 1344.2 712.5 1346.5 710.9 1346.9 707.6 1346.3 706.3 1346.7 704.3 1348.9 702.7 1349.6 697.7 1349 693.8 1346.7 690.8 1344.2 690.6 1335 678.6 1340.4 682.7 1351.4 676.2 1356.8 675 1360.7 660.1 1362.4 659.6 1365.3 663.6 1369.3 654.4 1371.6 649.1 1383.4 642.9 1384.7 643.8 1386.2 653.4 1389.3 655 1390.5 656 1393.8 657.1 1402.7 656.7 1404.9 655 1405.8 650.1 1406.1 643.5 1407.6 640.2 1407.8 636.5 1405.2 635.3 1404 634.9 1401.4 633.7 1400.6 627.1 1399.3 615.6 1404 610 1403.7 609.9 1404.3 580.2 1410.2 557.9 1410.2 538.2 1405.9 535.4 1407.1 535.8 1410 546.8 1421.4 561.4 1427.8 561.9 1435.7 567.9 1438.2 551.1 1444 546.1 1455.1 548 1461 611.6 1457.3 615.2 1458 625 1470.7ZM610.8 1395.9 617.6 1392.5 624.8 1388.7 618.7 1390 610.8 1395.4Z" fill="#82c0e8"/>
<path fill-rule="evenodd" d="M636.9 1475.2 639.8 1475.2 647.7 1470.6 678.3 1468.4 680.2 1462.6 673.5 1451.2 668.1 1449.4 665.8 1441.5 659.2 1438.4 667.3 1430.9 673.1 1432.1 689.9 1429.5 728 1396.1 727.9 1388.7 730.3 1386.8 752.7 1375 768.8 1377.8 770.1 1378.7 770.8 1377.3 770.1 1376 765.2 1372.2 762.2 1370.9 753.6 1369.2 742.1 1368.5 740.4 1367.9 739.3 1367.1 737 1363.3 734.3 1360.7 724.7 1354.4 719.1 1351.4 709.2 1349 707.6 1349.2 704.3 1351.1 702.7 1351.3 697.7 1350.9 694.4 1349.8 689.1 1346.7 687 1344.2 686.7 1342.9 687.9 1340.4 688.1 1336.1 678.6 1340.4 682.7 1351.4 676.2 1356.8 675 1360.7 660.1 1362.4 659.6 1365.3 663.6 1369.3 654.4 1371.6 649.6 1382.4 650.2 1383.6 656 1386.2 657.4 1388.7 658.8 1404 658.3 1405.6 656.7 1407.2 655 1407.7 648.4 1407.8 640.2 1409.1 636.9 1407.5 630.7 1401.4 627.1 1400.4 613.9 1406.6 612.3 1406.9 607.4 1406.3 599.8 1406.3 580.2 1410.2 557.9 1410.2 538.2 1405.9 535.4 1407.1 535.8 1410 546.8 1421.4 561.4 1427.8 561.9 1435.7 567.9 1438.2 551.1 1444 546.1 1455.1 548 1461 611.6 1457.3 615.2 1458 625 1470.7ZM647.9 1411.6 650.1 1411.2 650.8 1411.6 651.8 1412.9 651.4 1414.1 648.4 1414.8 646.9 1414.1 646.7 1412.9ZM725.7 1347 728.4 1340.4 734.3 1329.2 728.3 1329.5 716.7 1345.5 718.1 1346.7 723.9 1348Z" fill="#6fafe0"/>
<path fill-rule="evenodd" d="M636.9 1475.2 639.8 1475.2 647.7 1470.6 678.3 1468.4 680.2 1462.6 673.5 1451.2 668.1 1449.4 665.8 1441.5 659.2 1438.4 667.3 1430.9 673.1 1432.1 689.9 1429.5 728 1396.1 727.9 1388.7 730.3 1386.8 752.7 1375 768.2 1377.7 768.2 1377.3 761.8 1372.6 758.5 1371.3 750.3 1369.8 742.1 1369.4 738.8 1368.4 733.9 1363.1 719.1 1352.9 710.9 1351.6 704.3 1352.8 696.1 1352.3 687.9 1349.8 684.6 1347.5 681.2 1347.6 682.7 1351.4 676.2 1356.8 675 1360.7 660.1 1362.4 659.9 1365.6 663.6 1369.3 658.5 1370.6 656.2 1379.8 656.6 1381.1 658.3 1382.7 659.4 1386.2 660.1 1404 658.3 1407.7 656.7 1409.1 652.7 1410.3 653.2 1414.1 651.7 1415.5 648.4 1416 646 1415.4 645 1414.1 646 1410.3 638.6 1410.1 630.4 1403.6 627.1 1402 613.9 1408.5 609 1410.1 600.8 1408.8 586.2 1409 580.2 1410.2 557.9 1410.2 538.2 1405.9 535.4 1407.1 535.8 1410 546.8 1421.4 561.4 1427.8 561.9 1435.7 567.9 1438.2 551.1 1444 546.1 1455.1 548 1461 611.6 1457.3 615.2 1458 625 1470.7ZM607.8 1429.4 610.7 1427.5 611.4 1428.1 612.6 1430.7 612.3 1433.7 610.7 1434.5 606.3 1433.2 606 1432ZM664.4 1373.4 668.2 1362.8 669.8 1361.5 671.4 1362.2 672.4 1364.5 669.8 1373.6 668.2 1376 666.5 1376.7 664.3 1376Z" fill="#5d9dd8"/>
<path fill-rule="evenodd" d="M636.9 1475.2 639.8 1475.2 647.7 1470.6 678.3 1468.4 680.2 1462.6 673.5 1451.2 668.1 1449.4 665.8 1441.5 659.2 1438.4 667.3 1430.9 673.1 1432.1 689.9 1429.5 728 1396.1 727.9 1388.7 730.3 1386.8 752.7 1375 764.8 1377.1 756.3 1372.2 750.3 1370.8 738.8 1369.4 736.9 1368.4 733.9 1365.3 729.2 1363.3 725.7 1360.8 720.9 1355.6 719.1 1354.4 710.9 1353.9 701 1354.4 681.2 1352.7 676.2 1356.8 675 1360.7 675.6 1363.3 669.8 1375.8 668.2 1377.6 666.5 1378.5 661.6 1379.9 661.1 1381.1 661.2 1404 659.9 1407.2 658.3 1409.8 655.1 1412.9 654.2 1415.4 651.8 1416.7 648.4 1417 645.2 1416.5 643.8 1415.4 643.5 1412.7 641.9 1411.6 638.6 1411.5 636.9 1410.9 628.7 1404.8 627.1 1404.8 625.4 1406.1 613.9 1417.9 613.4 1416.7 613.9 1412.3 612.3 1411.6 605.7 1413.4 600.8 1411.7 597.5 1411.3 565.4 1411.6 563 1411 562.5 1410.2 557.9 1410.2 538.2 1405.9 535.4 1407.1 535.8 1410 546.8 1421.4 561.4 1427.8 561.9 1435.7 567.9 1438.2 551.1 1444 546.1 1455.1 548 1461 611.6 1457.3 615.2 1458 625 1470.7ZM612.3 1438.6 599.2 1435.8 597.5 1434.5 597.8 1433.2 605.4 1424.3 612.3 1418.4 613.9 1420.3 614.9 1425.6 615.8 1433.2 615.2 1437 613.9 1438.5Z" fill="#4e8cce"/>
<path fill-rule="evenodd" d="M636.9 1475.2 639.8 1475.2 647.7 1470.6 678.3 1468.4 680.2 1462.6 673.5 1451.2 668.1 1449.4 665.8 1441.5 659.2 1438.4 667.3 1430.9 673.1 1432.1 689.9 1429.5 728 1396.1 727.9 1388.7 730.3 1386.8 752.7 1375 759.3 1376.2 753.6 1372.9 748.7 1371.7 738.8 1370.3 732.2 1366 727.3 1365.2 723 1362 721.4 1358.2 720.4 1356.9 717.4 1355.4 707.6 1356.2 694.4 1355.8 678 1357.2 677.2 1358.2 678.2 1362 677.9 1363.3 674.7 1368 671.5 1374.7 668.2 1379.1 663.7 1381.1 663 1382.3 662.8 1392.5 662.2 1396.3 662.3 1404 659.9 1409.6 656 1415.4 654.9 1416.7 653.4 1417.4 648.4 1418 645.2 1417.8 642.8 1416.7 641.6 1414.1 640.2 1413.1 636.9 1412.5 630.4 1407.8 628.7 1407.6 627.1 1408.6 618.2 1419.2 617.6 1423 618.4 1433.2 618.2 1438.3 617.2 1442 615.6 1442.7 597.5 1439.3 589.4 1437 588.6 1435.8 589.6 1434.5 602.8 1419.2 602.9 1418 597.5 1414.7 592.6 1413.8 564.7 1414.4 559 1415.4 558.1 1418.1 553.2 1417.1 551.3 1418 551.1 1420.5 550.3 1422.9 561.4 1427.8 561.9 1435.7 567.9 1438.2 551.1 1444 546.1 1455.1 548 1461 611.6 1457.3 615.2 1458 625 1470.7Z" fill="#488cb8"/>
<path fill-rule="evenodd" d="M636.9 1475.2 639.8 1475.2 647.7 1470.6 678.3 1468.4 680.2 1462.6 673.5 1451.2 668.1 1449.4 665.8 1441.5 659.2 1438.4 667.3 1430.9 673.1 1432.1 689.9 1429.5 728 1396.1 727.9 1388.7 730.3 1386.8 752.7 1375 754 1375.3 748.7 1373 738.8 1371.1 732.2 1367.4 727.3 1367.1 724 1366 720.7 1363.5 719.5 1358.2 717.4 1357 707.6 1358.7 701 1357.9 692.8 1358.2 682.9 1360.2 681.3 1361.3 674.7 1370.5 669.8 1378.8 668.2 1380.5 664.9 1382.5 664.3 1384.9 664.4 1392.5 663.4 1397.6 663.4 1404 660.8 1410.3 656.7 1416.8 653.4 1418.5 645.2 1419 641.9 1417.7 638.6 1414.5 630.4 1410.4 628.2 1411.6 622.7 1418 621.6 1420.5 620.6 1425.6 621.2 1435.8 620.6 1443.4 619.7 1445.9 618.9 1446.6 613.9 1446.2 586 1441 571.2 1442.4 569.6 1442 566.2 1438.7 551.1 1444 546.1 1455.1 548 1461 611.6 1457.3 615.2 1458 625 1470.7ZM565.2 1437 564.7 1436.3 561.5 1429.2 561.9 1435.7ZM560.3 1427.3 556.4 1424.3 554.8 1423.8 553.9 1424.5ZM589.3 1425.7 593.9 1420.5 594.4 1419.2 593.9 1418 592.6 1417.1 589.3 1416.4 582.7 1416.5 577.8 1416.8 573.8 1418 574 1419.2 576.7 1421.8 584.4 1426.3 586 1426.9 587.7 1426.8Z" fill="#46939e"/>
<path fill-rule="evenodd" d="M636.9 1475.2 639.8 1475.2 647.7 1470.6 678.3 1468.4 680.2 1462.6 673.5 1451.2 668.1 1449.4 665.8 1441.5 659.2 1438.4 667.3 1430.9 673.1 1432.1 689.9 1429.5 728 1396.1 727.9 1388.7 730.3 1386.8 751 1375.9 747 1374.1 737.2 1371.5 730.6 1368.2 725.7 1368.1 722 1367.1 718.1 1364.5 717.4 1360.4 715.9 1359.4 707.6 1361.5 697.7 1360.1 691.2 1360.8 686.8 1362 682.9 1364.3 678 1368.9 669.8 1380.3 666.2 1383.6 665.5 1387.4 666 1392.5 664.8 1397.6 664.5 1404 661.6 1411.3 657.2 1418 653.4 1419.5 646.8 1420.1 643.5 1419.8 640.2 1418.2 636.9 1415.7 632 1413.3 630.4 1413.7 626.5 1418 625.3 1420.5 623.8 1428.1 623.4 1445.9 623.1 1448.5 622.2 1450.1 618.9 1450.4 582.7 1444.5 567.9 1446.6 566.3 1446.3 564.7 1444.9 562.7 1439.9 551.1 1444 546.1 1455.1 548 1461 611.6 1457.3 615.2 1458 625 1470.7Z" fill="#479d84"/>
<path fill-rule="evenodd" d="M636.9 1475.2 639.8 1475.2 647.7 1470.6 678.3 1468.4 680.2 1462.6 673.5 1451.2 668.1 1449.4 665.8 1441.5 659.2 1438.4 667.3 1430.9 673.1 1432.1 689.9 1429.5 728 1396.1 727.9 1388.7 730.3 1386.8 749 1377 744 1374.7 737.2 1372.6 730.6 1369.3 722.4 1368.9 717.5 1367.1 713 1364.5 705.9 1364.3 697.7 1362.6 691.2 1363.5 682.9 1367.7 680.3 1369.6 676.4 1373.4 667.3 1384.9 666.9 1387.4 667.6 1392.5 666.1 1398.9 665.6 1404 662.6 1411.6 658.3 1418.5 655 1420.3 645.2 1421.2 641.9 1420.6 633.7 1416.2 632 1416.3 630.2 1418 629 1420.5 626.8 1432 626.1 1449.8 625.3 1453.6 623.8 1454.3 622.2 1454.3 581.1 1448.2 577.8 1448.2 571.2 1449.1 566.3 1448.7 563 1447.2 560.4 1440.8 551.1 1444 546.1 1455.1 548 1461 611.6 1457.3 615.2 1458 625 1470.7Z" fill="#46a767"/>
<path fill-rule="evenodd" d="M636.9 1475.2 639.8 1475.2 647.7 1470.6 678.3 1468.4 680.2 1462.6 673.5 1451.2 668.1 1449.4 665.8 1441.5 659.2 1438.4 667.3 1430.9 673.1 1432.1 689.9 1429.5 728 1396.1 727.9 1388.7 730.3 1386.8 747.1 1378 737.2 1374.1 730.6 1370.6 720.7 1370.1 712.5 1367.5 697.7 1365.1 694.4 1365.4 684.1 1369.6 676.4 1376.1 669.2 1384.9 668.6 1387.4 669.3 1392.5 666.7 1404 663.2 1412.9 658.3 1420.2 656.7 1421.2 655 1421.5 645.2 1422.2 641.9 1421.9 635.3 1419 633.7 1419.2 632.8 1420.5 629.2 1435.8 628.7 1455.2 627.9 1457.4 627.1 1458 577.8 1451.7 571.2 1451.5 563 1450.3 561.4 1449.3 558.1 1442.6 556.9 1442 555.5 1443.4 553.2 1444.5 551.1 1444.1 546.1 1455.1 548 1461 611.6 1457.3 615.2 1458 625 1470.7Z" fill="#48b14b"/>
<path fill-rule="evenodd" d="M567.5 1458.7 568.7 1457.4 571.2 1457.1 577.8 1458.4 584.4 1458 587.7 1458.7 592.9 1457.4 561.4 1452.2 559.3 1451 556.4 1445.9 550.8 1444.7 546.1 1455.1 548 1461 567.8 1459.9ZM636.9 1475.2 639.8 1475.2 647.7 1470.6 660.4 1469.6 663.2 1464.9 664.9 1463.5 667.9 1462.5 669.7 1461.2 675.9 1455.4 673.5 1451.2 668.1 1449.4 665.8 1441.5 659.2 1438.4 667.3 1430.9 673.1 1432.1 689.9 1429.5 728 1396.1 727.9 1388.7 730.3 1386.8 745.4 1378.9 735.5 1375 728.9 1371.7 719.1 1371.3 710.9 1369.1 697.7 1367.7 694.4 1367.9 687.9 1370 678.1 1377.3 673.1 1382.8 670.9 1386.2 670.9 1392.5 667.8 1404 665.1 1411.6 660.1 1420.5 658.8 1426.9 658.3 1427.3 656.6 1424.3 654.6 1423 643.5 1423.3 636.9 1421.5 635.3 1422.1 631.3 1435.8 631.9 1440.9 631.9 1445.9 631.6 1457.4 630.9 1461.2 630.4 1462 628.7 1462.4 617.4 1460.8 625 1470.7Z" fill="#6abb4e"/>
<path fill-rule="evenodd" d="M565.8 1459.9 565.2 1458.7 565.5 1456.1 564.7 1455.3 558.1 1453.6 556.9 1452.3 554.9 1447.2 550.4 1445.5 546.1 1455.1 548 1461ZM659 1469.7 661.1 1466.3 662 1462.5 665.9 1459.9 667.3 1456.1 672.7 1451 668.1 1449.4 665.8 1441.5 664.9 1441.1 664.9 1449.1 663.2 1449.4 656.7 1435.1 653.4 1425.4 651.7 1424.4 650.1 1424.2 641.9 1424.3 638.6 1423.7 636.9 1424.2 632.9 1435.8 634.6 1442.1 634.7 1458.7 635.3 1461.1 636.9 1461.9 642.1 1462.5 643.5 1463.5 646.2 1471.4 647.7 1470.6ZM743.7 1379.8 733.8 1376 728.8 1373.4 725.7 1372.7 717.4 1372.5 709.2 1370.7 704.3 1370.3 692.8 1370.5 687.9 1372.4 679.8 1378.5 674.5 1384.9 667.4 1409.1 662.6 1419.2 663.8 1423 664.5 1433.5 667.3 1430.9 673.1 1432.1 689.9 1429.5 728 1396.1 727.9 1388.7 730.3 1386.8Z" fill="#8dc652"/>
<path fill-rule="evenodd" d="M657.9 1469.8 660.6 1465 659.9 1463.3 658.3 1462.6 648.4 1462.1 646.8 1462.6 645.4 1463.8 647.4 1470.7ZM645.2 1460.9 655 1460.9 659.9 1460.4 661.6 1459.8 662.5 1458.7 662.5 1457.4 659.3 1451 653 1435.8 650.9 1426.9 648.4 1425.7 640.2 1425.5 638.6 1426 637.9 1426.9 635.1 1433.2 634.5 1435.8 637.1 1442.1 638.2 1458.7 640.2 1460.2ZM742 1380.7 725.7 1374.2 715.8 1373.6 705.9 1372.2 692.8 1372.6 689.5 1373.9 684.5 1377.3 681.4 1379.8 678.2 1383.6 677 1388.7 673.2 1395.1 668.6 1409.1 664.6 1418 664.9 1419.3 667.5 1421.8 668.4 1431.1 673.1 1432.1 689.9 1429.5 728 1396.1 727.9 1388.7 730.3 1386.8Z" fill="#b2d156"/>
<path fill-rule="evenodd" d="M656.9 1469.9 659.3 1465 658.3 1463.8 648.4 1463.6 646.8 1464.7 648.4 1470.5ZM650.1 1459.3 655 1459.3 658.3 1458.7 659.2 1457.4 659.1 1456.1 655.1 1449.8 650.7 1439.6 648.4 1428.3 645.2 1427.1 640.2 1427.3 638.6 1428.9 636 1434.5 636.1 1435.8 639.7 1443.4 641.3 1456.1 641.8 1457.4 643.5 1458.4ZM679.7 1430.9 686.2 1423.6 689.5 1420.9 691.2 1420.7 693.4 1424.3 694.7 1425.3 706.5 1415 714.8 1406.5 722.1 1401.3 728 1396.1 727.9 1388.7 730.3 1386.8 740.3 1381.6 724 1375.4 707.6 1374 692.8 1374.6 689.5 1376.2 684.6 1379.7 680.9 1383.6 679.8 1388.7 679 1390 674.6 1395.1 669.7 1409.1 666.4 1416.7 666.5 1418.1 670.7 1420.5 671.6 1421.8 672.5 1432Z" fill="#d2db58"/>
<path fill-rule="evenodd" d="M655 1470 656.9 1466.3 656.7 1465.5 650.1 1465.2 649.1 1466.3 650.4 1470.4ZM655 1457.3 655.8 1456.1 655.6 1454.8 650.2 1447.2 648 1442.1 646.5 1430.7 645.5 1429.4 643.5 1428.8 640.2 1429.3 638.3 1432 637.5 1434.5 642.1 1443.4 644.7 1454.8 645.8 1456.1 648.4 1457 651.7 1457.6ZM678 1426 683.8 1420.5 687.9 1417.9 696.1 1415.3 699.4 1415.1 701 1415.6 702.7 1415 711.1 1407.8 725 1398.7 728 1396.1 727.9 1388.7 730.3 1386.8 738.5 1382.5 724 1376.8 709.2 1375.5 696.1 1375.7 692.8 1376.8 687.6 1379.8 683.3 1383.6 682.5 1384.9 681.2 1390 676.4 1394.6 675.2 1396.3 668.1 1416.7 669.2 1418 675.1 1420.5 676.4 1424.8 677.1 1425.6Z" fill="#f2e45a"/>
<path fill-rule="evenodd" d="M651.5 1453.6 650.1 1451.4 648.4 1450.3 647.9 1451 648.4 1453.6 650.1 1454.3ZM644.4 1439.6 644.3 1432 643.5 1431 641.9 1430.6 639.8 1432 639.1 1434.5 641.9 1439.1 643.5 1440.6ZM679.7 1419 705.9 1409.5 725.7 1397.6 728 1396.1 727.9 1388.7 730.3 1386.8 736.8 1383.4 722.4 1377.7 712.5 1376.8 697.7 1377.2 689.5 1380.7 684.6 1384.9 683.1 1390 681.3 1392.5 678 1394.8 676.4 1396.7 674.3 1401.4 670.5 1414.1 670.3 1415.4 671.1 1416.7Z" fill="#f5cd51"/>
<path fill-rule="evenodd" d="M681.3 1416.4 697.7 1411.2 709.2 1406.6 715.8 1403 728 1395.4 727.9 1388.7 735 1384.4 722.4 1378.9 714.2 1378 699.4 1378.6 689.7 1382.3 686 1386.2 684.8 1390 682.9 1393 677.2 1397.6 674.4 1405.2 673 1411.6 673.1 1413.2 674.7 1414.4Z" fill="#f5b447"/>
<path fill-rule="evenodd" d="M684.6 1413.9 696.1 1410.4 709.2 1405.7 715.8 1402.4 728 1394.6 727.9 1388.7 733.2 1385.3 722.4 1380.2 717.4 1379.3 701 1379.9 691.2 1382.9 688.1 1386.2 683.3 1395.1 678 1398.6 675.9 1404 675.2 1409.1 676.4 1411.6 681.3 1414Z" fill="#f49c3d"/>
<path fill-rule="evenodd" d="M686.2 1411.6 697.7 1408.6 710.9 1404.2 714.2 1402.6 728 1393.7 727.9 1388.7 731.3 1386.3 725.7 1382.7 719.1 1380.5 701 1381.2 692.3 1383.6 689.9 1386.2 684.6 1396 682.9 1397.7 679.7 1399 678 1401.1 677.5 1402.7 677.2 1406.5 678.3 1409.1 682.9 1411.8Z" fill="#f17e31"/>
<path fill-rule="evenodd" d="M686.2 1409.6 696.1 1407.8 712.6 1402.7 719.2 1398.9 728 1392.8 727.9 1388.7 729.7 1387.3 725.4 1383.6 719.1 1381.5 705.9 1382.7 699.4 1382.6 692.8 1384.6 691.5 1386.2 689.3 1391.2 685.4 1397.6 684.3 1398.9 679.7 1401.3 679.3 1402.7 679.7 1405.1 680.9 1406.5 684 1409.1Z" fill="#ee672b"/>
<path fill-rule="evenodd" d="M689.5 1407.6 694.4 1406.8 709.2 1403 713.1 1401.4 719.1 1398 726.9 1392.5 727.9 1391.6 728.2 1388.4 725.4 1384.9 720.7 1382.7 707.6 1384.3 699.4 1383.8 694.4 1384.9 692.9 1386.2 692.3 1387.4 691.6 1391.2 690.4 1393.8 686.2 1399.6 683.3 1402.7 683.7 1404 686.4 1406.5Z" fill="#e8582a"/>
<path fill-rule="evenodd" d="M693.3 1405.2 710.3 1401.4 717.4 1397.9 722.4 1394.8 725.4 1392.5 726.5 1391.2 726.7 1390 723.7 1384.9 720.7 1383.5 710.9 1385.8 699.4 1385 696.1 1385.5 694.6 1386.2 693.7 1387.4 693.4 1393.8 688.9 1401.4 689.5 1404 691.2 1405.2Z" fill="#e4462a"/>
<path fill-rule="evenodd" d="M704.3 1401.9 707.6 1401.1 712.5 1398.3 717.4 1396.6 723.8 1392.5 724.6 1391.2 724.5 1390 722.4 1385.3 720.7 1384.5 719.1 1384.6 714.2 1387 710.9 1387.6 699.4 1386.3 697.7 1386.3 695.3 1387.4 694.9 1390 696.1 1398.1 701.2 1401.4Z" fill="#de352a"/>
<path fill-rule="evenodd" d="M705.3 1400.2 710.9 1396.8 719.1 1394.3 721.9 1392.5 722.6 1391.2 722.4 1390 721 1386.2 719.1 1386 715.8 1388 712.5 1389.2 699.4 1387.9 697.7 1388 696.8 1388.7 697.4 1391.2 700.5 1395.1 701.8 1398.9 703.5 1400.2Z" fill="#d62528"/>
<path fill-rule="evenodd" d="M709.2 1394.4 715.8 1392.5 716.6 1391.2 707.6 1391.5 706.6 1392.5 707.6 1394Z" fill="#ca1e26"/>
<path d="M690 1329 L695.3 1334.5 L700 1338.7 L709.7 1347.5 L724.3 1348 L738.8 1359.1 L751.5 1359.1 L765 1368.8 L779.6 1358.2 L800 1345 L800 1320 L690 1320Z" fill="#fff"/>
</g>
<path d="M537.6 1408.3 L542.7 1409.5 L547.2 1410.4 L552.7 1411.8 L557.7 1412.7 L563.7 1412.4 L570.5 1412.1 L575.7 1412.5 L581 1412.7 L583.3 1411 L589.7 1410.4 L595.4 1410 L604.7 1408.5 L612.3 1406.2 L612.9 1396.8 L619.8 1392.2 L630.3 1391.6 L632.7 1389.3 L645.5 1387.5 L651.3 1385.2 L652.5 1378.2 L656 1373.5 L666.5 1371.2 L666 1367.7 L661.8 1364.2 L667.7 1364.2 L677 1363 L678.2 1358.4 L685.2 1352.6 L685.2 1347.9 L680.5 1342.1 L686.4 1338.6 L693.3 1335.7 L700.3 1333.3 L704.8 1333.2 L717.4 1333.7 L724.2 1331.7 L733.9 1331.7 L738.8 1334.2 L743.6 1336.6 L744.6 1341 L748.5 1343.9 L753.3 1343.9 L759.2 1347.3 L767.9 1348.2 L772.8 1351.2 L775.7 1356.5 L780.5 1357.5 L785.4 1360.4 L783 1363.3 L783.4 1368.1 L788.3 1373 L790.2 1376.9 L788.3 1380.3 L784.4 1380.3 L781.5 1377.4 L772.8 1377.9 L769.8 1375.4 L763.1 1374.9 L757.2 1373 L752.4 1372.5 L745.6 1374.9 L742.7 1377.9 L736.8 1381.7 L729.1 1384.6 L725.2 1387.6 L726.2 1394.4 L722.3 1397.3 L717.3 1403.5 L708.8 1408.8 L705.6 1414.2 L700.2 1418.4 L693.8 1421.6 L688.5 1427.5 L678.9 1428.6 L673 1429.6 L670.3 1427.5 L666.1 1428.6 L659.6 1434.5 L656.3 1437.7 L657.4 1440.9 L663.9 1443 L665 1447.3 L666.1 1451.5 L671.4 1452.6 L673.5 1457.9 L677.8 1463.3 L676.7 1466.5 L672.5 1467 L665 1466.5 L657.4 1467.6 L646.7 1468.1 L643.5 1470.8 L638.2 1473.4 L632.9 1471.3 L626.4 1468.6 L623.2 1464.4 L619 1460.1 L616.8 1455.8 L611.7 1454.8 L602.7 1455.8 L595.4 1456.2 L585 1456.4 L580.4 1455.5 L570.5 1456.4 L558.2 1457.8 L549.5 1459 L548.6 1455.5 L550.7 1452 L551 1447.9 L553 1445.6 L558.2 1443 L570.2 1441 L570.5 1436.3 L564.1 1434.5 L563.8 1426.4 L561.1 1424.6 L554.2 1422.9 L548.3 1419.4 L543.1 1413Z" fill="none" stroke="#5d5ef2" stroke-width="1.15" stroke-linejoin="round"/>
<rect x="526.6" y="1300.3" width="273.8" height="212" fill="none" stroke="#333" stroke-width="1.6"/>
<path d="M595 1300.3v3.2M595 1512.3v-3.2M663.5 1300.3v3.2M663.5 1512.3v-3.2M732 1300.3v3.2M732 1512.3v-3.2M526.6 1353.3h3.2M800.4 1353.3h-3.2M526.6 1406.3h3.2M800.4 1406.3h-3.2M526.6 1459.3h3.2M800.4 1459.3h-3.2" stroke="#333" stroke-width="1.5" fill="none"/>
<g class="tl"><text x="521.4" y="1305.1" text-anchor="end" textLength="15.5" lengthAdjust="spacingAndGlyphs">40</text><text x="521.4" y="1358.1" text-anchor="end" textLength="15.5" lengthAdjust="spacingAndGlyphs">35</text><text x="521.4" y="1411.1" text-anchor="end" textLength="15.5" lengthAdjust="spacingAndGlyphs">30</text><text x="521.4" y="1464.1" text-anchor="end" textLength="15.5" lengthAdjust="spacingAndGlyphs">25</text><text x="521.4" y="1517.1" text-anchor="end" textLength="15.5" lengthAdjust="spacingAndGlyphs">20</text><text x="526.6" y="1527.8" text-anchor="middle" textLength="15.5" lengthAdjust="spacingAndGlyphs">60</text><text x="595" y="1527.8" text-anchor="middle" textLength="15.5" lengthAdjust="spacingAndGlyphs">65</text><text x="663.5" y="1527.8" text-anchor="middle" textLength="15.5" lengthAdjust="spacingAndGlyphs">70</text><text x="732" y="1527.8" text-anchor="middle" textLength="15.5" lengthAdjust="spacingAndGlyphs">75</text><text x="800.4" y="1527.8" text-anchor="middle" textLength="15.5" lengthAdjust="spacingAndGlyphs">80</text></g>
<text class="ax" x="662.9" y="1547.3" text-anchor="middle" textLength="89" lengthAdjust="spacingAndGlyphs">Longitude</text>
<text class="ax" transform="translate(498.9 1406.3) rotate(-90) scale(1 1.33)" text-anchor="middle" textLength="59.5" lengthAdjust="spacingAndGlyphs">Latitude</text>
<text class="pl" x="811.3" y="1550.6">(<tspan class="pll">j</tspan>)</text>
<text class="sn" x="546.7" y="1322.5" textLength="59.7" lengthAdjust="spacingAndGlyphs">Autumn</text>
<linearGradient id="cbar" x1="0" y1="1" x2="0" y2="0"><stop offset="0.0000" stop-color="#f7fbfe"/><stop offset="0.0588" stop-color="#d8edf9"/><stop offset="0.1176" stop-color="#b3def5"/><stop offset="0.1529" stop-color="#9ad4f2"/><stop offset="0.2000" stop-color="#7cbbe6"/><stop offset="0.2471" stop-color="#5f9fd9"/><stop offset="0.2882" stop-color="#4a87cb"/><stop offset="0.3294" stop-color="#4690a6"/><stop offset="0.3765" stop-color="#47a07c"/><stop offset="0.4235" stop-color="#45b04b"/><stop offset="0.4706" stop-color="#7bc050"/><stop offset="0.5176" stop-color="#b6d256"/><stop offset="0.5765" stop-color="#f5e55a"/><stop offset="0.6235" stop-color="#f5bb4a"/><stop offset="0.6647" stop-color="#f49a3c"/><stop offset="0.7059" stop-color="#f06e2b"/><stop offset="0.7529" stop-color="#e8572a"/><stop offset="0.8000" stop-color="#e0392a"/><stop offset="0.8471" stop-color="#d42128"/><stop offset="0.8941" stop-color="#bd1b24"/><stop offset="0.9412" stop-color="#a8191f"/><stop offset="1.0000" stop-color="#8e1a1e"/></linearGradient>
<rect x="937.2" y="19.0" width="26.199999999999932" height="390.0" fill="url(#cbar)" stroke="#555" stroke-width="1.3"/>
<path d="M963.4 317.2h-3.5M963.4 225.5h-3.5M963.4 133.7h-3.5M963.4 41.9h-3.5" stroke="#333" stroke-width="1.3"/>
<text class="cbt" x="975.6" y="418.6" textLength="13" lengthAdjust="spacingAndGlyphs">0</text>
<text class="cbt" x="975.6" y="326.8" textLength="37" lengthAdjust="spacingAndGlyphs">0.2</text>
<text class="cbt" x="975.6" y="235.1" textLength="37" lengthAdjust="spacingAndGlyphs">0.4</text>
<text class="cbt" x="975.6" y="143.3" textLength="37" lengthAdjust="spacingAndGlyphs">0.6</text>
<text class="cbt" x="975.6" y="51.5" textLength="37" lengthAdjust="spacingAndGlyphs">0.8</text>
<line x1="811" y1="979" x2="811" y2="1193" stroke="#f2f2f2" stroke-width="1"/>
</svg></body></html>
